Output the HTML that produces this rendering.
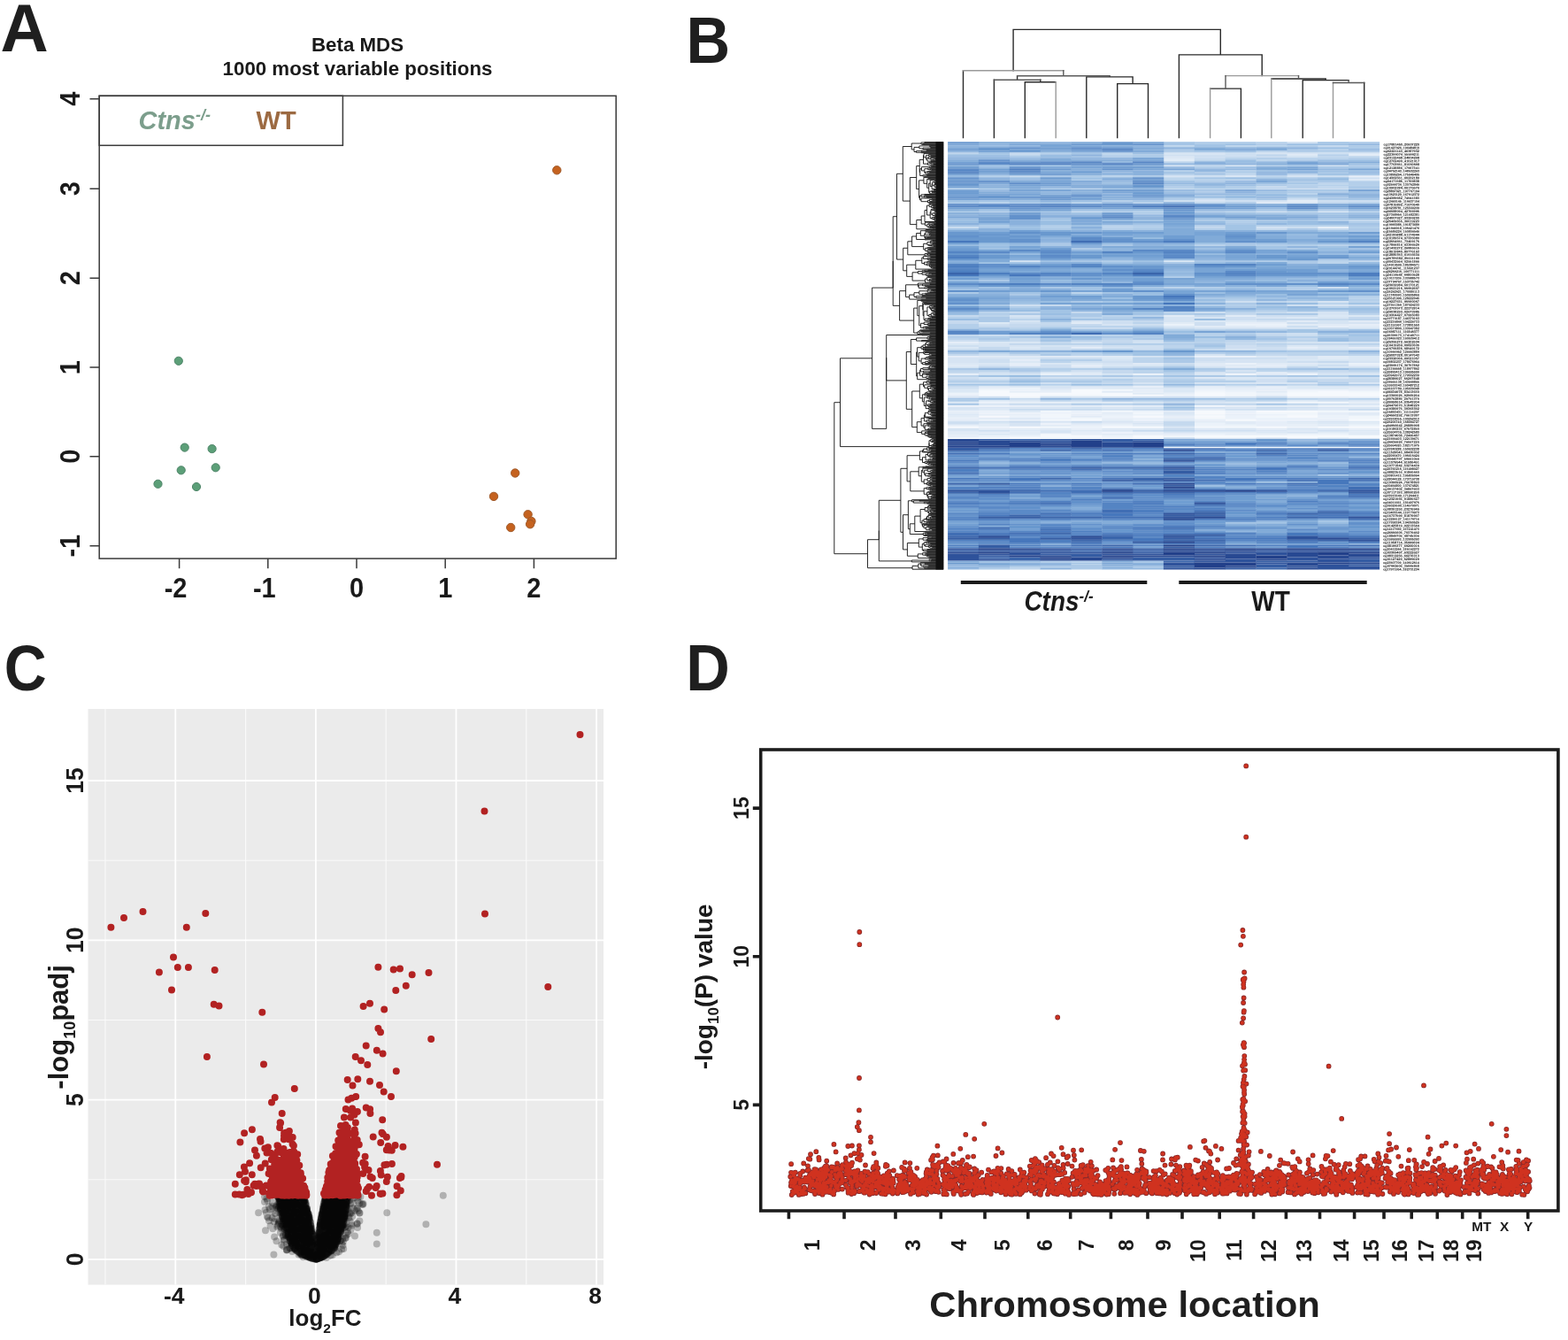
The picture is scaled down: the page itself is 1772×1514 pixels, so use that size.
<!DOCTYPE html>
<html><head><meta charset="utf-8"><style>
html,body{margin:0;padding:0;background:#fff;width:1772px;height:1514px;overflow:hidden}
svg{display:block}
</style></head><body>
<svg width="1772" height="1514" viewBox="0 0 1772 1514" font-family="'Liberation Sans',Arial,Helvetica,sans-serif">
<g id="A">
<text transform="translate(0.5 57.6) scale(1 1.02)" font-size="75" font-weight="bold" fill="#1f1f1f">A</text>
<text x="404" y="57.6" font-size="22.3" font-weight="bold" text-anchor="middle" fill="#1a1a1a">Beta MDS</text>
<text x="404" y="84.6" font-size="22.3" font-weight="bold" text-anchor="middle" fill="#1a1a1a">1000 most variable positions</text>
<rect x="112.2" y="108.3" width="584" height="522.8" fill="none" stroke="#3a3a3a" stroke-width="1.5"/>
<rect x="112.2" y="108.3" width="275.2" height="56" fill="none" stroke="#3a3a3a" stroke-width="1.5"/>
<text x="156.5" y="146.3" font-size="29" font-weight="bold" font-style="italic" fill="#7c9e8c">Ctns<tspan font-size="18" dy="-10.5">-/-</tspan></text>
<text x="289.6" y="146.3" font-size="29" font-weight="bold" fill="#9c6a42">WT</text>
<path d="M101.5 111.8H112.2M101.5 213.2H112.2M101.5 314.2H112.2M101.5 415.1H112.2M101.5 515.7H112.2M101.5 616.7H112.2M202.6 631.1V642.2M302.8 631.1V642.2M403 631.1V642.2M503.2 631.1V642.2M603.4 631.1V642.2" stroke="#3a3a3a" stroke-width="1.5" fill="none"/>
<text transform="translate(90.3 111.8) rotate(-90) scale(1 1.1)" font-size="29" font-weight="bold" text-anchor="middle" fill="#1a1a1a">4</text>
<text transform="translate(90.3 213.2) rotate(-90) scale(1 1.1)" font-size="29" font-weight="bold" text-anchor="middle" fill="#1a1a1a">3</text>
<text transform="translate(90.3 314.2) rotate(-90) scale(1 1.1)" font-size="29" font-weight="bold" text-anchor="middle" fill="#1a1a1a">2</text>
<text transform="translate(90.3 415.1) rotate(-90) scale(1 1.1)" font-size="29" font-weight="bold" text-anchor="middle" fill="#1a1a1a">1</text>
<text transform="translate(90.3 515.7) rotate(-90) scale(1 1.1)" font-size="29" font-weight="bold" text-anchor="middle" fill="#1a1a1a">0</text>
<text transform="translate(90.3 616.7) rotate(-90) scale(1 1.1)" font-size="29" font-weight="bold" text-anchor="middle" fill="#1a1a1a">-1</text>
<text transform="translate(198.6 674.6) scale(1 1.1)" font-size="29" font-weight="bold" text-anchor="middle" fill="#1a1a1a">-2</text>
<text transform="translate(298.8 674.6) scale(1 1.1)" font-size="29" font-weight="bold" text-anchor="middle" fill="#1a1a1a">-1</text>
<text transform="translate(403 674.6) scale(1 1.1)" font-size="29" font-weight="bold" text-anchor="middle" fill="#1a1a1a">0</text>
<text transform="translate(503.2 674.6) scale(1 1.1)" font-size="29" font-weight="bold" text-anchor="middle" fill="#1a1a1a">1</text>
<text transform="translate(603.4 674.6) scale(1 1.1)" font-size="29" font-weight="bold" text-anchor="middle" fill="#1a1a1a">2</text>
<circle cx="201.8" cy="407.8" r="4.6" fill="#5c9f78" stroke="#4f8569" stroke-width="1"/>
<circle cx="208.7" cy="505.6" r="4.6" fill="#5c9f78" stroke="#4f8569" stroke-width="1"/>
<circle cx="239.6" cy="507.1" r="4.6" fill="#5c9f78" stroke="#4f8569" stroke-width="1"/>
<circle cx="204.7" cy="531.3" r="4.6" fill="#5c9f78" stroke="#4f8569" stroke-width="1"/>
<circle cx="243.7" cy="528.3" r="4.6" fill="#5c9f78" stroke="#4f8569" stroke-width="1"/>
<circle cx="178.5" cy="546.8" r="4.6" fill="#5c9f78" stroke="#4f8569" stroke-width="1"/>
<circle cx="222" cy="550" r="4.6" fill="#5c9f78" stroke="#4f8569" stroke-width="1"/>
<circle cx="629.3" cy="192.3" r="4.7" fill="#c5621f" stroke="#a05a2a" stroke-width="1"/>
<circle cx="582.2" cy="534.5" r="4.7" fill="#c5621f" stroke="#a05a2a" stroke-width="1"/>
<circle cx="558" cy="560.9" r="4.7" fill="#c5621f" stroke="#a05a2a" stroke-width="1"/>
<circle cx="596.6" cy="581.3" r="4.7" fill="#c5621f" stroke="#a05a2a" stroke-width="1"/>
<circle cx="600.4" cy="588.9" r="4.7" fill="#c5621f" stroke="#a05a2a" stroke-width="1"/>
<circle cx="599.1" cy="592.2" r="4.7" fill="#c5621f" stroke="#a05a2a" stroke-width="1"/>
<circle cx="577.2" cy="596" r="4.7" fill="#c5621f" stroke="#a05a2a" stroke-width="1"/>
</g>
<g id="B">
<text transform="translate(775.4 70.9) scale(0.968 1.041)" font-size="71" font-weight="bold" fill="#1f1f1f">B</text>
<path d="M1158.3 155.5V92.7M1158.3 92.7H1193.2M1123.4 155.5V90.3M1175.8 90.3V92.7M1262.7 155.5V94.6M1262.7 94.6H1297.5M1297.5 94.6V155.5M1227.8 155.5V86.9M1227.8 86.9H1280.1M1280.1 86.9V94.6M1149.6 90.3V85.8M1253.9 85.8V86.9M1088.5 155.5V79.7M1367.6 100.1H1402.4M1402.4 100.1V155.5M1541.7 93.5V155.5M1472.2 155.5V90.6M1472.2 90.6H1524.1M1436.8 89H1498.2M1498.2 89V90.6M1332.4 155.5V61.9M1332.4 61.9H1426.2M1426.2 61.9V85.6M1145.1 79.7V33.4M1145.1 33.4H1379.3M1379.3 33.4V61.9" stroke="#2a2a2a" stroke-width="1.4" fill="none" stroke-linecap="square"/>
<path d="M1193.2 92.7V155.5M1088.5 79.7H1201.8M1367.6 155.5V100.1M1506.5 155.5V93.5M1436.8 155.5V89M1385 85.6H1467.5" stroke="#9a9a9a" stroke-width="1.4" fill="none" stroke-linecap="square"/>
<path d="M1123.4 90.3H1175.8M1149.6 85.8H1253.9M1201.8 79.7V85.8M1506.5 93.5H1541.7M1524.1 90.6V93.5M1385 100.1V85.6M1467.5 85.6V89" stroke="#5a5a5a" stroke-width="1.4" fill="none" stroke-linecap="square"/>
<g stroke-width="2.1" fill="none">
<path stroke="#f6f9fd" d="M1384.6 422.9h35.1M1454.3 422.9h35.1M1210.4 440.8h35.1M1105.9 442.8h35.1M1210.4 442.8h35.1M1489.1 442.8h35.1M1105.9 444.8h35.1M1140.8 444.8h35.1M1175.6 444.8h35.1M1210.4 444.8h35.1M1245.3 444.8h35.1M1349.8 444.8h35.1M1454.3 444.8h35.1M1489.1 444.8h35.1M1524 444.8h35.1M1105.9 446.8h35.1M1140.8 446.8h35.1M1245.3 446.8h35.1M1280.1 446.8h35.1M1349.8 446.8h35.1M1454.3 446.8h35.1M1489.1 446.8h35.1M1524 446.8h35.1M1349.8 464.8h35.1M1419.5 464.8h35.1M1454.3 464.8h35.1M1349.8 466.8h35.1M1105.9 470.8h35.1M1280.1 470.8h35.1M1349.8 470.8h35.1M1454.3 470.8h35.1M1210.4 474.8h35.1M1384.6 474.8h35.1M1524 474.8h35.1M1071.1 482.8h35.1M1140.8 482.8h35.1M1245.3 482.8h35.1M1280.1 482.8h35.1M1419.5 482.8h35.1M1489.1 482.8h35.1M1524 482.8h35.1M1175.6 492.7h35.1M1210.4 492.7h35.1M1280.1 492.7h35.1M1349.8 492.7h35.1M1384.6 492.7h35.1M1419.5 492.7h35.1M1489.1 492.7h35.1M1524 492.7h35.1M1140.8 494.7h35.1M1454.3 494.7h35.1M1524 494.7h35.1"/>
<path stroke="#f1f6fb" d="M1175.6 422.9h35.1M1280.1 422.9h35.1M1105.9 440.8h35.1M1245.3 440.8h35.1M1349.8 442.8h35.1M1454.3 442.8h35.1M1524 442.8h35.1M1384.6 444.8h35.1M1175.6 446.8h35.1M1210.4 446.8h35.1M1384.6 446.8h35.1M1140.8 448.8h35.1M1454.3 454.8h35.1M1489.1 454.8h35.1M1349.8 458.8h35.1M1175.6 464.8h35.1M1245.3 464.8h35.1M1489.1 464.8h35.1M1524 464.8h35.1M1280.1 466.8h35.1M1419.5 466.8h35.1M1454.3 466.8h35.1M1175.6 468.8h35.1M1349.8 468.8h35.1M1454.3 468.8h35.1M1175.6 470.8h35.1M1419.5 470.8h35.1M1524 470.8h35.1M1210.4 472.8h35.1M1349.8 472.8h35.1M1524 472.8h35.1M1175.6 474.8h35.1M1175.6 482.8h35.1M1349.8 482.8h35.1M1384.6 482.8h35.1M1175.6 490.8h35.1M1454.3 492.7h35.1M1280.1 494.7h35.1M1349.8 494.7h35.1M1384.6 494.7h35.1"/>
<path stroke="#ebf2fa" d="M1489.1 257.1h35.1M1314.9 367h35.1M1384.6 367h35.1M1419.5 367h35.1M1349.8 402.9h35.1M1384.6 402.9h35.1M1384.6 410.9h35.1M1524 410.9h35.1M1071.1 422.9h35.1M1140.8 438.8h35.1M1140.8 440.8h35.1M1349.8 440.8h35.1M1454.3 440.8h35.1M1489.1 440.8h35.1M1384.6 442.8h35.1M1071.1 444.8h35.1M1419.5 444.8h35.1M1314.9 446.8h35.1M1524 448.8h35.1M1105.9 454.8h35.1M1071.1 458.8h35.1M1105.9 458.8h35.1M1489.1 458.8h35.1M1524 458.8h35.1M1105.9 464.8h35.1M1210.4 464.8h35.1M1280.1 464.8h35.1M1384.6 464.8h35.1M1105.9 466.8h35.1M1140.8 466.8h35.1M1175.6 466.8h35.1M1210.4 466.8h35.1M1384.6 466.8h35.1M1280.1 468.8h35.1M1419.5 468.8h35.1M1140.8 470.8h35.1M1245.3 470.8h35.1M1384.6 470.8h35.1M1489.1 470.8h35.1M1175.6 472.8h35.1M1280.1 472.8h35.1M1384.6 472.8h35.1M1419.5 472.8h35.1M1454.3 472.8h35.1M1489.1 472.8h35.1M1105.9 474.8h35.1M1280.1 474.8h35.1M1419.5 474.8h35.1M1454.3 474.8h35.1M1175.6 478.8h35.1M1349.8 478.8h35.1M1245.3 480.8h35.1M1349.8 480.8h35.1M1384.6 480.8h35.1M1524 480.8h35.1M1105.9 482.8h35.1M1210.4 482.8h35.1M1454.3 482.8h35.1M1245.3 488.8h35.1M1349.8 490.8h35.1M1454.3 490.8h35.1M1489.1 490.8h35.1M1105.9 492.7h35.1M1140.8 492.7h35.1M1245.3 492.7h35.1M1105.9 494.7h35.1M1175.6 494.7h35.1M1210.4 494.7h35.1M1489.1 494.7h35.1"/>
<path stroke="#e6eef8" d="M1524 199.2h35.1M1454.3 227.2h35.1M1384.6 365h35.1M1419.5 365h35.1M1524 367h35.1M1419.5 369h35.1M1489.1 369h35.1M1071.1 386.9h35.1M1210.4 392.9h35.1M1454.3 392.9h35.1M1524 392.9h35.1M1071.1 402.9h35.1M1140.8 406.9h35.1M1140.8 410.9h35.1M1140.8 412.9h35.1M1210.4 412.9h35.1M1419.5 412.9h35.1M1524 412.9h35.1M1384.6 414.9h35.1M1210.4 422.9h35.1M1419.5 422.9h35.1M1280.1 436.8h35.1M1105.9 438.8h35.1M1349.8 438.8h35.1M1419.5 438.8h35.1M1280.1 440.8h35.1M1384.6 440.8h35.1M1419.5 440.8h35.1M1524 440.8h35.1M1140.8 442.8h35.1M1175.6 442.8h35.1M1280.1 442.8h35.1M1314.9 444.8h35.1M1071.1 446.8h35.1M1419.5 446.8h35.1M1454.3 448.8h35.1M1489.1 448.8h35.1M1140.8 454.8h35.1M1175.6 454.8h35.1M1419.5 454.8h35.1M1524 454.8h35.1M1140.8 458.8h35.1M1245.3 458.8h35.1M1384.6 458.8h35.1M1071.1 464.8h35.1M1489.1 466.8h35.1M1105.9 468.8h35.1M1140.8 468.8h35.1M1210.4 468.8h35.1M1245.3 468.8h35.1M1384.6 468.8h35.1M1489.1 468.8h35.1M1314.9 470.8h35.1M1071.1 472.8h35.1M1245.3 472.8h35.1M1140.8 474.8h35.1M1349.8 474.8h35.1M1489.1 474.8h35.1M1419.5 476.8h35.1M1419.5 478.8h35.1M1071.1 480.8h35.1M1210.4 480.8h35.1M1419.5 480.8h35.1M1454.3 480.8h35.1M1210.4 484.8h35.1M1524 484.8h35.1M1210.4 488.8h35.1M1280.1 488.8h35.1M1210.4 490.8h35.1M1280.1 490.8h35.1M1314.9 490.8h35.1M1384.6 490.8h35.1M1419.5 490.8h35.1M1071.1 492.7h35.1M1071.1 494.7h35.1M1245.3 494.7h35.1M1419.5 494.7h35.1"/>
<path stroke="#e1ebf6" d="M1524 175.3h35.1M1314.9 181.3h35.1M1314.9 357h35.1M1384.6 357h35.1M1454.3 363h35.1M1524 363h35.1M1210.4 365h35.1M1314.9 365h35.1M1454.3 367h35.1M1489.1 367h35.1M1349.8 369h35.1M1384.6 369h35.1M1524 369h35.1M1105.9 402.9h35.1M1140.8 402.9h35.1M1175.6 402.9h35.1M1210.4 402.9h35.1M1245.3 402.9h35.1M1489.1 402.9h35.1M1489.1 404.9h35.1M1280.1 410.9h35.1M1349.8 410.9h35.1M1419.5 410.9h35.1M1454.3 410.9h35.1M1071.1 412.9h35.1M1349.8 412.9h35.1M1384.6 412.9h35.1M1210.4 414.9h35.1M1419.5 414.9h35.1M1419.5 420.9h35.1M1349.8 422.9h35.1M1524 422.9h35.1M1349.8 426.9h35.1M1349.8 436.8h35.1M1419.5 436.8h35.1M1210.4 438.8h35.1M1384.6 438.8h35.1M1524 438.8h35.1M1175.6 440.8h35.1M1245.3 442.8h35.1M1419.5 442.8h35.1M1280.1 444.8h35.1M1210.4 454.8h35.1M1245.3 454.8h35.1M1175.6 458.8h35.1M1210.4 458.8h35.1M1280.1 458.8h35.1M1419.5 458.8h35.1M1454.3 458.8h35.1M1349.8 462.8h35.1M1314.9 464.8h35.1M1071.1 466.8h35.1M1245.3 466.8h35.1M1524 466.8h35.1M1524 468.8h35.1M1071.1 470.8h35.1M1210.4 470.8h35.1M1105.9 472.8h35.1M1314.9 472.8h35.1M1071.1 474.8h35.1M1245.3 474.8h35.1M1349.8 476.8h35.1M1384.6 476.8h35.1M1245.3 478.8h35.1M1384.6 478.8h35.1M1454.3 478.8h35.1M1524 478.8h35.1M1105.9 480.8h35.1M1175.6 480.8h35.1M1280.1 480.8h35.1M1489.1 480.8h35.1M1105.9 484.8h35.1M1140.8 484.8h35.1M1419.5 484.8h35.1M1071.1 488.8h35.1M1105.9 488.8h35.1M1140.8 488.8h35.1M1349.8 488.8h35.1M1384.6 488.8h35.1M1489.1 488.8h35.1M1524 488.8h35.1M1071.1 490.8h35.1M1140.8 490.8h35.1M1245.3 490.8h35.1M1524 490.8h35.1"/>
<path stroke="#dbe8f5" d="M1524 173.3h35.1M1454.3 175.3h35.1M1314.9 179.3h35.1M1384.6 199.2h35.1M1524 203.2h35.1M1419.5 229.2h35.1M1314.9 295.1h35.1M1489.1 357h35.1M1524 357h35.1M1454.3 359h35.1M1349.8 363h35.1M1384.6 363h35.1M1105.9 365h35.1M1314.9 369h35.1M1454.3 371h35.1M1524 371h35.1M1105.9 386.9h35.1M1140.8 386.9h35.1M1071.1 388.9h35.1M1454.3 390.9h35.1M1071.1 392.9h35.1M1140.8 392.9h35.1M1489.1 392.9h35.1M1384.6 394.9h35.1M1454.3 394.9h35.1M1419.5 402.9h35.1M1524 402.9h35.1M1140.8 404.9h35.1M1245.3 404.9h35.1M1524 404.9h35.1M1454.3 406.9h35.1M1489.1 406.9h35.1M1524 406.9h35.1M1140.8 408.9h35.1M1071.1 410.9h35.1M1105.9 410.9h35.1M1175.6 410.9h35.1M1210.4 410.9h35.1M1489.1 410.9h35.1M1245.3 412.9h35.1M1280.1 412.9h35.1M1454.3 412.9h35.1M1071.1 414.9h35.1M1489.1 414.9h35.1M1175.6 420.9h35.1M1210.4 420.9h35.1M1105.9 422.9h35.1M1140.8 422.9h35.1M1245.3 422.9h35.1M1489.1 422.9h35.1M1105.9 426.9h35.1M1384.6 426.9h35.1M1419.5 426.9h35.1M1489.1 426.9h35.1M1419.5 432.8h35.1M1524 432.8h35.1M1105.9 436.8h35.1M1454.3 436.8h35.1M1245.3 438.8h35.1M1280.1 438.8h35.1M1454.3 438.8h35.1M1489.1 438.8h35.1M1071.1 440.8h35.1M1314.9 440.8h35.1M1071.1 442.8h35.1M1314.9 442.8h35.1M1349.8 448.8h35.1M1105.9 452.8h35.1M1454.3 452.8h35.1M1071.1 454.8h35.1M1384.6 454.8h35.1M1105.9 462.8h35.1M1489.1 462.8h35.1M1140.8 464.8h35.1M1071.1 468.8h35.1M1314.9 468.8h35.1M1140.8 472.8h35.1M1314.9 474.8h35.1M1280.1 476.8h35.1M1454.3 476.8h35.1M1524 476.8h35.1M1105.9 478.8h35.1M1210.4 478.8h35.1M1489.1 478.8h35.1M1175.6 484.8h35.1M1245.3 484.8h35.1M1280.1 484.8h35.1M1349.8 484.8h35.1M1489.1 484.8h35.1M1140.8 486.8h35.1M1210.4 486.8h35.1M1454.3 486.8h35.1M1524 486.8h35.1M1419.5 488.8h35.1M1105.9 490.8h35.1M1314.9 492.7h35.1"/>
<path stroke="#d6e4f3" d="M1314.9 173.3h35.1M1349.8 173.3h35.1M1419.5 173.3h35.1M1454.3 173.3h35.1M1314.9 177.3h35.1M1314.9 199.2h35.1M1454.3 199.2h35.1M1349.8 227.2h35.1M1419.5 227.2h35.1M1454.3 229.2h35.1M1419.5 257.1h35.1M1140.8 295.1h35.1M1489.1 341h35.1M1489.1 345h35.1M1489.1 353h35.1M1489.1 355h35.1M1140.8 357h35.1M1314.9 359h35.1M1349.8 359h35.1M1419.5 359h35.1M1489.1 359h35.1M1314.9 361h35.1M1140.8 363h35.1M1210.4 363h35.1M1314.9 363h35.1M1419.5 363h35.1M1489.1 363h35.1M1489.1 365h35.1M1524 365h35.1M1245.3 367h35.1M1349.8 371h35.1M1384.6 371h35.1M1419.5 371h35.1M1210.4 386.9h35.1M1280.1 386.9h35.1M1454.3 386.9h35.1M1489.1 386.9h35.1M1524 386.9h35.1M1105.9 388.9h35.1M1105.9 390.9h35.1M1140.8 390.9h35.1M1175.6 390.9h35.1M1210.4 390.9h35.1M1489.1 390.9h35.1M1245.3 392.9h35.1M1140.8 394.9h35.1M1489.1 394.9h35.1M1524 394.9h35.1M1349.8 400.9h35.1M1280.1 402.9h35.1M1454.3 402.9h35.1M1071.1 404.9h35.1M1105.9 404.9h35.1M1454.3 404.9h35.1M1071.1 406.9h35.1M1245.3 406.9h35.1M1384.6 406.9h35.1M1419.5 406.9h35.1M1071.1 408.9h35.1M1349.8 408.9h35.1M1384.6 408.9h35.1M1419.5 408.9h35.1M1524 408.9h35.1M1245.3 410.9h35.1M1105.9 412.9h35.1M1349.8 414.9h35.1M1524 414.9h35.1M1384.6 418.9h35.1M1349.8 420.9h35.1M1454.3 420.9h35.1M1175.6 426.9h35.1M1210.4 426.9h35.1M1245.3 426.9h35.1M1280.1 426.9h35.1M1454.3 426.9h35.1M1384.6 428.9h35.1M1280.1 432.8h35.1M1349.8 432.8h35.1M1384.6 432.8h35.1M1454.3 432.8h35.1M1140.8 436.8h35.1M1175.6 436.8h35.1M1210.4 436.8h35.1M1245.3 436.8h35.1M1384.6 436.8h35.1M1489.1 436.8h35.1M1524 436.8h35.1M1175.6 438.8h35.1M1314.9 438.8h35.1M1071.1 448.8h35.1M1210.4 448.8h35.1M1245.3 448.8h35.1M1384.6 448.8h35.1M1140.8 452.8h35.1M1524 452.8h35.1M1280.1 454.8h35.1M1349.8 454.8h35.1M1105.9 456.8h35.1M1524 456.8h35.1M1071.1 460.8h35.1M1105.9 460.8h35.1M1140.8 460.8h35.1M1175.6 460.8h35.1M1245.3 460.8h35.1M1384.6 460.8h35.1M1489.1 460.8h35.1M1524 460.8h35.1M1071.1 462.8h35.1M1454.3 462.8h35.1M1314.9 466.8h35.1M1175.6 476.8h35.1M1245.3 476.8h35.1M1489.1 476.8h35.1M1140.8 478.8h35.1M1280.1 478.8h35.1M1140.8 480.8h35.1M1314.9 482.8h35.1M1071.1 484.8h35.1M1384.6 484.8h35.1M1454.3 484.8h35.1M1071.1 486.8h35.1M1175.6 486.8h35.1M1245.3 486.8h35.1M1419.5 486.8h35.1M1175.6 488.8h35.1M1314.9 488.8h35.1M1454.3 488.8h35.1M1314.9 494.7h35.1"/>
<path stroke="#cedff1" d="M1454.3 161.3h35.1M1384.6 173.3h35.1M1489.1 173.3h35.1M1314.9 175.3h35.1M1349.8 175.3h35.1M1384.6 175.3h35.1M1349.8 177.3h35.1M1454.3 177.3h35.1M1314.9 187.3h35.1M1384.6 187.3h35.1M1349.8 199.2h35.1M1489.1 199.2h35.1M1524 201.2h35.1M1349.8 225.2h35.1M1454.3 225.2h35.1M1314.9 227.2h35.1M1384.6 227.2h35.1M1489.1 227.2h35.1M1524 227.2h35.1M1489.1 239.2h35.1M1071.1 257.1h35.1M1454.3 257.1h35.1M1489.1 325h35.1M1384.6 341h35.1M1140.8 345h35.1M1454.3 345h35.1M1524 345h35.1M1349.8 353h35.1M1454.3 353h35.1M1419.5 357h35.1M1454.3 357h35.1M1140.8 359h35.1M1384.6 359h35.1M1384.6 361h35.1M1245.3 363h35.1M1140.8 365h35.1M1245.3 365h35.1M1349.8 365h35.1M1454.3 365h35.1M1105.9 367h35.1M1280.1 367h35.1M1349.8 367h35.1M1454.3 369h35.1M1210.4 371h35.1M1245.3 371h35.1M1314.9 371h35.1M1489.1 371h35.1M1454.3 376.9h35.1M1105.9 378.9h35.1M1454.3 378.9h35.1M1071.1 384.9h35.1M1280.1 384.9h35.1M1419.5 386.9h35.1M1071.1 390.9h35.1M1245.3 390.9h35.1M1280.1 390.9h35.1M1384.6 390.9h35.1M1524 390.9h35.1M1175.6 392.9h35.1M1280.1 392.9h35.1M1384.6 392.9h35.1M1419.5 392.9h35.1M1071.1 394.9h35.1M1175.6 394.9h35.1M1280.1 394.9h35.1M1349.8 394.9h35.1M1419.5 394.9h35.1M1105.9 400.9h35.1M1175.6 404.9h35.1M1210.4 404.9h35.1M1349.8 404.9h35.1M1384.6 404.9h35.1M1419.5 404.9h35.1M1105.9 406.9h35.1M1349.8 406.9h35.1M1105.9 408.9h35.1M1210.4 408.9h35.1M1245.3 408.9h35.1M1454.3 408.9h35.1M1314.9 410.9h35.1M1175.6 412.9h35.1M1489.1 412.9h35.1M1140.8 414.9h35.1M1175.6 414.9h35.1M1245.3 414.9h35.1M1210.4 418.9h35.1M1105.9 420.9h35.1M1384.6 420.9h35.1M1489.1 420.9h35.1M1524 420.9h35.1M1071.1 426.9h35.1M1524 426.9h35.1M1105.9 428.9h35.1M1419.5 428.9h35.1M1419.5 430.9h35.1M1175.6 432.8h35.1M1071.1 438.8h35.1M1105.9 448.8h35.1M1175.6 448.8h35.1M1280.1 448.8h35.1M1314.9 448.8h35.1M1489.1 452.8h35.1M1489.1 456.8h35.1M1210.4 460.8h35.1M1280.1 460.8h35.1M1349.8 460.8h35.1M1454.3 460.8h35.1M1245.3 462.8h35.1M1384.6 462.8h35.1M1419.5 462.8h35.1M1071.1 476.8h35.1M1105.9 476.8h35.1M1071.1 478.8h35.1M1105.9 486.8h35.1M1349.8 486.8h35.1M1384.6 486.8h35.1M1489.1 486.8h35.1"/>
<path stroke="#c5d9ee" d="M1489.1 165.3h35.1M1140.8 173.3h35.1M1384.6 177.3h35.1M1419.5 177.3h35.1M1349.8 179.3h35.1M1489.1 187.3h35.1M1140.8 199.2h35.1M1419.5 211.2h35.1M1419.5 213.2h35.1M1454.3 213.2h35.1M1489.1 213.2h35.1M1419.5 239.2h35.1M1524 249.2h35.1M1349.8 257.1h35.1M1419.5 259.1h35.1M1489.1 259.1h35.1M1524 295.1h35.1M1454.3 341h35.1M1175.6 345h35.1M1140.8 353h35.1M1210.4 353h35.1M1419.5 353h35.1M1384.6 355h35.1M1071.1 357h35.1M1349.8 357h35.1M1524 359h35.1M1419.5 361h35.1M1454.3 361h35.1M1489.1 361h35.1M1071.1 363h35.1M1280.1 363h35.1M1071.1 365h35.1M1175.6 365h35.1M1140.8 367h35.1M1175.6 367h35.1M1210.4 367h35.1M1105.9 369h35.1M1140.8 369h35.1M1419.5 376.9h35.1M1071.1 378.9h35.1M1140.8 378.9h35.1M1419.5 378.9h35.1M1140.8 382.9h35.1M1454.3 382.9h35.1M1140.8 384.9h35.1M1245.3 384.9h35.1M1175.6 386.9h35.1M1245.3 386.9h35.1M1384.6 386.9h35.1M1140.8 388.9h35.1M1384.6 388.9h35.1M1454.3 388.9h35.1M1489.1 388.9h35.1M1419.5 390.9h35.1M1105.9 392.9h35.1M1105.9 394.9h35.1M1210.4 394.9h35.1M1071.1 400.9h35.1M1140.8 400.9h35.1M1419.5 400.9h35.1M1314.9 402.9h35.1M1489.1 408.9h35.1M1314.9 412.9h35.1M1105.9 414.9h35.1M1280.1 414.9h35.1M1454.3 414.9h35.1M1245.3 418.9h35.1M1489.1 418.9h35.1M1071.1 420.9h35.1M1140.8 420.9h35.1M1245.3 420.9h35.1M1314.9 422.9h35.1M1140.8 426.9h35.1M1314.9 426.9h35.1M1071.1 428.9h35.1M1280.1 428.9h35.1M1349.8 428.9h35.1M1454.3 428.9h35.1M1489.1 428.9h35.1M1524 428.9h35.1M1280.1 430.9h35.1M1489.1 430.9h35.1M1524 430.9h35.1M1071.1 432.8h35.1M1105.9 432.8h35.1M1245.3 432.8h35.1M1071.1 436.8h35.1M1419.5 448.8h35.1M1140.8 450.8h35.1M1210.4 452.8h35.1M1349.8 452.8h35.1M1314.9 454.8h35.1M1140.8 456.8h35.1M1175.6 456.8h35.1M1419.5 460.8h35.1M1140.8 462.8h35.1M1175.6 462.8h35.1M1210.4 462.8h35.1M1280.1 462.8h35.1M1524 462.8h35.1M1140.8 476.8h35.1M1210.4 476.8h35.1M1314.9 476.8h35.1M1314.9 478.8h35.1M1314.9 480.8h35.1M1314.9 484.8h35.1M1280.1 486.8h35.1"/>
<path stroke="#bcd4ec" d="M1314.9 165.3h35.1M1384.6 165.3h35.1M1419.5 171.3h35.1M1071.1 173.3h35.1M1245.3 173.3h35.1M1140.8 175.3h35.1M1419.5 175.3h35.1M1489.1 177.3h35.1M1524 177.3h35.1M1349.8 181.3h35.1M1419.5 181.3h35.1M1314.9 183.3h35.1M1349.8 187.3h35.1M1384.6 197.2h35.1M1454.3 197.2h35.1M1245.3 199.2h35.1M1419.5 199.2h35.1M1314.9 201.2h35.1M1489.1 207.2h35.1M1489.1 211.2h35.1M1314.9 213.2h35.1M1349.8 229.2h35.1M1489.1 229.2h35.1M1210.4 239.2h35.1M1245.3 255.1h35.1M1349.8 255.1h35.1M1419.5 255.1h35.1M1454.3 255.1h35.1M1489.1 255.1h35.1M1245.3 257.1h35.1M1349.8 277.1h35.1M1489.1 277.1h35.1M1489.1 295.1h35.1M1489.1 297.1h35.1M1314.9 325h35.1M1210.4 331h35.1M1524 337h35.1M1419.5 341h35.1M1524 341h35.1M1489.1 343h35.1M1489.1 347h35.1M1105.9 353h35.1M1314.9 353h35.1M1384.6 353h35.1M1524 355h35.1M1105.9 357h35.1M1245.3 357h35.1M1280.1 357h35.1M1210.4 359h35.1M1140.8 361h35.1M1524 361h35.1M1280.1 365h35.1M1175.6 369h35.1M1210.4 369h35.1M1245.3 369h35.1M1280.1 369h35.1M1140.8 371h35.1M1349.8 372.9h35.1M1210.4 378.9h35.1M1245.3 378.9h35.1M1349.8 378.9h35.1M1489.1 378.9h35.1M1071.1 382.9h35.1M1245.3 382.9h35.1M1105.9 384.9h35.1M1210.4 384.9h35.1M1384.6 384.9h35.1M1454.3 384.9h35.1M1314.9 386.9h35.1M1349.8 386.9h35.1M1175.6 388.9h35.1M1210.4 388.9h35.1M1419.5 388.9h35.1M1524 388.9h35.1M1314.9 390.9h35.1M1314.9 392.9h35.1M1245.3 394.9h35.1M1105.9 398.9h35.1M1419.5 398.9h35.1M1454.3 398.9h35.1M1489.1 398.9h35.1M1210.4 400.9h35.1M1384.6 400.9h35.1M1454.3 400.9h35.1M1489.1 400.9h35.1M1524 400.9h35.1M1280.1 404.9h35.1M1280.1 406.9h35.1M1175.6 408.9h35.1M1280.1 408.9h35.1M1384.6 416.9h35.1M1071.1 418.9h35.1M1105.9 418.9h35.1M1175.6 418.9h35.1M1280.1 418.9h35.1M1419.5 418.9h35.1M1454.3 418.9h35.1M1524 418.9h35.1M1280.1 420.9h35.1M1071.1 424.9h35.1M1175.6 424.9h35.1M1210.4 424.9h35.1M1280.1 424.9h35.1M1384.6 424.9h35.1M1175.6 428.9h35.1M1210.4 428.9h35.1M1245.3 430.9h35.1M1210.4 432.8h35.1M1280.1 434.8h35.1M1454.3 434.8h35.1M1314.9 436.8h35.1M1489.1 450.8h35.1M1175.6 452.8h35.1M1384.6 452.8h35.1M1419.5 452.8h35.1M1349.8 456.8h35.1M1384.6 456.8h35.1M1454.3 456.8h35.1M1314.9 486.8h35.1M1140.8 642.5h35.1"/>
<path stroke="#b4cfea" d="M1419.5 161.3h35.1M1419.5 165.3h35.1M1489.1 169.3h35.1M1489.1 171.3h35.1M1175.6 173.3h35.1M1245.3 175.3h35.1M1489.1 175.3h35.1M1384.6 179.3h35.1M1454.3 179.3h35.1M1489.1 179.3h35.1M1314.9 193.2h35.1M1384.6 193.2h35.1M1384.6 195.2h35.1M1314.9 197.2h35.1M1105.9 199.2h35.1M1314.9 203.2h35.1M1349.8 203.2h35.1M1384.6 203.2h35.1M1524 205.2h35.1M1524 207.2h35.1M1454.3 209.2h35.1M1489.1 209.2h35.1M1524 209.2h35.1M1071.1 213.2h35.1M1349.8 213.2h35.1M1384.6 213.2h35.1M1454.3 219.2h35.1M1454.3 223.2h35.1M1384.6 225.2h35.1M1245.3 227.2h35.1M1105.9 229.2h35.1M1210.4 229.2h35.1M1280.1 229.2h35.1M1524 229.2h35.1M1280.1 239.2h35.1M1384.6 239.2h35.1M1454.3 239.2h35.1M1524 239.2h35.1M1280.1 241.2h35.1M1384.6 249.2h35.1M1489.1 249.2h35.1M1384.6 251.1h35.1M1524 251.1h35.1M1105.9 255.1h35.1M1175.6 255.1h35.1M1280.1 255.1h35.1M1175.6 257.1h35.1M1280.1 257.1h35.1M1524 257.1h35.1M1245.3 259.1h35.1M1349.8 259.1h35.1M1419.5 277.1h35.1M1454.3 277.1h35.1M1524 277.1h35.1M1210.4 281.1h35.1M1454.3 281.1h35.1M1245.3 295.1h35.1M1419.5 295.1h35.1M1314.9 313h35.1M1349.8 325h35.1M1454.3 325h35.1M1454.3 327h35.1M1524 335h35.1M1384.6 339h35.1M1524 339h35.1M1349.8 345h35.1M1384.6 345h35.1M1140.8 347h35.1M1419.5 351h35.1M1489.1 351h35.1M1105.9 355h35.1M1314.9 355h35.1M1071.1 359h35.1M1245.3 359h35.1M1071.1 367h35.1M1071.1 369h35.1M1071.1 371h35.1M1314.9 372.9h35.1M1384.6 372.9h35.1M1419.5 372.9h35.1M1489.1 372.9h35.1M1349.8 376.9h35.1M1384.6 376.9h35.1M1071.1 380.9h35.1M1105.9 380.9h35.1M1280.1 380.9h35.1M1454.3 380.9h35.1M1349.8 382.9h35.1M1349.8 384.9h35.1M1419.5 384.9h35.1M1245.3 388.9h35.1M1280.1 388.9h35.1M1314.9 388.9h35.1M1349.8 392.9h35.1M1175.6 398.9h35.1M1210.4 398.9h35.1M1349.8 398.9h35.1M1245.3 400.9h35.1M1175.6 406.9h35.1M1210.4 406.9h35.1M1175.6 416.9h35.1M1210.4 416.9h35.1M1419.5 416.9h35.1M1349.8 418.9h35.1M1314.9 420.9h35.1M1419.5 424.9h35.1M1489.1 424.9h35.1M1245.3 428.9h35.1M1314.9 428.9h35.1M1071.1 430.9h35.1M1105.9 430.9h35.1M1349.8 430.9h35.1M1384.6 430.9h35.1M1454.3 430.9h35.1M1140.8 432.8h35.1M1314.9 432.8h35.1M1489.1 432.8h35.1M1175.6 434.8h35.1M1384.6 434.8h35.1M1454.3 450.8h35.1M1524 450.8h35.1M1280.1 452.8h35.1M1245.3 456.8h35.1M1314.9 458.8h35.1M1210.4 634.5h35.1"/>
<path stroke="#acc9e7" d="M1349.8 161.3h35.1M1384.6 161.3h35.1M1524 161.3h35.1M1419.5 163.3h35.1M1454.3 165.3h35.1M1524 165.3h35.1M1314.9 171.3h35.1M1454.3 171.3h35.1M1524 171.3h35.1M1280.1 175.3h35.1M1245.3 177.3h35.1M1419.5 179.3h35.1M1524 179.3h35.1M1454.3 181.3h35.1M1419.5 187.3h35.1M1524 187.3h35.1M1349.8 189.3h35.1M1349.8 195.2h35.1M1349.8 197.2h35.1M1175.6 199.2h35.1M1210.4 199.2h35.1M1280.1 199.2h35.1M1454.3 201.2h35.1M1349.8 205.2h35.1M1454.3 205.2h35.1M1419.5 209.2h35.1M1314.9 211.2h35.1M1384.6 211.2h35.1M1454.3 211.2h35.1M1210.4 213.2h35.1M1524 213.2h35.1M1349.8 217.2h35.1M1454.3 217.2h35.1M1489.1 217.2h35.1M1489.1 223.2h35.1M1314.9 225.2h35.1M1489.1 225.2h35.1M1384.6 229.2h35.1M1489.1 237.2h35.1M1105.9 239.2h35.1M1245.3 239.2h35.1M1349.8 239.2h35.1M1349.8 249.2h35.1M1419.5 249.2h35.1M1384.6 253.1h35.1M1071.1 255.1h35.1M1524 255.1h35.1M1105.9 257.1h35.1M1175.6 259.1h35.1M1280.1 259.1h35.1M1454.3 259.1h35.1M1524 259.1h35.1M1524 261.1h35.1M1175.6 275.1h35.1M1384.6 275.1h35.1M1175.6 277.1h35.1M1245.3 277.1h35.1M1384.6 277.1h35.1M1524 281.1h35.1M1524 287.1h35.1M1489.1 293.1h35.1M1210.4 295.1h35.1M1349.8 295.1h35.1M1384.6 295.1h35.1M1454.3 295.1h35.1M1314.9 297.1h35.1M1454.3 297.1h35.1M1105.9 317h35.1M1175.6 325h35.1M1280.1 325h35.1M1419.5 325h35.1M1071.1 331h35.1M1140.8 333h35.1M1349.8 337h35.1M1384.6 337h35.1M1210.4 341h35.1M1349.8 341h35.1M1384.6 343h35.1M1105.9 345h35.1M1419.5 345h35.1M1384.6 347h35.1M1524 347h35.1M1524 353h35.1M1140.8 355h35.1M1210.4 355h35.1M1349.8 355h35.1M1419.5 355h35.1M1454.3 355h35.1M1175.6 357h35.1M1210.4 357h35.1M1105.9 359h35.1M1105.9 361h35.1M1245.3 361h35.1M1280.1 361h35.1M1105.9 363h35.1M1105.9 371h35.1M1105.9 372.9h35.1M1140.8 372.9h35.1M1314.9 376.9h35.1M1524 376.9h35.1M1175.6 378.9h35.1M1280.1 378.9h35.1M1384.6 378.9h35.1M1140.8 380.9h35.1M1245.3 380.9h35.1M1419.5 380.9h35.1M1489.1 380.9h35.1M1524 380.9h35.1M1105.9 382.9h35.1M1175.6 382.9h35.1M1280.1 382.9h35.1M1524 382.9h35.1M1524 384.9h35.1M1349.8 388.9h35.1M1454.3 396.9h35.1M1489.1 396.9h35.1M1071.1 398.9h35.1M1140.8 398.9h35.1M1384.6 398.9h35.1M1524 398.9h35.1M1175.6 400.9h35.1M1314.9 406.9h35.1M1314.9 408.9h35.1M1314.9 414.9h35.1M1071.1 416.9h35.1M1140.8 416.9h35.1M1245.3 416.9h35.1M1349.8 416.9h35.1M1524 416.9h35.1M1140.8 418.9h35.1M1245.3 424.9h35.1M1349.8 424.9h35.1M1454.3 424.9h35.1M1140.8 428.9h35.1M1175.6 430.9h35.1M1210.4 430.9h35.1M1314.9 430.9h35.1M1349.8 434.8h35.1M1419.5 434.8h35.1M1524 434.8h35.1M1384.6 450.8h35.1M1071.1 452.8h35.1M1245.3 452.8h35.1M1314.9 452.8h35.1M1210.4 456.8h35.1M1280.1 456.8h35.1M1314.9 462.8h35.1M1175.6 634.5h35.1M1210.4 638.5h35.1M1140.8 640.5h35.1M1175.6 640.5h35.1M1210.4 640.5h35.1M1105.9 642.5h35.1M1210.4 642.5h35.1"/>
<path stroke="#a3c4e5" d="M1314.9 161.3h35.1M1489.1 161.3h35.1M1314.9 163.3h35.1M1349.8 163.3h35.1M1349.8 165.3h35.1M1524 167.3h35.1M1314.9 169.3h35.1M1454.3 169.3h35.1M1349.8 171.3h35.1M1105.9 173.3h35.1M1210.4 173.3h35.1M1140.8 177.3h35.1M1280.1 177.3h35.1M1454.3 187.3h35.1M1489.1 189.3h35.1M1524 189.3h35.1M1489.1 195.2h35.1M1524 197.2h35.1M1349.8 201.2h35.1M1419.5 201.2h35.1M1210.4 203.2h35.1M1489.1 205.2h35.1M1454.3 207.2h35.1M1314.9 209.2h35.1M1524 211.2h35.1M1105.9 213.2h35.1M1175.6 213.2h35.1M1349.8 215.2h35.1M1454.3 215.2h35.1M1489.1 215.2h35.1M1419.5 217.2h35.1M1349.8 221.2h35.1M1349.8 223.2h35.1M1419.5 225.2h35.1M1524 225.2h35.1M1105.9 227.2h35.1M1280.1 227.2h35.1M1071.1 229.2h35.1M1140.8 229.2h35.1M1419.5 237.2h35.1M1071.1 239.2h35.1M1419.5 241.2h35.1M1454.3 241.2h35.1M1489.1 241.2h35.1M1489.1 247.2h35.1M1175.6 249.2h35.1M1280.1 249.2h35.1M1454.3 249.2h35.1M1419.5 251.1h35.1M1280.1 253.1h35.1M1524 253.1h35.1M1210.4 255.1h35.1M1384.6 255.1h35.1M1140.8 257.1h35.1M1384.6 257.1h35.1M1071.1 259.1h35.1M1384.6 259.1h35.1M1489.1 261.1h35.1M1349.8 275.1h35.1M1419.5 275.1h35.1M1105.9 277.1h35.1M1419.5 279.1h35.1M1489.1 279.1h35.1M1105.9 281.1h35.1M1349.8 281.1h35.1M1419.5 281.1h35.1M1175.6 295.1h35.1M1280.1 295.1h35.1M1105.9 297.1h35.1M1140.8 297.1h35.1M1245.3 297.1h35.1M1105.9 325h35.1M1210.4 325h35.1M1384.6 325h35.1M1071.1 327h35.1M1210.4 327h35.1M1349.8 327h35.1M1419.5 327h35.1M1140.8 331h35.1M1245.3 331h35.1M1489.1 335h35.1M1419.5 337h35.1M1454.3 339h35.1M1245.3 341h35.1M1140.8 343h35.1M1524 343h35.1M1245.3 345h35.1M1140.8 349h35.1M1419.5 349h35.1M1175.6 351h35.1M1384.6 351h35.1M1454.3 351h35.1M1524 351h35.1M1175.6 353h35.1M1280.1 353h35.1M1280.1 355h35.1M1175.6 359h35.1M1210.4 361h35.1M1175.6 363h35.1M1175.6 371h35.1M1280.1 371h35.1M1210.4 372.9h35.1M1245.3 372.9h35.1M1454.3 372.9h35.1M1524 372.9h35.1M1454.3 374.9h35.1M1489.1 376.9h35.1M1524 378.9h35.1M1210.4 382.9h35.1M1419.5 382.9h35.1M1175.6 384.9h35.1M1349.8 390.9h35.1M1314.9 394.9h35.1M1419.5 396.9h35.1M1245.3 398.9h35.1M1280.1 398.9h35.1M1280.1 400.9h35.1M1314.9 404.9h35.1M1280.1 416.9h35.1M1454.3 416.9h35.1M1314.9 418.9h35.1M1105.9 424.9h35.1M1314.9 424.9h35.1M1524 424.9h35.1M1071.1 434.8h35.1M1105.9 434.8h35.1M1245.3 434.8h35.1M1489.1 434.8h35.1M1071.1 450.8h35.1M1210.4 450.8h35.1M1071.1 456.8h35.1M1419.5 456.8h35.1M1489.1 536.7h35.1M1489.1 588.6h35.1M1384.6 590.6h35.1M1419.5 590.6h35.1M1280.1 634.5h35.1M1210.4 636.5h35.1M1280.1 640.5h35.1"/>
<path stroke="#9abee2" d="M1384.6 163.3h35.1M1454.3 163.3h35.1M1489.1 163.3h35.1M1489.1 167.3h35.1M1384.6 171.3h35.1M1280.1 173.3h35.1M1071.1 175.3h35.1M1105.9 175.3h35.1M1175.6 175.3h35.1M1175.6 177.3h35.1M1210.4 177.3h35.1M1384.6 181.3h35.1M1489.1 181.3h35.1M1524 181.3h35.1M1384.6 183.3h35.1M1524 185.3h35.1M1105.9 187.3h35.1M1175.6 187.3h35.1M1384.6 189.3h35.1M1419.5 193.2h35.1M1489.1 193.2h35.1M1524 193.2h35.1M1314.9 195.2h35.1M1489.1 197.2h35.1M1140.8 201.2h35.1M1210.4 201.2h35.1M1384.6 201.2h35.1M1489.1 201.2h35.1M1454.3 203.2h35.1M1489.1 203.2h35.1M1314.9 205.2h35.1M1245.3 207.2h35.1M1419.5 207.2h35.1M1384.6 209.2h35.1M1349.8 211.2h35.1M1245.3 213.2h35.1M1314.9 217.2h35.1M1524 217.2h35.1M1419.5 219.2h35.1M1384.6 221.2h35.1M1419.5 221.2h35.1M1454.3 221.2h35.1M1314.9 223.2h35.1M1384.6 223.2h35.1M1071.1 227.2h35.1M1140.8 227.2h35.1M1210.4 227.2h35.1M1175.6 229.2h35.1M1105.9 237.2h35.1M1210.4 237.2h35.1M1245.3 237.2h35.1M1280.1 237.2h35.1M1175.6 239.2h35.1M1210.4 241.2h35.1M1384.6 241.2h35.1M1524 241.2h35.1M1489.1 243.2h35.1M1175.6 247.2h35.1M1349.8 247.2h35.1M1524 247.2h35.1M1071.1 249.2h35.1M1245.3 249.2h35.1M1071.1 251.1h35.1M1175.6 251.1h35.1M1349.8 251.1h35.1M1454.3 251.1h35.1M1105.9 253.1h35.1M1175.6 253.1h35.1M1454.3 253.1h35.1M1489.1 253.1h35.1M1140.8 255.1h35.1M1140.8 259.1h35.1M1210.4 259.1h35.1M1454.3 265.1h35.1M1280.1 269.1h35.1M1105.9 275.1h35.1M1245.3 275.1h35.1M1454.3 275.1h35.1M1489.1 275.1h35.1M1524 275.1h35.1M1071.1 277.1h35.1M1140.8 277.1h35.1M1314.9 277.1h35.1M1105.9 279.1h35.1M1489.1 281.1h35.1M1489.1 283.1h35.1M1140.8 287.1h35.1M1349.8 287.1h35.1M1489.1 287.1h35.1M1314.9 293.1h35.1M1349.8 297.1h35.1M1524 297.1h35.1M1314.9 307.1h35.1M1314.9 311.1h35.1M1454.3 315h35.1M1489.1 315h35.1M1071.1 317h35.1M1175.6 317h35.1M1419.5 317h35.1M1454.3 319h35.1M1454.3 323h35.1M1524 325h35.1M1280.1 327h35.1M1489.1 327h35.1M1280.1 331h35.1M1349.8 331h35.1M1489.1 331h35.1M1524 331h35.1M1210.4 333h35.1M1280.1 333h35.1M1419.5 333h35.1M1384.6 335h35.1M1454.3 335h35.1M1245.3 337h35.1M1349.8 339h35.1M1489.1 339h35.1M1140.8 341h35.1M1175.6 341h35.1M1280.1 341h35.1M1454.3 343h35.1M1071.1 345h35.1M1210.4 345h35.1M1419.5 347h35.1M1454.3 349h35.1M1489.1 349h35.1M1524 349h35.1M1140.8 351h35.1M1071.1 355h35.1M1175.6 355h35.1M1071.1 361h35.1M1349.8 361h35.1M1314.9 374.9h35.1M1210.4 380.9h35.1M1349.8 380.9h35.1M1489.1 382.9h35.1M1314.9 384.9h35.1M1489.1 384.9h35.1M1489.1 416.9h35.1M1140.8 424.9h35.1M1140.8 430.9h35.1M1140.8 434.8h35.1M1210.4 434.8h35.1M1105.9 450.8h35.1M1349.8 450.8h35.1M1419.5 450.8h35.1M1314.9 460.8h35.1M1419.5 544.7h35.1M1349.8 548.7h35.1M1489.1 590.6h35.1M1105.9 634.5h35.1M1140.8 634.5h35.1"/>
<path stroke="#92b7df" d="M1524 163.3h35.1M1105.9 165.3h35.1M1524 169.3h35.1M1071.1 177.3h35.1M1105.9 177.3h35.1M1140.8 179.3h35.1M1419.5 183.3h35.1M1314.9 185.3h35.1M1140.8 187.3h35.1M1105.9 189.3h35.1M1314.9 189.3h35.1M1349.8 191.2h35.1M1384.6 191.2h35.1M1489.1 191.2h35.1M1349.8 193.2h35.1M1454.3 193.2h35.1M1245.3 195.2h35.1M1454.3 195.2h35.1M1524 195.2h35.1M1245.3 197.2h35.1M1419.5 197.2h35.1M1071.1 199.2h35.1M1140.8 203.2h35.1M1245.3 205.2h35.1M1384.6 205.2h35.1M1314.9 207.2h35.1M1349.8 207.2h35.1M1349.8 209.2h35.1M1105.9 215.2h35.1M1314.9 215.2h35.1M1419.5 215.2h35.1M1175.6 217.2h35.1M1175.6 219.2h35.1M1349.8 219.2h35.1M1384.6 219.2h35.1M1489.1 221.2h35.1M1419.5 223.2h35.1M1524 223.2h35.1M1245.3 229.2h35.1M1419.5 235.2h35.1M1349.8 237.2h35.1M1384.6 237.2h35.1M1524 237.2h35.1M1140.8 239.2h35.1M1175.6 241.2h35.1M1349.8 241.2h35.1M1280.1 243.2h35.1M1489.1 245.2h35.1M1071.1 247.2h35.1M1489.1 251.1h35.1M1245.3 253.1h35.1M1349.8 253.1h35.1M1419.5 253.1h35.1M1419.5 261.1h35.1M1454.3 261.1h35.1M1524 265.1h35.1M1454.3 267.1h35.1M1175.6 269.1h35.1M1454.3 269.1h35.1M1489.1 269.1h35.1M1175.6 273.1h35.1M1140.8 275.1h35.1M1280.1 277.1h35.1M1349.8 279.1h35.1M1454.3 279.1h35.1M1245.3 281.1h35.1M1210.4 283.1h35.1M1524 289.1h35.1M1210.4 293.1h35.1M1245.3 293.1h35.1M1349.8 293.1h35.1M1524 293.1h35.1M1280.1 297.1h35.1M1314.9 305.1h35.1M1489.1 305.1h35.1M1314.9 309.1h35.1M1489.1 313h35.1M1105.9 315h35.1M1419.5 315h35.1M1384.6 317h35.1M1489.1 317h35.1M1524 317h35.1M1175.6 319h35.1M1245.3 319h35.1M1349.8 319h35.1M1314.9 323h35.1M1071.1 325h35.1M1245.3 325h35.1M1105.9 327h35.1M1314.9 327h35.1M1384.6 327h35.1M1105.9 331h35.1M1175.6 331h35.1M1140.8 335h35.1M1349.8 335h35.1M1419.5 335h35.1M1454.3 337h35.1M1489.1 337h35.1M1140.8 339h35.1M1419.5 339h35.1M1280.1 345h35.1M1175.6 347h35.1M1349.8 347h35.1M1454.3 347h35.1M1105.9 351h35.1M1210.4 351h35.1M1071.1 353h35.1M1245.3 353h35.1M1280.1 359h35.1M1419.5 374.9h35.1M1384.6 382.9h35.1M1071.1 396.9h35.1M1280.1 396.9h35.1M1349.8 396.9h35.1M1384.6 396.9h35.1M1524 396.9h35.1M1314.9 400.9h35.1M1105.9 416.9h35.1M1314.9 434.8h35.1M1280.1 450.8h35.1M1314.9 450.8h35.1M1454.3 496.7h35.1M1105.9 522.7h35.1M1245.3 522.7h35.1M1280.1 522.7h35.1M1489.1 522.7h35.1M1384.6 524.7h35.1M1384.6 600.6h35.1M1175.6 636.5h35.1M1175.6 638.5h35.1M1071.1 640.5h35.1M1105.9 640.5h35.1M1245.3 640.5h35.1M1071.1 642.5h35.1M1245.3 642.5h35.1M1280.1 642.5h35.1"/>
<path stroke="#8ab1dc" d="M1175.6 161.3h35.1M1105.9 163.3h35.1M1071.1 165.3h35.1M1140.8 165.3h35.1M1280.1 165.3h35.1M1314.9 167.3h35.1M1384.6 167.3h35.1M1454.3 167.3h35.1M1071.1 171.3h35.1M1210.4 175.3h35.1M1071.1 179.3h35.1M1105.9 179.3h35.1M1210.4 179.3h35.1M1245.3 179.3h35.1M1245.3 183.3h35.1M1349.8 183.3h35.1M1489.1 183.3h35.1M1349.8 185.3h35.1M1384.6 185.3h35.1M1245.3 193.2h35.1M1280.1 193.2h35.1M1280.1 195.2h35.1M1419.5 195.2h35.1M1105.9 197.2h35.1M1280.1 197.2h35.1M1105.9 201.2h35.1M1245.3 201.2h35.1M1245.3 203.2h35.1M1210.4 207.2h35.1M1384.6 207.2h35.1M1105.9 209.2h35.1M1175.6 211.2h35.1M1280.1 213.2h35.1M1210.4 217.2h35.1M1384.6 217.2h35.1M1245.3 219.2h35.1M1314.9 219.2h35.1M1524 219.2h35.1M1245.3 221.2h35.1M1245.3 225.2h35.1M1280.1 225.2h35.1M1175.6 227.2h35.1M1314.9 229.2h35.1M1489.1 235.2h35.1M1105.9 241.2h35.1M1071.1 243.2h35.1M1175.6 243.2h35.1M1210.4 243.2h35.1M1454.3 243.2h35.1M1524 243.2h35.1M1175.6 245.2h35.1M1280.1 245.2h35.1M1454.3 247.2h35.1M1140.8 249.2h35.1M1140.8 251.1h35.1M1210.4 251.1h35.1M1280.1 251.1h35.1M1071.1 253.1h35.1M1140.8 253.1h35.1M1210.4 257.1h35.1M1314.9 257.1h35.1M1105.9 259.1h35.1M1105.9 261.1h35.1M1210.4 261.1h35.1M1280.1 261.1h35.1M1384.6 261.1h35.1M1210.4 265.1h35.1M1419.5 265.1h35.1M1489.1 265.1h35.1M1245.3 267.1h35.1M1175.6 271.1h35.1M1454.3 273.1h35.1M1280.1 275.1h35.1M1314.9 275.1h35.1M1210.4 277.1h35.1M1175.6 279.1h35.1M1210.4 279.1h35.1M1280.1 281.1h35.1M1245.3 283.1h35.1M1349.8 283.1h35.1M1524 283.1h35.1M1489.1 285.1h35.1M1419.5 287.1h35.1M1245.3 291.1h35.1M1349.8 291.1h35.1M1140.8 293.1h35.1M1071.1 295.1h35.1M1175.6 297.1h35.1M1210.4 297.1h35.1M1384.6 297.1h35.1M1314.9 299.1h35.1M1454.3 299.1h35.1M1314.9 303.1h35.1M1210.4 305.1h35.1M1489.1 307.1h35.1M1175.6 313h35.1M1419.5 313h35.1M1454.3 313h35.1M1210.4 317h35.1M1349.8 317h35.1M1454.3 317h35.1M1105.9 319h35.1M1384.6 323h35.1M1140.8 325h35.1M1175.6 327h35.1M1524 327h35.1M1071.1 333h35.1M1105.9 333h35.1M1245.3 333h35.1M1384.6 333h35.1M1524 333h35.1M1140.8 337h35.1M1105.9 341h35.1M1349.8 343h35.1M1419.5 343h35.1M1314.9 345h35.1M1105.9 347h35.1M1210.4 347h35.1M1175.6 349h35.1M1384.6 349h35.1M1349.8 351h35.1M1175.6 361h35.1M1071.1 372.9h35.1M1280.1 372.9h35.1M1384.6 374.9h35.1M1489.1 374.9h35.1M1524 374.9h35.1M1384.6 380.9h35.1M1314.9 382.9h35.1M1140.8 396.9h35.1M1175.6 396.9h35.1M1314.9 398.9h35.1M1175.6 450.8h35.1M1245.3 450.8h35.1M1314.9 456.8h35.1M1349.8 496.7h35.1M1384.6 496.7h35.1M1454.3 498.7h35.1M1524 516.7h35.1M1384.6 522.7h35.1M1105.9 536.7h35.1M1524 536.7h35.1M1454.3 560.6h35.1M1419.5 588.6h35.1M1175.6 590.6h35.1M1384.6 592.6h35.1M1524 614.5h35.1M1140.8 636.5h35.1M1280.1 636.5h35.1M1071.1 638.5h35.1M1140.8 638.5h35.1M1280.1 638.5h35.1M1175.6 642.5h35.1"/>
<path stroke="#81abd8" d="M1105.9 161.3h35.1M1140.8 161.3h35.1M1210.4 161.3h35.1M1245.3 165.3h35.1M1349.8 167.3h35.1M1419.5 167.3h35.1M1280.1 169.3h35.1M1349.8 169.3h35.1M1419.5 169.3h35.1M1175.6 171.3h35.1M1175.6 179.3h35.1M1071.1 181.3h35.1M1140.8 181.3h35.1M1175.6 181.3h35.1M1210.4 181.3h35.1M1245.3 181.3h35.1M1524 183.3h35.1M1419.5 185.3h35.1M1071.1 187.3h35.1M1280.1 187.3h35.1M1419.5 189.3h35.1M1210.4 191.2h35.1M1419.5 191.2h35.1M1175.6 193.2h35.1M1210.4 197.2h35.1M1105.9 203.2h35.1M1419.5 203.2h35.1M1210.4 209.2h35.1M1245.3 209.2h35.1M1105.9 211.2h35.1M1140.8 213.2h35.1M1210.4 215.2h35.1M1105.9 217.2h35.1M1140.8 217.2h35.1M1489.1 219.2h35.1M1524 221.2h35.1M1245.3 223.2h35.1M1140.8 225.2h35.1M1419.5 231.2h35.1M1071.1 237.2h35.1M1454.3 237.2h35.1M1071.1 241.2h35.1M1105.9 243.2h35.1M1384.6 243.2h35.1M1419.5 243.2h35.1M1524 245.2h35.1M1280.1 247.2h35.1M1384.6 247.2h35.1M1245.3 251.1h35.1M1314.9 251.1h35.1M1210.4 253.1h35.1M1314.9 255.1h35.1M1314.9 259.1h35.1M1071.1 261.1h35.1M1175.6 261.1h35.1M1245.3 261.1h35.1M1314.9 261.1h35.1M1349.8 261.1h35.1M1314.9 263.1h35.1M1454.3 263.1h35.1M1489.1 263.1h35.1M1280.1 265.1h35.1M1314.9 265.1h35.1M1175.6 267.1h35.1M1280.1 267.1h35.1M1349.8 267.1h35.1M1419.5 267.1h35.1M1349.8 269.1h35.1M1419.5 269.1h35.1M1524 269.1h35.1M1349.8 271.1h35.1M1454.3 271.1h35.1M1349.8 273.1h35.1M1245.3 279.1h35.1M1280.1 279.1h35.1M1314.9 279.1h35.1M1384.6 279.1h35.1M1140.8 281.1h35.1M1314.9 281.1h35.1M1454.3 283.1h35.1M1105.9 287.1h35.1M1210.4 287.1h35.1M1384.6 287.1h35.1M1454.3 287.1h35.1M1349.8 289.1h35.1M1140.8 291.1h35.1M1524 291.1h35.1M1105.9 293.1h35.1M1280.1 293.1h35.1M1384.6 293.1h35.1M1419.5 293.1h35.1M1105.9 295.1h35.1M1071.1 297.1h35.1M1419.5 297.1h35.1M1245.3 299.1h35.1M1280.1 299.1h35.1M1489.1 299.1h35.1M1524 299.1h35.1M1314.9 301.1h35.1M1419.5 301.1h35.1M1454.3 301.1h35.1M1210.4 303.1h35.1M1384.6 303.1h35.1M1454.3 303.1h35.1M1175.6 305.1h35.1M1524 305.1h35.1M1140.8 307.1h35.1M1210.4 307.1h35.1M1071.1 313h35.1M1105.9 313h35.1M1210.4 313h35.1M1245.3 313h35.1M1280.1 313h35.1M1175.6 315h35.1M1349.8 315h35.1M1384.6 315h35.1M1245.3 317h35.1M1314.9 317h35.1M1210.4 319h35.1M1314.9 319h35.1M1419.5 319h35.1M1280.1 323h35.1M1349.8 323h35.1M1524 323h35.1M1140.8 327h35.1M1384.6 331h35.1M1419.5 331h35.1M1454.3 331h35.1M1175.6 333h35.1M1349.8 333h35.1M1489.1 333h35.1M1071.1 335h35.1M1105.9 335h35.1M1245.3 335h35.1M1175.6 337h35.1M1105.9 339h35.1M1175.6 339h35.1M1210.4 339h35.1M1245.3 339h35.1M1314.9 341h35.1M1105.9 343h35.1M1245.3 347h35.1M1280.1 347h35.1M1245.3 351h35.1M1280.1 351h35.1M1245.3 355h35.1M1175.6 372.9h35.1M1245.3 374.9h35.1M1314.9 378.9h35.1M1175.6 380.9h35.1M1314.9 380.9h35.1M1105.9 396.9h35.1M1314.9 416.9h35.1M1489.1 496.7h35.1M1524 496.7h35.1M1175.6 510.7h35.1M1349.8 510.7h35.1M1524 510.7h35.1M1280.1 518.7h35.1M1140.8 522.7h35.1M1349.8 522.7h35.1M1454.3 522.7h35.1M1105.9 524.7h35.1M1280.1 524.7h35.1M1419.5 524.7h35.1M1489.1 524.7h35.1M1454.3 544.7h35.1M1175.6 548.7h35.1M1384.6 550.7h35.1M1454.3 558.6h35.1M1419.5 560.6h35.1M1140.8 562.6h35.1M1419.5 562.6h35.1M1419.5 566.6h35.1M1210.4 574.6h35.1M1210.4 588.6h35.1M1280.1 588.6h35.1M1454.3 588.6h35.1M1245.3 590.6h35.1M1280.1 590.6h35.1M1419.5 592.6h35.1M1489.1 592.6h35.1M1105.9 594.6h35.1M1454.3 596.6h35.1M1349.8 598.6h35.1M1419.5 598.6h35.1M1419.5 600.6h35.1M1175.6 614.5h35.1M1384.6 614.5h35.1M1071.1 634.5h35.1M1245.3 634.5h35.1M1105.9 636.5h35.1M1105.9 638.5h35.1M1245.3 638.5h35.1"/>
<path stroke="#78a4d5" d="M1280.1 161.3h35.1M1071.1 163.3h35.1M1140.8 163.3h35.1M1175.6 163.3h35.1M1175.6 165.3h35.1M1210.4 165.3h35.1M1071.1 167.3h35.1M1280.1 167.3h35.1M1384.6 169.3h35.1M1210.4 171.3h35.1M1280.1 171.3h35.1M1280.1 181.3h35.1M1454.3 183.3h35.1M1454.3 185.3h35.1M1489.1 185.3h35.1M1210.4 187.3h35.1M1245.3 187.3h35.1M1175.6 189.3h35.1M1454.3 189.3h35.1M1280.1 191.2h35.1M1314.9 191.2h35.1M1524 191.2h35.1M1210.4 193.2h35.1M1210.4 195.2h35.1M1175.6 203.2h35.1M1140.8 205.2h35.1M1210.4 205.2h35.1M1105.9 207.2h35.1M1140.8 211.2h35.1M1210.4 211.2h35.1M1384.6 215.2h35.1M1245.3 217.2h35.1M1105.9 219.2h35.1M1210.4 219.2h35.1M1140.8 221.2h35.1M1314.9 221.2h35.1M1210.4 223.2h35.1M1280.1 223.2h35.1M1105.9 225.2h35.1M1210.4 225.2h35.1M1384.6 231.2h35.1M1489.1 231.2h35.1M1210.4 235.2h35.1M1349.8 243.2h35.1M1071.1 245.2h35.1M1105.9 245.2h35.1M1349.8 245.2h35.1M1419.5 245.2h35.1M1454.3 245.2h35.1M1105.9 249.2h35.1M1210.4 249.2h35.1M1314.9 249.2h35.1M1105.9 251.1h35.1M1314.9 253.1h35.1M1349.8 263.1h35.1M1140.8 265.1h35.1M1245.3 265.1h35.1M1349.8 265.1h35.1M1489.1 267.1h35.1M1489.1 271.1h35.1M1071.1 275.1h35.1M1071.1 279.1h35.1M1140.8 279.1h35.1M1524 279.1h35.1M1384.6 281.1h35.1M1105.9 283.1h35.1M1419.5 283.1h35.1M1140.8 285.1h35.1M1349.8 285.1h35.1M1419.5 285.1h35.1M1245.3 287.1h35.1M1280.1 287.1h35.1M1140.8 289.1h35.1M1384.6 289.1h35.1M1454.3 289.1h35.1M1280.1 291.1h35.1M1384.6 291.1h35.1M1175.6 293.1h35.1M1140.8 299.1h35.1M1489.1 301.1h35.1M1175.6 303.1h35.1M1349.8 303.1h35.1M1419.5 303.1h35.1M1489.1 303.1h35.1M1105.9 305.1h35.1M1140.8 305.1h35.1M1349.8 305.1h35.1M1175.6 307.1h35.1M1349.8 307.1h35.1M1524 307.1h35.1M1140.8 313h35.1M1349.8 313h35.1M1384.6 313h35.1M1524 313h35.1M1245.3 315h35.1M1314.9 315h35.1M1140.8 317h35.1M1071.1 319h35.1M1140.8 319h35.1M1384.6 319h35.1M1524 319h35.1M1314.9 321h35.1M1349.8 321h35.1M1071.1 323h35.1M1175.6 323h35.1M1210.4 323h35.1M1419.5 323h35.1M1140.8 329h35.1M1210.4 329h35.1M1314.9 329h35.1M1349.8 329h35.1M1419.5 329h35.1M1454.3 329h35.1M1314.9 331h35.1M1454.3 333h35.1M1105.9 337h35.1M1210.4 337h35.1M1175.6 343h35.1M1210.4 343h35.1M1245.3 343h35.1M1210.4 349h35.1M1349.8 349h35.1M1140.8 374.9h35.1M1210.4 374.9h35.1M1349.8 374.9h35.1M1210.4 396.9h35.1M1314.9 496.7h35.1M1384.6 498.7h35.1M1489.1 498.7h35.1M1140.8 510.7h35.1M1280.1 510.7h35.1M1384.6 510.7h35.1M1280.1 514.7h35.1M1210.4 522.7h35.1M1419.5 522.7h35.1M1454.3 524.7h35.1M1384.6 526.7h35.1M1489.1 526.7h35.1M1105.9 532.7h35.1M1454.3 532.7h35.1M1175.6 536.7h35.1M1210.4 536.7h35.1M1280.1 536.7h35.1M1349.8 536.7h35.1M1419.5 536.7h35.1M1454.3 536.7h35.1M1071.1 538.7h35.1M1210.4 538.7h35.1M1140.8 544.7h35.1M1140.8 558.6h35.1M1419.5 558.6h35.1M1489.1 558.6h35.1M1210.4 560.6h35.1M1524 564.6h35.1M1210.4 572.6h35.1M1175.6 574.6h35.1M1419.5 574.6h35.1M1454.3 576.6h35.1M1489.1 586.6h35.1M1175.6 588.6h35.1M1245.3 588.6h35.1M1524 588.6h35.1M1071.1 590.6h35.1M1140.8 590.6h35.1M1210.4 590.6h35.1M1454.3 590.6h35.1M1419.5 594.6h35.1M1454.3 594.6h35.1M1489.1 594.6h35.1M1384.6 598.6h35.1M1489.1 600.6h35.1M1245.3 636.5h35.1"/>
<path stroke="#709ed2" d="M1140.8 169.3h35.1M1175.6 169.3h35.1M1105.9 171.3h35.1M1140.8 171.3h35.1M1280.1 179.3h35.1M1071.1 183.3h35.1M1210.4 189.3h35.1M1105.9 191.2h35.1M1454.3 191.2h35.1M1105.9 195.2h35.1M1175.6 195.2h35.1M1071.1 197.2h35.1M1140.8 197.2h35.1M1175.6 205.2h35.1M1419.5 205.2h35.1M1140.8 209.2h35.1M1175.6 209.2h35.1M1071.1 211.2h35.1M1245.3 211.2h35.1M1071.1 215.2h35.1M1140.8 215.2h35.1M1175.6 215.2h35.1M1524 215.2h35.1M1071.1 217.2h35.1M1280.1 217.2h35.1M1071.1 219.2h35.1M1140.8 219.2h35.1M1280.1 219.2h35.1M1071.1 225.2h35.1M1524 231.2h35.1M1419.5 233.2h35.1M1489.1 233.2h35.1M1071.1 235.2h35.1M1105.9 235.2h35.1M1245.3 235.2h35.1M1384.6 235.2h35.1M1524 235.2h35.1M1175.6 237.2h35.1M1314.9 239.2h35.1M1314.9 241.2h35.1M1210.4 245.2h35.1M1210.4 247.2h35.1M1419.5 247.2h35.1M1140.8 261.1h35.1M1105.9 263.1h35.1M1245.3 263.1h35.1M1280.1 263.1h35.1M1384.6 263.1h35.1M1524 263.1h35.1M1105.9 267.1h35.1M1210.4 267.1h35.1M1314.9 267.1h35.1M1524 267.1h35.1M1140.8 269.1h35.1M1314.9 269.1h35.1M1280.1 271.1h35.1M1384.6 271.1h35.1M1419.5 271.1h35.1M1210.4 275.1h35.1M1071.1 281.1h35.1M1175.6 281.1h35.1M1210.4 285.1h35.1M1524 285.1h35.1M1245.3 289.1h35.1M1280.1 289.1h35.1M1489.1 289.1h35.1M1454.3 291.1h35.1M1175.6 299.1h35.1M1419.5 299.1h35.1M1105.9 303.1h35.1M1140.8 303.1h35.1M1245.3 303.1h35.1M1524 303.1h35.1M1384.6 305.1h35.1M1419.5 305.1h35.1M1454.3 305.1h35.1M1105.9 307.1h35.1M1245.3 307.1h35.1M1454.3 307.1h35.1M1489.1 311.1h35.1M1071.1 315h35.1M1140.8 315h35.1M1280.1 315h35.1M1524 315h35.1M1280.1 317h35.1M1489.1 319h35.1M1489.1 323h35.1M1245.3 327h35.1M1105.9 329h35.1M1384.6 329h35.1M1175.6 335h35.1M1210.4 335h35.1M1280.1 339h35.1M1071.1 341h35.1M1280.1 343h35.1M1071.1 347h35.1M1105.9 349h35.1M1245.3 349h35.1M1071.1 351h35.1M1105.9 374.9h35.1M1105.9 376.9h35.1M1314.9 498.7h35.1M1349.8 498.7h35.1M1454.3 500.7h35.1M1105.9 514.7h35.1M1384.6 514.7h35.1M1524 514.7h35.1M1140.8 516.7h35.1M1210.4 516.7h35.1M1384.6 516.7h35.1M1105.9 520.7h35.1M1280.1 520.7h35.1M1140.8 524.7h35.1M1175.6 524.7h35.1M1210.4 524.7h35.1M1314.9 524.7h35.1M1349.8 524.7h35.1M1349.8 526.7h35.1M1105.9 530.7h35.1M1489.1 532.7h35.1M1140.8 536.7h35.1M1245.3 536.7h35.1M1384.6 536.7h35.1M1175.6 544.7h35.1M1210.4 544.7h35.1M1384.6 544.7h35.1M1071.1 548.7h35.1M1245.3 548.7h35.1M1280.1 548.7h35.1M1384.6 548.7h35.1M1419.5 548.7h35.1M1280.1 550.7h35.1M1349.8 550.7h35.1M1384.6 560.6h35.1M1384.6 562.6h35.1M1454.3 562.6h35.1M1175.6 564.6h35.1M1245.3 564.6h35.1M1384.6 564.6h35.1M1419.5 564.6h35.1M1489.1 564.6h35.1M1314.9 566.6h35.1M1524 566.6h35.1M1314.9 568.6h35.1M1419.5 568.6h35.1M1524 570.6h35.1M1454.3 572.6h35.1M1071.1 574.6h35.1M1384.6 574.6h35.1M1210.4 576.6h35.1M1419.5 576.6h35.1M1524 576.6h35.1M1071.1 578.6h35.1M1384.6 582.6h35.1M1140.8 588.6h35.1M1349.8 588.6h35.1M1349.8 590.6h35.1M1071.1 592.6h35.1M1245.3 592.6h35.1M1210.4 594.6h35.1M1384.6 594.6h35.1M1140.8 598.6h35.1M1524 598.6h35.1M1349.8 600.6h35.1M1454.3 600.6h35.1M1419.5 602.6h35.1M1419.5 614.5h35.1M1454.3 614.5h35.1M1280.1 618.5h35.1"/>
<path stroke="#6998ce" d="M1071.1 161.3h35.1M1245.3 161.3h35.1M1210.4 163.3h35.1M1245.3 163.3h35.1M1105.9 167.3h35.1M1175.6 167.3h35.1M1071.1 169.3h35.1M1105.9 169.3h35.1M1245.3 171.3h35.1M1071.1 189.3h35.1M1245.3 189.3h35.1M1280.1 189.3h35.1M1175.6 191.2h35.1M1105.9 193.2h35.1M1175.6 197.2h35.1M1175.6 201.2h35.1M1071.1 203.2h35.1M1280.1 203.2h35.1M1071.1 207.2h35.1M1175.6 207.2h35.1M1071.1 209.2h35.1M1280.1 209.2h35.1M1280.1 211.2h35.1M1245.3 215.2h35.1M1280.1 215.2h35.1M1071.1 221.2h35.1M1105.9 221.2h35.1M1175.6 221.2h35.1M1105.9 223.2h35.1M1175.6 225.2h35.1M1384.6 233.2h35.1M1175.6 235.2h35.1M1280.1 235.2h35.1M1349.8 235.2h35.1M1140.8 237.2h35.1M1140.8 241.2h35.1M1245.3 241.2h35.1M1384.6 245.2h35.1M1105.9 247.2h35.1M1245.3 247.2h35.1M1071.1 263.1h35.1M1175.6 263.1h35.1M1210.4 263.1h35.1M1419.5 263.1h35.1M1071.1 265.1h35.1M1105.9 265.1h35.1M1175.6 265.1h35.1M1384.6 265.1h35.1M1140.8 267.1h35.1M1071.1 269.1h35.1M1105.9 269.1h35.1M1245.3 269.1h35.1M1384.6 269.1h35.1M1071.1 271.1h35.1M1105.9 271.1h35.1M1524 271.1h35.1M1105.9 273.1h35.1M1419.5 273.1h35.1M1489.1 273.1h35.1M1071.1 283.1h35.1M1280.1 285.1h35.1M1071.1 287.1h35.1M1175.6 287.1h35.1M1105.9 289.1h35.1M1210.4 289.1h35.1M1419.5 289.1h35.1M1105.9 291.1h35.1M1210.4 291.1h35.1M1419.5 291.1h35.1M1489.1 291.1h35.1M1071.1 293.1h35.1M1454.3 293.1h35.1M1280.1 301.1h35.1M1384.6 301.1h35.1M1524 301.1h35.1M1280.1 303.1h35.1M1419.5 307.1h35.1M1105.9 311.1h35.1M1245.3 311.1h35.1M1349.8 311.1h35.1M1419.5 311.1h35.1M1454.3 311.1h35.1M1210.4 315h35.1M1105.9 323h35.1M1140.8 323h35.1M1175.6 329h35.1M1245.3 329h35.1M1489.1 329h35.1M1280.1 335h35.1M1071.1 337h35.1M1280.1 337h35.1M1280.1 374.9h35.1M1245.3 396.9h35.1M1314.9 396.9h35.1M1419.5 496.7h35.1M1419.5 498.7h35.1M1314.9 504.7h35.1M1384.6 504.7h35.1M1489.1 504.7h35.1M1210.4 510.7h35.1M1245.3 510.7h35.1M1489.1 510.7h35.1M1140.8 512.7h35.1M1140.8 514.7h35.1M1175.6 514.7h35.1M1210.4 514.7h35.1M1489.1 514.7h35.1M1280.1 516.7h35.1M1384.6 520.7h35.1M1419.5 520.7h35.1M1071.1 524.7h35.1M1245.3 524.7h35.1M1524 524.7h35.1M1105.9 526.7h35.1M1419.5 526.7h35.1M1454.3 530.7h35.1M1140.8 532.7h35.1M1384.6 532.7h35.1M1524 532.7h35.1M1105.9 534.7h35.1M1210.4 534.7h35.1M1454.3 534.7h35.1M1524 534.7h35.1M1105.9 538.7h35.1M1454.3 538.7h35.1M1489.1 538.7h35.1M1524 538.7h35.1M1071.1 544.7h35.1M1105.9 544.7h35.1M1524 544.7h35.1M1489.1 556.6h35.1M1140.8 560.6h35.1M1349.8 560.6h35.1M1175.6 562.6h35.1M1071.1 564.6h35.1M1140.8 564.6h35.1M1314.9 564.6h35.1M1105.9 566.6h35.1M1384.6 566.6h35.1M1210.4 570.6h35.1M1175.6 572.6h35.1M1524 572.6h35.1M1489.1 574.6h35.1M1524 574.6h35.1M1071.1 576.6h35.1M1384.6 578.6h35.1M1384.6 580.6h35.1M1071.1 588.6h35.1M1105.9 590.6h35.1M1349.8 592.6h35.1M1140.8 594.6h35.1M1524 594.6h35.1M1140.8 596.6h35.1M1524 596.6h35.1M1245.3 598.6h35.1M1489.1 598.6h35.1M1245.3 600.6h35.1M1384.6 612.6h35.1M1489.1 612.6h35.1M1071.1 614.5h35.1M1245.3 614.5h35.1M1489.1 614.5h35.1M1419.5 618.5h35.1M1071.1 636.5h35.1"/>
<path stroke="#6291cb" d="M1280.1 163.3h35.1M1140.8 167.3h35.1M1245.3 167.3h35.1M1210.4 169.3h35.1M1105.9 181.3h35.1M1140.8 183.3h35.1M1071.1 185.3h35.1M1280.1 185.3h35.1M1140.8 189.3h35.1M1245.3 191.2h35.1M1071.1 201.2h35.1M1280.1 201.2h35.1M1071.1 205.2h35.1M1280.1 221.2h35.1M1071.1 223.2h35.1M1140.8 223.2h35.1M1175.6 223.2h35.1M1210.4 231.2h35.1M1280.1 231.2h35.1M1349.8 231.2h35.1M1454.3 231.2h35.1M1245.3 233.2h35.1M1349.8 233.2h35.1M1140.8 235.2h35.1M1314.9 237.2h35.1M1140.8 243.2h35.1M1245.3 243.2h35.1M1140.8 245.2h35.1M1140.8 247.2h35.1M1314.9 247.2h35.1M1140.8 263.1h35.1M1071.1 267.1h35.1M1384.6 267.1h35.1M1140.8 271.1h35.1M1245.3 271.1h35.1M1314.9 271.1h35.1M1140.8 273.1h35.1M1245.3 273.1h35.1M1280.1 273.1h35.1M1384.6 273.1h35.1M1175.6 283.1h35.1M1384.6 283.1h35.1M1454.3 285.1h35.1M1314.9 287.1h35.1M1175.6 291.1h35.1M1105.9 299.1h35.1M1105.9 301.1h35.1M1175.6 301.1h35.1M1245.3 301.1h35.1M1349.8 301.1h35.1M1245.3 305.1h35.1M1210.4 309.1h35.1M1349.8 309.1h35.1M1419.5 309.1h35.1M1454.3 309.1h35.1M1489.1 309.1h35.1M1210.4 311.1h35.1M1280.1 319h35.1M1384.6 321h35.1M1419.5 321h35.1M1454.3 321h35.1M1245.3 323h35.1M1071.1 329h35.1M1280.1 329h35.1M1524 329h35.1M1314.9 333h35.1M1071.1 339h35.1M1314.9 339h35.1M1071.1 343h35.1M1175.6 374.9h35.1M1245.3 376.9h35.1M1524 498.7h35.1M1349.8 500.7h35.1M1454.3 502.7h35.1M1489.1 502.7h35.1M1419.5 504.7h35.1M1454.3 504.7h35.1M1105.9 510.7h35.1M1454.3 510.7h35.1M1175.6 512.7h35.1M1384.6 512.7h35.1M1071.1 514.7h35.1M1071.1 516.7h35.1M1105.9 516.7h35.1M1419.5 516.7h35.1M1489.1 516.7h35.1M1245.3 520.7h35.1M1454.3 520.7h35.1M1175.6 522.7h35.1M1314.9 522.7h35.1M1489.1 528.7h35.1M1245.3 530.7h35.1M1175.6 532.7h35.1M1210.4 532.7h35.1M1245.3 534.7h35.1M1071.1 536.7h35.1M1384.6 538.7h35.1M1419.5 538.7h35.1M1419.5 542.7h35.1M1245.3 544.7h35.1M1175.6 550.7h35.1M1245.3 550.7h35.1M1419.5 550.7h35.1M1175.6 552.7h35.1M1384.6 552.7h35.1M1071.1 558.6h35.1M1210.4 558.6h35.1M1280.1 558.6h35.1M1384.6 558.6h35.1M1280.1 560.6h35.1M1105.9 562.6h35.1M1210.4 562.6h35.1M1105.9 564.6h35.1M1280.1 564.6h35.1M1349.8 564.6h35.1M1454.3 564.6h35.1M1210.4 566.6h35.1M1489.1 566.6h35.1M1210.4 568.6h35.1M1454.3 568.6h35.1M1105.9 570.6h35.1M1314.9 570.6h35.1M1419.5 570.6h35.1M1454.3 570.6h35.1M1489.1 570.6h35.1M1140.8 572.6h35.1M1419.5 572.6h35.1M1140.8 574.6h35.1M1454.3 574.6h35.1M1105.9 576.6h35.1M1071.1 582.6h35.1M1419.5 582.6h35.1M1454.3 586.6h35.1M1105.9 588.6h35.1M1384.6 588.6h35.1M1314.9 590.6h35.1M1524 590.6h35.1M1140.8 592.6h35.1M1210.4 592.6h35.1M1280.1 592.6h35.1M1314.9 592.6h35.1M1454.3 592.6h35.1M1524 592.6h35.1M1071.1 594.6h35.1M1280.1 594.6h35.1M1210.4 596.6h35.1M1419.5 596.6h35.1M1489.1 596.6h35.1M1210.4 598.6h35.1M1524 602.6h35.1M1419.5 604.6h35.1M1245.3 612.6h35.1M1280.1 614.5h35.1M1384.6 618.5h35.1M1524 618.5h35.1"/>
<path stroke="#5b8ac7" d="M1210.4 167.3h35.1M1105.9 183.3h35.1M1175.6 183.3h35.1M1105.9 185.3h35.1M1210.4 185.3h35.1M1071.1 191.2h35.1M1071.1 193.2h35.1M1140.8 195.2h35.1M1105.9 205.2h35.1M1280.1 205.2h35.1M1140.8 207.2h35.1M1210.4 221.2h35.1M1071.1 231.2h35.1M1105.9 231.2h35.1M1140.8 231.2h35.1M1245.3 231.2h35.1M1314.9 231.2h35.1M1105.9 233.2h35.1M1524 233.2h35.1M1314.9 235.2h35.1M1454.3 235.2h35.1M1314.9 243.2h35.1M1314.9 245.2h35.1M1210.4 269.1h35.1M1210.4 271.1h35.1M1140.8 283.1h35.1M1280.1 283.1h35.1M1314.9 283.1h35.1M1105.9 285.1h35.1M1175.6 285.1h35.1M1384.6 285.1h35.1M1175.6 289.1h35.1M1314.9 289.1h35.1M1314.9 291.1h35.1M1210.4 299.1h35.1M1071.1 303.1h35.1M1280.1 305.1h35.1M1384.6 307.1h35.1M1140.8 309.1h35.1M1175.6 311.1h35.1M1384.6 311.1h35.1M1071.1 321h35.1M1175.6 321h35.1M1280.1 321h35.1M1524 321h35.1M1071.1 349h35.1M1314.9 351h35.1M1071.1 376.9h35.1M1314.9 500.7h35.1M1524 500.7h35.1M1349.8 502.7h35.1M1419.5 502.7h35.1M1384.6 506.7h35.1M1454.3 512.7h35.1M1349.8 514.7h35.1M1175.6 516.7h35.1M1454.3 516.7h35.1M1071.1 518.7h35.1M1210.4 518.7h35.1M1384.6 518.7h35.1M1419.5 518.7h35.1M1454.3 518.7h35.1M1489.1 518.7h35.1M1210.4 520.7h35.1M1071.1 522.7h35.1M1384.6 528.7h35.1M1489.1 530.7h35.1M1524 530.7h35.1M1245.3 532.7h35.1M1280.1 532.7h35.1M1140.8 534.7h35.1M1175.6 534.7h35.1M1384.6 534.7h35.1M1489.1 534.7h35.1M1140.8 538.7h35.1M1175.6 538.7h35.1M1245.3 538.7h35.1M1280.1 538.7h35.1M1105.9 542.7h35.1M1210.4 542.7h35.1M1280.1 544.7h35.1M1349.8 544.7h35.1M1245.3 546.7h35.1M1349.8 546.7h35.1M1105.9 548.7h35.1M1210.4 548.7h35.1M1280.1 552.7h35.1M1454.3 556.6h35.1M1349.8 558.6h35.1M1071.1 560.6h35.1M1280.1 562.6h35.1M1349.8 562.6h35.1M1071.1 566.6h35.1M1245.3 566.6h35.1M1384.6 568.6h35.1M1524 568.6h35.1M1071.1 570.6h35.1M1140.8 570.6h35.1M1105.9 572.6h35.1M1349.8 572.6h35.1M1384.6 572.6h35.1M1489.1 572.6h35.1M1105.9 574.6h35.1M1314.9 574.6h35.1M1140.8 576.6h35.1M1314.9 576.6h35.1M1384.6 576.6h35.1M1489.1 576.6h35.1M1140.8 578.6h35.1M1175.6 578.6h35.1M1210.4 578.6h35.1M1454.3 578.6h35.1M1140.8 580.6h35.1M1280.1 582.6h35.1M1384.6 584.6h35.1M1140.8 586.6h35.1M1210.4 586.6h35.1M1314.9 588.6h35.1M1175.6 592.6h35.1M1175.6 594.6h35.1M1245.3 594.6h35.1M1071.1 596.6h35.1M1349.8 596.6h35.1M1384.6 596.6h35.1M1071.1 598.6h35.1M1454.3 598.6h35.1M1105.9 600.6h35.1M1280.1 600.6h35.1M1524 600.6h35.1M1384.6 604.6h35.1M1140.8 606.6h35.1M1071.1 612.6h35.1M1105.9 614.5h35.1M1140.8 614.5h35.1M1175.6 616.5h35.1"/>
<path stroke="#5484c3" d="M1210.4 183.3h35.1M1280.1 183.3h35.1M1140.8 193.2h35.1M1280.1 207.2h35.1M1175.6 231.2h35.1M1071.1 233.2h35.1M1140.8 233.2h35.1M1210.4 233.2h35.1M1454.3 233.2h35.1M1245.3 245.2h35.1M1524 273.1h35.1M1071.1 285.1h35.1M1245.3 285.1h35.1M1314.9 285.1h35.1M1071.1 289.1h35.1M1071.1 299.1h35.1M1349.8 299.1h35.1M1384.6 299.1h35.1M1140.8 301.1h35.1M1210.4 301.1h35.1M1071.1 305.1h35.1M1280.1 307.1h35.1M1175.6 309.1h35.1M1245.3 309.1h35.1M1384.6 309.1h35.1M1105.9 321h35.1M1210.4 321h35.1M1245.3 321h35.1M1489.1 321h35.1M1314.9 337h35.1M1314.9 347h35.1M1280.1 349h35.1M1314.9 349h35.1M1071.1 374.9h35.1M1140.8 376.9h35.1M1175.6 376.9h35.1M1280.1 376.9h35.1M1524 502.7h35.1M1349.8 504.7h35.1M1140.8 508.7h35.1M1280.1 508.7h35.1M1454.3 508.7h35.1M1524 508.7h35.1M1071.1 510.7h35.1M1314.9 510.7h35.1M1210.4 512.7h35.1M1489.1 512.7h35.1M1524 512.7h35.1M1245.3 514.7h35.1M1454.3 514.7h35.1M1245.3 516.7h35.1M1524 518.7h35.1M1140.8 520.7h35.1M1349.8 520.7h35.1M1489.1 520.7h35.1M1524 522.7h35.1M1071.1 526.7h35.1M1175.6 526.7h35.1M1245.3 526.7h35.1M1280.1 526.7h35.1M1349.8 528.7h35.1M1454.3 528.7h35.1M1140.8 530.7h35.1M1175.6 530.7h35.1M1384.6 530.7h35.1M1349.8 532.7h35.1M1280.1 534.7h35.1M1419.5 534.7h35.1M1314.9 536.7h35.1M1314.9 538.7h35.1M1349.8 538.7h35.1M1105.9 540.7h35.1M1210.4 540.7h35.1M1349.8 540.7h35.1M1489.1 540.7h35.1M1071.1 542.7h35.1M1175.6 542.7h35.1M1314.9 544.7h35.1M1175.6 546.7h35.1M1419.5 546.7h35.1M1524 546.7h35.1M1140.8 548.7h35.1M1489.1 548.7h35.1M1524 548.7h35.1M1071.1 550.7h35.1M1210.4 550.7h35.1M1454.3 550.7h35.1M1489.1 550.7h35.1M1071.1 552.7h35.1M1105.9 552.7h35.1M1210.4 552.7h35.1M1419.5 552.7h35.1M1175.6 556.6h35.1M1175.6 558.6h35.1M1105.9 560.6h35.1M1245.3 560.6h35.1M1314.9 562.6h35.1M1489.1 562.6h35.1M1524 562.6h35.1M1140.8 566.6h35.1M1349.8 566.6h35.1M1245.3 568.6h35.1M1489.1 568.6h35.1M1175.6 570.6h35.1M1245.3 570.6h35.1M1280.1 570.6h35.1M1384.6 570.6h35.1M1071.1 572.6h35.1M1245.3 572.6h35.1M1245.3 574.6h35.1M1280.1 574.6h35.1M1175.6 576.6h35.1M1105.9 578.6h35.1M1314.9 578.6h35.1M1419.5 578.6h35.1M1071.1 580.6h35.1M1280.1 580.6h35.1M1210.4 582.6h35.1M1524 582.6h35.1M1071.1 584.6h35.1M1245.3 586.6h35.1M1280.1 586.6h35.1M1419.5 586.6h35.1M1105.9 592.6h35.1M1349.8 594.6h35.1M1245.3 596.6h35.1M1280.1 598.6h35.1M1071.1 600.6h35.1M1140.8 600.6h35.1M1314.9 600.6h35.1M1210.4 602.6h35.1M1280.1 602.6h35.1M1489.1 602.6h35.1M1524 604.6h35.1M1280.1 606.6h35.1M1384.6 606.6h35.1M1384.6 610.6h35.1M1105.9 612.6h35.1M1419.5 612.6h35.1M1280.1 616.5h35.1M1071.1 618.5h35.1M1140.8 618.5h35.1M1175.6 618.5h35.1M1210.4 618.5h35.1"/>
<path stroke="#4d7ec0" d="M1245.3 169.3h35.1M1140.8 185.3h35.1M1175.6 185.3h35.1M1245.3 185.3h35.1M1140.8 191.2h35.1M1071.1 195.2h35.1M1175.6 233.2h35.1M1314.9 273.1h35.1M1071.1 291.1h35.1M1071.1 301.1h35.1M1071.1 307.1h35.1M1105.9 309.1h35.1M1524 309.1h35.1M1280.1 311.1h35.1M1524 311.1h35.1M1140.8 321h35.1M1384.6 500.7h35.1M1419.5 500.7h35.1M1489.1 500.7h35.1M1384.6 502.7h35.1M1524 504.7h35.1M1140.8 506.7h35.1M1245.3 506.7h35.1M1419.5 506.7h35.1M1349.8 508.7h35.1M1419.5 510.7h35.1M1280.1 512.7h35.1M1349.8 512.7h35.1M1314.9 514.7h35.1M1419.5 514.7h35.1M1105.9 518.7h35.1M1140.8 518.7h35.1M1175.6 518.7h35.1M1245.3 518.7h35.1M1175.6 520.7h35.1M1524 520.7h35.1M1071.1 530.7h35.1M1280.1 530.7h35.1M1349.8 530.7h35.1M1071.1 532.7h35.1M1419.5 532.7h35.1M1454.3 548.7h35.1M1140.8 552.7h35.1M1454.3 552.7h35.1M1489.1 552.7h35.1M1384.6 556.6h35.1M1105.9 558.6h35.1M1245.3 558.6h35.1M1175.6 560.6h35.1M1314.9 560.6h35.1M1489.1 560.6h35.1M1071.1 562.6h35.1M1210.4 564.6h35.1M1175.6 566.6h35.1M1280.1 566.6h35.1M1454.3 566.6h35.1M1105.9 568.6h35.1M1280.1 572.6h35.1M1314.9 572.6h35.1M1349.8 574.6h35.1M1280.1 576.6h35.1M1280.1 578.6h35.1M1524 578.6h35.1M1105.9 580.6h35.1M1175.6 582.6h35.1M1454.3 582.6h35.1M1419.5 584.6h35.1M1071.1 586.6h35.1M1175.6 586.6h35.1M1384.6 586.6h35.1M1105.9 598.6h35.1M1314.9 598.6h35.1M1210.4 600.6h35.1M1245.3 602.6h35.1M1314.9 602.6h35.1M1384.6 602.6h35.1M1175.6 604.6h35.1M1210.4 604.6h35.1M1419.5 606.6h35.1M1071.1 610.6h35.1M1105.9 610.6h35.1M1175.6 610.6h35.1M1245.3 610.6h35.1M1419.5 610.6h35.1M1175.6 612.6h35.1M1210.4 614.5h35.1M1349.8 614.5h35.1M1071.1 616.5h35.1M1140.8 616.5h35.1M1419.5 616.5h35.1M1349.8 618.5h35.1M1489.1 618.5h35.1"/>
<path stroke="#4677bc" d="M1280.1 233.2h35.1M1071.1 273.1h35.1M1071.1 311.1h35.1M1140.8 311.1h35.1M1314.9 335h35.1M1314.9 343h35.1M1314.9 502.7h35.1M1175.6 506.7h35.1M1280.1 506.7h35.1M1454.3 506.7h35.1M1524 506.7h35.1M1105.9 508.7h35.1M1210.4 508.7h35.1M1384.6 508.7h35.1M1105.9 512.7h35.1M1245.3 512.7h35.1M1314.9 516.7h35.1M1071.1 520.7h35.1M1140.8 526.7h35.1M1210.4 526.7h35.1M1454.3 526.7h35.1M1524 526.7h35.1M1419.5 528.7h35.1M1419.5 530.7h35.1M1349.8 534.7h35.1M1071.1 540.7h35.1M1140.8 540.7h35.1M1384.6 540.7h35.1M1419.5 540.7h35.1M1454.3 540.7h35.1M1140.8 542.7h35.1M1384.6 542.7h35.1M1489.1 542.7h35.1M1489.1 544.7h35.1M1140.8 546.7h35.1M1210.4 546.7h35.1M1384.6 546.7h35.1M1489.1 546.7h35.1M1105.9 550.7h35.1M1140.8 550.7h35.1M1349.8 552.7h35.1M1454.3 554.6h35.1M1349.8 556.6h35.1M1419.5 556.6h35.1M1314.9 558.6h35.1M1524 558.6h35.1M1071.1 568.6h35.1M1140.8 568.6h35.1M1280.1 568.6h35.1M1349.8 576.6h35.1M1210.4 580.6h35.1M1245.3 580.6h35.1M1419.5 580.6h35.1M1524 580.6h35.1M1105.9 582.6h35.1M1245.3 582.6h35.1M1489.1 582.6h35.1M1105.9 586.6h35.1M1349.8 586.6h35.1M1314.9 594.6h35.1M1175.6 596.6h35.1M1280.1 596.6h35.1M1175.6 600.6h35.1M1105.9 602.6h35.1M1349.8 602.6h35.1M1454.3 602.6h35.1M1140.8 604.6h35.1M1280.1 604.6h35.1M1454.3 604.6h35.1M1489.1 604.6h35.1M1175.6 606.6h35.1M1349.8 606.6h35.1M1140.8 608.6h35.1M1280.1 608.6h35.1M1384.6 608.6h35.1M1419.5 608.6h35.1M1140.8 610.6h35.1M1280.1 610.6h35.1M1140.8 612.6h35.1M1454.3 612.6h35.1M1524 612.6h35.1M1314.9 614.5h35.1M1454.3 616.5h35.1M1489.1 616.5h35.1M1245.3 618.5h35.1M1454.3 618.5h35.1"/>
<path stroke="#406eb4" d="M1314.9 233.2h35.1M1210.4 273.1h35.1M1210.4 376.9h35.1M1314.9 506.7h35.1M1349.8 506.7h35.1M1489.1 506.7h35.1M1245.3 508.7h35.1M1071.1 512.7h35.1M1349.8 516.7h35.1M1314.9 526.7h35.1M1105.9 528.7h35.1M1140.8 528.7h35.1M1175.6 528.7h35.1M1524 528.7h35.1M1210.4 530.7h35.1M1071.1 534.7h35.1M1245.3 540.7h35.1M1349.8 542.7h35.1M1454.3 542.7h35.1M1524 542.7h35.1M1280.1 546.7h35.1M1454.3 546.7h35.1M1524 550.7h35.1M1524 552.7h35.1M1175.6 554.6h35.1M1210.4 554.6h35.1M1140.8 556.6h35.1M1210.4 556.6h35.1M1280.1 556.6h35.1M1524 560.6h35.1M1245.3 562.6h35.1M1175.6 568.6h35.1M1349.8 570.6h35.1M1245.3 576.6h35.1M1245.3 578.6h35.1M1175.6 580.6h35.1M1489.1 580.6h35.1M1245.3 584.6h35.1M1280.1 584.6h35.1M1489.1 584.6h35.1M1524 586.6h35.1M1105.9 596.6h35.1M1314.9 596.6h35.1M1175.6 598.6h35.1M1071.1 602.6h35.1M1140.8 602.6h35.1M1071.1 604.6h35.1M1105.9 604.6h35.1M1245.3 604.6h35.1M1489.1 606.6h35.1M1524 606.6h35.1M1349.8 608.6h35.1M1454.3 610.6h35.1M1210.4 612.6h35.1M1349.8 612.6h35.1M1210.4 616.5h35.1M1384.6 616.5h35.1M1524 616.5h35.1M1210.4 622.5h35.1"/>
<path stroke="#3a65ab" d="M1071.1 309.1h35.1M1280.1 309.1h35.1M1140.8 496.7h35.1M1280.1 496.7h35.1M1105.9 506.7h35.1M1210.4 506.7h35.1M1175.6 508.7h35.1M1419.5 508.7h35.1M1314.9 512.7h35.1M1419.5 512.7h35.1M1349.8 518.7h35.1M1071.1 528.7h35.1M1245.3 528.7h35.1M1280.1 528.7h35.1M1314.9 530.7h35.1M1175.6 540.7h35.1M1280.1 540.7h35.1M1524 540.7h35.1M1280.1 542.7h35.1M1071.1 546.7h35.1M1245.3 552.7h35.1M1314.9 552.7h35.1M1140.8 554.6h35.1M1489.1 554.6h35.1M1071.1 556.6h35.1M1245.3 556.6h35.1M1314.9 556.6h35.1M1349.8 578.6h35.1M1489.1 578.6h35.1M1454.3 580.6h35.1M1140.8 582.6h35.1M1349.8 582.6h35.1M1175.6 584.6h35.1M1210.4 584.6h35.1M1454.3 584.6h35.1M1175.6 602.6h35.1M1071.1 606.6h35.1M1245.3 606.6h35.1M1245.3 608.6h35.1M1210.4 610.6h35.1M1314.9 610.6h35.1M1349.8 610.6h35.1M1489.1 610.6h35.1M1245.3 616.5h35.1M1349.8 616.5h35.1M1071.1 622.5h35.1M1280.1 622.5h35.1M1105.9 630.5h35.1M1140.8 630.5h35.1M1140.8 632.5h35.1M1314.9 634.5h35.1M1419.5 642.5h35.1"/>
<path stroke="#345ca3" d="M1105.9 496.7h35.1M1175.6 496.7h35.1M1245.3 496.7h35.1M1245.3 498.7h35.1M1071.1 506.7h35.1M1071.1 508.7h35.1M1489.1 508.7h35.1M1314.9 518.7h35.1M1210.4 528.7h35.1M1314.9 532.7h35.1M1314.9 534.7h35.1M1314.9 540.7h35.1M1245.3 542.7h35.1M1105.9 546.7h35.1M1314.9 548.7h35.1M1280.1 554.6h35.1M1524 556.6h35.1M1349.8 580.6h35.1M1314.9 582.6h35.1M1105.9 584.6h35.1M1140.8 584.6h35.1M1314.9 604.6h35.1M1349.8 604.6h35.1M1071.1 608.6h35.1M1105.9 608.6h35.1M1175.6 608.6h35.1M1314.9 608.6h35.1M1524 608.6h35.1M1280.1 612.6h35.1M1105.9 616.5h35.1M1105.9 618.5h35.1M1314.9 618.5h35.1M1210.4 620.5h35.1M1280.1 620.5h35.1M1105.9 622.5h35.1M1140.8 622.5h35.1M1175.6 622.5h35.1M1419.5 622.5h35.1M1524 622.5h35.1M1280.1 624.5h35.1M1175.6 626.5h35.1M1210.4 626.5h35.1M1105.9 628.5h35.1M1210.4 628.5h35.1M1280.1 630.5h35.1M1314.9 630.5h35.1M1245.3 632.5h35.1M1280.1 632.5h35.1M1314.9 632.5h35.1M1524 632.5h35.1M1419.5 634.5h35.1M1454.3 634.5h35.1M1524 634.5h35.1M1419.5 638.5h35.1M1524 638.5h35.1M1314.9 640.5h35.1M1419.5 640.5h35.1M1384.6 642.5h35.1"/>
<path stroke="#2e529b" d="M1210.4 496.7h35.1M1175.6 498.7h35.1M1280.1 498.7h35.1M1314.9 520.7h35.1M1314.9 528.7h35.1M1314.9 542.7h35.1M1071.1 554.6h35.1M1105.9 554.6h35.1M1419.5 554.6h35.1M1524 554.6h35.1M1105.9 556.6h35.1M1349.8 568.6h35.1M1314.9 580.6h35.1M1314.9 584.6h35.1M1524 584.6h35.1M1314.9 606.6h35.1M1454.3 606.6h35.1M1210.4 608.6h35.1M1454.3 608.6h35.1M1524 610.6h35.1M1071.1 620.5h35.1M1175.6 620.5h35.1M1245.3 622.5h35.1M1349.8 622.5h35.1M1454.3 622.5h35.1M1489.1 622.5h35.1M1140.8 624.5h35.1M1175.6 624.5h35.1M1210.4 624.5h35.1M1384.6 624.5h35.1M1419.5 624.5h35.1M1071.1 626.5h35.1M1105.9 626.5h35.1M1140.8 626.5h35.1M1245.3 626.5h35.1M1280.1 626.5h35.1M1349.8 626.5h35.1M1419.5 626.5h35.1M1071.1 628.5h35.1M1071.1 630.5h35.1M1349.8 630.5h35.1M1454.3 630.5h35.1M1524 630.5h35.1M1071.1 632.5h35.1M1105.9 632.5h35.1M1384.6 632.5h35.1M1454.3 632.5h35.1M1489.1 632.5h35.1M1349.8 634.5h35.1M1384.6 634.5h35.1M1489.1 634.5h35.1M1314.9 636.5h35.1M1419.5 636.5h35.1M1314.9 638.5h35.1M1489.1 638.5h35.1M1454.3 640.5h35.1M1489.1 640.5h35.1M1524 640.5h35.1M1314.9 642.5h35.1M1489.1 642.5h35.1M1524 642.5h35.1"/>
<path stroke="#284992" d="M1071.1 496.7h35.1M1071.1 498.7h35.1M1105.9 498.7h35.1M1140.8 498.7h35.1M1105.9 500.7h35.1M1175.6 500.7h35.1M1245.3 500.7h35.1M1071.1 502.7h35.1M1105.9 502.7h35.1M1245.3 502.7h35.1M1175.6 504.7h35.1M1245.3 504.7h35.1M1314.9 508.7h35.1M1314.9 546.7h35.1M1314.9 554.6h35.1M1349.8 554.6h35.1M1349.8 584.6h35.1M1314.9 586.6h35.1M1105.9 606.6h35.1M1210.4 606.6h35.1M1489.1 608.6h35.1M1314.9 612.6h35.1M1140.8 620.5h35.1M1245.3 620.5h35.1M1349.8 620.5h35.1M1419.5 620.5h35.1M1314.9 622.5h35.1M1384.6 622.5h35.1M1071.1 624.5h35.1M1454.3 624.5h35.1M1384.6 626.5h35.1M1454.3 626.5h35.1M1524 626.5h35.1M1175.6 628.5h35.1M1280.1 628.5h35.1M1314.9 628.5h35.1M1384.6 628.5h35.1M1454.3 628.5h35.1M1489.1 628.5h35.1M1524 628.5h35.1M1210.4 630.5h35.1M1245.3 630.5h35.1M1384.6 630.5h35.1M1489.1 630.5h35.1M1175.6 632.5h35.1M1210.4 632.5h35.1M1349.8 632.5h35.1M1419.5 632.5h35.1M1454.3 636.5h35.1M1524 636.5h35.1M1454.3 638.5h35.1M1384.6 640.5h35.1M1349.8 642.5h35.1M1454.3 642.5h35.1"/>
<path stroke="#22408a" d="M1210.4 498.7h35.1M1071.1 500.7h35.1M1140.8 500.7h35.1M1210.4 500.7h35.1M1280.1 500.7h35.1M1140.8 502.7h35.1M1175.6 502.7h35.1M1210.4 502.7h35.1M1280.1 502.7h35.1M1071.1 504.7h35.1M1105.9 504.7h35.1M1140.8 504.7h35.1M1210.4 504.7h35.1M1280.1 504.7h35.1M1314.9 550.7h35.1M1245.3 554.6h35.1M1384.6 554.6h35.1M1314.9 616.5h35.1M1105.9 620.5h35.1M1314.9 620.5h35.1M1384.6 620.5h35.1M1454.3 620.5h35.1M1489.1 620.5h35.1M1524 620.5h35.1M1105.9 624.5h35.1M1245.3 624.5h35.1M1314.9 624.5h35.1M1349.8 624.5h35.1M1489.1 624.5h35.1M1524 624.5h35.1M1314.9 626.5h35.1M1489.1 626.5h35.1M1140.8 628.5h35.1M1245.3 628.5h35.1M1349.8 628.5h35.1M1419.5 628.5h35.1M1175.6 630.5h35.1M1419.5 630.5h35.1M1349.8 636.5h35.1M1384.6 636.5h35.1M1489.1 636.5h35.1M1349.8 638.5h35.1M1384.6 638.5h35.1M1349.8 640.5h35.1"/>
</g>
<path d="M1071.1 495.3H1315.2M1315.2 493H1558.8M1315.2 505.5H1558.8" stroke="#f7fafd" stroke-width="1.6"/>
<path d="M1066.2 160.6H1044.8V161.4H1066.2M1066.2 162.1H1044.1V162.9H1066.2M1044.1 162.5H1042.5V163.6H1066.2M1044.8 161H1041V163.1H1042.5M1066.2 165.1H1051.6V165.9H1066.2M1066.2 164.4H1050.4V165.5H1051.6M1066.2 166.6H1051.6V167.4H1066.2M1066.2 168.2H1047.6V168.9H1066.2M1051.6 167H1043V168.5H1047.6M1050.4 164.9H1038.9V167.8H1043M1066.2 169.7H1046.9V170.4H1066.2M1046.9 170H1041.4V171.2H1066.2M1066.2 171.9H1041V172.7H1066.2M1041.4 170.6H1035.5V172.3H1041M1038.9 166.4H1033V171.5H1035.5M1041 162H1030.2V168.9H1033M1066.2 174.2H1050.8V174.9H1066.2M1066.2 175.7H1052.1V176.5H1066.2M1050.8 174.6H1049.5V176.1H1052.1M1066.2 178H1052.1V178.7H1066.2M1066.2 179.5H1056.7V180.2H1066.2M1056.7 179.9H1054.6V181H1066.2M1052.1 178.3H1051.8V180.4H1054.6M1066.2 177.2H1049.2V179.4H1051.8M1066.2 181.7H1051.8V182.5H1066.2M1049.2 178.3H1047.9V182.1H1051.8M1049.5 175.3H1046.6V180.2H1047.9M1066.2 173.4H1044V177.8H1046.6M1066.2 184.8H1054.8V185.5H1066.2M1066.2 184H1052V185.1H1054.8M1066.2 183.3H1050.4V184.6H1052M1050.4 183.9H1048.4V186.3H1066.2M1044 175.6H1043.5V185.1H1048.4M1066.2 187H1054.9V187.8H1066.2M1054.9 187.4H1052.3V188.5H1066.2M1052.3 188H1050.5V189.3H1066.2M1066.2 191.6H1052.7V192.3H1066.2M1066.2 190.8H1051.5V191.9H1052.7M1066.2 190.1H1048.3V191.4H1051.5M1066.2 193.1H1049.7V193.8H1066.2M1066.2 194.6H1050.3V195.3H1066.2M1049.7 193.5H1048.2V195H1050.3M1048.2 194.2H1045.6V196.1H1066.2M1048.3 190.7H1044.8V195.2H1045.6M1050.5 188.6H1041.5V192.9H1044.8M1066.2 196.9H1048.5V197.6H1066.2M1048.5 197.2H1047.3V198.4H1066.2M1047.3 197.8H1042.8V199.1H1066.2M1041.5 190.8H1039.7V198.5H1042.8M1043.5 180.4H1039.2V194.6H1039.7M1066.2 199.9H1044.7V200.6H1066.2M1066.2 201.4H1049.4V202.1H1066.2M1049.4 201.8H1048.8V202.9H1066.2M1066.2 204.4H1057.7V205.2H1066.2M1066.2 205.9H1056.3V206.7H1066.2M1057.7 204.8H1055.8V206.3H1056.3M1066.2 208.2H1057.2V208.9H1066.2M1066.2 207.4H1056.3V208.6H1057.2M1066.2 209.7H1059.9V210.4H1066.2M1059.9 210.1H1058.4V211.2H1066.2M1066.2 212H1058.5V212.7H1066.2M1058.4 210.6H1058.1V212.3H1058.5M1056.3 208H1056.1V211.5H1058.1M1055.8 205.5H1053.8V209.7H1056.1M1053.8 207.6H1053.1V213.5H1066.2M1066.2 203.6H1051.2V210.6H1053.1M1066.2 214.2H1056V215H1066.2M1056 214.6H1055.5V215.7H1066.2M1066.2 217.2H1055.9V218H1066.2M1066.2 216.5H1053.4V217.6H1055.9M1055.5 215.2H1053.1V217.1H1053.4M1053.1 216.1H1050.7V218.8H1066.2M1051.2 207.1H1049.7V217.4H1050.7M1048.8 202.3H1047.7V212.3H1049.7M1044.7 200.3H1043.9V207.3H1047.7M1066.2 219.5H1044.7V220.3H1066.2M1066.2 221H1046.7V221.8H1066.2M1066.2 222.5H1047.2V223.3H1066.2M1046.7 221.4H1044.5V222.9H1047.2M1044.7 219.9H1041.1V222.2H1044.5M1066.2 225.6H1054.1V226.3H1066.2M1066.2 224.8H1053V225.9H1054.1M1066.2 227.1H1052.4V227.8H1066.2M1053 225.4H1050.5V227.4H1052.4M1066.2 228.6H1049.7V229.3H1066.2M1050.5 226.4H1048.4V228.9H1049.7M1066.2 224H1041V227.7H1048.4M1041.1 221H1039.5V225.9H1041M1043.9 203.8H1038.6V223.4H1039.5M1039.2 187.5H1035.7V213.6H1038.6M1066.2 230.8H1053.6V231.6H1066.2M1066.2 230.1H1051V231.2H1053.6M1066.2 232.3H1055V233.1H1066.2M1066.2 234.6H1054.9V235.4H1066.2M1066.2 233.9H1054.3V235H1054.9M1055 232.7H1052.5V234.4H1054.3M1051 230.6H1050.1V233.6H1052.5M1066.2 237.6H1056.3V238.4H1066.2M1066.2 236.9H1055V238H1056.3M1066.2 236.1H1052.8V237.4H1055M1066.2 239.9H1059.6V240.7H1066.2M1066.2 239.1H1058.1V240.3H1059.6M1066.2 241.4H1058V242.2H1066.2M1058.1 239.7H1056.3V241.8H1058M1066.2 243.7H1057.1V244.4H1066.2M1066.2 242.9H1056.1V244.1H1057.1M1056.3 240.8H1053.9V243.5H1056.1M1052.8 236.8H1052V242.1H1053.9M1066.2 245.2H1054.6V245.9H1066.2M1066.2 247.5H1057.8V248.2H1066.2M1066.2 249H1057.5V249.7H1066.2M1057.8 247.8H1056.1V249.3H1057.5M1066.2 246.7H1055.4V248.6H1056.1M1054.6 245.6H1053.2V247.6H1055.4M1052 239.5H1051.2V246.6H1053.2M1050.1 232.1H1047.5V243H1051.2M1047.5 237.6H1045V250.5H1066.2M1066.2 252.7H1055.2V253.5H1066.2M1055.2 253.1H1053.1V254.3H1066.2M1053.1 253.7H1050.6V255H1066.2M1066.2 252H1049.8V254.3H1050.6M1066.2 257.3H1054V258H1066.2M1066.2 256.5H1050.9V257.6H1054M1066.2 255.8H1049.3V257.1H1050.9M1049.8 253.2H1047.8V256.4H1049.3M1066.2 251.2H1045.4V254.8H1047.8M1045 244H1041.2V253H1045.4M1041.2 248.5H1035.8V258.8H1066.2M1035.7 200.5H1028.4V253.6H1035.8M1030.2 165.5H1020.3V227.1H1028.4M1066.2 259.5H1046.6V260.3H1066.2M1066.2 261H1051.9V261.8H1066.2M1046.6 259.9H1045.8V261.4H1051.9M1066.2 262.6H1049.2V263.3H1066.2M1066.2 264.1H1051.1V264.8H1066.2M1066.2 265.6H1051.7V266.3H1066.2M1051.1 264.4H1050.4V266H1051.7M1049.2 262.9H1045.4V265.2H1050.4M1066.2 267.8H1048V268.6H1066.2M1066.2 267.1H1046V268.2H1048M1046 267.7H1045.4V269.4H1066.2M1045.4 264.1H1044.8V268.5H1045.4M1045.8 260.7H1040.3V266.3H1044.8M1066.2 270.1H1044.9V270.9H1066.2M1040.3 263.5H1035.6V270.5H1044.9M1066.2 271.6H1053.8V272.4H1066.2M1053.8 272H1052V273.1H1066.2M1066.2 273.9H1054.9V274.6H1066.2M1054.9 274.3H1053.9V275.4H1066.2M1052 272.6H1051.6V274.8H1053.9M1066.2 277.7H1055.1V278.4H1066.2M1066.2 276.9H1052.6V278H1055.1M1066.2 276.2H1049.4V277.5H1052.6M1051.6 273.7H1047.9V276.8H1049.4M1066.2 279.2H1050.6V279.9H1066.2M1066.2 280.7H1049.3V281.4H1066.2M1050.6 279.6H1048.2V281.1H1049.3M1066.2 282.2H1050.7V282.9H1066.2M1066.2 283.7H1052.4V284.5H1066.2M1052.4 284.1H1049V285.2H1066.2M1050.7 282.6H1048V284.6H1049M1048.2 280.3H1045.7V283.6H1048M1047.9 275.3H1043.7V282H1045.7M1035.6 267H1030.6V278.6H1043.7M1066.2 287.5H1050.9V288.2H1066.2M1066.2 286.7H1048.5V287.9H1050.9M1066.2 286H1047.2V287.3H1048.5M1047.2 286.6H1045.1V289H1066.2M1030.6 272.8H1025.8V287.8H1045.1M1066.2 290.5H1052.1V291.3H1066.2M1052.1 290.9H1051V292H1066.2M1066.2 293.5H1050.8V294.3H1066.2M1066.2 292.8H1049.1V293.9H1050.8M1051 291.4H1048.1V293.3H1049.1M1066.2 289.7H1043.4V292.4H1048.1M1066.2 295H1052.4V295.8H1066.2M1066.2 296.5H1050.6V297.3H1066.2M1052.4 295.4H1047.9V296.9H1050.6M1066.2 299.6H1051.9V300.3H1066.2M1066.2 302.6H1054.3V303.3H1066.2M1066.2 301.8H1052.8V303H1054.3M1066.2 301.1H1052.3V302.4H1052.8M1051.9 299.9H1050.9V301.7H1052.3M1066.2 298.8H1050.4V300.8H1050.9M1066.2 298.1H1047.2V299.8H1050.4M1047.9 296.2H1044.5V298.9H1047.2M1043.4 291.1H1041.8V297.6H1044.5M1041.8 294.3H1034.8V304.1H1066.2M1066.2 304.9H1048.8V305.6H1066.2M1048.8 305.2H1044.9V306.4H1066.2M1044.9 305.8H1042V307.1H1066.2M1066.2 309.4H1053V310.1H1066.2M1066.2 308.6H1050.1V309.8H1053M1066.2 310.9H1047.6V311.6H1066.2M1050.1 309.2H1046.4V311.3H1047.6M1066.2 307.9H1042.1V310.2H1046.4M1042 306.5H1037.4V309.1H1042.1M1066.2 313.2H1051.9V313.9H1066.2M1066.2 312.4H1048.8V313.5H1051.9M1066.2 314.7H1053.4V315.4H1066.2M1066.2 316.2H1051.1V316.9H1066.2M1053.4 315H1050.7V316.6H1051.1M1066.2 317.7H1052.6V318.4H1066.2M1050.7 315.8H1050.2V318.1H1052.6M1048.8 313H1047.7V316.9H1050.2M1047.7 315H1045.5V319.2H1066.2M1037.4 307.8H1031.1V317.1H1045.5M1034.8 299.2H1024.7V312.4H1031.1M1025.8 280.3H1020.7V305.8H1024.7M1020.3 196.3H1013.5V293.1H1020.7M1066.2 320.7H1051V321.5H1066.2M1066.2 323H1046.6V323.7H1066.2M1066.2 322.2H1045.5V323.4H1046.6M1051 321.1H1042.5V322.8H1045.5M1066.2 324.5H1048.4V325.2H1066.2M1048.4 324.9H1044.6V326H1066.2M1042.5 321.9H1038.2V325.4H1044.6M1066.2 320H1037.4V323.7H1038.2M1066.2 328.3H1055V329H1066.2M1066.2 327.5H1052.4V328.6H1055M1066.2 326.8H1049V328.1H1052.4M1066.2 329.8H1050.7V330.5H1066.2M1049 327.4H1048.2V330.2H1050.7M1066.2 332H1047.1V332.8H1066.2M1066.2 331.3H1045.7V332.4H1047.1M1045.7 331.9H1042.1V333.6H1066.2M1048.2 328.8H1038.8V332.7H1042.1M1066.2 334.3H1042.5V335.1H1066.2M1066.2 336.6H1046.5V337.3H1066.2M1066.2 335.8H1041.6V336.9H1046.5M1042.5 334.7H1035.2V336.4H1041.6M1038.8 330.7H1033V335.5H1035.2M1033 333.1H1027.7V338.1H1066.2M1037.4 321.8H1023.6V335.6H1027.7M1066.2 339.6H1041.4V340.3H1066.2M1066.2 338.8H1040.8V340H1041.4M1066.2 341.1H1046.8V341.9H1066.2M1066.2 343.4H1045.1V344.1H1066.2M1066.2 342.6H1044.2V343.7H1045.1M1066.2 345.6H1055V346.4H1066.2M1066.2 344.9H1052.8V346H1055M1066.2 347.9H1053.1V348.7H1066.2M1066.2 349.4H1056.9V350.2H1066.2M1056.9 349.8H1055.4V350.9H1066.2M1055.4 350.4H1053.1V351.7H1066.2M1053.1 348.3H1052.7V351H1053.1M1066.2 347.1H1051.6V349.6H1052.7M1052.8 345.4H1050.6V348.4H1051.6M1066.2 352.4H1055.7V353.2H1066.2M1066.2 353.9H1057.4V354.7H1066.2M1066.2 355.5H1056.4V356.2H1066.2M1057.4 354.3H1055.6V355.8H1056.4M1055.7 352.8H1054.2V355.1H1055.6M1054.2 353.9H1052.2V357H1066.2M1052.2 355.5H1049.8V357.7H1066.2M1050.6 346.9H1047.9V356.6H1049.8M1066.2 358.5H1053V359.2H1066.2M1053 358.9H1051.2V360H1066.2M1051.2 359.4H1048.9V360.7H1066.2M1066.2 361.5H1050.6V362.2H1066.2M1050.6 361.9H1047.3V363H1066.2M1048.9 360.1H1045.2V362.4H1047.3M1047.9 351.8H1044V361.3H1045.2M1044.2 343.2H1043.2V356.5H1044M1046.8 341.5H1042.8V349.8H1043.2M1066.2 363.8H1050.9V364.5H1066.2M1066.2 365.3H1050.9V366H1066.2M1066.2 367.5H1050.1V368.3H1066.2M1066.2 366.8H1049.1V367.9H1050.1M1050.9 365.6H1048.5V367.3H1049.1M1050.9 364.1H1044.2V366.5H1048.5M1066.2 369H1045.6V369.8H1066.2M1066.2 371.3H1050.2V372.1H1066.2M1066.2 370.6H1046.4V371.7H1050.2M1045.6 369.4H1043.2V371.1H1046.4M1044.2 365.3H1040.6V370.3H1043.2M1042.8 345.7H1038.8V367.8H1040.6M1040.8 339.4H1036.8V356.7H1038.8M1066.2 374.3H1042.7V375.1H1066.2M1066.2 373.6H1041V374.7H1042.7M1066.2 372.8H1039.8V374.1H1041M1066.2 375.8H1051.3V376.6H1066.2M1039.8 373.5H1038.9V376.2H1051.3M1038.9 374.9H1036.8V377.4H1066.2M1036.8 348.1H1032.7V376.1H1036.8M1023.6 328.7H1016.6V362.1H1032.7M1013.5 244.7H1009.2V345.4H1016.6M1009.2 295V325.1M1066.2 378.1H1041.8V378.9H1066.2M1066.2 379.6H1050.9V380.4H1066.2M1066.2 381.1H1051.7V381.9H1066.2M1050.9 380H1050.1V381.5H1051.7M1066.2 382.6H1049.6V383.4H1066.2M1050.1 380.8H1048V383H1049.6M1066.2 384.2H1052.8V384.9H1066.2M1052.8 384.5H1041.5V385.7H1066.2M1048 381.9H1035.6V385.1H1041.5M1066.2 387.2H1053.7V387.9H1066.2M1053.7 387.6H1050.9V388.7H1066.2M1050.9 388.1H1049.8V389.4H1066.2M1066.2 390.2H1051.3V390.9H1066.2M1049.8 388.8H1048.7V390.6H1051.3M1066.2 386.4H1046.9V389.7H1048.7M1046.9 388H1045.6V391.7H1066.2M1045.6 389.9H1043V392.5H1066.2M1066.2 394H1045V394.7H1066.2M1066.2 395.5H1044.8V396.2H1066.2M1045 394.3H1043.5V395.9H1044.8M1066.2 393.2H1043.1V395.1H1043.5M1043 391.2H1041.1V394.2H1043.1M1066.2 397H1046.6V397.7H1066.2M1066.2 399.3H1052.3V400H1066.2M1066.2 400.8H1052.7V401.5H1066.2M1052.3 399.6H1050V401.1H1052.7M1066.2 398.5H1044.8V400.4H1050M1046.6 397.4H1043.6V399.4H1044.8M1066.2 402.3H1050.7V403H1066.2M1050.7 402.7H1049.4V403.8H1066.2M1066.2 404.5H1049.7V405.3H1066.2M1049.4 403.2H1047.4V404.9H1049.7M1047.4 404.1H1045.6V406.1H1066.2M1066.2 406.8H1053.2V407.6H1066.2M1053.2 407.2H1050.4V408.3H1066.2M1066.2 409.1H1050.1V409.8H1066.2M1050.4 407.8H1048.8V409.5H1050.1M1048.8 408.6H1045.7V410.6H1066.2M1066.2 411.3H1045.6V412.1H1066.2M1045.7 409.6H1042.6V411.7H1045.6M1045.6 405.1H1041.1V410.7H1042.6M1043.6 398.4H1038.3V407.9H1041.1M1041.1 392.7H1036.6V403.1H1038.3M1066.2 414.4H1056V415.1H1066.2M1066.2 413.6H1053.5V414.7H1056M1066.2 412.9H1051.7V414.2H1053.5M1051.7 413.5H1050.4V415.9H1066.2M1050.4 414.7H1049.1V416.6H1066.2M1049.1 415.7H1042.8V417.4H1066.2M1066.2 418.1H1052V418.9H1066.2M1052 418.5H1051.4V419.6H1066.2M1066.2 420.4H1049.7V421.2H1066.2M1051.4 419.1H1043.5V420.8H1049.7M1042.8 416.5H1040.4V419.9H1043.5M1066.2 422.7H1046.5V423.4H1066.2M1066.2 421.9H1042.9V423H1046.5M1066.2 424.2H1052.9V424.9H1066.2M1052.9 424.6H1050.1V425.7H1066.2M1066.2 426.4H1050.7V427.2H1066.2M1050.7 426.8H1048.8V428H1066.2M1050.1 425.1H1046.8V427.4H1048.8M1042.9 422.5H1042.4V426.3H1046.8M1040.4 418.2H1039.6V424.4H1042.4M1039.6 421.3H1036.7V428.7H1066.2M1036.6 397.9H1035.7V425H1036.7M1035.6 383.5H1029.4V411.5H1035.7M1066.2 429.5H1051.3V430.2H1066.2M1066.2 431H1051.4V431.7H1066.2M1051.3 429.8H1048.9V431.4H1051.4M1066.2 433.2H1051.9V434H1066.2M1066.2 432.5H1050.7V433.6H1051.9M1048.9 430.6H1047.2V433.1H1050.7M1066.2 435.5H1052.1V436.3H1066.2M1052.1 435.9H1050.9V437H1066.2M1066.2 438.5H1055.3V439.3H1066.2M1066.2 440H1055.2V440.8H1066.2M1055.3 438.9H1053.7V440.4H1055.2M1066.2 437.8H1051.7V439.7H1053.7M1051.7 438.7H1049.5V441.6H1066.2M1050.9 436.5H1048.4V440.1H1049.5M1066.2 434.8H1044.7V438.3H1048.4M1047.2 431.8H1043.5V436.5H1044.7M1066.2 443.1H1053.7V443.8H1066.2M1066.2 442.3H1050.8V443.4H1053.7M1050.8 442.9H1047.3V444.6H1066.2M1047.3 443.7H1045.7V445.3H1066.2M1066.2 446.1H1048.8V446.8H1066.2M1048.8 446.5H1047.5V447.6H1066.2M1045.7 444.5H1045.1V447H1047.5M1066.2 449.9H1053V450.6H1066.2M1053 450.2H1052.5V451.4H1066.2M1066.2 449.1H1050.4V450.8H1052.5M1066.2 448.3H1048V450H1050.4M1066.2 453.6H1055V454.4H1066.2M1055 454H1053.7V455.1H1066.2M1066.2 452.9H1051.4V454.6H1053.7M1066.2 452.1H1049.3V453.7H1051.4M1066.2 455.9H1052.7V456.7H1066.2M1052.7 456.3H1050.8V457.4H1066.2M1066.2 458.2H1052.2V458.9H1066.2M1052.2 458.5H1049.5V459.7H1066.2M1050.8 456.8H1048.6V459.1H1049.5M1049.3 452.9H1046.7V458H1048.6M1066.2 460.4H1050.7V461.2H1066.2M1066.2 461.9H1052.6V462.7H1066.2M1050.7 460.8H1049.5V462.3H1052.6M1046.7 455.5H1046.2V461.6H1049.5M1048 449.1H1044.3V458.5H1046.2M1045.1 445.8H1042.4V453.8H1044.3M1043.5 434.2H1039.3V449.8H1042.4M1066.2 463.5H1050.8V464.2H1066.2M1066.2 465H1051.8V465.7H1066.2M1050.8 463.8H1049.6V465.3H1051.8M1066.2 466.5H1052.7V467.2H1066.2M1066.2 468H1054.9V468.7H1066.2M1066.2 469.5H1053.5V470.2H1066.2M1054.9 468.4H1052.9V469.9H1053.5M1052.7 466.9H1051.8V469.1H1052.9M1049.6 464.6H1049V468H1051.8M1066.2 471.8H1047.9V472.5H1066.2M1066.2 471H1046.2V472.1H1047.9M1049 466.3H1045.4V471.6H1046.2M1066.2 473.3H1052.3V474H1066.2M1066.2 474.8H1054.4V475.5H1066.2M1054.4 475.2H1052.3V476.3H1066.2M1052.3 473.6H1049.7V475.7H1052.3M1049.7 474.7H1047.1V477H1066.2M1045.4 468.9H1044.4V475.9H1047.1M1066.2 477.8H1048.5V478.6H1066.2M1048.5 478.2H1047.4V479.3H1066.2M1066.2 480.8H1052.5V481.6H1066.2M1052.5 481.2H1051.4V482.3H1066.2M1066.2 480.1H1049.1V481.8H1051.4M1066.2 483.1H1054.4V483.8H1066.2M1054.4 483.5H1051.8V484.6H1066.2M1051.8 484H1049.4V485.4H1066.2M1049.4 484.7H1048.6V486.1H1066.2M1049.1 480.9H1045.2V485.4H1048.6M1047.4 478.7H1043.9V483.2H1045.2M1044.4 472.4H1041.1V481H1043.9M1066.2 487.6H1048.2V488.4H1066.2M1066.2 489.1H1049V489.9H1066.2M1048.2 488H1045.8V489.5H1049M1066.2 490.6H1049V491.4H1066.2M1066.2 492.9H1052V493.7H1066.2M1052 493.3H1050.6V494.4H1066.2M1066.2 492.2H1049.3V493.9H1050.6M1049 491H1047.9V493H1049.3M1045.8 488.8H1045.2V492H1047.9M1066.2 486.9H1041.7V490.4H1045.2M1041.1 476.7H1036.3V488.6H1041.7M1039.3 442H1030.7V482.6H1036.3M1029.4 397.5H1024.3V462.3H1030.7M1041.8 378.5H1001.7V429.9H1024.3M1001.7 404.2V484.4M1009.2 325.1H985.6V484.4H1001.7M1066.2 495.2H1054.4V495.9H1066.2M1066.2 496.7H1054.9V497.4H1066.2M1054.4 495.6H1053.1V497.1H1054.9M1066.2 498.2H1053.6V498.9H1066.2M1053.6 498.6H1053.2V499.7H1066.2M1053.1 496.3H1051.8V499.1H1053.2M1066.2 501.2H1057.6V502H1066.2M1066.2 500.5H1055.6V501.6H1057.6M1055.6 501H1055.2V502.7H1066.2M1055.2 501.9H1054.3V503.5H1066.2M1054.3 502.7H1052.8V504.2H1066.2M1051.8 497.7H1050V503.5H1052.8M1050 500.6V504.6M985.6 404.8H949.5V504.6H1050M1066.2 505H1052.1V505.7H1066.2M1052.1 505.4H1049.4V506.5H1066.2M1066.2 507.3H1052.9V508H1066.2M1066.2 508.8H1052V509.5H1066.2M1052.9 507.6H1050.2V509.1H1052M1049.4 505.9H1047.3V508.4H1050.2M1047.3 507.2H1043.7V510.3H1066.2M1043.7 508.7H1042.5V511H1066.2M1066.2 513.3H1054.6V514.1H1066.2M1066.2 512.5H1052.2V513.7H1054.6M1066.2 514.8H1053.5V515.6H1066.2M1052.2 513.1H1051V515.2H1053.5M1051 514.1H1050.1V516.3H1066.2M1066.2 511.8H1048.5V515.2H1050.1M1066.2 517.1H1055.3V517.8H1066.2M1055.3 517.5H1054V518.6H1066.2M1066.2 519.3H1053.5V520.1H1066.2M1054 518H1051V519.7H1053.5M1051 518.9H1049.2V520.9H1066.2M1048.5 513.5H1046.1V519.9H1049.2M1066.2 523.1H1050.2V523.9H1066.2M1066.2 525.4H1054.1V526.1H1066.2M1066.2 524.6H1052.1V525.8H1054.1M1050.2 523.5H1049.5V525.2H1052.1M1066.2 522.4H1047.6V524.3H1049.5M1066.2 521.6H1045.2V523.4H1047.6M1046.1 516.7H1042.5V522.5H1045.2M1042.5 509.9H1039.4V519.6H1042.5M1066.2 526.9H1046.1V527.6H1066.2M1046.1 527.3H1042.8V528.4H1066.2M1066.2 530.7H1054.4V531.4H1066.2M1054.4 531H1053.3V532.2H1066.2M1066.2 532.9H1053.8V533.7H1066.2M1053.3 531.6H1051.7V533.3H1053.8M1066.2 529.9H1048.1V532.5H1051.7M1066.2 535.2H1050.2V536H1066.2M1066.2 534.4H1049.3V535.6H1050.2M1066.2 536.7H1052.5V537.5H1066.2M1052.5 537.1H1048.7V538.2H1066.2M1049.3 535H1045.7V537.7H1048.7M1048.1 531.2H1044.7V536.3H1045.7M1066.2 529.2H1042.8V533.8H1044.7M1066.2 539.7H1053.6V540.5H1066.2M1066.2 539H1051.9V540.1H1053.6M1051.9 539.5H1051V541.2H1066.2M1066.2 542.8H1053.8V543.5H1066.2M1066.2 542H1053.3V543.1H1053.8M1053.3 542.6H1050.7V544.3H1066.2M1051 540.4H1048.1V543.4H1050.7M1066.2 545H1048V545.8H1066.2M1066.2 546.5H1050.4V547.3H1066.2M1066.2 548.8H1054.2V549.5H1066.2M1066.2 548H1051.4V549.2H1054.2M1050.4 546.9H1049.2V548.6H1051.4M1048 545.4H1047.4V547.8H1049.2M1048.1 541.9H1044.2V546.6H1047.4M1042.8 531.5H1041.3V544.2H1044.2M1042.8 527.8H1038.2V537.8H1041.3M1066.2 550.3H1050.4V551.1H1066.2M1066.2 553.3H1053.5V554.1H1066.2M1066.2 552.6H1050.9V553.7H1053.5M1066.2 551.8H1049.4V553.1H1050.9M1050.4 550.7H1046.9V552.5H1049.4M1066.2 554.8H1051V555.6H1066.2M1066.2 557.1H1051V557.9H1066.2M1066.2 556.3H1050.4V557.5H1051M1051 555.2H1049.2V556.9H1050.4M1066.2 559.4H1054.7V560.1H1066.2M1066.2 560.9H1054.2V561.6H1066.2M1054.7 559.7H1053.2V561.3H1054.2M1053.2 560.5H1052.2V562.4H1066.2M1066.2 563.1H1051.9V563.9H1066.2M1052.2 561.4H1049V563.5H1051.9M1066.2 558.6H1048.7V562.5H1049M1049.2 556.1H1047.6V560.5H1048.7M1046.9 551.6H1044.2V558.3H1047.6M1038.2 532.8H1028.8V554.9H1044.2M1039.4 514.7H1025.1V543.9H1028.8M1066.2 565.4H1039V566.2H1066.2M1066.2 566.9H1049.9V567.7H1066.2M1066.2 568.4H1047.8V569.2H1066.2M1049.9 567.3H1044.3V568.8H1047.8M1039 565.8H1032.4V568.1H1044.3M1066.2 564.7H1030.6V566.9H1032.4M1066.2 569.9H1051.3V570.7H1066.2M1066.2 571.5H1051V572.2H1066.2M1051.3 570.3H1050.1V571.8H1051M1066.2 573H1050.9V573.7H1066.2M1050.1 571.1H1049.2V573.3H1050.9M1066.2 574.5H1052.5V575.2H1066.2M1049.2 572.2H1048.3V574.9H1052.5M1066.2 577.5H1054.8V578.2H1066.2M1054.8 577.9H1052.3V579H1066.2M1066.2 576.7H1051.5V578.4H1052.3M1066.2 579.8H1050.6V580.5H1066.2M1051.5 577.6H1049.5V580.1H1050.6M1066.2 576H1048V578.9H1049.5M1048.3 573.5H1045.2V577.4H1048M1066.2 582H1051.9V582.8H1066.2M1066.2 581.3H1049.4V582.4H1051.9M1066.2 584.3H1054V585H1066.2M1066.2 583.5H1052.9V584.7H1054M1052.9 584.1H1051.5V585.8H1066.2M1049.4 581.8H1049.1V585H1051.5M1049.1 583.4H1047.5V586.6H1066.2M1066.2 588.1H1051.7V588.8H1066.2M1066.2 587.3H1048.4V588.4H1051.7M1047.5 585H1046.6V587.9H1048.4M1046.6 586.4H1044.1V589.6H1066.2M1066.2 590.3H1050V591.1H1066.2M1050 590.7H1047V591.8H1066.2M1047 591.3H1043.6V592.6H1066.2M1066.2 594.1H1048.8V594.9H1066.2M1066.2 595.6H1050.3V596.4H1066.2M1048.8 594.5H1048.3V596H1050.3M1066.2 597.1H1053.2V597.9H1066.2M1066.2 598.6H1053.3V599.4H1066.2M1053.2 597.5H1050.2V599H1053.3M1048.3 595.2H1046.4V598.3H1050.2M1066.2 593.4H1044.1V596.8H1046.4M1043.6 591.9H1042.6V595.1H1044.1M1044.1 588H1042V593.5H1042.6M1045.2 575.5H1040.1V590.7H1042M1066.2 600.2H1046.3V600.9H1066.2M1040.1 583.1H1033.8V600.5H1046.3M1066.2 602.4H1048.1V603.2H1066.2M1066.2 601.7H1045.4V602.8H1048.1M1066.2 603.9H1045.3V604.7H1066.2M1045.3 604.3H1044.6V605.4H1066.2M1045.4 602.2H1043.3V604.9H1044.6M1033.8 591.8H1028.3V603.5H1043.3M1030.6 565.8H1026.4V597.7H1028.3M1066.2 606.9H1052.9V607.7H1066.2M1066.2 606.2H1048.8V607.3H1052.9M1048.8 606.8H1048.2V608.5H1066.2M1066.2 609.2H1048.1V610H1066.2M1048.1 609.6H1047.1V610.7H1066.2M1048.2 607.6H1043.1V610.2H1047.1M1066.2 611.5H1048V612.2H1066.2M1066.2 613.7H1051.3V614.5H1066.2M1066.2 613H1049.3V614.1H1051.3M1048 611.9H1046.4V613.6H1049.3M1066.2 616H1052.5V616.8H1066.2M1066.2 618.3H1054.5V619H1066.2M1054.5 618.7H1053.2V619.8H1066.2M1066.2 617.5H1050.8V619.2H1053.2M1052.5 616.4H1049.4V618.4H1050.8M1066.2 615.3H1045.6V617.4H1049.4M1046.4 612.7H1044.2V616.3H1045.6M1066.2 620.5H1047.9V621.3H1066.2M1066.2 622.8H1048.2V623.6H1066.2M1066.2 622.1H1047.5V623.2H1048.2M1047.9 620.9H1043.5V622.6H1047.5M1044.2 614.5H1042.3V621.8H1043.5M1043.1 608.9H1038.3V618.1H1042.3M1066.2 624.3H1045.3V625.1H1066.2M1066.2 625.8H1047.2V626.6H1066.2M1066.2 628.1H1048.1V628.9H1066.2M1066.2 627.3H1047.5V628.5H1048.1M1047.2 626.2H1045.8V627.9H1047.5M1045.3 624.7H1042.7V627.1H1045.8M1066.2 629.6H1050.5V630.4H1066.2M1050.5 630H1049.7V631.1H1066.2M1042.7 625.9H1037.3V630.5H1049.7M1038.3 613.5H1025.4V628.2H1037.3M1026.4 581.7H1020.5V620.9H1025.4M1025.1 529.3H1017.9V601.3H1020.5M1066.2 631.9H1052.8V632.6H1066.2M1066.2 633.4H1052.1V634.1H1066.2M1052.8 632.2H1050.2V633.8H1052.1M1050.2 633H1030.3V634.9H1066.2M1017.9 565.3H993.3V633.9H1030.3M993.3 599.6V609.7M1066.2 637.2H1048.5V637.9H1066.2M1066.2 636.4H1045.1V637.5H1048.5M1066.2 638.7H1049.3V639.4H1066.2M1049.3 639H1043.2V640.2H1066.2M1045.1 637H1040.9V639.6H1043.2M1066.2 635.6H1040.3V638.3H1040.9M1066.2 640.9H1048.7V641.7H1066.2M1048.7 641.3H1044.6V642.4H1066.2M1040.3 637H1037.8V641.9H1044.6M1037.8 639.4H1031V643.2H1066.2M1031 641.3V641.7M993.3 609.7H980.5V641.7H1031M949.5 454.7H942.8V625.7H980.5" stroke="#111" stroke-width="0.9" fill="none"/>
<rect x="1057.5" y="160.3" width="8.8" height="483.2" fill="#111"/>
<text transform="rotate(0.03 1583 400) scale(0.1)" font-size="37" font-weight="bold" fill="#111"><tspan x="15633" y="1644" textLength="406" lengthAdjust="spacingAndGlyphs">cg17881450_20607220</tspan><tspan x="15633" y="1682" textLength="406" lengthAdjust="spacingAndGlyphs">cg01427926_196484810</tspan><tspan x="15633" y="1720" textLength="406" lengthAdjust="spacingAndGlyphs">cg02221143_46387932</tspan><tspan x="15633" y="1757" textLength="406" lengthAdjust="spacingAndGlyphs">cg22399074_55599211</tspan><tspan x="15633" y="1795" textLength="406" lengthAdjust="spacingAndGlyphs">cg23122468_24804298</tspan><tspan x="15633" y="1833" textLength="406" lengthAdjust="spacingAndGlyphs">cg12762490_41021017</tspan><tspan x="15633" y="1871" textLength="406" lengthAdjust="spacingAndGlyphs">cg17703551_81050598</tspan><tspan x="15633" y="1909" textLength="406" lengthAdjust="spacingAndGlyphs">cg12128886_17967341</tspan><tspan x="15633" y="1946" textLength="406" lengthAdjust="spacingAndGlyphs">cg04752143_148532263</tspan><tspan x="15633" y="1984" textLength="406" lengthAdjust="spacingAndGlyphs">cg10895264_175646495</tspan><tspan x="15633" y="2022" textLength="406" lengthAdjust="spacingAndGlyphs">cg14362561_60232189</tspan><tspan x="15633" y="2060" textLength="406" lengthAdjust="spacingAndGlyphs">cg04171585_11769838</tspan><tspan x="15633" y="2098" textLength="406" lengthAdjust="spacingAndGlyphs">cg02644734_130752846</tspan><tspan x="15633" y="2135" textLength="406" lengthAdjust="spacingAndGlyphs">cg10902384_09175679</tspan><tspan x="15633" y="2173" textLength="406" lengthAdjust="spacingAndGlyphs">cg28897921_197767194</tspan><tspan x="15633" y="2211" textLength="406" lengthAdjust="spacingAndGlyphs">cg13523120_167912372</tspan><tspan x="15633" y="2249" textLength="406" lengthAdjust="spacingAndGlyphs">cg24389682_74941383</tspan><tspan x="15633" y="2287" textLength="406" lengthAdjust="spacingAndGlyphs">cg12460145_119637104</tspan><tspan x="15633" y="2324" textLength="406" lengthAdjust="spacingAndGlyphs">cg07815892_71670640</tspan><tspan x="15633" y="2362" textLength="406" lengthAdjust="spacingAndGlyphs">cg06238781_125556239</tspan><tspan x="15633" y="2400" textLength="406" lengthAdjust="spacingAndGlyphs">cg06088094_42766995</tspan><tspan x="15633" y="2438" textLength="406" lengthAdjust="spacingAndGlyphs">cg27368954_121682381</tspan><tspan x="15633" y="2476" textLength="406" lengthAdjust="spacingAndGlyphs">cg24007927_93299200</tspan><tspan x="15633" y="2513" textLength="406" lengthAdjust="spacingAndGlyphs">cg25469655_36019223</tspan><tspan x="15633" y="2551" textLength="406" lengthAdjust="spacingAndGlyphs">cg19993085_191873689</tspan><tspan x="15633" y="2589" textLength="406" lengthAdjust="spacingAndGlyphs">cg21946018_105421476</tspan><tspan x="15633" y="2627" textLength="406" lengthAdjust="spacingAndGlyphs">cg25586224_150806546</tspan><tspan x="15633" y="2665" textLength="406" lengthAdjust="spacingAndGlyphs">cg02185888_51174944</tspan><tspan x="15633" y="2702" textLength="406" lengthAdjust="spacingAndGlyphs">cg10189574_97335080</tspan><tspan x="15633" y="2740" textLength="406" lengthAdjust="spacingAndGlyphs">cg22554551_73409175</tspan><tspan x="15633" y="2778" textLength="406" lengthAdjust="spacingAndGlyphs">cg17866816_63396529</tspan><tspan x="15633" y="2816" textLength="406" lengthAdjust="spacingAndGlyphs">cg21432272_26886615</tspan><tspan x="15633" y="2854" textLength="406" lengthAdjust="spacingAndGlyphs">cg18619840_89776163</tspan><tspan x="15633" y="2891" textLength="406" lengthAdjust="spacingAndGlyphs">cg12880353_61916634</tspan><tspan x="15633" y="2929" textLength="406" lengthAdjust="spacingAndGlyphs">cg20785382_85611190</tspan><tspan x="15633" y="2967" textLength="406" lengthAdjust="spacingAndGlyphs">cg00432564_02551866</tspan><tspan x="15633" y="3005" textLength="406" lengthAdjust="spacingAndGlyphs">cg14919599_185384571</tspan><tspan x="15633" y="3043" textLength="406" lengthAdjust="spacingAndGlyphs">cg29144741_115691237</tspan><tspan x="15633" y="3080" textLength="406" lengthAdjust="spacingAndGlyphs">cg26259215_169771111</tspan><tspan x="15633" y="3118" textLength="406" lengthAdjust="spacingAndGlyphs">cg24119548_99800528</tspan><tspan x="15633" y="3156" textLength="406" lengthAdjust="spacingAndGlyphs">cg10117209_133988573</tspan><tspan x="15633" y="3194" textLength="406" lengthAdjust="spacingAndGlyphs">cg07794767_153735742</tspan><tspan x="15633" y="3232" textLength="406" lengthAdjust="spacingAndGlyphs">cg23632984_59170121</tspan><tspan x="15633" y="3269" textLength="406" lengthAdjust="spacingAndGlyphs">cg10021215_55952607</tspan><tspan x="15633" y="3307" textLength="406" lengthAdjust="spacingAndGlyphs">cg24262921_170080113</tspan><tspan x="15633" y="3345" textLength="406" lengthAdjust="spacingAndGlyphs">cg11743690_150605866</tspan><tspan x="15633" y="3383" textLength="406" lengthAdjust="spacingAndGlyphs">cg25521996_128222045</tspan><tspan x="15633" y="3421" textLength="406" lengthAdjust="spacingAndGlyphs">cg19227631_95590057</tspan><tspan x="15633" y="3458" textLength="406" lengthAdjust="spacingAndGlyphs">cg27361359_187024233</tspan><tspan x="15633" y="3496" textLength="406" lengthAdjust="spacingAndGlyphs">cg12703573_22272814</tspan><tspan x="15633" y="3534" textLength="406" lengthAdjust="spacingAndGlyphs">cg29038293_02673985</tspan><tspan x="15633" y="3572" textLength="406" lengthAdjust="spacingAndGlyphs">cg19304427_07995083</tspan><tspan x="15633" y="3610" textLength="406" lengthAdjust="spacingAndGlyphs">cg19770187_146370153</tspan><tspan x="15633" y="3647" textLength="406" lengthAdjust="spacingAndGlyphs">cg23236849_104226733</tspan><tspan x="15633" y="3685" textLength="406" lengthAdjust="spacingAndGlyphs">cg21151967_173801550</tspan><tspan x="15633" y="3723" textLength="406" lengthAdjust="spacingAndGlyphs">cg10570800_133647382</tspan><tspan x="15633" y="3761" textLength="406" lengthAdjust="spacingAndGlyphs">cg06987111_116845377</tspan><tspan x="15633" y="3799" textLength="406" lengthAdjust="spacingAndGlyphs">cg26309173_174140711</tspan><tspan x="15633" y="3836" textLength="406" lengthAdjust="spacingAndGlyphs">cg18466023_160539412</tspan><tspan x="15633" y="3874" textLength="406" lengthAdjust="spacingAndGlyphs">cg25355272_56202634</tspan><tspan x="15633" y="3912" textLength="406" lengthAdjust="spacingAndGlyphs">cg16419269_09823636</tspan><tspan x="15633" y="3950" textLength="406" lengthAdjust="spacingAndGlyphs">cg15755835_58549172</tspan><tspan x="15633" y="3988" textLength="406" lengthAdjust="spacingAndGlyphs">cg10944952_126653889</tspan><tspan x="15633" y="4025" textLength="406" lengthAdjust="spacingAndGlyphs">cg26087328_00147543</tspan><tspan x="15633" y="4063" textLength="406" lengthAdjust="spacingAndGlyphs">cg23326066_69521057</tspan><tspan x="15633" y="4101" textLength="406" lengthAdjust="spacingAndGlyphs">cg09802237_178676964</tspan><tspan x="15633" y="4139" textLength="406" lengthAdjust="spacingAndGlyphs">cg23095176_36757852</tspan><tspan x="15633" y="4177" textLength="406" lengthAdjust="spacingAndGlyphs">cg21355558_118977862</tspan><tspan x="15633" y="4214" textLength="406" lengthAdjust="spacingAndGlyphs">cg26899413_196695699</tspan><tspan x="15633" y="4252" textLength="406" lengthAdjust="spacingAndGlyphs">cg20942972_179552239</tspan><tspan x="15633" y="4290" textLength="406" lengthAdjust="spacingAndGlyphs">cg28389027_55297848</tspan><tspan x="15633" y="4328" textLength="406" lengthAdjust="spacingAndGlyphs">cg09565138_143649865</tspan><tspan x="15633" y="4366" textLength="406" lengthAdjust="spacingAndGlyphs">cg16500043_160487212</tspan><tspan x="15633" y="4403" textLength="406" lengthAdjust="spacingAndGlyphs">cg06167789_195630348</tspan><tspan x="15633" y="4441" textLength="406" lengthAdjust="spacingAndGlyphs">cg06634978_83413630</tspan><tspan x="15633" y="4479" textLength="406" lengthAdjust="spacingAndGlyphs">cg13360025_92065264</tspan><tspan x="15633" y="4517" textLength="406" lengthAdjust="spacingAndGlyphs">cg00752886_25751375</tspan><tspan x="15633" y="4555" textLength="406" lengthAdjust="spacingAndGlyphs">cg09958614_93543904</tspan><tspan x="15633" y="4592" textLength="406" lengthAdjust="spacingAndGlyphs">cg24479670_51848220</tspan><tspan x="15633" y="4630" textLength="406" lengthAdjust="spacingAndGlyphs">cg19380975_39393392</tspan><tspan x="15633" y="4668" textLength="406" lengthAdjust="spacingAndGlyphs">cg05803431_111114207</tspan><tspan x="15633" y="4706" textLength="406" lengthAdjust="spacingAndGlyphs">cg24550292_76613387</tspan><tspan x="15633" y="4744" textLength="406" lengthAdjust="spacingAndGlyphs">cg03918055_100252013</tspan><tspan x="15633" y="4781" textLength="406" lengthAdjust="spacingAndGlyphs">cg25206740_158094727</tspan><tspan x="15633" y="4819" textLength="406" lengthAdjust="spacingAndGlyphs">cg04956642_25885998</tspan><tspan x="15633" y="4857" textLength="406" lengthAdjust="spacingAndGlyphs">cg10180233_67572850</tspan><tspan x="15633" y="4895" textLength="406" lengthAdjust="spacingAndGlyphs">cg25504706_138242580</tspan><tspan x="15633" y="4933" textLength="406" lengthAdjust="spacingAndGlyphs">cg13874058_72490487</tspan><tspan x="15633" y="4970" textLength="406" lengthAdjust="spacingAndGlyphs">cg21555403_122139671</tspan><tspan x="15633" y="5008" textLength="406" lengthAdjust="spacingAndGlyphs">cg29936929_76067220</tspan><tspan x="15633" y="5046" textLength="406" lengthAdjust="spacingAndGlyphs">cg25664920_182171975</tspan><tspan x="15633" y="5084" textLength="406" lengthAdjust="spacingAndGlyphs">cg23340288_150632238</tspan><tspan x="15633" y="5122" textLength="406" lengthAdjust="spacingAndGlyphs">cg11529543_68430302</tspan><tspan x="15633" y="5159" textLength="406" lengthAdjust="spacingAndGlyphs">cg22090470_195615424</tspan><tspan x="15633" y="5197" textLength="406" lengthAdjust="spacingAndGlyphs">cg00440797_59661056</tspan><tspan x="15633" y="5235" textLength="406" lengthAdjust="spacingAndGlyphs">cg11076544_61586461</tspan><tspan x="15633" y="5273" textLength="406" lengthAdjust="spacingAndGlyphs">cg10771842_53274439</tspan><tspan x="15633" y="5311" textLength="406" lengthAdjust="spacingAndGlyphs">cg26760215_115498027</tspan><tspan x="15633" y="5348" textLength="406" lengthAdjust="spacingAndGlyphs">cg08823516_91860440</tspan><tspan x="15633" y="5386" textLength="406" lengthAdjust="spacingAndGlyphs">cg00801413_195836064</tspan><tspan x="15633" y="5424" textLength="406" lengthAdjust="spacingAndGlyphs">cg28044128_173716738</tspan><tspan x="15633" y="5462" textLength="406" lengthAdjust="spacingAndGlyphs">cg10366924_75678893</tspan><tspan x="15633" y="5500" textLength="406" lengthAdjust="spacingAndGlyphs">cg00454800_137674821</tspan><tspan x="15633" y="5537" textLength="406" lengthAdjust="spacingAndGlyphs">cg09137402_36867603</tspan><tspan x="15633" y="5575" textLength="406" lengthAdjust="spacingAndGlyphs">cg07117193_98060260</tspan><tspan x="15633" y="5613" textLength="406" lengthAdjust="spacingAndGlyphs">cg03915649_171244411</tspan><tspan x="15633" y="5651" textLength="406" lengthAdjust="spacingAndGlyphs">cg12321936_91880327</tspan><tspan x="15633" y="5689" textLength="406" lengthAdjust="spacingAndGlyphs">cg04011661_136407975</tspan><tspan x="15633" y="5726" textLength="406" lengthAdjust="spacingAndGlyphs">cg06029590_114679071</tspan><tspan x="15633" y="5764" textLength="406" lengthAdjust="spacingAndGlyphs">cg08391253_23276946</tspan><tspan x="15633" y="5802" textLength="406" lengthAdjust="spacingAndGlyphs">cg19405544_119770973</tspan><tspan x="15633" y="5840" textLength="406" lengthAdjust="spacingAndGlyphs">cg16737599_81879997</tspan><tspan x="15633" y="5878" textLength="406" lengthAdjust="spacingAndGlyphs">cg12284127_141179716</tspan><tspan x="15633" y="5915" textLength="406" lengthAdjust="spacingAndGlyphs">cg17358184_194360526</tspan><tspan x="15633" y="5953" textLength="406" lengthAdjust="spacingAndGlyphs">cg01425819_92213544</tspan><tspan x="15633" y="5991" textLength="406" lengthAdjust="spacingAndGlyphs">cg14117559_167241473</tspan><tspan x="15633" y="6029" textLength="406" lengthAdjust="spacingAndGlyphs">cg26550605_70379492</tspan><tspan x="15633" y="6067" textLength="406" lengthAdjust="spacingAndGlyphs">cg18849705_48745306</tspan><tspan x="15633" y="6104" textLength="406" lengthAdjust="spacingAndGlyphs">cg15956993_133905393</tspan><tspan x="15633" y="6142" textLength="406" lengthAdjust="spacingAndGlyphs">cg11058714_35999694</tspan><tspan x="15633" y="6180" textLength="406" lengthAdjust="spacingAndGlyphs">cg08195377_69260015</tspan><tspan x="15633" y="6218" textLength="406" lengthAdjust="spacingAndGlyphs">cg20412244_185152272</tspan><tspan x="15633" y="6256" textLength="406" lengthAdjust="spacingAndGlyphs">cg03309467_63222627</tspan><tspan x="15633" y="6293" textLength="406" lengthAdjust="spacingAndGlyphs">cg08312256_66276313</tspan><tspan x="15633" y="6331" textLength="406" lengthAdjust="spacingAndGlyphs">cg01127429_52895029</tspan><tspan x="15633" y="6369" textLength="406" lengthAdjust="spacingAndGlyphs">cg23507709_140512514</tspan><tspan x="15633" y="6407" textLength="406" lengthAdjust="spacingAndGlyphs">cg07992606_35095868</tspan><tspan x="15633" y="6445" textLength="406" lengthAdjust="spacingAndGlyphs">cg17971954_182731234</tspan></text>
<path d="M1085.8 657.9H1296.3M1332.3 657.9H1544.7" stroke="#1a1a1a" stroke-width="4"/>
<text transform="translate(1196.5 689.8) scale(1 1.1)" font-size="28" font-weight="bold" font-style="italic" text-anchor="middle" fill="#1a1a1a">Ctns<tspan font-size="17" dy="-8.5">-/-</tspan></text>
<text transform="translate(1436 689.8) scale(1 1.1)" font-size="28" font-weight="bold" text-anchor="middle" fill="#1a1a1a">WT</text>
</g>
<g id="C">
<text transform="translate(4.77 780) scale(0.934 1.02)" font-size="71" font-weight="bold" fill="#1f1f1f">C</text>
<rect x="99.5" y="801" width="582.5" height="650.6" fill="#ebebeb"/>
<path d="M119 801V1451.6M277.6 801V1451.6M436.2 801V1451.6M594.8 801V1451.6M99.5 1332.8H682M99.5 1152.5H682M99.5 972.2H682" stroke="#fafafa" stroke-width="1.1"/>
<path d="M198.3 801V1451.6M356.9 801V1451.6M515.5 801V1451.6M674.1 801V1451.6M99.5 1422.9H682M99.5 1242.6H682M99.5 1062.3H682M99.5 882H682" stroke="#fff" stroke-width="1.8"/>
<g stroke="#000" stroke-opacity="0.25" stroke-width="8" stroke-linecap="round" fill="none">
<path d="M350 1403h0M365.7 1413.2h0M386.2 1355.3h0M388 1366h0M338.5 1353.4h0M367.7 1361.7h0M362.6 1395.7h0M344.1 1381.3h0M360.8 1418.9h0M384.9 1386.5h0M350.6 1397.3h0M352.2 1392.8h0M320.6 1372.3h0M376.5 1355h0M371 1389h0M338.6 1351.4h0M376.2 1409.5h0M360.7 1412.4h0M329.4 1351.5h0M340.8 1413.4h0M381.4 1352.4h0M317.3 1354h0M369.1 1394.7h0M378.9 1354.5h0M335.7 1396.3h0M370.9 1392.3h0M330.7 1373.1h0M378.1 1410.8h0M344.9 1411.8h0M376.4 1381.5h0M330.1 1401.5h0M327 1371.4h0M343.3 1371.9h0M321.9 1369.6h0M345.9 1386.2h0M335.6 1382.7h0M389.3 1372.7h0M337.6 1358.1h0M366.2 1393.4h0M338.1 1354.2h0M362.5 1407.2h0M343.1 1360.2h0M322.7 1367.2h0M351.4 1388.2h0M317.1 1364.7h0M384.6 1351.7h0M388.8 1371.7h0M329.6 1398.9h0M366.8 1355.9h0M334.2 1363.5h0M361.7 1397.4h0M372.7 1376.2h0M319.9 1352.5h0M383.4 1376.9h0M338.5 1372.7h0M379.1 1369.3h0M367.4 1382.3h0M367.1 1389.2h0M315 1351h0M317.6 1365.2h0M375.3 1353.8h0M366.4 1383.4h0M359.4 1399.8h0M381.2 1396.1h0M376.6 1372.6h0M383.8 1358.7h0M372 1355.4h0M343.7 1403.1h0M343.1 1373.4h0M349.5 1415h0M329.6 1385.1h0M332.9 1389.3h0M348.4 1372.1h0M345.2 1418.4h0M373.7 1394.5h0M343.6 1393.7h0M381.8 1384.8h0M320 1370.7h0M344.1 1383h0M337.8 1390.8h0M361.3 1418.8h0M390.6 1361.4h0M368.3 1417.4h0M389.3 1363h0M361 1389.4h0M340.7 1367.7h0M366.5 1387.7h0M382.1 1393.2h0M334.3 1362.3h0M329.8 1399.9h0M388.8 1375h0M334.2 1406.6h0M358.2 1422.2h0M382.5 1370.5h0M382.6 1373.9h0M325.8 1352.2h0M358.9 1412.3h0M324 1405.5h0M352.5 1395.7h0M336.7 1408.9h0M349.3 1394.8h0M328.6 1375.1h0M332.7 1353h0M325.1 1381.9h0M385.3 1355.1h0M326.9 1365.9h0M378.4 1400.7h0M348.4 1413.7h0M327.5 1373.6h0M351.3 1400.7h0M334.6 1404h0M350.2 1421.1h0M349.6 1419.4h0M351 1384.7h0M365.1 1417.3h0M362.2 1420.8h0M322.1 1369.4h0M362.2 1406h0M325.5 1397.1h0M382 1392.4h0M332.1 1358.4h0M321.9 1388.2h0M387.3 1384.6h0M314.9 1351.1h0M383.6 1352.7h0M330 1377.4h0M382.3 1377.7h0M326.7 1350.9h0M405 1352.7h0M368.9 1375.2h0M370.2 1379.4h0M340.4 1412.9h0M333.6 1351.8h0M317.5 1358.9h0M387.7 1371.8h0M360.3 1400.5h0M378.1 1397h0M299 1352h0M366.3 1402.5h0M318.2 1369h0M387 1369.5h0M362.4 1408.6h0M380.5 1354.7h0M368.8 1361.5h0M381.9 1399.7h0M367.5 1387.3h0M374.4 1353.9h0M344.5 1387.6h0M326.5 1396.1h0M384.4 1389.4h0M327.4 1402.6h0M340.5 1379.5h0M361.3 1385.7h0M325.8 1395.6h0M320 1355.7h0M361.2 1408.6h0M395.5 1356.1h0M359.1 1405.8h0M375.1 1389.3h0M324.8 1354.4h0M367.6 1382.4h0M316.5 1365h0M327.6 1360.7h0M383.6 1366.4h0M379.1 1390.9h0M338.8 1384.1h0M334.2 1367h0M387.9 1402.8h0M376.7 1365.4h0M330 1377h0M370.2 1391.7h0M365.3 1368.5h0M370.5 1371.7h0M346.6 1369.6h0M384.7 1367h0M337.8 1391.3h0M328.1 1381.6h0M377.5 1386.6h0M351.2 1419.7h0M388.9 1356.7h0M321.2 1355.3h0M374.6 1401.7h0M368.4 1378.6h0M368.4 1400.3h0M346.5 1416.6h0M387.5 1357.9h0M346.6 1403.8h0M371.3 1365.4h0M362.5 1417.3h0M348.4 1395.8h0M362.4 1390.9h0M375 1402.7h0M324.1 1354.5h0M343.1 1385.5h0M330.6 1373.8h0M385.8 1359.1h0M369.4 1414.5h0M337.6 1375.5h0M385.5 1366.9h0M348.4 1380.7h0M375.2 1411.1h0M387.2 1364.7h0M368.7 1399.2h0M362.2 1387.6h0M330.4 1399.1h0M331.4 1360.5h0M375.1 1361.2h0M349.8 1415.4h0M370.5 1379.5h0M384.9 1384h0M312 1363.7h0M329.8 1357.6h0M329.7 1362.4h0M359.3 1409.9h0M358.9 1409.9h0M348.7 1374.9h0M383.1 1380h0M325.7 1356h0M365.6 1392.3h0M379.1 1381.6h0M341.1 1417.5h0M333 1392.3h0M371.5 1378.3h0M371.7 1359h0M382.6 1379.6h0M351.6 1398.6h0M385.3 1376.7h0M360.9 1417.1h0M378.7 1387.2h0M374.6 1366.9h0M360.8 1420.8h0M360.9 1418.6h0M332.4 1353h0M336.5 1385.9h0M364.9 1386.6h0M326.5 1355.8h0M370.7 1354h0M348.9 1416.3h0M340.2 1396.4h0M384.4 1388.3h0M342.5 1358.8h0M368.7 1393.9h0M336.1 1413.5h0M373.1 1365.4h0M378.6 1373.7h0M322.3 1385.6h0M344.5 1415.2h0M366.5 1403.7h0M320.3 1359.4h0M370.8 1381.6h0M343.8 1416.7h0M343.5 1373.4h0M366.4 1371.4h0M390.2 1356h0M374.6 1384h0M361.7 1384.2h0M359 1402.9h0M374.1 1364.1h0M367.1 1362.3h0M338.4 1387.9h0M321.1 1354.7h0M369.1 1355.5h0M346.4 1393.6h0M351.3 1418.9h0M375.4 1395.8h0M344.2 1399.3h0M379 1363h0M322 1367.5h0M387.8 1359.5h0M347 1365.1h0M327 1370.3h0M339.4 1414.8h0M321.7 1383.3h0M333.6 1364.1h0M338.1 1412.1h0M367.6 1374.9h0M338.5 1353.6h0M383.8 1352h0M347.9 1385.5h0M364.9 1398.4h0M336.1 1376.5h0M381.3 1367.4h0M358.5 1421.9h0M367.6 1387.4h0M378.9 1354.6h0M400.6 1353.3h0M379.3 1389.9h0M365.8 1365.6h0M339.6 1354.1h0M371.1 1359.9h0M381.9 1399.1h0M329.9 1395.5h0M384.9 1369.9h0M378.2 1357.7h0M365.9 1409.1h0M368.6 1371.6h0M371.8 1398.1h0M340.2 1383.7h0M359.5 1415.1h0M343.6 1377.7h0M348.2 1376.1h0M318.3 1361h0M325.5 1394.2h0M346.2 1362h0M349.1 1373.5h0M373.9 1391h0M371.6 1392.7h0M382.5 1359.8h0M329.8 1395.5h0M387.1 1378h0M335.8 1353.4h0M370.1 1378.2h0M330.6 1395.4h0M382.1 1371.5h0M375 1412.2h0M369.9 1354.8h0M347 1406.3h0M377.4 1354h0M320.3 1377.4h0M374.4 1404.8h0M352.5 1400.2h0M328.7 1400.4h0M363 1375.5h0M336.1 1355.1h0M376.5 1354.6h0M340.5 1365.8h0M347.5 1383.4h0M383.4 1369.6h0M317.9 1353.7h0M379.3 1355.3h0M390.4 1357.2h0M382.3 1383.6h0M378.8 1375h0M360.7 1421.6h0M320.3 1362.6h0M377.4 1370.1h0M321.4 1362.9h0M366 1413.8h0M378.5 1389.3h0M385.1 1374.9h0M384.6 1363.2h0M346 1402.8h0M361.8 1396.1h0M345.8 1362.3h0M341 1377h0M378.8 1382.9h0M366.3 1364h0M366.3 1379.1h0M376.9 1362.6h0M319.8 1355.3h0M348.8 1377h0M341.7 1369.7h0M379.8 1392.7h0M379.9 1382.6h0M335.4 1362.3h0M385.9 1380.7h0M372.5 1409.8h0M381 1394.5h0M327.4 1389.9h0M380 1400.7h0M315.3 1379h0M321.4 1364.9h0M361.5 1393.5h0M343.4 1362.4h0M386.5 1379.7h0M368.3 1379.9h0M351.2 1416.4h0M371 1372.1h0M368.8 1380.5h0M336.5 1378.5h0M328.9 1375.3h0M353 1420.3h0M368.6 1368.4h0M343.2 1363.1h0M369.2 1394.3h0M339.5 1352.5h0M385.9 1379.3h0M377.5 1374h0M341.6 1399.2h0M385.3 1369.4h0M334.3 1391.7h0M316.2 1356.1h0M324 1377.3h0M377.7 1366.7h0M388.2 1376.8h0M326.9 1365.2h0M381.6 1371.9h0M326.7 1365.3h0M333.7 1393h0M379.6 1375.2h0M343.9 1416.5h0M360.8 1402.2h0M349.9 1394.8h0M365.8 1382.5h0M371.8 1393.6h0M339.8 1415.1h0M333.3 1375.6h0M361.7 1389.5h0M380.3 1395.4h0M321.6 1377.5h0M341.7 1409.9h0M341 1366.9h0M373.4 1410.2h0M374.5 1413.1h0M370.3 1373h0M383 1360h0M332.8 1399.3h0M327.9 1397.2h0M390.2 1351.7h0M365.1 1416.6h0M323.4 1378.8h0M352.3 1397.5h0M342.9 1373.3h0M335.9 1393.2h0M332.6 1392.4h0M367.7 1376.4h0M341.6 1361.6h0M351.5 1403.4h0M375.8 1398.3h0M369.5 1371.6h0M387 1379.3h0M329.5 1396.2h0M368.8 1355.4h0M344.8 1377.4h0M328.4 1374.9h0M375.1 1382.9h0M340.1 1379.1h0M389.5 1357.5h0M378.3 1405.1h0M353.3 1414.6h0M385 1365.4h0M370.5 1409.1h0M364.8 1414.1h0M339.9 1369.9h0"/>
<path d="M368.3 1399h0M353.9 1421.7h0M334.6 1394.5h0M370.1 1392.1h0M322.6 1376.7h0M369.7 1361.1h0M335.2 1391.5h0M332.4 1359.3h0M369.5 1389.7h0M377.2 1374.7h0M368.4 1399h0M339.8 1378.7h0M377.1 1351.8h0M370.6 1414.8h0M359.7 1395.1h0M333.7 1353.5h0M388.1 1365.3h0M389.1 1368h0M345.5 1391.5h0M386.5 1361.5h0M381.9 1352.3h0M378.8 1365.5h0M386.1 1355.8h0M353 1419.9h0M340.5 1397.7h0M387.1 1367.5h0M334.8 1358h0M387.5 1374.6h0M332.3 1377.4h0M330.2 1404.2h0M388.2 1365.8h0M365.1 1403.2h0M380 1355h0M338.8 1397.2h0M319 1362.4h0M378.1 1372.3h0M347.9 1371h0M339 1382.1h0M342.4 1371.7h0M365.5 1377h0M367.2 1365h0M365.8 1378.5h0M381.5 1389.3h0M320.9 1400.6h0M353.5 1396.8h0M385.4 1381.2h0M361.3 1420h0M381.3 1391.6h0M378.4 1352.4h0M382.1 1355.1h0M324.1 1354.3h0M381.7 1388.9h0M372.5 1385.5h0M363.9 1415.8h0M370.5 1410.4h0M368.4 1400.4h0M339.9 1371.4h0M338.7 1387.9h0M380.1 1371.1h0M318.1 1387h0M376.8 1368.8h0M385.4 1353.6h0M371 1366.1h0M364.5 1401.6h0M372.9 1373.1h0M338.3 1384.9h0M347.3 1405.3h0M368.3 1374.1h0M348.5 1406.8h0M332.2 1354.7h0M368.7 1378.8h0M392.4 1352.7h0M349.7 1389.3h0M353.7 1406.4h0M311.1 1370.9h0M369.4 1404.3h0M379.6 1389.2h0M349.2 1385.5h0M322.1 1378.4h0M364 1410.7h0M326.5 1361.1h0M351.4 1398.6h0M331.3 1374.8h0M341.9 1403.3h0M382.8 1389.7h0M343.5 1390.2h0M368.9 1421h0M382.4 1366h0M365.9 1390.2h0M338.7 1398.1h0M404.1 1387.1h0M344.4 1388.5h0M338.7 1392.6h0M347.1 1414.7h0M381.6 1366.7h0M374.1 1404.1h0M362.7 1376.8h0M334.2 1399.9h0M331.5 1354h0M330.8 1408.2h0M377.9 1365.6h0M381.7 1357.9h0M370.2 1385.8h0M345.8 1393.1h0M340.3 1364.2h0M343.3 1381.5h0M331.2 1399.8h0M341.8 1351.5h0M334.6 1406.9h0M350 1419.7h0M322.9 1357.4h0M343.1 1361.9h0M370.7 1362.2h0M386.3 1380.1h0M385.1 1367.6h0M395.5 1379.5h0M358.1 1422.3h0M337.9 1363.8h0M339.1 1410h0M378.2 1396.5h0M370 1360.2h0M372 1405.5h0M379.9 1405h0M352.8 1406h0M374.3 1351.3h0M346.7 1419.9h0M369.8 1399.3h0M342 1358h0M363.2 1388.9h0M371.9 1409h0M363.6 1376.5h0M375.9 1352.3h0M392.1 1356.8h0M336.8 1364.2h0M379.4 1354h0M325 1361.8h0M364.4 1391.5h0M319.6 1379.1h0M366.4 1409h0M317.7 1359.2h0M383.5 1388.3h0M359.7 1417.3h0M370.3 1414h0M332.9 1383.9h0M377.7 1375.1h0M376.9 1404h0M367.5 1411.9h0M372.4 1355.1h0M326.5 1354.3h0M329.7 1383.4h0M368.1 1360.4h0M345.4 1380.7h0M361.6 1390.3h0M383.7 1366.2h0M336.9 1398.9h0M373.6 1390.4h0M366.1 1395.9h0M322.3 1354.1h0M372.8 1402.8h0M327.3 1357.1h0M378.9 1389.1h0M355.2 1422.3h0M360 1409.9h0M336.1 1404.4h0M367.5 1417.9h0M352.4 1418.3h0M334.1 1359.4h0M381.3 1371.2h0M331.5 1387.9h0M340.9 1371.7h0M339.6 1366.7h0M337.9 1364.1h0M374.7 1352.5h0M350 1399.7h0M385.9 1388.1h0M329.3 1355.2h0M377.8 1397.1h0M377.9 1364h0M335.2 1359.1h0M383.2 1361.3h0M325.2 1394.5h0M321.1 1367h0M387.9 1352.1h0M380.1 1363.7h0M318.2 1356.8h0M369.4 1376.9h0M328 1410.4h0M373.2 1410.8h0M362.6 1417.3h0M347.6 1379.2h0M390.6 1355.9h0M332.8 1399.8h0M343.2 1412.2h0M354.9 1419.4h0M366 1366.5h0M325.4 1378.5h0M325.5 1356.8h0M368.6 1390.1h0M345.2 1408.6h0M328.7 1353.8h0M332.4 1358.3h0M333.6 1404.7h0M338.1 1362.3h0M335 1357.4h0M384.9 1356.5h0M326.4 1379.3h0M330.8 1376.2h0M322.3 1351.2h0M326.6 1364.5h0M364.6 1407.9h0M346.3 1419.2h0M381.8 1386.8h0M350.6 1409.1h0M338.2 1370.8h0M339.6 1353.1h0M334.1 1407.5h0M371.3 1374.1h0M382.9 1393.8h0M348.4 1400.4h0M379.9 1391.6h0M375.9 1386.5h0M379.5 1403.8h0M345 1372.3h0M337.6 1396.8h0M361.8 1406.4h0M328.6 1356.9h0M341.9 1401.3h0M324.3 1364.1h0M372.8 1412.9h0M346.6 1407.3h0M336.8 1352.8h0M325.9 1379.4h0M314 1384.8h0M317.2 1360.5h0M303.8 1363.6h0M345.7 1418.4h0M389 1373.9h0M327.9 1383.2h0M375.6 1399.5h0M397 1382.5h0M373.2 1367.7h0M334.8 1374.3h0M373.9 1410.1h0M341.6 1389.8h0M332.9 1355.3h0M375.8 1417.9h0M328 1377h0M387.8 1375.3h0M376 1373.1h0M345.1 1407h0M332.1 1387.2h0M390.4 1370.8h0M325.9 1356.7h0M362.1 1382.3h0M325 1362h0M367.8 1417.4h0M381.6 1371.9h0M370.9 1412.5h0M386.2 1358h0M342.1 1391.8h0M341.5 1361.3h0M323.3 1357.2h0M390.6 1386.5h0M366.1 1417.3h0M382.3 1381.7h0M375.3 1412.2h0M378.3 1359.2h0M340.8 1357.5h0M328.6 1362.3h0M375.9 1380.9h0M369.5 1367.8h0M319.5 1361.6h0M326.1 1392.4h0M377.5 1398.8h0M359.3 1413.3h0M374.8 1362.3h0M375.8 1380.9h0M353.1 1401.3h0M364 1410.8h0M341.4 1393.5h0M372.9 1359h0M370.2 1412h0M326 1352.7h0M330.2 1407h0M370 1387.4h0M345.7 1401.5h0M370.2 1376.7h0M337 1358.6h0M365.5 1419.4h0M389.2 1360.4h0M375.8 1353.4h0M365.2 1369.3h0M348.6 1374.9h0M365.3 1372h0M373.2 1381.7h0M366.8 1395.3h0M327 1370h0M364.2 1392h0M389.1 1371.8h0M368.8 1414.5h0M315.4 1358.2h0M331.5 1388.6h0M387.8 1351.2h0M351 1397.3h0M381 1360.3h0M344.3 1402.2h0M372.9 1370.2h0M372.9 1411.8h0M340.3 1408.8h0M378.1 1367.7h0M351 1411.1h0M387.8 1375.5h0M349.5 1387.4h0M375.4 1370.5h0M329.2 1364.5h0M374.3 1370.7h0M328.2 1351.5h0M332.5 1366.5h0M345.5 1403.3h0M387.8 1352.6h0M361.7 1419.4h0M368.9 1382.6h0M325.9 1366.5h0M342.3 1356.8h0M377.3 1380.2h0M331.6 1370.3h0M383.8 1379.9h0M334.4 1386h0M366.3 1412.9h0M380.9 1372h0M340.3 1389.9h0M362 1402.1h0M375 1387.5h0M373.3 1357.8h0M386.5 1355.9h0M372.7 1386.5h0M356.9 1422.6h0M341.7 1388.8h0M319.5 1369.9h0M324.6 1352h0M329 1374.5h0M326.7 1370.9h0M361.3 1388.4h0M348.3 1386.1h0M386.1 1368.2h0M335.6 1385.4h0M338.5 1403h0M327.6 1394.3h0M381.9 1359.7h0M320.9 1362.7h0M368.1 1367.2h0M383 1358.2h0M325.6 1362.9h0M378.7 1398.9h0M322.2 1375.8h0M373.5 1372.6h0M331.8 1388.8h0M381.5 1385h0M344 1395.9h0M385.7 1379h0M372.7 1407.4h0M327.1 1366.2h0M365.2 1415.2h0M372 1368.2h0M338.7 1371.1h0M366.4 1375.8h0M369.4 1370.1h0M390.5 1354.9h0M379 1406.3h0M380.9 1353.5h0M341.4 1403.5h0M323.9 1385.5h0M343.3 1364.1h0M336.9 1354.8h0M339.6 1411h0M340.7 1398.4h0M388.4 1363.3h0M380.5 1371.9h0M348.4 1396h0M368.8 1381.1h0M339.9 1385.9h0M319.8 1359.1h0M376.9 1407.2h0M343.2 1369.9h0M359.2 1419.9h0M345 1378.4h0M370.7 1376h0M346.8 1377.2h0M352.3 1421.8h0M320.3 1380h0M348 1416.6h0M328.8 1372.5h0M343.3 1406.5h0M344 1356.9h0M371.5 1403.2h0M331.1 1351.7h0M330.7 1376h0M389.4 1372.9h0M380.1 1381h0M324.7 1381.2h0M342.5 1353h0M335.8 1376.6h0M346.9 1368.4h0M377 1351.6h0M330.6 1367.1h0M321.6 1362.7h0M342.5 1408.4h0M382.1 1394.9h0M342.9 1370.2h0M375.5 1362h0M323.4 1375.8h0M359.2 1414.1h0M321.6 1360.2h0M380.6 1353.9h0M340.9 1384.1h0M368.4 1359.9h0M348.8 1398.9h0M336.4 1400.8h0M364.5 1414.4h0M372.1 1419.1h0M347.7 1382.6h0M334.6 1365.3h0M348.9 1407.1h0M345.4 1407h0M326.4 1373.8h0M331 1378.1h0M386.1 1381.8h0M320.7 1377.2h0M338.8 1405.8h0M339.1 1416.8h0M374.9 1408.4h0M333.1 1388.3h0M332.8 1373.1h0M380.8 1361.7h0"/>
<path d="M380.2 1354.4h0M345 1363.3h0M323.5 1358.1h0M357 1422.5h0M379.9 1354.4h0M367.9 1372h0M329.2 1393.4h0M373.4 1408.4h0M316.7 1379h0M331.7 1396.4h0M381.6 1401.6h0M326.8 1393.5h0M376.7 1355.5h0M377.9 1384.8h0M370.4 1368.5h0M366.7 1412.8h0M379.8 1403.9h0M358.5 1422.1h0M342.3 1399.2h0M352.3 1416.7h0M386.1 1365.6h0M363.6 1420.5h0M361.9 1413h0M372.7 1405.3h0M364.6 1418.1h0M367.2 1414.6h0M326.8 1375.6h0M320.8 1378.8h0M359.4 1418h0M342.4 1404.2h0M352.3 1420.1h0M361.6 1420.5h0M326.9 1381.4h0M344.3 1370.6h0M350.1 1408.3h0M373.5 1394.3h0M329.2 1361.4h0M349.4 1409.1h0M322.7 1376.4h0M326.2 1395.5h0M383.5 1363.3h0M365.9 1369.1h0M341.1 1403h0M377.9 1408.3h0M385.7 1364.5h0M385.3 1358.9h0M337.2 1413.4h0M371.5 1373h0M372.3 1355.6h0M370 1366.2h0M334.8 1353.2h0M367.8 1415h0M367.4 1387.5h0M385 1377h0M371.5 1396.8h0M360.1 1405.6h0M337.8 1386.3h0M354.8 1418.8h0M379.8 1379h0M367.7 1389.6h0M334.1 1356.6h0M334.3 1398.1h0M318 1360.4h0M382 1353.7h0M380.4 1398.7h0M343 1381.7h0M326.6 1352.6h0M329 1359.3h0M369.7 1377.5h0M343.1 1408.9h0M372.5 1404.7h0M362.1 1396.7h0M367.2 1418.5h0M388.5 1353.9h0M326.2 1373.7h0M375.2 1373.6h0M363.9 1398.2h0M342.8 1400.7h0M380.4 1396.1h0M343.3 1380.5h0M341.3 1383.4h0M365.1 1367.4h0M339.5 1413.7h0M329.1 1354.5h0M324.9 1351.2h0M343.5 1372.5h0M372.2 1366.3h0M388.8 1383.2h0M326.2 1393.5h0M369.8 1406.6h0M345.6 1408.3h0M373.5 1382.4h0M374 1401.2h0M389.3 1368.2h0M386.8 1380.5h0M319.8 1370.4h0M344.1 1410.5h0M343.2 1414.9h0M375.9 1399.3h0M376.7 1380.1h0M385.6 1381.9h0M369.7 1369.4h0M320.9 1362.6h0M371.2 1372.8h0M380.7 1388.3h0M340.7 1367.7h0M340.7 1399.9h0M371.5 1414.3h0M388.6 1375.5h0M342.2 1353.9h0M372.9 1372.4h0M349.6 1399.4h0M375.6 1353.8h0M389.8 1354.6h0M337.6 1356.7h0M341.7 1390.2h0M361 1398.4h0M336.2 1374.3h0M365.8 1385.1h0M363.4 1396.1h0M323.6 1353.3h0M371.3 1405.9h0M376.4 1401.9h0M344.1 1390.6h0M343 1389.5h0M367 1386.4h0M343.6 1365.2h0M358.1 1422.2h0M346.3 1379.5h0M389.7 1374h0M345.5 1410.8h0M371.5 1414.4h0M367 1364.1h0M358.9 1408.6h0M361 1417h0M365 1376.3h0M341.7 1357.9h0M379.6 1374h0M398.2 1374.3h0M362.4 1419.7h0M376.7 1389.6h0M348.2 1395.7h0M368.8 1381.9h0M377.9 1390.2h0M341.9 1405.5h0M382.1 1369h0M326.1 1386.8h0M338.2 1415.2h0M337.8 1405.1h0M351.2 1409.8h0M363.4 1417.1h0M334.3 1407.6h0M389.4 1363.7h0M331 1365.2h0M359.6 1421.6h0M382.4 1360h0M362.6 1386.4h0M366.3 1416.2h0M362.3 1419.2h0M362.3 1412.4h0M319.6 1361.5h0M349.5 1393.2h0M374.2 1354h0M332.5 1386.3h0M379.1 1361.6h0M339.8 1359.3h0M365.3 1384.3h0M342.9 1388.5h0M337.1 1385h0M372.5 1400.6h0M340.6 1383.1h0M337.9 1394.9h0M365.1 1419.1h0M378.2 1371.9h0M351.9 1412.8h0M345.8 1369.4h0M345.1 1388h0M334.3 1410.8h0M375.3 1354h0M406.1 1370.5h0M344.5 1370.3h0M352.4 1402h0M384.6 1370.1h0M310.7 1376.9h0M369 1362.9h0M343.3 1410.1h0M368.8 1361.7h0M350.2 1390.1h0M340.8 1390.1h0M365.2 1415.4h0M379.4 1371.1h0M335.1 1403.8h0M384.7 1392.9h0M359.6 1421.6h0M322.2 1383.6h0M326.3 1389.3h0M362.8 1379.1h0M343.7 1359.5h0M363.1 1417.7h0M367.6 1375.4h0M328 1364.2h0M367.6 1355.6h0M366.1 1401.7h0M343.7 1376.2h0M373.3 1406.3h0M336.5 1389.2h0M367.2 1370.4h0M345.8 1402.3h0M348.1 1400.1h0M380 1363h0M376.8 1407.9h0M372.9 1383.9h0M314.2 1362.9h0M341.7 1362.5h0M366 1406.7h0M378.5 1364.3h0M368 1372.1h0M332.9 1358.1h0M359.1 1415.9h0M336.3 1356.6h0M346.7 1368.5h0M328.5 1357.7h0M373.8 1355.5h0M366.9 1368.2h0M350.1 1379.8h0M362.3 1382.8h0M332.4 1368h0M368.9 1395h0M331.9 1396.6h0M363.7 1415.4h0M341.3 1405.6h0M339 1354.2h0M351.5 1402.4h0M384 1373.4h0M341.6 1393.1h0M380.3 1380h0M345 1390.6h0M382 1394.7h0M350.5 1417.6h0M324.2 1384.2h0M343.8 1369.1h0M326.9 1386.2h0M367.6 1392.9h0M341.9 1389.2h0M348.4 1373.5h0M382.2 1395h0M316.7 1360.2h0M374.3 1371.2h0M381.2 1391.6h0M347 1372.5h0M343 1391.1h0M391.6 1380.1h0M364.2 1380.2h0M349.1 1396.2h0M364.2 1401.6h0M342.9 1360.4h0M348.5 1404.6h0M352 1391.3h0M332.3 1408.3h0M333 1379.6h0M334.8 1395.6h0M324.3 1387.6h0M373.5 1388.9h0M307.4 1365.1h0M377.9 1351.1h0M377.8 1409.7h0M375.6 1406.9h0M366 1400.2h0M376.7 1388.7h0M336.6 1404.1h0M403.7 1382.2h0M360.1 1395h0M357.1 1422.5h0M334.5 1369h0M340.3 1402.7h0M376.4 1393.8h0M384.6 1380.9h0M347.7 1381.2h0M308.3 1388.3h0M316.6 1362h0M377.2 1370.3h0M323.8 1366.7h0M317.6 1351.2h0M365.3 1412.7h0M366.4 1412.8h0M328.3 1392.1h0M370.7 1398.6h0M375.9 1387.4h0M384.4 1361.1h0M320.8 1357h0M360.8 1388.4h0M380.1 1351h0M334.1 1380.3h0M370.8 1364.6h0M384.9 1381h0M374.3 1410.3h0M352.3 1417h0M339.5 1380.3h0M368 1390.2h0M331.6 1363.5h0M342.5 1354.3h0M329.9 1400.3h0M369.4 1412.9h0M350.1 1419.3h0M343.1 1388.3h0M386 1377.3h0M333.4 1372.9h0M376.8 1358.7h0M353.1 1403.3h0M332.6 1407.9h0M319.2 1355.8h0M377.2 1400.5h0M351.5 1406.8h0M347.6 1392.6h0M322.7 1361.1h0M360.6 1389.8h0M365.4 1362.6h0M360.2 1420.5h0M324.6 1360.7h0M328.7 1376.1h0M321.4 1358h0M377 1363.5h0M326.8 1388.5h0M338.3 1384.2h0M380.8 1394.5h0M337.2 1364.2h0M386.5 1354.1h0M343.3 1360.6h0M384.1 1382h0M321.6 1352.2h0M337.6 1366h0M342.2 1412h0M344.3 1400.8h0M384.1 1362.2h0M353.5 1420.1h0M343.7 1362h0M391.7 1354h0M388.9 1359.8h0M387.5 1407h0M390 1362h0M348 1403.2h0M384 1385.8h0M317.6 1355.6h0M388.7 1352.7h0M347.4 1377.8h0M389.9 1368.8h0M379.2 1380.5h0M387 1378.5h0M375.3 1378.5h0M380.2 1373.3h0M376.5 1407.6h0M363.7 1374.1h0M359.7 1404.9h0M383.8 1381.5h0M352.4 1418.7h0M404 1365.1h0M381.9 1352.3h0M318.3 1383.6h0M351.2 1405.1h0M383.5 1385.6h0M341.2 1353.3h0M348.6 1418h0M374.2 1365.7h0M346.5 1379.4h0M373.7 1398.9h0M391.2 1363.2h0M335.7 1367.8h0M378 1370.7h0M362.7 1407.7h0M375.6 1357.7h0M329.7 1391.1h0M327 1394.3h0M348.3 1415.9h0M377.7 1371.8h0M360.6 1393.2h0M372.3 1367.4h0M369.5 1376.9h0M387.8 1380.1h0M350.3 1408.3h0M305.6 1385h0M378.1 1376.8h0M337 1414h0M370.6 1372.9h0M344.5 1418.2h0M319.8 1370.5h0M369.6 1417.3h0M325.5 1373.2h0M380 1380.3h0M346.6 1388.6h0M365.7 1373.8h0M334.2 1412.4h0M347.6 1406.6h0M368.1 1412h0M380.2 1394.6h0M345.8 1367.7h0M324.6 1379h0M329.5 1406.7h0M358.9 1417.9h0M317.4 1353.4h0M344 1382.1h0M383.8 1378.9h0M322.5 1353.3h0M319.5 1369.8h0M343.4 1380.4h0M338 1389.7h0M331.4 1408.4h0M380.5 1386h0M380.4 1400.2h0M385.2 1358.8h0M316.9 1351.1h0M366.4 1418.9h0M348.5 1385.5h0M360.1 1418.9h0M343.4 1395.5h0M354.1 1404h0M369.7 1416.5h0M330.5 1352.2h0M366.2 1374.3h0M381.2 1359.9h0M364.6 1411.8h0M320.2 1359.2h0M385.3 1353.6h0M385.2 1352.6h0M383.6 1389h0M350.6 1387.8h0M377.9 1359.3h0M396.7 1375.6h0M325.9 1358.1h0M368.7 1395.4h0M369.2 1416.5h0M383.2 1352.5h0M368.5 1352.9h0M368.1 1404.9h0M304.7 1366.2h0"/>
<path d="M379.5 1401.7h0M329.5 1388h0M370.5 1370.3h0M375.4 1405.6h0M365.9 1383.1h0M383.4 1374h0M377.7 1374.3h0M374.7 1398.6h0M325.9 1373.7h0M374 1384.6h0M336.7 1385h0M387.8 1359.5h0M339.2 1409.3h0M341.2 1367.6h0M364.7 1367.9h0M374.1 1385.7h0M324.4 1392.1h0M345.1 1397.6h0M370.2 1362.1h0M333.8 1355.2h0M333.9 1408.4h0M361.6 1397.4h0M368.6 1402.3h0M384.3 1356.2h0M375.2 1401.7h0M386.7 1364.9h0M338.7 1403.2h0M369.6 1399.1h0M333.8 1394.8h0M378.7 1354.9h0M318.8 1374.6h0M363.4 1418.9h0M318.6 1356.3h0M374.1 1365.1h0M324.9 1385.8h0M374.7 1401.6h0M370.9 1392.1h0M368.5 1380.8h0M325.6 1393.9h0M363.8 1405.3h0M322.3 1379.9h0M377 1379.4h0M320.9 1367.6h0M368.9 1387.2h0M342.8 1385.4h0M329.5 1395.5h0M347.5 1419.7h0M373.7 1363.5h0M380.3 1376.8h0M368.2 1380.1h0M391 1355.1h0M363.7 1416.8h0M381.2 1401.5h0M351.6 1399.5h0M344 1374.5h0M339.2 1366.5h0M343.3 1386.6h0M318.9 1363.1h0M314.4 1382.7h0M326.7 1382.5h0M330.2 1414h0M342.6 1385.2h0M375.2 1384.2h0M371.8 1395.5h0M380.7 1395.5h0M336.5 1382.1h0M337.5 1405.4h0M386.1 1354.1h0M373 1384.8h0M365.8 1392.7h0M385.5 1385.3h0M365 1413.4h0M395.9 1371.5h0M372.9 1353.2h0M365.2 1394.5h0M370.8 1362.3h0M325.8 1359.9h0M342.6 1396.2h0M368.3 1394.4h0M370.9 1372h0M382.8 1397.8h0M379.3 1381.8h0M358.7 1422.1h0M351.3 1416.8h0M368.9 1357.2h0M344.3 1376h0M349.8 1419.3h0M378.4 1396.2h0M364.7 1413.3h0M375.1 1393.1h0M344.8 1418.6h0M326.3 1361.2h0M344.8 1364.1h0M349.9 1414.6h0M348.5 1396.5h0M363.9 1400.8h0M381.8 1364.1h0M371.1 1372h0M341.9 1384.1h0M340.9 1352.9h0M327.6 1392.5h0M326.7 1385.9h0M370.4 1365.5h0M322.5 1363.9h0M346.8 1382.4h0M372.7 1394.2h0M366.7 1380.9h0M346.2 1378.4h0M336 1355.4h0M335.5 1352h0M364.8 1379.9h0M302.9 1375.7h0M336.1 1399.4h0M379.8 1351.7h0M382.5 1376.9h0M375.3 1378.3h0M364 1420.4h0M391 1358.4h0M384.5 1353.3h0M360.9 1404.9h0M337.9 1355.4h0M372.1 1360.7h0M377.1 1377.4h0M391.1 1353.9h0M328.9 1383.3h0M333.7 1350.8h0M376.1 1382.9h0M341.3 1355.9h0M391.3 1365.8h0M367.3 1374.6h0M372.2 1409.5h0M369.7 1374h0M339.1 1375.3h0M367.9 1388.7h0M386.3 1370.1h0M362.6 1413.3h0M335.3 1367.3h0M342 1414.4h0M338.4 1403.6h0M339.4 1363.1h0M348.7 1398.2h0M379.8 1394.7h0M370.1 1382.9h0M340.9 1393.3h0M368.6 1365.8h0M387.9 1360.6h0M409 1360.2h0M346.2 1374h0M369.6 1411.9h0M334.2 1391.2h0M379.5 1357.9h0M367 1405.7h0M367.5 1356.6h0M333.5 1393.7h0M340.6 1368.3h0M362.7 1381.2h0M359.6 1398.5h0M329.8 1377.7h0M342.5 1415.3h0M361.3 1392.9h0M342.6 1402.2h0M319.6 1366.2h0M370 1368.7h0M369.3 1381.5h0M376.1 1384.5h0M326.2 1389.6h0M331.1 1394.5h0M323.5 1379.9h0M330.1 1378.8h0M378.1 1403.2h0M374.9 1394.5h0M367.6 1379.7h0M381.8 1390.8h0M340.7 1388.1h0M391.8 1362.8h0M379 1356h0M327.1 1380.3h0M348.5 1401.6h0M353.5 1405.8h0M367.7 1410.1h0M333.5 1365.1h0M371.9 1354.3h0M321.5 1368.7h0M370.1 1373.3h0M358 1422.4h0M365.3 1381.1h0M347.5 1374.6h0M335.5 1412.2h0M365.2 1408.2h0M322.8 1352.6h0M338.8 1410.9h0M379.7 1391.5h0M324.5 1390.5h0M327.2 1398.6h0M331.9 1403.7h0M379.6 1381.9h0M326 1370.2h0M387.2 1370.9h0M377.3 1406.2h0M385.5 1380.2h0M369.9 1362.6h0M375.7 1390.3h0M390.6 1354.8h0M389.2 1353.3h0M381.1 1362h0M330 1385.9h0M370 1355.1h0M388.5 1364.9h0M381.2 1370.7h0M379.8 1381.8h0M353 1420.7h0M382.8 1360.9h0M345.7 1374.1h0M380.4 1355.1h0M377.1 1379.5h0M324.8 1356.8h0M389.3 1352.9h0M321.8 1372.8h0M368.2 1417.5h0M383.8 1351.4h0M367.5 1406.5h0M369.4 1375h0M347.1 1409.7h0M351 1388.9h0M380.4 1390.8h0M333.4 1387h0M328 1355.2h0M370.2 1415.7h0M360.6 1392.2h0M337.3 1357.2h0M341.1 1416.7h0M388.9 1366.2h0M376.4 1377.9h0M374.9 1353.9h0M368.4 1365.2h0M342.6 1420.2h0M373.3 1358.4h0M407.4 1352.2h0M346.4 1401h0M335.1 1399h0M372.3 1400.8h0M383 1354.7h0M409.1 1360.8h0M343.9 1412.7h0M337.4 1414.3h0M324.2 1365.4h0M367.1 1413.7h0M374.5 1408.9h0M335.6 1358.7h0M359.9 1414.1h0M336.6 1361.4h0M340.3 1363.8h0M358.9 1419.4h0M345.6 1417.6h0M347.5 1398h0M333.2 1374.7h0M343.9 1405.8h0M370.3 1367.1h0M373.7 1375.6h0M366.1 1359.3h0M339.5 1386.7h0M325.2 1363.4h0M328.5 1378.2h0M352.3 1400.1h0M332.9 1374.1h0M376.6 1378.4h0M342.9 1417h0M348.4 1383.7h0M366.5 1384.9h0M376.7 1394.4h0M366.7 1399.4h0M336 1359.3h0M342.7 1401.9h0M373.5 1397.6h0M374.5 1357.9h0M347.6 1378.9h0M383.3 1381.7h0M321 1369.7h0M350.9 1407.6h0M378.8 1374.3h0M383.2 1390.3h0M316.2 1355.7h0M403 1365.9h0M328.9 1366.1h0M337 1361.5h0M362 1413.8h0M375 1370.6h0M319.7 1396.7h0M382.6 1365.9h0M319 1353.8h0M364.3 1407.2h0M387.7 1371.7h0M344.4 1379.2h0M382.4 1353.7h0M347.5 1372.8h0M373.3 1371.1h0M374.1 1385.5h0M380.9 1403h0M383.6 1352.4h0M362.7 1393.9h0M377 1354.4h0M363.5 1417.7h0M343.3 1357.9h0M340.3 1364.6h0M371.7 1363.7h0M343.2 1353.5h0M378.7 1352.2h0M336.1 1398.7h0M370.5 1400.8h0M348.1 1375.7h0M369.9 1359.4h0M346.6 1395.9h0M376.6 1405.7h0M331.1 1376.7h0M325.6 1353.4h0M380.3 1400.2h0M333 1360.6h0M392.4 1351.7h0M379.9 1392.4h0M373.7 1393.1h0M317.7 1354.9h0M325 1357.1h0M323.5 1384.8h0M371.3 1414.2h0M345.5 1382.2h0M346.9 1370.3h0M333.6 1409.7h0M331.8 1368.5h0M330.7 1369.1h0M324.5 1379h0M348.7 1412h0M350.1 1392.8h0M385 1401.7h0M343.2 1416.9h0M336.2 1386.3h0M378.5 1354.4h0M368.9 1355.9h0M369.3 1371.4h0M375.1 1406h0M366.6 1387.8h0M389.6 1360.2h0M364.3 1383h0M365 1395.5h0M331 1354.6h0M344.1 1372.8h0M362.4 1383.3h0M321.4 1368h0M329 1390.5h0M354.4 1421h0M347.6 1391.9h0M323.1 1358.8h0M372.4 1375.7h0M342 1368.8h0M330.9 1358.5h0M348.4 1405.4h0M390.2 1359h0M388.5 1378.7h0M336.9 1353.5h0M354.5 1416.1h0M328.6 1394.3h0M353.4 1413.2h0M327.7 1392.3h0M385.8 1356.2h0M364.9 1400.9h0M390.8 1359.7h0M317.6 1361.4h0M322.9 1377.2h0M373.6 1390.4h0M340.1 1353.8h0M359.9 1402.9h0M391.2 1395.8h0M342.3 1404.8h0M372.9 1386.8h0M349.4 1404.2h0M370 1403.9h0M337.2 1408.5h0M370.9 1402.7h0M374 1351.4h0M317.4 1366.3h0M368 1371.1h0M366.4 1363.7h0M328.2 1355.8h0M339.6 1351h0M338.1 1392.4h0M366.5 1390.8h0M377.8 1399.5h0M380 1391.3h0M332.6 1398.9h0M366.8 1399.7h0M359.6 1419.6h0M335.6 1378.1h0M324.9 1369.5h0M340.9 1412.3h0M373.9 1385.8h0M371.4 1413.9h0M380 1370.6h0M375.8 1374.6h0M383 1376.1h0M334.5 1397.3h0M379.7 1394.6h0M366.1 1403.3h0M330.9 1377.1h0M331 1352h0M340.2 1377.8h0M317.8 1357.4h0M373.1 1383.5h0M340.7 1414.6h0M371.2 1379h0M378.9 1403.6h0M361.6 1412.2h0M360.1 1418h0M350.8 1416.5h0M344.5 1402.2h0M328.3 1368.4h0M376 1393.9h0M366.9 1407.3h0M382.7 1392.7h0M378.3 1401.1h0M361.2 1404.1h0M332.5 1374.2h0M348.4 1416h0M380.4 1358.6h0M385.3 1389.1h0M367.1 1415.4h0M376.7 1404.2h0M373.8 1354.6h0M386.6 1384h0M383.5 1389.3h0M388.7 1356h0M344.3 1390h0M372.9 1391.1h0M346.1 1385.1h0M314.9 1353h0M338.2 1352.4h0"/>
<path d="M343.7 1369.8h0M370.4 1355.3h0M365.8 1413.3h0M324.7 1365.7h0M351.3 1384.2h0M349.5 1416h0M336.7 1358.8h0M380.8 1358.3h0M344.9 1410.2h0M350 1419.8h0M346.7 1407.2h0M390.2 1367.5h0M364 1387.7h0M330.6 1351.6h0M343.2 1398.7h0M379.2 1351.2h0M361.2 1417.5h0M377.4 1355.3h0M369.3 1394.2h0M360.8 1394.8h0M330.2 1400.2h0M367.4 1376.7h0M320.1 1357.2h0M375.3 1376.7h0M337.3 1381.5h0M326 1393.4h0M366.2 1358.5h0M339.1 1388.1h0M342.4 1361.1h0M327.9 1359.1h0M374.4 1378.4h0M365.4 1388.6h0M382.1 1382.2h0M345 1413.7h0M371.4 1379h0M379 1398.2h0M353.4 1422.1h0M392 1353.3h0M345.2 1409.3h0M369.7 1383.7h0M342.7 1354.1h0M328.5 1383h0M338.6 1351.8h0M319 1362.9h0M345.7 1365.4h0M376.5 1394.4h0M389.9 1359.1h0M382.6 1385.1h0M390.6 1358.5h0M361.8 1419.9h0M365.8 1407.4h0M360.6 1394.4h0M367.9 1362.8h0M340.2 1398.8h0M378.6 1369.6h0M375.2 1351h0M369.2 1403.6h0M387.7 1377.4h0M344.1 1405.4h0M368.1 1352.6h0M377.8 1355.3h0M382.6 1376.8h0M354.5 1406.7h0M381.1 1388.1h0M330.2 1353.1h0M383.2 1371.4h0M382.8 1385.5h0M339.4 1387.5h0M383.4 1369.2h0M370.3 1380h0M379.5 1405.5h0M321.8 1354.3h0M388.1 1362.3h0M387.7 1351.6h0M313.2 1386.2h0M319.3 1388.9h0M348.3 1371.3h0M346.7 1409.9h0M335.3 1397.6h0M380.7 1403.5h0M386.5 1386h0M367.2 1400.5h0M373 1373h0M366.6 1415.7h0M360 1421.4h0M331.2 1405.3h0M320.5 1370.7h0M375.8 1354.5h0M341.4 1390.2h0M381.7 1391.8h0M374.7 1370.1h0M371.7 1373.2h0M370.6 1365h0M366.9 1415h0M337.2 1402.1h0M332.1 1361.4h0M321.8 1386.1h0M388.3 1353.1h0M359.7 1420.4h0M387.6 1373.7h0M331.7 1385h0M320.1 1377.5h0M392.8 1352.4h0M363.9 1377h0M349.8 1388.8h0M374.3 1365h0M381.9 1374.8h0M376.5 1392.7h0M350.4 1420h0M360.7 1421.5h0M365.4 1369h0M353.9 1415.5h0M348 1402.5h0M351.3 1394.8h0M336.9 1405.9h0M337.4 1360.6h0M325.3 1363.8h0M377.7 1381.9h0M375.9 1385.7h0M341.8 1370.6h0M361.7 1382.9h0M343.8 1411.1h0M343.4 1408.7h0M344.8 1405.5h0M345.9 1397.8h0M342.8 1395.6h0M347.1 1379.2h0M345.4 1418.8h0M383.2 1363.1h0M331.3 1405.7h0M373.4 1391.1h0M325.7 1354.6h0M352.7 1393.8h0M328.5 1377.5h0M362.3 1393.1h0M348.2 1396h0M387.7 1365.5h0M335.6 1402.7h0M338.5 1377.5h0M336.5 1392.4h0M390.8 1353.6h0M320.3 1408h0M328.2 1361.3h0M387.8 1364.3h0M371.8 1351h0M337.7 1376.1h0M323.1 1378.3h0M356.9 1422.8h0M343.2 1367.4h0M387.8 1375.4h0M364.8 1378.9h0M354.2 1412.1h0M324.8 1390.2h0M391.5 1361.2h0M385.2 1363.6h0M371.7 1397.5h0M334.1 1397.2h0M331.9 1369.2h0M344.8 1414h0M329.7 1386.7h0M360.1 1420.8h0M328.8 1360.1h0M374.7 1399.6h0M333.9 1355.7h0M375.9 1407.8h0M379.9 1356.2h0M384.4 1366.8h0M392.7 1354.1h0M366.5 1362.5h0M299 1358h0M330.2 1395.7h0M372.4 1387.2h0M375.8 1396.9h0M338.1 1351h0M389.3 1355.2h0M372.5 1392.2h0M318.6 1351.1h0M348.9 1399.2h0M347.2 1400.8h0M312.1 1362.7h0M339.4 1370.7h0M384.9 1385.3h0M365.9 1375h0M351.7 1418.2h0M387.5 1360.1h0M377.3 1369.4h0M325.6 1374.1h0M331 1381.5h0M366.3 1378.8h0M381.3 1375h0M383.2 1385.3h0M343.2 1393.5h0M377.3 1358.7h0M334 1379.5h0M339 1357.1h0M367.5 1399.6h0M331.8 1370.4h0M354.2 1413.8h0M352.1 1394h0M375.2 1392.1h0M323.9 1356.9h0M387.3 1356h0M368.2 1358.7h0M327.2 1387.3h0M380.5 1402.9h0M378.7 1378.2h0M385.8 1360h0M337.9 1376.2h0M374.2 1362h0M390.9 1354.9h0M381.6 1387.3h0M386.2 1351.2h0M382.4 1359.3h0M352.4 1396.7h0M373.4 1370.5h0M361.5 1420.2h0M370.2 1383.2h0M377.4 1408h0M361.7 1397h0M334.7 1359.8h0M366.4 1403.3h0M375.9 1378.7h0M373.4 1361.5h0M343.8 1388.6h0M315.1 1370.5h0M367 1374.7h0M388.7 1367.4h0M333.2 1408.9h0M325.8 1397.9h0M348.5 1387.1h0M383 1356.6h0M382.7 1363.4h0M343.5 1398.7h0M377.7 1381.9h0M322.6 1354.3h0M339.3 1386.9h0M339.5 1407.5h0M348.5 1394.9h0M332.8 1391.9h0M378.3 1358.3h0M379.1 1406.3h0M379.1 1393.1h0M374.1 1369h0M332.3 1352.6h0M367 1395.7h0M337.9 1394.8h0M320.7 1357.1h0M372.5 1379.6h0M370.7 1381.1h0M385.1 1359.5h0M376.5 1369h0M375.2 1385h0M351.1 1384.4h0M382.2 1365.8h0M332.9 1369.5h0M340.9 1398.9h0M376.3 1356.9h0M364.7 1385.4h0M323.9 1368.2h0M380.5 1384.3h0M322.4 1375.3h0M382.4 1358.8h0M350 1407.1h0M345.7 1388.4h0M359.4 1409h0M339.7 1372h0M354 1417.8h0M382.9 1377.6h0M320.9 1373.9h0M343.2 1392.9h0M374 1408.6h0M387.6 1371.2h0M349.8 1377.6h0M365.1 1406.2h0M316.9 1392.7h0M340.4 1354.4h0M332.4 1404.9h0M329.7 1358.8h0M381.6 1394.2h0M406.6 1370.6h0M378.9 1351.1h0M363 1420h0M324.7 1388.5h0M377.3 1387.8h0M349.6 1379.5h0M335.2 1352.5h0M362.7 1388.4h0M321.3 1365.7h0M368.2 1387.2h0M382.6 1358.2h0M328.8 1404.2h0M365.4 1398.5h0M379.3 1377.8h0M367 1360.9h0M381 1379.1h0M342.2 1379h0M393.1 1373h0M333 1410.5h0M332.1 1394.4h0M337.3 1355.1h0M332.3 1406.1h0M364.2 1387.2h0M362 1394.8h0M317.1 1356.2h0M377.8 1354.9h0M365.9 1412.3h0M382.7 1371.6h0M328.3 1388.1h0M368.9 1388.9h0M343.7 1411.4h0M362.8 1377.5h0M320.7 1401.7h0M350.5 1405.2h0M344.3 1364.5h0M359.9 1416.2h0M393.2 1367.8h0M344.1 1404.3h0M326.3 1396.3h0M355.3 1422.4h0M333.5 1381.3h0M317.5 1389.2h0M378.6 1384.7h0M361.5 1417.7h0M321.7 1352.8h0M344.2 1365.4h0M360.3 1404.6h0M361.5 1409.2h0M365.7 1389.3h0M370.8 1376h0M330.5 1382h0M335.9 1404.1h0M360.3 1400.5h0M312.2 1351.3h0M394.8 1355.4h0M324.9 1385.1h0M344.8 1385.4h0M349.8 1402.2h0M349.2 1377.9h0M314.6 1382.8h0M324.8 1352h0M387.9 1363h0M371.7 1405.1h0M343.5 1415h0M346.2 1379.5h0M372.7 1374.7h0M375.5 1387.3h0M344.4 1355.8h0M373.8 1393.3h0M385.7 1385.8h0M326.8 1391.9h0M370.1 1357.3h0M394.3 1375.8h0M340.6 1361.3h0M381.3 1399.6h0M326.9 1372.1h0M344.2 1409.9h0M352.7 1397.5h0M341.1 1362.9h0M385 1365.7h0M337.7 1405.4h0M366.9 1359.3h0M335.7 1382.4h0M384.2 1355.1h0M370.2 1395.3h0M317.7 1357.3h0M368.3 1378.4h0M379.1 1381.2h0M370.3 1376.6h0M384.2 1363h0M325.4 1396.3h0M333.4 1370.2h0M369.3 1416.1h0M393 1358.1h0M384.1 1363.9h0M330.1 1394h0M352.1 1416.3h0M379.4 1364.9h0M323.8 1368.9h0M335.1 1408.5h0M317.5 1355.3h0M377.9 1386.5h0M387.9 1361.2h0M391.8 1356.2h0M380.6 1395.9h0M382.5 1378h0M392.6 1355.6h0M337.9 1403h0M382.9 1365.8h0M366.9 1364.8h0M375.7 1377h0M364.9 1406.4h0M344 1363.5h0M361 1415h0M366.2 1395.8h0M337.2 1390.3h0M330.4 1359.3h0M341.2 1384.6h0M330.3 1390.3h0M319.8 1369.4h0M359.4 1419.4h0M364 1373.6h0M387.4 1372.8h0M367.6 1377.6h0M372.9 1403.4h0M348.4 1385.5h0M323.4 1352.1h0M339.6 1356h0M361.7 1418.8h0M332.1 1398.6h0M322 1360.1h0M366.8 1398.1h0M324.2 1356.3h0M341 1404.9h0M350.9 1400h0M372.8 1406.4h0M316 1352.7h0M369 1377.2h0M325.6 1391.8h0M384.7 1381.2h0M335.8 1370h0M323.7 1373h0M379.4 1363.4h0M330.2 1351.1h0M376.5 1402.5h0M376.2 1390.6h0M382.6 1360.8h0M348.6 1382.8h0M319 1375.4h0M333 1351.7h0M362 1403.8h0M340.2 1358.1h0M317.5 1358.2h0M376.3 1360.7h0"/>
<path d="M383.6 1392.6h0M381.1 1365.8h0M323.3 1381.3h0M380 1373.7h0M331.8 1392.8h0M352 1404.6h0M372.8 1356.5h0M375.3 1369.5h0M371 1390.4h0M378.3 1403.6h0M379.2 1374.1h0M387.2 1366.9h0M377.8 1408.8h0M381.5 1355.6h0M364.6 1390h0M326.6 1397.1h0M350.8 1380.4h0M327.2 1394.7h0M388.3 1352h0M341.3 1380.5h0M398.7 1365h0M349.8 1419.2h0M317.8 1360.9h0M328.2 1388h0M393.6 1350.8h0M342.2 1413.5h0M347.6 1398.8h0M371 1398.3h0M328.3 1357.2h0M339.4 1355.6h0M323.7 1362.3h0M335.1 1387.4h0M363.1 1411.8h0M324.2 1382.8h0M377.6 1407.2h0M322.6 1362.3h0M370.1 1404.7h0M372.5 1353.7h0M354 1396.3h0M349.4 1388.1h0M361 1418.7h0M321.2 1361.3h0M321.9 1385.8h0M327.7 1368.9h0M384.9 1367.7h0M331 1364h0M380.3 1362.4h0M330.6 1405.3h0M372.3 1355.5h0M385.2 1390.6h0M322.6 1361.2h0M387.5 1361h0M345.6 1391.9h0M332.8 1370.5h0M363.8 1407.2h0M337.5 1375.2h0M361.4 1392.1h0M369.8 1357.1h0M317.2 1353.5h0M343.5 1367.1h0M329.1 1350.9h0M383.5 1350.9h0M328 1355.8h0M375.9 1373.8h0M343.5 1418.3h0M330.1 1353.4h0M329.1 1397.4h0M326.2 1389.7h0M339.9 1353.3h0M383.8 1378.3h0M331.2 1397.3h0M369.4 1365.5h0M372.7 1396.1h0M364.9 1416.8h0M370.3 1368h0M357.6 1422.4h0M346.3 1391.1h0M360.3 1410.3h0M331.5 1383.3h0M383.2 1370.9h0M360 1397.3h0M362.1 1420.5h0M345.2 1374.6h0M334 1367.6h0M337.6 1386.2h0M380.3 1356h0M370.1 1364.1h0M328.6 1364.8h0M378.7 1355h0M342.7 1393h0M322.6 1393.8h0M366.4 1401.3h0M328.5 1369.4h0M340.3 1398.7h0M389.2 1364.3h0M344.3 1380.2h0M352.9 1404.2h0M374.1 1374.3h0M331 1368.4h0M371.5 1374.7h0M347.4 1393.3h0M380.1 1356.8h0M384 1387.8h0M384.4 1402.1h0M392.8 1391.9h0M363 1377.1h0M334.2 1390.9h0M343.1 1374.6h0M382 1400.3h0M392.2 1355.2h0M365.1 1402.3h0M341.9 1386.9h0M368 1408.7h0M339.2 1376.2h0M341.3 1408.6h0M384.6 1391.7h0M376.1 1383.3h0M350.1 1400.5h0M340.5 1416.7h0M386.8 1379.7h0M376.3 1360.8h0M381 1389.2h0M353.1 1417.9h0M374.7 1393.9h0M343.1 1375.8h0M392.8 1351.5h0M385.5 1385.7h0M327 1373.1h0M364.4 1373.1h0M336.6 1412.4h0M339.1 1389.3h0M361.6 1416.3h0M323.9 1367h0M384.9 1383h0M360.9 1420.9h0M328.9 1397.1h0M332.8 1395.4h0M366.2 1386h0M372.1 1407.4h0M385.6 1352.1h0M318.4 1366.2h0M330.4 1398.2h0M371 1357.8h0M338.5 1402.2h0M369 1389.4h0M360.8 1418h0M316.3 1356h0M352.5 1404.8h0M338.2 1366.6h0M349.8 1417.2h0M388.3 1380.3h0M360.7 1394.8h0M376 1352.3h0M365.5 1367.5h0M328.6 1380.9h0M374.1 1370.7h0M338.9 1361.8h0M328.7 1369.2h0M320.6 1377.9h0M373.3 1384.1h0M334.6 1362.4h0M322.4 1372.9h0M385.7 1361.2h0M337.5 1379.8h0M376 1389.1h0M332.5 1374.6h0M339.9 1370.2h0M345.3 1378.7h0M363.5 1406.5h0M381 1392h0M351.7 1398.7h0M345.9 1369.7h0M371.6 1369.6h0M364.5 1397.6h0M380.6 1380h0M368.1 1395h0M334.7 1355.9h0M378.3 1351.3h0M400.8 1367.4h0M388.6 1370.8h0M322.4 1368.7h0M327.6 1379.1h0M330.2 1400.2h0M370.2 1391.3h0M374.6 1404.4h0M375.5 1372h0M327.6 1378.8h0M384.3 1385.7h0M371.1 1365.3h0M387.4 1382.4h0M368.1 1375.9h0M337.7 1352.2h0M351.4 1406.3h0M319.8 1371.7h0M377 1385.7h0M360.5 1412.4h0M320.9 1361.5h0M323.3 1382.5h0M386 1376.5h0M329.8 1391.9h0M364.8 1408.7h0M364.9 1380.8h0M326.7 1393h0M367.1 1363.3h0M336.5 1391.5h0M393 1353h0M372.3 1351.5h0M367.7 1398.2h0M364.4 1410.7h0M353 1394.2h0M380.8 1370.7h0M370.8 1409.7h0M377 1375.8h0M353 1413.2h0M363.5 1410.6h0M373.6 1379.9h0M329 1395.3h0M359.7 1405h0M335 1352.5h0M330 1403.6h0M363.5 1409.3h0M338 1382.9h0M382.5 1367.9h0M341.8 1393.7h0M392.1 1357.9h0M341.5 1352.8h0M369.1 1408h0M325.3 1372.2h0M359.8 1421.6h0M391.3 1356.5h0M352.9 1420.8h0M324.8 1391.7h0M376 1395h0M370.1 1396.6h0M341.5 1384.4h0M384.8 1376.9h0M371.6 1373h0M372.3 1373.2h0M376.6 1387.8h0M330.4 1359.8h0M342.8 1367.1h0M340.1 1352.8h0M384.3 1378.9h0M375.9 1360.1h0M328.6 1376.6h0M349.1 1388.2h0M340.1 1366.3h0M340.9 1366h0M374.7 1402.1h0M328.7 1384.5h0M341.8 1362.6h0M393.4 1353.9h0M373.7 1418.2h0M376.5 1365.7h0M353.8 1412h0M328.3 1390.8h0M389.5 1374.2h0M340 1403.1h0M334.9 1387.3h0M348.2 1382.7h0M344 1374.7h0M340.4 1407.9h0M362.1 1419.6h0M378.5 1391.6h0M344.6 1404.6h0M361.6 1420.9h0M364.7 1409.5h0M383.2 1360h0M385.3 1386.3h0M333.4 1373.6h0M379.6 1353.7h0M343 1354.8h0M335.9 1359.5h0M314.3 1350.9h0M366 1365.8h0M373.1 1401.5h0M370.5 1416.3h0M382.1 1359.6h0M380.1 1354.4h0M377.2 1358.8h0M363.8 1411.7h0M371 1354.8h0M380 1385.3h0M318.7 1372.4h0M343.1 1396.3h0M375.2 1377.9h0M377.1 1368.3h0M319.1 1369.1h0M324 1371.2h0M365.8 1370.4h0M339.7 1385.6h0M335 1406.1h0M364.6 1396.7h0M346.4 1376.8h0M406.4 1359.5h0M339.6 1385h0M363.2 1417.9h0M328.4 1390.2h0M350.4 1392.3h0M346.3 1368.4h0M351.5 1399.8h0M361.7 1416h0M366.7 1418.9h0M320.7 1356.9h0M364 1404.2h0M368 1383.1h0M338.2 1376.5h0M340.7 1352h0M366.2 1416.6h0M331.9 1362.6h0M337.4 1364.3h0M370.1 1391.1h0M333.7 1357.9h0M334.1 1371.7h0M367.9 1389.5h0M362.4 1420.8h0M391 1368.3h0M334 1401.4h0M335.5 1409h0M365.1 1405.5h0M341.2 1353.8h0M325.6 1375h0M346.5 1397.8h0M380.1 1403.1h0M379.6 1369.6h0M343.9 1415.3h0M372.7 1388.7h0M331.6 1369.4h0M346.1 1375.3h0M376.7 1385.9h0M316.5 1353.9h0M361.3 1401.1h0M341.3 1393.8h0M318.6 1369.1h0M380.7 1375.6h0M387.8 1360h0M383.1 1358.4h0M359.7 1412.9h0M344.4 1412.8h0M383 1414.3h0M369.1 1383.4h0M344.5 1383.7h0M344.2 1371.4h0M376.7 1407.8h0M341.5 1397.8h0M346.9 1384.4h0M319.7 1374.7h0M330.9 1353.7h0M360.9 1395.2h0M388.9 1372.9h0M368.7 1387h0M365.3 1388h0M347.1 1374.2h0M335.9 1363.4h0M378.8 1375.3h0M375.3 1404.1h0M336.3 1365.4h0M374.6 1399.1h0M370 1353.9h0M340.9 1356.7h0M371.5 1404.8h0M385.5 1357.8h0M363.9 1370.4h0M345.9 1367.6h0M328.5 1385.5h0M334.1 1365.6h0M382.2 1359.4h0M390.7 1361h0M372 1412.7h0M365.3 1371.6h0M342.7 1356.3h0M375.7 1356.6h0M403.6 1383h0M388.3 1369.9h0M336.4 1362.8h0M332.2 1385.6h0M333.1 1411.1h0M374.4 1405.4h0M328.4 1390.7h0M327.8 1392.8h0M390.7 1367.2h0M332.1 1362.6h0M331.5 1365.2h0M342.4 1362.2h0M316.6 1365.3h0M348 1376.5h0M370.7 1356.5h0M370.7 1396.7h0M370.1 1354.9h0M364.4 1393.3h0M331.9 1366.6h0M380.5 1394.8h0M375.2 1385.3h0M335.3 1374.9h0M347.7 1413.1h0M323.8 1354.6h0M387.5 1368h0M380.2 1372.4h0M388.2 1380.4h0M318.3 1406.6h0M329 1379h0M346.3 1365.8h0M379.2 1360.4h0M367.5 1385.9h0M330.4 1368.9h0M368 1417.3h0M375.2 1399.6h0M351 1409.2h0M380.9 1378.7h0M371.5 1375.7h0M363.4 1418.1h0M368.7 1413.5h0M364.2 1408.4h0M321.7 1382.9h0M378.3 1370.8h0M343.3 1386.4h0M314.3 1352.1h0M379.7 1387.3h0M384.1 1372.7h0M333.1 1351h0M368.2 1417.7h0M385.7 1364.7h0M331.4 1396h0M337 1361.6h0M366.3 1384.5h0M354.6 1406.9h0M364.7 1417.3h0M383.7 1385.6h0M385.2 1368.1h0M384.8 1376.4h0M353.2 1417.3h0M387.9 1384.8h0M362.7 1384.6h0"/>
<path d="M371.9 1383.5h0M350.6 1407.6h0M386.8 1379.3h0M359.4 1403h0M378.9 1372.8h0M364.8 1366.8h0M373.6 1402h0M332.8 1399.1h0M373.7 1356.4h0M364.1 1419.8h0M380.5 1363.7h0M339 1374.6h0M381.8 1353.9h0M384.4 1364.4h0M330.1 1397h0M328.8 1377h0M335.5 1360.8h0M327.3 1382.7h0M342.4 1380.8h0M374.8 1410.5h0M382.4 1357.9h0M378.2 1385.9h0M348.2 1395.9h0M344.3 1394.3h0M381.4 1388.8h0M374.8 1374h0M353.7 1408.9h0M381.3 1380.2h0M323.8 1377.9h0M370.1 1409.9h0M376.5 1359.6h0M342.5 1360.3h0M364.6 1419.5h0M320 1362h0M338.3 1359h0M366.2 1407.3h0M337.1 1395.4h0M381.6 1353.8h0M353.2 1394.3h0M375.3 1406.2h0M377.9 1360.9h0M369.9 1389.8h0M383.8 1367h0M348.8 1395.5h0M388.3 1369.4h0M386.8 1367h0M391 1362.7h0M348.6 1375.7h0M340.6 1363.9h0M342.6 1376h0M380.5 1363.2h0M333 1358.9h0M370.6 1367.1h0M346.8 1365.6h0M334.9 1387.1h0M337.9 1352.2h0M384.9 1390.5h0M327.1 1362.9h0M373.5 1366.4h0M381.7 1393h0M348.9 1381.2h0M341.1 1413.2h0M342.6 1401.2h0M364.6 1386.2h0M322.2 1374.7h0M326.8 1354.1h0M325.5 1375.7h0M384.1 1361.7h0M371.4 1381.7h0M373.5 1396.2h0M338.2 1397.5h0M323.4 1374.5h0M342.7 1397.4h0M343.1 1398.7h0M378.3 1367.8h0M375.3 1354.9h0M368.3 1410.8h0M377.5 1405.8h0M389.3 1384.3h0M387.2 1377.4h0M329.8 1387.1h0M344.7 1386.4h0M379.1 1386.4h0M381.3 1383.8h0M383.3 1380.5h0M319.7 1365.2h0M380.2 1389h0M383.9 1382.5h0M336.2 1382.3h0M380.9 1369.2h0M372.5 1384.4h0M360.7 1408.7h0M373.1 1384.5h0M375.9 1360.3h0M388.1 1352.8h0M380.2 1375.4h0M347.8 1394h0M364.9 1385.9h0M335.5 1393.8h0M354.4 1399.9h0M381.9 1388.6h0M314.1 1352.8h0M339.6 1374.9h0M321.8 1377.4h0M376.9 1379.5h0M340.5 1351.4h0M370.2 1399.6h0M344.2 1380.7h0M369 1357.8h0M368.9 1404.7h0M346.2 1366.6h0M350.6 1393h0M379.1 1355.4h0M367.1 1371.3h0M386 1358.4h0M379.2 1385.6h0M364.2 1397.7h0M387.5 1359.1h0M366.7 1370h0M379.7 1399h0M382.4 1387.5h0M374.1 1405.3h0M377.6 1389.6h0M330.2 1407.4h0M372.3 1353.5h0M334.4 1351.3h0M392.4 1353.3h0M346.9 1418.5h0M382.1 1352.3h0M380.7 1366.2h0M316.7 1371.1h0M329.1 1362.2h0M345.5 1374.5h0M328 1363.7h0M339.4 1403.6h0M343.4 1415.9h0M341.3 1360.9h0M383.5 1353.8h0M336.2 1366.8h0M335 1387h0M385.2 1355.5h0M380.7 1367h0M338.2 1403.1h0M331.2 1364.4h0M346.3 1394.9h0M343.6 1413.5h0M335.1 1359.3h0M389.1 1357.3h0M325.3 1352.1h0M379.3 1370.3h0M354.1 1418.7h0M401 1396.4h0M341.2 1358.4h0M334.6 1401.3h0M353.7 1397.3h0M347.4 1392.3h0M369.5 1359.5h0M381.5 1380.9h0M374.8 1380.4h0M383.3 1382.8h0M362 1384.6h0M348.3 1404.1h0M322.6 1373.5h0M384.9 1356h0M370.2 1353.7h0M378.4 1363.7h0M342.7 1407.3h0M338 1354h0M363.9 1403.3h0M376.7 1368.7h0M331.6 1373.5h0M366.7 1360.8h0M363.9 1403.4h0M370.7 1391.2h0M385.4 1355.3h0M342.8 1407.7h0M336.8 1410h0M319.3 1351.8h0M382.2 1370h0M334 1370.7h0M380.9 1354.5h0M359.1 1419.7h0M375.8 1376h0M377.7 1362.2h0M352 1404.3h0M363.6 1408.4h0M367.7 1399.2h0M380.4 1355.5h0M388.3 1360.5h0M370.9 1369.4h0M386.3 1351.2h0M331.5 1379.3h0M328 1355.3h0M347.8 1392.3h0M376.9 1350.8h0M375.6 1362.2h0M346.8 1387.3h0M325.5 1396.6h0M342 1387h0M388.8 1360h0M361.7 1412.3h0M380.4 1377.8h0M358.5 1422.2h0M324.5 1359h0M360.5 1421.3h0M387.8 1375.1h0M315.7 1353.3h0M371 1405.2h0M378.8 1357.4h0M369.3 1353.8h0M377.6 1384.6h0M338.1 1396.4h0M363.8 1389.4h0M332.5 1369h0M387.5 1379h0M344.9 1412.3h0M328.1 1359.9h0M332.2 1367.2h0M366 1387.3h0M384.6 1386.3h0M348.1 1376.1h0M375.7 1382.1h0M346.2 1400.8h0M375.8 1365.6h0M348.1 1419.3h0M378.6 1363.7h0M320.9 1381.1h0M364 1414.8h0M325 1375.8h0M357.5 1422.4h0M333.1 1406.7h0M328.8 1399.5h0M346.5 1410.6h0M370.8 1372.1h0M381.3 1380.9h0M374.2 1396.8h0M345.3 1398.7h0M331.7 1402h0M319.4 1367.1h0M375.6 1392.8h0M320.3 1378.9h0M328.4 1357.1h0M341.6 1396.1h0M382.5 1391.9h0M377.7 1354.2h0M334.4 1406.1h0M380.1 1367h0M370.9 1352.8h0M346.5 1367.7h0M360.6 1419.5h0M383.5 1354.2h0M381.5 1373.5h0M319.8 1369h0M384 1357.3h0M393.5 1386.9h0M390.1 1398.9h0M383 1391.2h0M344.1 1366.4h0M371.8 1369.9h0M353.9 1405.8h0M330 1360.5h0M342 1351.6h0M374.6 1387.2h0M391.4 1360.1h0M333.6 1410.4h0M362.5 1405.7h0M376 1401.3h0M364.8 1407.4h0M320.5 1357.9h0M385.5 1369.2h0M334 1363.1h0M391.1 1357.8h0M370.8 1372.1h0M325.6 1394h0M341.9 1389.9h0M376.1 1384.4h0M351.2 1386.9h0M341.7 1356.6h0M352.4 1388.6h0M390 1353.7h0M323.3 1383.6h0M390.3 1363h0M384.3 1359h0M369.3 1387.2h0M374.5 1413.1h0M375.3 1403.5h0M389 1368.3h0M320.1 1370.4h0M373.4 1388.5h0M344.8 1404.3h0M342 1362.5h0M372.7 1351.8h0M340 1391.2h0M378.8 1356.8h0M373.1 1381.2h0M332.3 1369.4h0M372.9 1400.7h0M368.6 1406.6h0M381.2 1377.2h0M367.4 1373.7h0M343.9 1405.6h0M338 1399.3h0M343.8 1366.2h0M375.8 1365.1h0M374.8 1351.9h0M375.5 1410.7h0M370.5 1403.1h0M354.4 1417.7h0M372.8 1372.6h0M348 1400.9h0M373.8 1388.4h0M374 1382.9h0M386.1 1375h0M364.8 1399.7h0M384.8 1385h0M370.2 1396.1h0M340.3 1407.2h0M368.8 1395.6h0M382 1398.6h0M366.8 1401.7h0M369.9 1385.8h0M360.3 1404.1h0M376.7 1395.3h0M341 1355.3h0M335.7 1396.3h0M339.5 1396.3h0M386.1 1411.4h0M378.4 1387.6h0M366.8 1376.6h0M329.9 1388.8h0M346.3 1399.9h0M320.4 1354.5h0M360.2 1398.6h0M329.4 1371.7h0M343.7 1356.8h0M374.1 1384.5h0M304 1379.2h0M382.4 1398.5h0M388.9 1365.9h0M378.4 1385.4h0M373 1362.3h0M320.8 1379.2h0M364.4 1416.4h0M325.9 1375.7h0M323.5 1396.5h0M385.1 1355.7h0M372.9 1379.5h0M324.5 1393.3h0M332.8 1376.1h0M386.9 1351.4h0M371.3 1351.4h0M367.5 1375.2h0M386.7 1367.1h0M328.2 1363.3h0M325.6 1355.8h0M333.3 1376.9h0M364.7 1371.7h0M365.3 1390.5h0M371.9 1362.9h0M385.3 1366.6h0M362.9 1401.8h0M380.3 1399.4h0M327.5 1376.1h0M336.8 1410h0M382.4 1378.6h0M342.1 1405.6h0M369.8 1401.6h0M381.7 1391.7h0M380.3 1398.1h0M349.6 1388.6h0M324.2 1351.1h0M366 1394.1h0M366.4 1410.4h0M353.9 1409.5h0M343.2 1396.7h0M323 1378.1h0M384.7 1359.5h0M327.2 1363.7h0M348.2 1420h0M352 1394.7h0M316.1 1353.9h0M363.5 1379.4h0M345.9 1400.1h0M381.3 1401.8h0M375.4 1380.1h0M364.4 1377.6h0M383.5 1371.3h0M367.2 1356.3h0M390.9 1362.9h0M351.4 1397.1h0M335.4 1386.1h0M343.5 1375.3h0M339.1 1408.8h0M337.9 1358.9h0M373.2 1393.2h0M331.3 1402.2h0M383.8 1358.6h0M342.7 1368.7h0M302.1 1356.6h0M347.6 1412h0M377.2 1363.5h0M368.7 1360h0M361.8 1415.7h0M359.9 1417.1h0M321.4 1374.4h0M337.7 1370.9h0M388.2 1351.9h0M348.2 1419h0M386.1 1361.2h0M368.1 1358.2h0M377.5 1410.2h0M346.4 1375.1h0M332.2 1367.5h0M315.6 1363.3h0M367.7 1358h0M378.3 1392.9h0M386.7 1354.3h0M378 1351.8h0M347.9 1373.9h0M374.7 1368.1h0M326.5 1370.4h0M343.2 1365.9h0M351.7 1416.2h0M377.3 1398.1h0M319.3 1354.2h0M379.6 1372.5h0M388.7 1375.4h0M332.1 1387.6h0M387.3 1355.1h0M314.4 1365.3h0M364.2 1378.8h0M330.9 1370.8h0M380.1 1383.3h0"/>
<path d="M328.1 1402.7h0M339.6 1402.4h0M377.6 1387.6h0M320.3 1376.2h0M348.4 1375.7h0M372.9 1411.7h0M390.5 1385.9h0M345.7 1363h0M365.3 1397.4h0M368.2 1351.2h0M387.8 1388.3h0M321.3 1379.2h0M335.8 1387.5h0M351.9 1418.2h0M371 1404.8h0M346.4 1385.2h0M351.3 1420.1h0M343.1 1389h0M367 1385.1h0M349.1 1418.1h0M343.3 1380.9h0M333.9 1376h0M386.7 1375.8h0M337.5 1383.3h0M361.7 1408.2h0M379.1 1356.4h0M381.1 1392.5h0M375 1390.1h0M367.5 1392.1h0M354.8 1414.6h0M348.6 1393.5h0M368.3 1400h0M331.6 1399.4h0M371.4 1371.1h0M351.3 1391.6h0M359.4 1412.1h0M336.8 1401.3h0M376.1 1369.3h0M326.1 1390.4h0M331.5 1369.4h0M386.7 1385.1h0M383.6 1396.3h0M366.5 1362.3h0M374.7 1351.6h0M345.7 1382.4h0M331.9 1388.2h0M373.7 1394h0M327.7 1394h0M334.6 1412.2h0M380.6 1369.2h0M367.6 1396h0M390.5 1356.4h0M350.2 1418.5h0M351.5 1403.1h0M342.7 1415.1h0M334.5 1378.4h0M300.8 1369.9h0M374.5 1352.4h0M325.1 1361.9h0M367 1374.2h0M385.3 1355.2h0M337.1 1383.8h0M331.6 1407.2h0M327.5 1366.3h0M329 1403h0M353.8 1421.7h0M330.1 1405.6h0M328.6 1360.6h0M366.1 1379.8h0M328.7 1379.6h0M378.1 1395.1h0M379.4 1368.5h0M347.1 1403.1h0M361.2 1401h0M383.3 1392.6h0M372.1 1394.8h0M317.6 1356.2h0M369.9 1354h0M371.3 1365.2h0M385.8 1364.2h0M333.1 1395.2h0M336.7 1361.7h0M373.5 1370.8h0M339.9 1372.2h0M346.8 1365.8h0M323.1 1379.9h0M372.6 1377h0M378.5 1397.7h0M343.7 1353.4h0M380.1 1388.4h0M327.3 1391.9h0M329.1 1355.9h0M329.3 1361.1h0M334.1 1366.8h0M381.4 1393.5h0M389.5 1374.6h0M315.8 1357.4h0M382.8 1356.2h0M335.7 1406.1h0M333.1 1396.1h0M378.2 1376.5h0M345.8 1395.6h0M316.4 1352.1h0M333.4 1357.9h0M385.4 1386h0M343.4 1380.2h0M346.7 1365h0M382.3 1356.6h0M383.8 1375.8h0M365.5 1394.3h0M330.5 1395.3h0M363.3 1393.5h0M329.7 1368.3h0M378.8 1393h0M330.3 1399.8h0M340.3 1354.7h0M315.7 1359h0M373.4 1384.9h0M373.4 1390.1h0M371.8 1361.1h0M321.8 1356.7h0M337.2 1352h0M341.9 1389.7h0M349.7 1375.2h0M336.8 1411.6h0M379.7 1369.8h0M377.6 1356.3h0M339.2 1359.6h0M359.2 1416.2h0M344.8 1407h0M365 1381.9h0M362 1404.9h0M343 1393.2h0M371.4 1367.2h0M363.6 1378.6h0M359.3 1421.5h0M345.6 1376.3h0M377.1 1351.3h0M318.6 1356.2h0M317.1 1361.6h0M333.9 1401.3h0M350.5 1417.6h0M327.8 1385.1h0M329.5 1353.7h0M374.5 1354.8h0M352.6 1418.3h0M385.4 1364.2h0M366.6 1414.1h0M330.1 1364.2h0M366.1 1387.1h0M369.8 1382.5h0M334.4 1370.7h0M374.8 1396.8h0M390.8 1358.2h0M378.5 1393h0M350.7 1417.7h0M340.2 1366.2h0M328.4 1376.9h0M309.6 1380.3h0M351.8 1386h0M377.9 1397.2h0M368.3 1416.8h0M368.7 1367.9h0M383.1 1397.8h0M317.9 1354.8h0M385.7 1369.5h0M341.5 1357.2h0M348.8 1382h0M322.1 1351.2h0M363.9 1413.6h0M377 1375.5h0M385 1380.9h0M388.4 1371.4h0M337.1 1366.3h0M362.4 1384.6h0M330.3 1394.5h0M351.1 1381.4h0M345.3 1358.8h0M375.1 1389.6h0M330.1 1384.2h0M366.8 1379.6h0M371.8 1359h0M381.2 1375.1h0M331.4 1406h0M353.7 1418.9h0M369 1355.3h0M327.2 1393.9h0M364.2 1377.1h0M359.7 1421.6h0M360 1419h0M376.6 1353.7h0M383.9 1355.8h0M343.9 1411.7h0M338.5 1360.9h0M353.3 1400.1h0M377.4 1404.6h0M359.1 1413.1h0M360.1 1392.9h0M319.3 1383.5h0M326.8 1368.3h0M362.8 1411.9h0M316.4 1361.1h0M323.7 1382.2h0M335.2 1359.8h0M378.9 1376.3h0M341 1360.5h0M310.1 1397.5h0M329.6 1388.1h0M320.8 1367.1h0M377.8 1357.8h0M384.3 1361.2h0M329.8 1381.3h0M383.5 1368h0M340.3 1367.4h0M333.8 1387.2h0M378.7 1359.6h0M321.2 1366h0M372.4 1405.9h0M324.4 1411.9h0M351.9 1392.6h0M382.2 1396.6h0M363.1 1414.6h0M380.1 1390.8h0M365 1365h0M337.1 1361h0M340.4 1350.8h0M375.9 1381.6h0M324.6 1379.7h0M337.9 1353.3h0M344 1388h0M352.6 1406.6h0M327 1382.7h0M338.2 1398.3h0M330.2 1365h0M342 1372.3h0M347.3 1419.6h0M391.1 1356.7h0M336.9 1372.3h0M383.5 1375.1h0M364.1 1380h0M367.4 1399.6h0M340.1 1361h0M348.8 1420h0M325.8 1384h0M380.8 1368.2h0M336.2 1379h0M339.6 1359.5h0M337.8 1409.4h0M344.1 1410.2h0M384.7 1373.1h0M339.7 1362.2h0M369 1399.9h0M381.2 1390h0M364.8 1419.9h0M329.5 1374h0M368.9 1392.2h0M332.6 1360.7h0M374.4 1374.5h0M377.2 1354.8h0M364.7 1406.1h0M376 1359.3h0M371.2 1411.2h0M327.3 1395.9h0M359.1 1404h0M384.2 1386.1h0M345.5 1376.1h0M362.2 1387.6h0M362.8 1384.9h0M371.9 1384.9h0M323 1378.4h0M344.8 1368.1h0M374.5 1356.7h0M376.1 1377.3h0M350.4 1420.6h0M340.8 1398.6h0M340.9 1363.6h0M370.8 1367.3h0M341.3 1358.1h0M341.5 1368.8h0M374.7 1385.8h0M345.6 1416.2h0M330.3 1356h0M368.9 1366.4h0M374.3 1365.2h0M376.9 1383.9h0M375.2 1412.7h0M334.1 1359.7h0M335.4 1411h0M371.8 1378.5h0M368.9 1404.1h0M368.1 1356.3h0M333.5 1410.8h0M365.5 1402.7h0M352 1421.6h0M368.3 1395.8h0M339.1 1374.4h0M362.1 1379.9h0M372.5 1351.6h0M389.8 1360.3h0M338.7 1384h0M329.7 1360.7h0M351.7 1416.4h0M327.9 1387.9h0M383.7 1389.5h0M332.7 1397.5h0M307.6 1369.4h0M368 1383.7h0M360 1400.9h0M336.4 1408.9h0M320.3 1356.9h0M380.7 1351.4h0M340.8 1402.7h0M335.5 1403.7h0M376.8 1378.5h0M332.5 1388.6h0M329.8 1394.5h0M344.4 1414.3h0M339.9 1362.9h0M331.1 1394.7h0M379 1367.4h0M335.1 1362.7h0M387.5 1356.3h0M351.2 1400.8h0M389.4 1352.1h0M333.5 1398.1h0M350.9 1415.2h0M347.1 1372.9h0M376.4 1406.4h0M318.8 1355.7h0M384.8 1380.2h0M373.1 1405.7h0M384.2 1366.2h0M354.1 1422h0M379.7 1354.1h0M335.5 1392.8h0M382.2 1383.4h0M375.3 1373.4h0M380.5 1402.3h0M335.5 1395.9h0M372 1400h0M343 1414.9h0M338.9 1366.1h0M364 1371.4h0M318.7 1367.2h0M329.6 1383.6h0M347.9 1413.4h0M379.6 1376.3h0M350.8 1382.4h0M352 1394.9h0M386.3 1387.6h0M375 1366.4h0M341.6 1365.6h0M354.4 1410.8h0M317.2 1359.6h0M347.9 1391.4h0M382.8 1391.1h0M349.7 1395.2h0M346.7 1370.8h0M366.6 1384.8h0M388.9 1361.7h0M360.3 1409.2h0M340.8 1396.5h0M321.1 1370.1h0M383.6 1392.6h0M335.8 1365.7h0M339.9 1382.6h0M359.8 1401.4h0M341.9 1358.7h0M385.5 1359.4h0M323.6 1376.6h0M338 1357.1h0M329.5 1355.4h0M342.7 1413.5h0M301.9 1374.5h0M359.6 1412.2h0M372.7 1362.6h0M365.1 1403.7h0M339.5 1394.8h0M372.9 1366.1h0M335.8 1365h0M318.1 1355.6h0M328.8 1401.5h0M366.7 1410.9h0M369 1405.2h0M366.2 1413h0M406.4 1379.4h0M367.6 1380.9h0M338.9 1399.9h0M333.5 1382.3h0M368.3 1366.9h0M373.6 1351.5h0M336.1 1405.6h0M346.7 1366.7h0M385.8 1379.9h0M354 1420h0M336.8 1373h0M381.6 1363.3h0M356.9 1422.7h0M361.6 1386.5h0M368.6 1393.4h0M331.8 1409.9h0M333.2 1359.7h0M372.8 1373.6h0M366.4 1416.4h0M375 1358h0M333.6 1391.7h0M333.7 1354.7h0M345.3 1390.4h0M351.7 1408.4h0M380.1 1361.3h0M346 1408.6h0M378.4 1354.8h0M325 1385h0M371.7 1357.3h0M339.6 1416.3h0M331.4 1373.9h0M331.8 1393.1h0M340.9 1418.6h0M354.2 1420.7h0M363.3 1412.5h0M375.3 1401.3h0M347.7 1381.9h0M330 1358.5h0M349.5 1417.5h0M315.9 1362.1h0M359.6 1421.9h0M390.5 1366.9h0M375.6 1400.8h0M326.6 1384.1h0M330.7 1377.7h0M317.4 1363.2h0M326.7 1383.4h0M337.3 1401.7h0"/>
<path d="M326.6 1356.6h0M369.1 1359.8h0M329.8 1370h0M321.1 1377.7h0M333.7 1400.6h0M319.9 1363h0M365.4 1404.6h0M353.5 1403.8h0M350.6 1393.5h0M379.8 1396.3h0M351 1413h0M365.9 1405.2h0M327.7 1389.4h0M323.7 1365h0M332.5 1388.3h0M333.2 1375.2h0M390.8 1361.2h0M329.1 1360.3h0M387.8 1367.8h0M362.8 1402.9h0M336.1 1363.7h0M343.3 1413h0M380.5 1384.9h0M324.1 1363.4h0M334.7 1362.1h0M323.3 1352.8h0M372.9 1353.5h0M340.6 1370.9h0M361.6 1419h0M380.4 1375.2h0M366.6 1363.7h0M377.9 1356.2h0M348.4 1383.8h0M369 1402h0M375.1 1350.8h0M359.5 1419.1h0M380.7 1400.3h0M348.8 1385.2h0M344.8 1404.4h0M360.9 1417.9h0M326.5 1385.2h0M347.4 1370.7h0M353 1398.9h0M378.3 1372.7h0M346.3 1388.9h0M321 1358h0M373 1393.3h0M375.2 1397.3h0M374.7 1373.1h0M352.2 1406.5h0M361.4 1409.3h0M370.8 1390.5h0M344.1 1401h0M365.4 1372.4h0M378.6 1352.5h0M381.1 1398.9h0M344.9 1369.5h0M376.6 1404.7h0M342.2 1383.8h0M322 1362.9h0M337.9 1395.8h0M383.4 1359.7h0M362.4 1413h0M339.9 1396.4h0M362.1 1419.7h0M338.9 1402.7h0M344.3 1397.7h0M347.3 1412.5h0M334 1403.8h0M358 1422.4h0M371.8 1410.3h0M388.5 1379.5h0M373.2 1351.6h0M343.6 1385.6h0M317.1 1386h0M326.2 1373.5h0M334.8 1385.2h0M374.8 1403.8h0M373.3 1396.2h0M349.8 1420.3h0M368.2 1404h0M339.9 1364h0M338.8 1407.1h0M343.3 1411h0M336.7 1398.1h0M374.5 1371.2h0M328.1 1410.1h0M384.8 1355.1h0M370.9 1376.4h0M387.3 1399.4h0M371.9 1391.1h0M340.5 1411.8h0M371 1370.8h0M384.7 1383.1h0M324.5 1384.4h0M339.1 1385.5h0M371.3 1382.9h0M372.4 1385.6h0M365.8 1384.6h0M388.3 1375.6h0M375.7 1352.6h0M388.8 1369.5h0M365.6 1372h0M365.1 1377.7h0M381.7 1391.8h0M384.9 1386.9h0M347 1418.9h0M333.1 1376.9h0M369.3 1410.9h0M368.1 1365.6h0M341.8 1404.8h0M371.9 1390.2h0M366.4 1415.2h0M368.8 1405.9h0M332.7 1371.1h0M373.7 1397.1h0M331.7 1372.8h0M315.9 1357.3h0M380.5 1415.2h0M350.7 1413h0M325.5 1371h0M328.3 1402.4h0M351.2 1418.7h0M340.6 1396.9h0M373.3 1370.1h0M320 1361.1h0M350.5 1412.3h0M320.7 1372.9h0M336.1 1384.6h0M380.3 1369.6h0M351 1387.3h0M389.6 1375.1h0M377.1 1368.1h0M375.7 1373.8h0M338.6 1366.7h0M369.9 1354.4h0M385.9 1352.4h0M367.8 1400.6h0M334.8 1377h0M379.4 1383.3h0M367.5 1396.5h0M337.8 1391.9h0M371.6 1409.4h0M344.1 1374.9h0M347.7 1378.7h0M365.6 1385.5h0M343.1 1396h0M344.2 1388.4h0M351.5 1418.6h0M340.8 1411.5h0M373.4 1376.6h0M334.4 1393.9h0M375.9 1381.9h0M371.8 1411.3h0M373.7 1410.5h0M333.7 1395.6h0M379.9 1380.2h0M345.2 1377.2h0M377.8 1397.5h0M377.2 1392.2h0M369.7 1412h0M368.4 1351h0M325.2 1376.8h0M364.4 1414.2h0M334.3 1350.8h0M373.2 1406h0M334.3 1374.9h0M339.6 1378.5h0M366.3 1411h0M366.6 1405.8h0M360.9 1409.8h0M335.1 1392.4h0M365.2 1403h0M381.9 1356.7h0M350.2 1407.8h0M364.7 1402h0M341.8 1365.3h0M324.4 1376.8h0M334.9 1379.2h0M368.4 1357.3h0M337.4 1402.4h0M368.5 1369.8h0M349.7 1416.5h0M387.3 1373.5h0M334.1 1411h0M324.9 1386.3h0M368.5 1360.8h0M366.3 1396.2h0M361.1 1408h0M327.5 1354.1h0M366.5 1375.9h0M336.4 1361.8h0M333.1 1368.6h0M334.5 1397.1h0M331.6 1366.9h0M377.4 1381.4h0M348.9 1371.9h0M349.2 1390.5h0M391.6 1351.5h0M331.9 1351.2h0M338.8 1400.1h0M373.4 1366.7h0M370.3 1368.7h0M346.5 1366.4h0M337.6 1351.6h0M333.1 1362.7h0M347.7 1409.4h0M370.6 1362.4h0M368.5 1402.3h0M360.2 1408.4h0M349.5 1420.8h0M325.5 1397.1h0M340.4 1391h0M346 1418.2h0M379.2 1379.8h0M377.5 1396.5h0M351 1392.5h0M330.1 1375.5h0M329.9 1383.1h0M337.2 1352.6h0M334.5 1394.3h0M376.1 1376.9h0M375.4 1354.2h0M366.8 1377.9h0M376.3 1396.2h0M374.3 1375h0M341.6 1398.1h0M390.2 1351.3h0M343.8 1356.9h0M384 1378.6h0M375.7 1372.6h0M374.5 1379.4h0M380.1 1396.7h0M368 1378.1h0M328.6 1360.8h0M335.5 1400.3h0M368.2 1360.3h0M375.6 1403.2h0M314.7 1354.1h0M380.6 1392.2h0M359.8 1405.7h0M366.1 1397.3h0M373.4 1405.5h0M387.3 1375.1h0M322.5 1359.3h0M330.2 1357.9h0M332.4 1373.5h0M376.7 1374h0M323.8 1412.3h0M376.9 1402h0M380.5 1355.9h0M374.4 1375.6h0M382 1363.8h0M372.8 1412.1h0M369.3 1409.2h0M351.9 1390.5h0M370.7 1402.1h0M373.4 1370.3h0M362.9 1416.9h0M323.7 1372.1h0M375.6 1372.5h0M387.1 1372.1h0M379.3 1360.7h0M338.9 1410.5h0M378.6 1357.2h0M346.8 1390.6h0M368.8 1397.3h0M366.5 1375.5h0M389.9 1362.7h0M331.4 1389h0M334.3 1408.3h0M346.1 1383.5h0M369.6 1387.7h0M322.3 1357.8h0M370.6 1353.2h0M320.1 1366.1h0M333.2 1363.2h0M377.5 1404h0M352.7 1402h0M334.1 1358.8h0M326.7 1358.1h0M349.2 1411.3h0M349.3 1407.1h0M354.9 1422.1h0M349 1376.2h0M363.5 1372.5h0M366.5 1411.3h0M345.9 1397.7h0M367.2 1357h0M362.1 1421.1h0M369.2 1406.6h0M385.8 1375.7h0M375.3 1372.2h0M332 1383.7h0M359.1 1418.2h0M326 1353.1h0M374.3 1382.3h0M389.5 1373.6h0M359.7 1419.5h0M382 1366.8h0M367 1407h0M379.9 1353.6h0M371.8 1405.8h0M321.7 1367.8h0M324.7 1376.1h0M335.2 1390.2h0M388.4 1371.6h0M391.7 1362.7h0M323.2 1383.5h0M347.5 1392.2h0M320 1362.7h0M368 1353.8h0M380.7 1370.4h0M339.5 1365.7h0M353.4 1418.2h0M391 1367.8h0M381.8 1377.9h0M370.2 1365h0M336.9 1404.2h0M365.3 1372.2h0M344.9 1391.2h0M380.1 1368h0M320.1 1352.7h0M329.7 1370.3h0M377.4 1398.5h0M369 1367.8h0M386 1376.1h0M397 1370.5h0M375.1 1376.8h0M343.8 1396.2h0M343.1 1378.7h0M341.4 1416.9h0M318.6 1356.1h0M369.1 1407.8h0M323.1 1366.3h0M359.4 1422h0M323.5 1383.3h0M350.3 1392h0M325.2 1360.4h0M370.1 1414.2h0M373.7 1396.4h0M365.7 1412.9h0M336.9 1400.4h0M342.7 1414h0M390.9 1366.3h0M341.4 1408.5h0M327.3 1365.8h0M382.3 1376.1h0M370.1 1405.4h0M336.8 1385.7h0M333.3 1398.4h0M336.6 1387.3h0M385.2 1351.7h0M382.9 1372.5h0M366 1406.6h0M369.6 1416.4h0M365.5 1398h0M366.5 1397.9h0M389 1370.6h0M349.8 1411.5h0M342.1 1377.5h0M347.6 1398.4h0M335.5 1398.9h0M385.6 1386.1h0M344.8 1387.5h0M369.9 1398.2h0M371.5 1393.3h0M323.1 1387.4h0M307.8 1358.4h0M354.2 1404.6h0M344.2 1355.9h0M362.2 1401.5h0M359.3 1415.7h0M349.5 1416.2h0M386.2 1358.4h0M339.6 1382.5h0M387.5 1372.2h0M369.6 1395.5h0M318.8 1361.3h0M386 1379.8h0M380 1381.6h0M359.8 1396.9h0M365.3 1419h0M333.9 1370.7h0M361.3 1400.7h0M386.2 1351.1h0M373.7 1400.8h0M366.8 1382.8h0M352.6 1400h0M316.9 1366.6h0M338.9 1408.5h0M383.8 1356.5h0M322.2 1354.7h0M314.2 1351.1h0M372.3 1393.6h0M379.1 1406.7h0M366 1383h0M343.4 1400.2h0M335.1 1363.8h0M325.5 1383.6h0M328.6 1356.9h0M341.3 1372h0M376 1370.4h0M380.2 1361.2h0M375.9 1359.9h0M341.9 1352.9h0M360.2 1417.7h0M350.3 1387.8h0M323.8 1373.9h0M374.9 1367.1h0M377.4 1392.9h0M340.7 1408.3h0M342.8 1395.1h0M367 1399.9h0M376.7 1402.4h0M381.5 1357.5h0M327.2 1365h0M363.6 1410.3h0M330.1 1388.3h0M310.3 1360.8h0M384.7 1358h0M389.7 1373.1h0M371 1380.3h0M336.5 1385.7h0M346.7 1366.1h0M385.7 1358.1h0M335.6 1352.4h0M324.2 1369.2h0M373.2 1408.7h0M378.9 1354.2h0M331.9 1361.4h0M339.3 1364.4h0M339.3 1394.2h0"/>
<path d="M329.6 1401.7h0M349.5 1414.1h0M370.9 1385.5h0M316.8 1365.2h0M335.3 1369h0M388.8 1358.1h0M307.6 1376.3h0M336.8 1355.3h0M369.5 1399.6h0M386.6 1350.9h0M362.5 1395.5h0M372.4 1367h0M374.1 1400.8h0M324.2 1357.1h0M361.7 1402h0M386.9 1382.5h0M374.4 1355.8h0M345.6 1360h0M371.3 1402.6h0M319 1356h0M376.9 1392.2h0M350.3 1392.1h0M343.8 1398.9h0M316.7 1361.1h0M367.7 1411.8h0M378 1357.6h0M358 1422.2h0M347.9 1395h0M344.3 1390.8h0M364.3 1385.5h0M365.4 1378h0M376.9 1394.8h0M385.1 1385.5h0M382.1 1376.6h0M333.3 1385h0M336.9 1411.1h0M331.8 1403.4h0M378.1 1353.9h0M329.5 1354.6h0M341.1 1410h0M342 1382.3h0M343.2 1414.1h0M330.4 1351.5h0M336.2 1351.3h0M349.1 1408.9h0M359.3 1414.9h0M364.2 1384.3h0M332.6 1399.2h0M373 1375.1h0M348.2 1388.8h0M370.8 1381h0M370.1 1410.4h0M318.8 1361.6h0M338 1360.5h0M362.1 1402.9h0M338.9 1363.5h0M332.6 1370h0M362 1420.5h0M383 1390.2h0M369.6 1409h0M338.3 1388.1h0M380.3 1370.5h0M346.3 1407.9h0M374 1382.6h0M366.4 1416.5h0M367.9 1380.8h0M389.4 1371.5h0M332.7 1352.9h0M345.9 1404.2h0M326.7 1384.1h0M328.1 1376h0M328.6 1396.2h0M328 1378.7h0M323.3 1385.2h0M362.1 1418h0M343.3 1399h0M348.1 1392.3h0M326.4 1384.2h0M368.3 1402.5h0M380.9 1392.1h0M339.8 1369.6h0M383.3 1363.2h0M337.2 1397.9h0M396.1 1359.8h0M381.4 1383.8h0M379.3 1369.4h0M373.6 1370h0M380 1407.9h0M346 1372.1h0M386.8 1377h0M312.4 1402.3h0M337.1 1396.9h0M322.6 1354.1h0M337.2 1353.5h0M376.2 1410.4h0M318.3 1359.6h0M315.3 1352.8h0M362.4 1395.1h0M375 1366.7h0M332.1 1363.6h0M375.4 1386.7h0M337.3 1413.5h0M336 1383.9h0M344.7 1377.4h0M386.4 1361.5h0M388.6 1353.3h0M333.1 1403.7h0M373.2 1414.5h0M377.5 1387.3h0M379.3 1369.9h0M344.5 1383.7h0M364.3 1400.2h0M343.6 1363.8h0M359.9 1415.6h0M346.6 1409.6h0M324.5 1373h0M343.7 1371.6h0M337.8 1382.2h0M385 1359.9h0M340.6 1370.7h0M370.3 1363.4h0M335.5 1383.1h0M348.6 1407h0M347.9 1392.9h0M372.7 1357.3h0M353.4 1410h0M391.3 1356.5h0M331.4 1378h0M378 1404.1h0M373 1367h0M336.5 1406.4h0M333.6 1382.5h0M318.1 1353.7h0M347.2 1370.2h0M364.9 1408.3h0M361.6 1396.5h0M390.4 1361.3h0M388.2 1411.1h0M378.8 1406.2h0M379.4 1374.3h0M333 1361.3h0M360.1 1420.6h0M324 1382.9h0M369.9 1355.6h0M330.2 1372.1h0M324.7 1375.9h0M360.9 1417h0M367.9 1396h0M379 1391.7h0M369.3 1414.8h0M360.7 1417.2h0M336.9 1405.4h0M368.4 1381.8h0M336 1385.2h0M319.4 1368.9h0M317.8 1388.2h0M365 1417.1h0M348.7 1386.1h0M336.8 1396.5h0M331.4 1381.8h0M340.6 1365.8h0M370.4 1380.1h0M339.6 1371h0M363.1 1417.1h0M335.9 1401.1h0M346.7 1376.8h0M351.1 1409.1h0M367.1 1366.9h0M361.9 1419h0M341.5 1398.9h0M386.5 1387.2h0M400.6 1353.6h0M361.8 1388.3h0M353.5 1419h0M344.5 1394.1h0M340.5 1367.2h0M343.2 1397.4h0M361 1412.6h0M329.4 1395.2h0M339.8 1355.5h0M381.1 1366.8h0M382.6 1377.8h0M384.5 1374.5h0M324.7 1388h0M384.9 1390h0M343 1397.5h0M369.5 1352.2h0M374.1 1405.2h0M334.7 1359.2h0M343.5 1368h0M375.9 1386.5h0M385.3 1391.4h0M328 1388.7h0M378.5 1398.8h0M332.7 1368.4h0M344.1 1372.9h0M346.2 1373.1h0M331.9 1401h0M387 1369.6h0M345.8 1404.2h0M384.4 1357.8h0M322.4 1379.2h0M332.9 1408.2h0M316.1 1353.4h0M331.7 1370.2h0M344.4 1356.8h0M339.4 1409.8h0M381.1 1382.5h0M368.3 1407.4h0M372.1 1369.3h0M324.7 1386.2h0M328.7 1371.8h0M318.5 1361.4h0M322.6 1356.8h0M371.3 1414.7h0M354.8 1420.7h0M327.6 1398.8h0M373.8 1375.5h0M339.2 1401.8h0M361 1408.3h0M342.3 1353.6h0M365.9 1373.8h0M346.5 1401.8h0M323 1361.4h0M331.9 1395.1h0M366.7 1405.4h0M382.8 1365.5h0M338.3 1387.6h0M368.8 1352.7h0M350.3 1418.2h0M371.6 1385.2h0M380.7 1362.2h0M335 1352.4h0M373.9 1351.8h0M339.6 1351.5h0M376.4 1397.6h0M361.9 1380.5h0M328.3 1378.9h0M351.1 1384.9h0M393 1355.6h0M389 1353.1h0M380.4 1372.1h0M377.1 1384.8h0M364.9 1372.4h0M348.7 1419.2h0M345.7 1400.3h0M299.5 1367h0M338.7 1369.5h0M334.7 1362.7h0M338 1372h0M340 1385.7h0M361.5 1412.7h0M368.4 1382.7h0M344.1 1387.3h0M329 1367.1h0M339.7 1412.2h0M373.1 1365.9h0M385.9 1351.1h0M371 1406.1h0M344.7 1367.2h0M367.9 1383.1h0M350.3 1384.2h0M333.6 1386.4h0M347.2 1376.5h0M372.4 1409.3h0M379.4 1363h0M366 1396.4h0M338.5 1353.5h0M323 1358.7h0M349.2 1398.9h0M372.4 1371.2h0M332 1391.1h0M340.8 1378.3h0M382.3 1352.1h0M387.6 1361.1h0M365.4 1375.6h0M381.9 1399.6h0M372 1406.5h0M328 1358.3h0M379.4 1374.1h0M317.4 1358.1h0M381.3 1385.2h0M347.7 1410.4h0M344.3 1382.1h0M379 1358.9h0M316.1 1353h0M347.4 1410.3h0M374.5 1376.8h0M336.3 1367.6h0M380.1 1387.4h0M370.7 1377.7h0M364.6 1396.2h0M390.5 1352.7h0M382 1391.8h0M366.6 1376.7h0M374.4 1366.3h0M346.2 1406.4h0M367.7 1408.8h0M337.9 1414.8h0M345.4 1413.3h0M368.7 1366.3h0M336.9 1367h0M348 1376.6h0M322.2 1357.9h0M381.2 1373.7h0M331.2 1391.9h0M354.5 1421.6h0M336.5 1360.3h0M375.7 1394.7h0M329.2 1365.1h0M363.2 1386.6h0M345.6 1399.5h0M375.8 1396.3h0M351.6 1418.8h0M368 1365.2h0M349.9 1390.5h0M320.7 1361.6h0M386.1 1355.6h0M361.7 1417.2h0M354.3 1421h0M361.8 1383.4h0M329.6 1383.8h0M349.3 1378.3h0M373.7 1396.7h0M373.9 1394.7h0M381.1 1363.6h0M384.5 1369.7h0M367.6 1380.3h0M363.5 1396.4h0M337.1 1356.6h0M372.5 1413.7h0M374.2 1412.6h0M349.4 1380.2h0M382.9 1364.6h0M331.1 1369.1h0M375.4 1395.6h0M316.3 1353h0M338.2 1379.8h0M373.6 1369.7h0M386.4 1405.5h0M345.5 1413h0M343 1413.3h0M301.3 1354.3h0M379.8 1363.2h0M337.6 1367.8h0M384 1371.2h0M388.1 1380h0M367.9 1358.5h0M383.6 1382.4h0M369.6 1407.8h0M380.6 1363.1h0M369.5 1385h0M348.2 1407.1h0M386.4 1365.4h0M321.1 1361.2h0M372.9 1403.8h0M381.5 1397.9h0M335.3 1406.6h0M347.5 1408.6h0M342.3 1353.9h0M319.2 1351.9h0M350.3 1413.5h0M359.6 1398.8h0M369.7 1369.8h0M375.4 1360.8h0M372.8 1361.8h0M344.9 1392.5h0M321.4 1354.7h0M392.4 1354.3h0M382.9 1363.8h0M327.3 1352h0M380.8 1353.5h0M377.9 1360.6h0M349.3 1385.9h0M330 1354.3h0M322.3 1376.5h0M391.4 1351.9h0M367.2 1416.8h0M382.1 1379.8h0M333.9 1403.6h0M344.6 1368.6h0M350.7 1386.5h0M319 1357.5h0M380.8 1394.2h0M354.7 1404.2h0M340.9 1373h0M374.8 1378.6h0M370 1362.5h0M323.4 1370.9h0M345.7 1408.5h0M390.5 1351.8h0M346.6 1370.6h0M361.5 1421.2h0M368 1354.4h0M323.6 1355.1h0M410.2 1361.1h0M374.6 1408.3h0M344.4 1370.2h0M379.3 1373h0M362.6 1411.4h0M323.3 1389.8h0M382.4 1368.9h0M335.6 1413.3h0M354.1 1416.8h0M372.6 1391.9h0M366.9 1411.2h0M385.2 1377.9h0M384.1 1358.5h0M374.8 1371.1h0M361.4 1399.5h0M348.1 1402.5h0M372.1 1361.5h0M375.2 1367.3h0M339.3 1386.8h0M334.1 1371.8h0M359 1420.3h0M329.6 1393h0M375.6 1382.3h0M377 1400.5h0M353.3 1411h0M332 1394.6h0M365.6 1362.7h0M317.6 1350.9h0M326.2 1367.2h0M333.7 1396.8h0M372.3 1397.4h0M378.1 1352.8h0M329.9 1406.3h0M371.7 1386.4h0M342.3 1409.5h0M341.4 1388.4h0M318.7 1370.8h0M370.9 1380.6h0"/>
<path d="M389.1 1375.3h0M343.8 1401.7h0M327.2 1370.7h0M343 1405.2h0M347.8 1405.3h0M352.4 1394.4h0M393.2 1354.4h0M344.2 1367.1h0M345 1366h0M375.1 1365.5h0M370.7 1405.2h0M350.6 1403.1h0M316.6 1363.8h0M329.8 1361.2h0M379.3 1364.2h0M343.4 1409.6h0M337 1404.1h0M333.3 1397.7h0M335.2 1351.4h0M322.6 1360.6h0M340.7 1401.3h0M361.9 1409.7h0M344.4 1380.5h0M375.2 1356.2h0M363.5 1416.1h0M375.9 1375.7h0M337 1390.3h0M340.3 1416.3h0M371.9 1373.4h0M395.3 1370.5h0M349.5 1375.2h0M361.9 1418h0M339.4 1390.2h0M364.5 1420.2h0M323.6 1378.7h0M367 1401.4h0M372.3 1392.9h0M375.9 1385.7h0M382.1 1398.1h0M374.8 1395.2h0M337.1 1398.7h0M334.7 1365.4h0M377.4 1377.1h0M378.2 1385.5h0M379.5 1351.1h0M342.9 1356.5h0M364.4 1417h0M333.9 1365h0M320.3 1361.9h0M345.4 1374h0M331.5 1375h0M369.1 1384.8h0M372 1382.3h0M377.6 1376.3h0M363.9 1398.2h0M343.1 1377.2h0M316 1356.6h0M324.4 1363.1h0M382.7 1377h0M363.1 1420.7h0M381.3 1367.8h0M325.7 1372.9h0M370.6 1383.7h0M368.3 1410.6h0M340.4 1392.6h0M360.8 1400.8h0M337.3 1408.9h0M377.4 1408h0M322.5 1395.2h0M354.1 1421.2h0M404.8 1368.2h0M348.4 1397.6h0M339.1 1396.7h0M381 1402.6h0M374.3 1396.8h0M377.1 1374h0M381.9 1394.6h0M383.9 1388.4h0M371.6 1372.4h0M362.9 1395h0M346 1368.4h0M338.1 1362.3h0M371.7 1383.1h0M350.5 1397h0M387.2 1357.7h0M380.1 1403h0M383.1 1356.8h0M319.5 1362.2h0M367.6 1400.8h0M367.1 1397.3h0M380 1396.2h0M378.7 1391h0M328.2 1400.7h0M362.9 1402.1h0M361.9 1416.4h0M382.4 1386.8h0M383.5 1377.6h0M339.1 1352h0M378 1400.5h0M333.3 1382h0M391.8 1352.9h0M402.3 1367.9h0M325.3 1359.9h0M312.7 1361.7h0M368.6 1385.9h0M344.7 1360.6h0M328.7 1378h0M323.5 1370.1h0M363.9 1380.4h0M348.2 1384.7h0M363.4 1387.4h0M380 1388.7h0M364.3 1416.3h0M332.1 1353.8h0M365.9 1393.9h0M375.4 1355h0M375.7 1362.2h0M376.6 1358.1h0M370.6 1376.7h0M327.3 1383.3h0M370.7 1352.7h0M377.3 1384.5h0M377.8 1357.1h0M387.6 1354.1h0M360.8 1407.3h0M360.9 1405.7h0M372.7 1397.5h0M316.5 1356.5h0M339 1357.1h0M321.9 1352.7h0M375.7 1401.7h0M385.6 1351.7h0M373.7 1387.1h0M363.2 1375.5h0M332.7 1380.3h0M351.8 1396.2h0M320.8 1368.5h0M334.1 1369.5h0M379.4 1361.7h0M336.6 1352.7h0M397.4 1384.4h0M368.8 1376.7h0M331.3 1360.3h0M372.3 1413.9h0M346.7 1411.5h0M362.1 1388.9h0M389.6 1354h0M332.1 1385.8h0M368.8 1370.6h0M341.6 1359.1h0M339.8 1407.4h0M338.4 1406h0M389.2 1363.7h0M351 1394.3h0M367.9 1396.4h0M318.6 1362.4h0M360.1 1395.2h0M322.7 1379.7h0M381.3 1393.3h0M367.5 1353.8h0M344.9 1415.3h0M385.4 1379.7h0M360.3 1393.6h0M348 1373.6h0M325.8 1374.3h0M331.6 1373.2h0M371.6 1401.1h0M334.1 1359.5h0M365.7 1416.5h0M322 1377.1h0M359.8 1418.1h0M369.2 1387.2h0M348.4 1394.7h0M388.8 1359.9h0M349.7 1376.5h0M393.5 1394.3h0M343.6 1398.7h0M348.3 1370.4h0M321.1 1376.8h0M334.5 1397.7h0M334.9 1383h0M374.6 1376.2h0M374.6 1406.8h0M350.2 1387.5h0M381.7 1362.5h0M333.9 1392h0M373.1 1398h0M350.6 1405.4h0M331 1351.7h0M379.4 1373.1h0M338.2 1380.6h0M343 1368h0M369.8 1396.4h0M364.1 1410.2h0M334.6 1354.1h0M340.3 1410.6h0M349.9 1392h0M320.9 1388.9h0M375.7 1374.9h0M366.6 1399.8h0M375.9 1356.9h0M389.2 1386.8h0M384.7 1353.7h0M321.8 1365.1h0M320.7 1365.4h0M340.3 1373.2h0M374.8 1352.6h0M361.5 1383.9h0M354.3 1415.1h0M361.8 1406.5h0M382.8 1364.8h0M375.2 1355.9h0M388.4 1356.3h0M332 1396.1h0M372 1360.4h0M343.6 1408.9h0M328.4 1372.9h0M344.8 1374.6h0M344.3 1382.9h0M341.7 1367.6h0M371.3 1384.2h0M370.3 1373.2h0M373.6 1360.5h0M325.2 1378.9h0M343.5 1388.8h0M344.7 1409h0M350.4 1419.5h0M385.6 1352.1h0M327.2 1405.3h0M325.5 1386.3h0M343 1384.1h0M338 1390.4h0M386.2 1358.3h0M337.4 1394h0M354.3 1403.2h0M331 1404.2h0M353.9 1421.4h0M352 1409.6h0M372.1 1395.4h0M321.8 1370.5h0M339.5 1391.9h0M369.7 1375.7h0M386.3 1380.2h0M324.1 1376.1h0M374.6 1405.5h0M370.3 1396.6h0M391.4 1358.5h0M377.1 1368.7h0M338.2 1351.5h0M326.2 1382.5h0M366.2 1419.1h0M329.4 1367.2h0M381.2 1397.7h0M327.5 1392.6h0M366.3 1397.4h0M381 1385.8h0M324.5 1353.9h0M378.5 1353.4h0M339.8 1380.2h0M336.1 1395.4h0M340.9 1370.9h0M385.8 1377.2h0M372.4 1374.6h0M318.6 1364.5h0M343.1 1384.1h0M366.1 1406.5h0M363 1420h0M334.5 1391.8h0M348 1381.8h0M388.3 1362.9h0M320.3 1356.4h0M317.1 1355.8h0M335.2 1361.4h0M329.8 1401.7h0M338.8 1385.3h0M388.3 1372.7h0M361.6 1385.9h0M319.8 1351.6h0M374.1 1360.6h0M387.3 1368.6h0M328 1370.7h0M332.3 1375.2h0M373.6 1388h0M342.6 1416.1h0M341.6 1391.8h0M379.3 1360.2h0M336 1365.9h0M345 1388.3h0M342.3 1409.9h0M369.3 1410.1h0M365.1 1371.6h0M366.8 1391.7h0M359 1412.8h0M337.6 1380.2h0M348.1 1391.4h0M362.4 1385.1h0M377.5 1371.2h0M374.2 1382.9h0M327.5 1374.5h0M370.9 1380.9h0M368 1359.9h0M346.3 1416.1h0M333.1 1363.6h0M351.6 1421.2h0M321.6 1380h0M362 1402.4h0M379 1407h0M351.1 1408.2h0M362.7 1394.9h0M350.8 1412.9h0M381.6 1361.1h0M388.8 1351h0M369 1372h0M373.6 1412.1h0M374.4 1370.5h0M374.7 1407.4h0M350.9 1390.7h0M331.7 1397.3h0M346 1391h0M328.4 1356.7h0M377.8 1380.7h0M315.1 1380.7h0M348.1 1416.2h0M375.1 1383.7h0M376.5 1375h0M324.7 1386.5h0M321.2 1378.3h0M339.3 1407.8h0M374.9 1393.7h0M385.1 1383h0M339.4 1391.4h0M330.6 1381.9h0M348.3 1397.9h0M362.6 1393.4h0M392.2 1356h0M373.3 1399.6h0M337.5 1405.7h0M339.6 1383.7h0M367.8 1399.6h0M321.7 1354h0M375.5 1381.8h0M360.3 1397.5h0M327.9 1359.8h0M365.2 1365h0M353.5 1410.3h0M335.4 1371.9h0M341 1362.9h0M375.6 1384.2h0M365.4 1408.1h0M378.1 1385h0M369.2 1387.1h0M351.9 1408.7h0M344.4 1404.1h0M374.7 1360.6h0M381.1 1369.1h0M370.7 1403.1h0M378.7 1386h0M388.5 1369.4h0M318.9 1353.1h0M331.5 1351.5h0M364.5 1419.9h0M388.7 1366.6h0M369.4 1413.7h0M375.7 1397.8h0M372.3 1401.5h0M326.9 1353.7h0M322.1 1358.5h0M332 1395.2h0M318.4 1364.8h0M363.4 1389.9h0M359.2 1416h0M367.5 1370.3h0M338.3 1401.2h0M346.5 1392.9h0M334 1400.8h0M385.5 1353.1h0M326.9 1396.5h0M339.1 1378.3h0M323 1364.2h0M370.3 1406.1h0M379.3 1402.5h0M382.6 1376.3h0M323.6 1385.9h0M307.4 1362.7h0M366.3 1373.7h0M331.1 1393h0M327.4 1367.6h0M351.3 1411h0M332 1378.7h0M359.4 1417.2h0M387.6 1376.9h0M375 1359.2h0M339 1358.8h0M374.3 1386.8h0M404.3 1357h0M383.9 1377.2h0M367.8 1377.6h0M395.5 1366h0M379.3 1372.1h0M385.1 1365.8h0M325 1358h0M375.8 1386.9h0M383.3 1368.1h0M346.9 1418.4h0M363.7 1389.5h0M338.6 1407h0M371.9 1406.2h0M345.2 1375.5h0M386.7 1384.6h0M352.7 1416.2h0M379.2 1379h0M369.4 1372.9h0M324.9 1369.2h0M333.4 1396.1h0M344.4 1365.3h0M370.5 1361.9h0M327.7 1382.6h0M367.9 1408.2h0M344.8 1367.8h0M337.1 1397.7h0M370.1 1357.5h0M323.9 1392.3h0M319.6 1373.2h0M322.6 1375.3h0M383.8 1389h0M365.4 1366.1h0M341.4 1394.9h0M365.2 1403h0M346.3 1367h0M327.2 1410.3h0M334.7 1361.4h0M342.8 1362.2h0M337.8 1372h0"/>
<path d="M359.1 1417.7h0M341.2 1387.3h0M343.4 1370.9h0M326.1 1385.1h0M371.3 1403.1h0M331 1406.4h0M363.3 1392.4h0M346.2 1395h0M377.9 1396.7h0M343.1 1379.7h0M354.3 1410.4h0M326.6 1388.9h0M364.1 1414.3h0M343 1370.1h0M351 1414.9h0M361.3 1394.3h0M317.6 1372.1h0M390.4 1376.3h0M354.6 1412.7h0M376.8 1385.5h0M367.4 1368.8h0M325.7 1377.4h0M383.9 1385.4h0M323.3 1359.4h0M350.4 1420.9h0M369.3 1378.7h0M337.5 1360.1h0M326.3 1384.9h0M365.6 1412.7h0M361 1416.5h0M332 1396.4h0M368.1 1402.5h0M331.7 1393.7h0M329.1 1395.2h0M363.1 1416.4h0M365.1 1395.7h0M380.2 1378.4h0M341.9 1377.2h0M383.9 1379.4h0M383.9 1393.3h0M371.1 1415.2h0M331.5 1388.4h0M348.5 1414.8h0M328.8 1365.8h0M338.9 1415.6h0M324.8 1354.1h0M361.7 1388.1h0M336.1 1381.1h0M331 1367.3h0M366.9 1372.7h0M332.5 1379.8h0M351.5 1416.5h0M314.3 1366h0M352.2 1393.7h0M368 1359.6h0M318.3 1359.5h0M366.1 1374.3h0M348.6 1380.2h0M321.7 1382.8h0M347.2 1368.1h0M336.7 1390.1h0M376.9 1357.9h0M320.5 1368.6h0M344.3 1381.2h0M342 1357.1h0M375.4 1391.3h0M329 1391.6h0M380.9 1400.9h0M367.7 1386.7h0M361.2 1410.2h0M344.1 1378h0M319.6 1356.8h0M391.7 1356.3h0M386.9 1353.9h0M359.2 1411.5h0M372.6 1375h0M366.1 1383.5h0M364.5 1411.4h0M363.8 1384.1h0M334.7 1355.1h0M373.6 1389.9h0M345.7 1405.8h0M367.7 1417.9h0M327 1373.1h0M346.9 1412.5h0M324.1 1360h0M379.8 1362.9h0M370.2 1361h0M346.4 1399.3h0M344.4 1408.6h0M335.4 1360.5h0M378.8 1395.6h0M374.1 1372.4h0M377.6 1400.4h0M358 1422.3h0M377.6 1388.9h0M379.5 1379.8h0M376 1359.5h0M369.1 1358.3h0M348.6 1380.1h0M343.9 1355.9h0M371.6 1395.6h0M334 1404.7h0M339.1 1405.5h0M329 1397.4h0M349.9 1393.3h0M390.1 1365.3h0M351.2 1407.6h0M340.3 1395.3h0M378.1 1399.5h0M348.5 1401.8h0M341 1411.9h0M338.9 1395.7h0M372.4 1407.5h0M325.7 1354.8h0M370.9 1390.3h0M380 1399.2h0M328.7 1379.1h0M337.8 1394.2h0M377.6 1367.5h0M318.5 1352.1h0M324.6 1365.9h0M372 1354.5h0M375.6 1380.8h0M375.5 1366.4h0M365.8 1374.8h0M386.9 1372h0M373.4 1356.8h0M361.2 1421.2h0M344.1 1397.3h0M373.7 1357.1h0M380.2 1390.5h0M378.2 1408.8h0M328.5 1357.3h0M387.7 1358.5h0M345.4 1407.1h0M335.6 1402.1h0M383 1378.3h0M386.9 1380.7h0M362.5 1418.9h0M363.7 1408.1h0M347 1379.7h0M334.5 1364.2h0M375 1380.1h0M363.4 1418.9h0M371 1359.2h0M378.6 1367.3h0M354.6 1417.2h0M328.8 1362.1h0M369.9 1369.3h0M345.1 1363.4h0M383.3 1364.5h0M380.8 1392.5h0M339 1356.5h0M330.3 1397.5h0M368.2 1366.6h0M353.2 1404.9h0M383.5 1359.4h0M379.8 1396.2h0M386.7 1379.4h0M369.3 1384.9h0M371.9 1353.3h0M371.4 1377.1h0M374.5 1377.2h0M376.1 1371h0M348.6 1374.3h0M325.7 1375.9h0M376 1391h0M319.6 1385.3h0M319.9 1369.6h0M319.3 1364.5h0M369.2 1376.8h0M339.4 1366h0M369.9 1401.5h0M362.7 1398.8h0M369.4 1409.4h0M375 1361.1h0M385 1367.3h0M328.7 1354.3h0M385 1359.8h0M347 1415.9h0M321.7 1376.8h0M339.2 1355h0M389.3 1351.6h0M396.3 1389.8h0M388.7 1353.9h0M364.4 1418.7h0M339.8 1360h0M324.9 1381.3h0M387.8 1377.9h0M378.4 1384.6h0M315.9 1356.9h0M350.1 1400.7h0M367.7 1412.2h0M336.4 1410h0M379.4 1365.7h0M350.9 1398.6h0M386.9 1377.5h0M388 1361.7h0M338.1 1360.7h0M354.9 1422.3h0M389.6 1358.9h0M329.5 1375.9h0M365.2 1391.8h0M330.5 1356.1h0M382.9 1382.8h0M360.8 1405.8h0M330.9 1363.7h0M362.4 1414.3h0M370.2 1373.6h0M371.3 1356.3h0M361.1 1408.3h0M328.4 1386.9h0M340.6 1377.4h0M388 1358.6h0M365.6 1391.6h0M335.2 1406.2h0M389.4 1358.4h0M350.7 1399.6h0M366 1386.8h0M329.6 1379.9h0M328.8 1368h0M370.9 1408.6h0M341 1397.6h0M374.7 1375h0M338.8 1362.8h0M362.5 1385.4h0M392.4 1353.4h0M385.4 1391h0M377.2 1359.5h0M376.4 1358.5h0M343 1357.8h0M372 1359.6h0M333.7 1409.3h0M316.9 1351.4h0M344.6 1407h0M332.3 1358h0M344.7 1407.7h0M383.5 1364.6h0M349.7 1419.3h0M315 1355.8h0M329.8 1400.4h0M339.2 1366.9h0M392.1 1359.8h0M331.5 1408.4h0M369.9 1370.1h0M319.3 1376.5h0M320 1395.6h0M340.3 1405.4h0M346.7 1400.7h0M371.2 1360.5h0M366.5 1360.1h0M365.8 1401.9h0M323.8 1355h0M379.2 1383.1h0M344.6 1391.4h0M316.7 1360.3h0M362.8 1403.7h0M353.7 1410.5h0M335.2 1401.5h0M340.7 1415.5h0M350 1392.2h0M320.4 1375.3h0M338.1 1373.4h0M366.5 1414h0M345.4 1396.3h0M383.9 1357.4h0M333.5 1353.5h0M387.2 1384.1h0M375.3 1380.4h0M382.2 1378.3h0M374.4 1379.8h0M387.1 1378.2h0M366.9 1396.8h0M374.3 1357.9h0M380.9 1363.4h0M336.6 1402h0M386.6 1383.5h0M363.3 1385.5h0M359.2 1418.6h0M349.4 1389.7h0M352.3 1421.4h0M362.8 1384.8h0M391.5 1361.1h0M329.7 1392.6h0M347.6 1387.2h0M337.5 1417.6h0M375.6 1395h0M373.2 1361.1h0M383.8 1355.3h0M366.8 1368.7h0M369.4 1397.1h0M360.8 1410.2h0M339.7 1369.8h0M325.8 1367.6h0M390 1363.2h0M351.7 1393.7h0M334.2 1364.5h0M387.6 1364.9h0M341.7 1368.7h0M327.2 1367.5h0M372.8 1366h0M349.7 1388h0M369.5 1396.5h0M334.1 1403.8h0M340.8 1352.5h0M383.1 1376.3h0M340.6 1401.4h0M360.1 1413.4h0M345.2 1358.5h0M326.1 1353.4h0M329.5 1352.5h0M339 1402.5h0M332.4 1382h0M410.5 1359.9h0M363.3 1396.3h0M363 1407.6h0M353.2 1397.9h0M364.9 1406.5h0M340.6 1415.1h0M366 1404.2h0M354.5 1417h0M376.1 1407h0M372.9 1387h0M374.7 1412.1h0M335.8 1370.4h0M369.6 1395.8h0M359.2 1417.9h0M319.9 1374.1h0M384.8 1388.1h0M389.2 1355.1h0M375.6 1364h0M334.9 1351.8h0M369.2 1355.8h0M360.7 1403.1h0M371.2 1413.7h0M383.5 1354.1h0M375.5 1398.2h0M345.5 1413.6h0M396.8 1388.2h0M379.8 1364.4h0M329.9 1401.2h0M327.7 1402h0M325.7 1376.3h0M338 1402.6h0M391.4 1352.5h0M361.5 1396.9h0M363.5 1371.7h0M327.8 1353.8h0M382.4 1376h0M370.6 1375.6h0M351.9 1419.3h0M365.3 1401.2h0M375.4 1362.3h0M333.1 1369.7h0M399.3 1359.8h0M374.2 1361.9h0M319.7 1365h0M348.2 1379h0M387.9 1366.8h0M340.6 1360.7h0M384.1 1367.1h0M354.9 1421.3h0M390.8 1359.1h0M371.8 1360.6h0M317.2 1354h0M358.9 1420.4h0M389.8 1365.7h0M371.4 1365h0M328.5 1355.8h0M370.6 1409.5h0M353.1 1391.6h0M365.5 1386.2h0M382.6 1369.4h0M345.2 1378.3h0M334.6 1352.4h0M331.9 1375.3h0M337.5 1372.9h0M351.1 1394.9h0M343.5 1418.2h0M333.3 1411.7h0M334.2 1373.6h0M375.2 1380.8h0M340.5 1379.3h0M338.2 1390.8h0M346.8 1402.7h0M352.2 1400.4h0M367.1 1388.9h0M323.7 1387.5h0M379.9 1387.9h0M322.3 1361.1h0M378.5 1353.6h0M372.2 1358.8h0M374.2 1363.7h0M334.6 1408.3h0M331.9 1388.1h0M319.8 1366.1h0M371.2 1370.5h0M344 1400.3h0M371.7 1395.3h0M346.6 1393.2h0M332.7 1390.7h0M373.7 1397.5h0M361.5 1401.1h0M342.5 1411.1h0M370.6 1391.3h0M366.1 1379.2h0M339.4 1403.7h0M385.6 1352.9h0M384.2 1387.9h0M342.1 1401.4h0M377.8 1382h0M335.3 1397.8h0M370.4 1385.8h0M381.7 1394.4h0M369.8 1404.3h0M348.2 1400.3h0M331.2 1393.7h0M317.5 1366.5h0M386.2 1351.2h0M371.7 1412.5h0M365 1387.6h0M331.5 1365.9h0M375.5 1382.4h0M328.7 1395.9h0M390.6 1367.6h0M324.1 1412.6h0M329.5 1368.9h0M391 1398.5h0M348.3 1406.5h0M378.9 1369.1h0M372.1 1363.5h0M390.8 1364.7h0"/>
<path d="M500.8 1350.8h0M481.4 1383.3h0M437.3 1370.2h0M425.8 1392.8h0M425.8 1405.4h0M309.4 1417.4h0M292.1 1370.2h0M300 1390.2h0"/>
</g>
<path d="M339.9 1328.2h0M429.9 1323h0M289.8 1340.1h0M379.9 1341.9h0M291.3 1337.7h0M323 1342.4h0M375.6 1325.5h0M396.9 1332.7h0M311.6 1315.1h0M395.6 1317.9h0M385 1272h0M275.9 1318.6h0M403 1320.9h0M335 1323.1h0M341.5 1343.5h0M329.1 1332.7h0M337 1350.8h0M431.5 1279.7h0M311.7 1348.4h0M402.7 1328h0M405 1342.6h0M314.1 1294.7h0M386.9 1336.3h0M401.2 1348.4h0M335.5 1348.7h0M341.3 1348.2h0M386.3 1335.2h0M388.2 1315.7h0M371.8 1349.6h0M436.9 1284.7h0M332.2 1331.2h0M339.5 1333.9h0M374 1348.2h0M379.1 1332.7h0M370.3 1330.6h0M377.8 1344.5h0M383.2 1347.7h0M324.9 1350.6h0M385.1 1334h0M402.7 1347.5h0M386 1328.2h0M368.8 1340.9h0M398.8 1331.2h0M294.5 1289.7h0M402.2 1342.6h0M418.5 1329.4h0M413.7 1345.9h0M397.1 1346.5h0M333.9 1330.2h0M318 1335.5h0M307.8 1322.7h0M326.7 1326.1h0M313.6 1349.8h0M336.3 1345.8h0M336.3 1325.6h0M282.1 1314.2h0M382.9 1343.7h0M335.5 1343.9h0M392.6 1309.9h0M336.2 1304.2h0M401.6 1348.2h0M398 1344.8h0M327.2 1347.5h0M339.9 1326.7h0M398.4 1320.3h0M378.5 1346h0M399.8 1340h0M387.2 1343.8h0M288 1337.7h0M331 1325.8h0M420 1350.8h0M323.8 1321.5h0M400 1348.1h0M383.9 1295h0M388.3 1281.3h0M310.2 1344.7h0M392.6 1346.4h0M311.8 1347.9h0M313.5 1330.7h0M277.9 1333.3h0M307 1245.5h0M328.2 1324.2h0M382.8 1290.2h0M332.1 1333.5h0M325.5 1320.1h0M391.7 1346.9h0M380.8 1345.9h0M383.3 1302.1h0M397.6 1317.4h0M334.3 1337.7h0M323.9 1279.4h0M337.8 1346.4h0M326.7 1338.1h0M318 1343.9h0M381.6 1328.7h0M326.4 1350.7h0M318.3 1347.6h0M313.4 1327.9h0M385 1336.7h0M388.1 1309.5h0M332.8 1230.1h0M398 1305.7h0M298 1202.5h0M339.1 1342.7h0M390.1 1331.5h0M316.6 1268.3h0M395.7 1316.7h0M394.9 1299.1h0M394 1330.1h0M338.6 1331.6h0M395.3 1320.3h0M395.5 1318.6h0M324.6 1312.7h0M322.3 1348.7h0M319 1338.1h0M403.6 1347.1h0M391 1345.9h0M394.1 1349.3h0M344.4 1350.4h0M307.5 1350h0M391.9 1299.3h0M385.7 1331.7h0M400.9 1344.1h0M385 1338.5h0M379.1 1345.1h0M388.8 1295.8h0M270.8 1327.3h0M384.4 1349.7h0M375.2 1338.7h0M383.7 1327.3h0M386.4 1350.6h0M387.4 1311.1h0M393.5 1323.5h0M397.3 1348.5h0M379.4 1305.9h0M324.6 1329.7h0M389.9 1324.6h0M384.2 1344.6h0M325 1336h0M393.9 1329h0M323.9 1343.2h0M455.4 1295.7h0M319.6 1319.5h0M393.3 1346.9h0M311.4 1327.7h0M381.4 1316.7h0M381.8 1347h0M387.6 1339.6h0M327.6 1287h0M397.8 1297.2h0M370.2 1339.2h0M391.9 1335.3h0M327.5 1344.6h0M390.6 1271.1h0M369 1340.3h0M396.6 1329h0M290.7 1339.2h0M395.5 1332.5h0M332.6 1336.8h0M324.2 1347.9h0M265.8 1349.6h0M377.3 1307.4h0M388.9 1319.5h0M375.8 1346.9h0M390.9 1304.5h0M391.7 1343.1h0M415 1343.5h0M340.1 1342.5h0M373.8 1336.5h0M325.1 1341.4h0M314.2 1337.3h0M328 1350.1h0M378.9 1325.3h0M312.1 1320.6h0M391.9 1316h0M312.1 1322.8h0M311.5 1349.1h0M386.7 1318.4h0M343.2 1348.5h0M390 1339.5h0M379.7 1341.4h0M400.6 1339.5h0M316.9 1336.6h0M307.9 1334.2h0M393.9 1348.3h0M434.4 1316.3h0M308.5 1328.7h0M331.4 1341h0M307.3 1335.7h0M369 1343.8h0M372.7 1322.8h0M335.1 1304.4h0M398.4 1348.7h0M315.5 1336.1h0M342.5 1341.1h0M331.6 1341.6h0M452.8 1345.2h0M327.8 1332.1h0M383.9 1328.8h0M378.3 1322.8h0M320.5 1298.1h0M338.7 1346.4h0M385.3 1349.8h0M373.3 1327.5h0M383.6 1297.1h0M337.7 1346.6h0M307.7 1329.9h0M321 1316h0M399 1343.1h0M371 1333.9h0M392.9 1274.1h0M346.4 1350.1h0M384.8 1318.8h0M374.1 1319.6h0M344.6 1348.4h0M393.6 1313.5h0M382.3 1307h0M374.5 1345.4h0M314.4 1328.3h0M376.6 1347.2h0M329.5 1349.3h0M387.8 1309.9h0M370.2 1335.1h0M413.7 1251.4h0M397.3 1350.1h0M311 1347h0M312.3 1314.2h0M383.9 1328.4h0M391.3 1344.9h0M283 1347.5h0M371.7 1334h0M397.4 1336.7h0M306.2 1335h0M402.2 1333.4h0M307.5 1337.8h0M337.6 1345h0M378.8 1339.3h0M389.1 1312.3h0M390.1 1347h0M274.8 1349.8h0M392.7 1337.9h0M297.4 1346.6h0M393.9 1304.1h0M313.3 1301.5h0M391.8 1341.6h0M308.5 1337.6h0M368.6 1347.3h0M338.3 1316.7h0M310.7 1343.9h0M386.7 1344.6h0M326.4 1287.2h0M396 1318h0M308.8 1330.6h0M293.1 1337.6h0M376.4 1322.6h0M375.2 1342.3h0M329.2 1321.2h0M386.1 1340.9h0M383.3 1306h0M314 1341.1h0M380.4 1345.3h0M396.1 1345.6h0M402.9 1304.1h0M403.5 1324.8h0M402.2 1238.9h0M326.6 1308.2h0M394.4 1335.5h0M379.5 1328.4h0M320.5 1309.1h0M330.1 1348.8h0M316.3 1337.9h0M394.5 1290.1h0M276.1 1334.1h0M320.7 1336.2h0M384.6 1342.2h0M382.2 1288.4h0M442.9 1314.9h0M400.6 1333.2h0M326.2 1349.8h0M391.1 1348.2h0M375.9 1306.1h0M345.7 1346.8h0M378.9 1336.1h0M439.8 1299.6h0M368.7 1346.7h0M401 1316.1h0M371.5 1341.9h0M307.3 1350.5h0M317.7 1302.2h0M400.3 1331.6h0M326.1 1340.7h0M384.3 1346.6h0M375.9 1350.3h0M402.2 1331.6h0M387.4 1284.6h0M339.8 1345.7h0M375.6 1348.3h0M394.5 1304.5h0M389.7 1348.2h0M304.6 1350.7h0M315.6 1321.5h0M389 1290.5h0M402.4 1331.5h0M284 1347.3h0M424.6 1341.9h0M320.8 1287.2h0M401.2 1314.6h0M399 1337.7h0M382.2 1348.1h0M425.7 1339.9h0M397.9 1311h0M448.4 1350.3h0M397.6 1331.6h0M319.6 1333.8h0M385.3 1330.3h0M386 1338.9h0M322 1347.4h0M330 1347.2h0M307.7 1335.7h0M324.7 1280.5h0M432.7 1281.2h0M403.2 1334h0M374.2 1326.7h0M401.7 1326.8h0M317.1 1268.7h0M343.3 1348.5h0M328.3 1340.8h0M393.3 1342.6h0M315.8 1330.1h0M377 1333h0M270.4 1349.6h0M395.6 1347.4h0M307.4 1349.9h0M398.7 1349.3h0M400.9 1320.9h0M397.7 1346.3h0M329.5 1320.3h0M326.5 1348.2h0M312.4 1334h0M396.3 1289.8h0M376.5 1313.9h0M339.2 1325.1h0M311.3 1335.8h0M395.4 1280.2h0M377.2 1323.9h0M393.3 1318.5h0M335.1 1347.2h0M386.9 1283.2h0M436.8 1299.2h0M389.8 1322.7h0M313.1 1330.7h0M324.5 1304.1h0M403.7 1344.9h0M330.7 1284.9h0M383.5 1279.8h0M367 1350.6h0M377.9 1320.9h0M376.9 1312.7h0M309.2 1336h0M399.2 1348.5h0M343.2 1349.1h0M387.8 1341.8h0M324 1347.1h0M392.2 1344.9h0M295 1340.6h0M332.7 1322.9h0M300.8 1339.6h0M374.5 1338.8h0M392.8 1346.9h0M346.2 1350.7h0M385.2 1314.4h0M372.8 1338.1h0M331.9 1294.4h0M374.7 1342.7h0M386.8 1350.6h0M385.1 1332.9h0M383.4 1290.8h0M385.2 1284.8h0M393.6 1311h0M306.9 1347.9h0M381.5 1338.9h0M400.9 1344.3h0M305.7 1343.3h0M381.2 1313.8h0M332.8 1333.7h0M376.9 1335h0M397.3 1240.8h0M317.9 1346.1h0M314.1 1329.1h0M321.7 1333.9h0M321.4 1344.8h0M389.5 1293.8h0M346 1347.8h0M345.1 1346.3h0M404 1340.1h0M333.9 1349.7h0M309.3 1348.6h0M306.8 1346.8h0M370.2 1346h0M290.7 1338.6h0M395.7 1343.9h0M334.6 1330.5h0M339.6 1346.9h0M289.9 1305.8h0M399.5 1322.3h0M392.8 1340.1h0M370.7 1348.8h0M326.4 1337.3h0M396.6 1335.4h0M388.3 1342.6h0M325.6 1335.3h0M403.4 1340.8h0M334.3 1336.7h0M395.6 1339.4h0M389.4 1308.4h0M308.1 1348.3h0M384.3 1330.5h0M335.7 1350.1h0M389.4 1313h0M389 1272h0M306.8 1310.3h0M335.8 1325.2h0M384.2 1328.5h0M397.2 1339h0M326.7 1315.8h0M320.3 1342.8h0M384.6 1293.7h0M397.5 1280.8h0M383.4 1319.4h0M379.8 1333h0M328.4 1321.5h0M403.9 1255.9h0M377.4 1331.5h0M294 1287.1h0M265.8 1337.8h0M453.5 1328.9h0M314.2 1347.2h0M316.8 1328.8h0M320.5 1308.4h0M318 1340h0M331.4 1349.9h0M331.1 1330h0M388.3 1302.7h0M313.6 1327.8h0M371.1 1333.8h0M343.2 1339.7h0M394.2 1329.4h0M396.8 1344.7h0M327.5 1302.1h0M331.6 1347.4h0M394.4 1296.3h0M398.1 1252.4h0M376.5 1327.2h0M325 1323.1h0M324.6 1346.2h0M343.8 1350.4h0M389.3 1327.7h0M390.3 1289.5h0M377.7 1332.9h0M395.9 1294.5h0M328 1346.8h0M370.8 1349.6h0M402.2 1325.8h0M337.9 1326.9h0M372.7 1328.7h0M320.5 1335.4h0M377.3 1342.6h0M392.7 1348h0M416.5 1321.9h0M390.4 1309.6h0M375.1 1314.4h0M392.9 1324.5h0M370.1 1348.4h0M322.2 1342.6h0M369.9 1343.8h0M375.2 1345h0M401.6 1336h0M369.8 1342h0M332.3 1305.1h0M325.9 1327.1h0M325.9 1330.1h0M387.9 1350.4h0M401.1 1346.8h0M400.4 1324h0M384.1 1343.5h0M392.4 1343.4h0M310.2 1315.7h0M432.2 1265.2h0M339.3 1337.6h0M403.9 1350.5h0M322.5 1348.6h0M323 1349.5h0M394.6 1337.3h0M396.4 1348.4h0M284.8 1327.2h0M379.3 1336.9h0M310 1336.9h0M331.5 1311h0M335.7 1350.4h0M417.1 1341.1h0M314.8 1345.5h0M378.4 1343.5h0M372.8 1344.7h0M337.5 1339.4h0M294.7 1319.2h0M400.5 1259.6h0M369.6 1347.1h0M326 1315.2h0M317.8 1326.6h0M377.6 1341.2h0M400.4 1343.7h0M401.1 1346.4h0M372.9 1344.3h0M342.1 1331.6h0M310.2 1337.8h0M375.9 1326.8h0M335.3 1331.7h0M312.1 1313h0M388.4 1344.7h0M384.4 1350.8h0M379.4 1344.8h0M394.7 1320.4h0M451.9 1330.9h0M387.8 1334.8h0M379.5 1295.2h0M328.5 1341.1h0M402.4 1334.4h0M312.7 1315.8h0M333.8 1344.1h0M318.5 1314.7h0M396.8 1315.7h0M332.7 1349.2h0M379.1 1349.8h0M384.4 1349.9h0M393.8 1329.5h0M276.1 1280.3h0M377.2 1345.8h0M397.9 1320.6h0M385.6 1350.7h0M321.1 1329.9h0M324.4 1335.6h0M311.8 1343.1h0M400.7 1307.4h0M376.2 1341.2h0M384.6 1349.4h0M389.2 1346.6h0M403 1346.4h0M385.3 1295.6h0M286.6 1339.6h0M385.5 1313.2h0M336.4 1333.3h0M396.1 1255h0M340.8 1350.2h0M341.9 1344.4h0M404.5 1350.6h0M401.6 1280.6h0M315.7 1341.7h0M323.4 1339.9h0M418.4 1258h0M313.4 1327.5h0M319.3 1348.4h0M326.6 1334.1h0M380.5 1336.5h0M326 1346.3h0M399.7 1348.6h0M387.4 1287.8h0M377.4 1335.9h0M385.6 1290.4h0M390.5 1332.2h0M315.6 1319.1h0M339.8 1325.2h0M366 1348.4h0M388.8 1338.6h0M390.2 1346.9h0M396.2 1325.8h0M369.6 1340.5h0M343.4 1347.6h0M312.7 1331.7h0M388.6 1321.9h0M392.6 1341.4h0M412.7 1315h0M306.1 1335.6h0M389.9 1291.5h0M386.9 1312.1h0M309.2 1347.9h0M321.5 1350.8h0M380.5 1325.5h0M392 1340h0M396.4 1341.1h0M384.4 1333h0M336.4 1338.8h0M381.2 1307.1h0M341.5 1344.5h0M335 1334.9h0M400.6 1297.4h0M387.8 1278.2h0M308.4 1330.7h0M325.7 1327.2h0M369.2 1344.7h0M392.4 1329.9h0M327 1339.6h0M394.9 1350.4h0M303.6 1326.1h0M305.8 1302.7h0M384.9 1328.6h0M337.9 1326.3h0M329.5 1319.6h0M327.3 1305.4h0M370 1349.2h0M418.1 1253.2h0M392.2 1320.6h0M329.9 1350.3h0M329.4 1326.5h0M394.3 1311.3h0M398.8 1340h0M379.6 1321.3h0M328.1 1343.6h0M385.6 1340.1h0M326 1348.2h0M312 1345.4h0M410.1 1313.8h0M397.7 1338.2h0M384.1 1305.1h0M432.4 1348.5h0M376.1 1324.7h0M327.3 1345.1h0M333 1340h0M371.1 1340.4h0M324.9 1346h0M341.4 1340.2h0M328.6 1309.7h0M301.5 1302.4h0M374.1 1344.4h0M385 1342h0M305.6 1342.1h0M381.5 1312.6h0M374.8 1325h0M381.6 1342.2h0M430.2 1291h0M377.5 1336.8h0M403.7 1329.9h0M328.5 1330.1h0M394.9 1344.1h0M296.8 1345.8h0M322.2 1343.4h0M391.3 1313.7h0M304.1 1348.2h0M381.8 1339.6h0M412.6 1306.8h0M387.8 1333.3h0M391.3 1331.9h0M341.6 1331.2h0M400.6 1324.5h0M310.9 1304.4h0M436.8 1334.9h0M341.2 1342.7h0M313.8 1323.9h0M379.4 1310h0M346.1 1347.2h0M389.9 1307.4h0M370.7 1338.6h0M374.6 1326.5h0M398.4 1321.5h0M388.3 1337.9h0M369.4 1341.4h0M384.9 1341.4h0M325.8 1345h0M395.8 1306h0M382.2 1346.5h0M378.7 1330.5h0M367.6 1344.2h0M304.9 1320.5h0M390.8 1253h0M318.1 1347.6h0M374.5 1346.1h0M321.8 1336.2h0M314.9 1327.9h0M309.8 1320.6h0M393.5 1242.5h0M373.5 1333h0M384.4 1343.6h0M379.5 1336.7h0M338.2 1347.3h0M381.9 1328.4h0M405.8 1293.2h0M342.4 1347.3h0M393.8 1326.5h0M277.8 1335.2h0M379 1336.7h0M446.6 1293.9h0M329.9 1342.7h0M382.1 1343.2h0M398.9 1294h0M389.5 1327.4h0M319.8 1332.8h0M374.7 1348.4h0M328.2 1313.9h0M404.1 1348.5h0M436.9 1315.7h0M307.9 1347h0M401.8 1346h0M371.4 1324.8h0M391.9 1345.5h0M373.7 1315.3h0M324.3 1330.1h0M429.7 1348.7h0M317.2 1350.1h0M336.2 1350.2h0M399.4 1302h0M402.9 1334.1h0M398.6 1346.9h0M327.3 1333.1h0M385.4 1340.7h0M378.8 1336.9h0M400.6 1285.1h0M369.9 1345.6h0M400.8 1276.5h0M397.3 1348.3h0M377.8 1329.7h0M342.9 1340.3h0M316.1 1345.3h0M310.8 1349.8h0M337.3 1331.2h0M317 1342.1h0M315.2 1343.2h0M392.4 1301.1h0M438.6 1295h0M379.6 1323.5h0M308.8 1348.5h0M327.4 1345.9h0M374.7 1346.4h0M374.1 1334.3h0M336.4 1336.1h0M371.9 1335.6h0M309.2 1344.9h0M330.6 1292.8h0M279.4 1344.1h0M316.3 1344.6h0M332.8 1313.7h0M306.5 1338.6h0M314.8 1332.1h0M385.5 1316.1h0M340.6 1338.4h0M369.8 1343.2h0M403.8 1342.6h0M375.5 1341.8h0M378 1307.7h0M395.5 1325.7h0M311.2 1313.1h0M314 1339h0M374.3 1340.7h0M391.1 1343.5h0M368 1343.8h0M385.7 1335.7h0M390.8 1330.4h0M388 1337.3h0M299.3 1297.6h0M398 1347.7h0M390.8 1316.7h0M309.8 1343.5h0M392.9 1302.6h0M373.3 1331.1h0M442.8 1299.8h0M330.8 1350.5h0M389.9 1326.8h0M403.2 1343.1h0M378.7 1322.7h0M310.6 1337.7h0M412.1 1318.8h0M318 1350.5h0M399.7 1347h0M395.4 1316.7h0M385 1297.1h0M399.4 1314.3h0M330.9 1347.6h0M309.6 1331.8h0M377.2 1321h0M315.3 1323.3h0M321 1349.7h0M319.2 1342.4h0M389.9 1350.6h0M391.1 1299.4h0M330.1 1332.5h0M384.1 1295.9h0M392.7 1219.9h0M384.1 1325h0M277 1323.8h0M379.3 1319.8h0M312.2 1347.7h0M345 1345.2h0M389.9 1347.4h0M344.5 1350.2h0M397.5 1296.1h0M379.7 1339.8h0M317.8 1342.4h0M388.9 1262.6h0M313.3 1331.7h0M338.9 1333.5h0M316.8 1298.2h0M378.5 1341.1h0M394.9 1330.6h0M395.6 1317.2h0M371.7 1344.4h0M379 1303.5h0M376.1 1334.7h0M383.6 1296.3h0M373.7 1329.3h0M325.5 1343.3h0M323.3 1332.2h0M327 1334.4h0M337.1 1342.4h0M397.3 1349.1h0M338.3 1346.3h0M383.7 1336.9h0M388.1 1322.2h0M398.6 1313.2h0M380.4 1334.6h0M313.3 1342.9h0M340.8 1350.6h0M397.1 1347.1h0M370.5 1331h0M373.5 1346.9h0M316.2 1337h0M400 1337.5h0M374.8 1349.1h0M336.7 1318.2h0M392.2 1338.7h0M321.7 1345.5h0M394.4 1348.8h0M331.4 1327.9h0M273.6 1350.3h0M305.1 1350.7h0M400.5 1300.5h0M299.7 1314.4h0M335.4 1311h0M342.2 1341.4h0M335 1329.8h0M330.9 1301.3h0M326.3 1350.4h0M318.7 1258h0M400.7 1336.3h0M333.5 1313.9h0M335.7 1333.9h0M316.7 1330.4h0M379.5 1349.1h0M372.1 1322.3h0M335 1349.3h0M394.2 1344.2h0M327.6 1304.7h0M374.1 1320.3h0M313.4 1294.2h0M271.4 1290.4h0M398.3 1346h0M331.2 1347.4h0M384.5 1303.1h0M320.4 1330.7h0M386.7 1298.9h0M386.8 1314.9h0M382.1 1334.8h0M393.5 1317.8h0M339.7 1347.6h0M377.5 1344.9h0M336.5 1350.5h0M335.4 1318.6h0M384.6 1346.7h0M392.7 1347.4h0M381.2 1322.1h0M305.5 1338.2h0M336.9 1349.3h0M333.6 1349h0M313.1 1323.2h0M332.3 1301.4h0M387.2 1344h0M337 1338.7h0M388.8 1315.3h0M399.6 1342.8h0M448.6 1340.3h0M374.3 1328.7h0M323.3 1346.6h0M326.9 1277.9h0M421.7 1284.4h0M311.5 1344.1h0M392.6 1287.2h0M379.9 1302.8h0M333.8 1337.4h0M430.2 1349.1h0M386.3 1341.5h0M392.4 1342.3h0M374.6 1345.3h0M399.7 1320.6h0M321.6 1325.7h0M404.4 1350.6h0M313.6 1329.9h0M383.2 1335.6h0M392.8 1348h0M370.6 1349h0M329.6 1335.8h0M377.7 1338.1h0M331.5 1346.2h0M386.5 1312.2h0M374.4 1344.8h0M374.3 1341.5h0M308.5 1343.1h0M340.5 1346.4h0M397.5 1333.8h0M326.8 1334.7h0M382 1347.4h0M312 1314.3h0M410.3 1326h0M314.7 1343.7h0M385.7 1330.1h0M390.1 1337.6h0M384.4 1301h0M401 1289.7h0M371.7 1324.3h0M381.8 1328.5h0M334.1 1339.4h0M400.7 1343.1h0M336 1338.5h0M392.1 1309.4h0M306.9 1340.8h0M309 1333.3h0M369.6 1347h0M420.8 1331.1h0M344.4 1341.9h0M310.7 1240.1h0M306.1 1341.4h0M326.1 1349.7h0M321.1 1280.2h0M376.1 1349h0M380.4 1337.7h0M385.3 1334.1h0M390 1350.4h0M325.3 1336.3h0M388.7 1328.4h0M320.6 1324.4h0M318.1 1314.7h0M453.3 1330.3h0M371.8 1325.1h0M316.7 1348.2h0M280.7 1348.9h0M329.1 1309.3h0M288 1299.5h0M284.9 1276.2h0M330.4 1341.9h0M316.1 1273.9h0M390.3 1346h0M378.7 1337.2h0M400.4 1335.6h0M371.3 1350.6h0M321 1334.3h0M392.4 1345.1h0M341.2 1344.3h0M392.8 1337.2h0M374.5 1317.1h0M389.3 1280.5h0M396.3 1331.7h0M398.4 1330.8h0M339.6 1347.8h0M391.7 1328.1h0M396.2 1262.5h0M401.1 1322.5h0M370.5 1345.1h0M373.1 1348.2h0M437.9 1329.7h0M383.6 1342.7h0M340 1338.6h0M378.5 1342.8h0M326.7 1347.9h0M315.4 1329.6h0M382.5 1345.4h0M311.4 1328.7h0M321 1283.3h0M400.8 1315.1h0M387.9 1302.1h0M327.2 1341.9h0M399.2 1350.4h0M322 1342h0M377.9 1320.9h0M314 1310.5h0M400 1330.1h0M430.7 1327.6h0M403.7 1288h0M302.9 1296.3h0M399.4 1348.4h0M401.9 1268.5h0M374.5 1348.1h0M315.9 1341.7h0M311.4 1335.5h0M321.6 1329.7h0M396.1 1337.8h0M380.8 1341.6h0M314.2 1342.8h0M125.4 1047.8h0M140 1036.9h0M161.5 1030.1h0M232.3 1032h0M210.8 1047.8h0M196 1081.6h0M179.9 1098.6h0M200.8 1093h0M212.9 1093h0M194 1118.5h0M242.7 1096h0M241.7 1134.8h0M247.5 1136.4h0M233.9 1194h0M296.3 1143.7h0M655.5 830.1h0M547.5 916.6h0M548 1032.5h0M619.3 1114.9h0M484.5 1099.1h0M487.2 1174.1h0M494 1315.7h0M465.7 1101.2h0M458.8 1113.8h0M447.3 1119h0M452 1094.4h0M444.7 1095.5h0M427.4 1092.8h0M434.2 1140.6h0M418 1133.7h0M410.6 1136.9h0M427.4 1162h0M430 1166.3h0M425.8 1186.7h0M432.6 1190.4h0M413.7 1181.5h0M401.7 1194h0M408 1198.2h0M415.3 1203h0M447.8 1210.3h0M404.3 1219.2h0M398.5 1226.6h0M418 1221.8h0M429 1226h0M442 1239.1h0M433.7 1233.4h0" stroke="#b22222" stroke-width="8" stroke-linecap="round" fill="none"/>
<text transform="translate(93.8 1422.9) rotate(-90) scale(1 1.07)" font-size="26.5" font-weight="bold" text-anchor="middle" fill="#1a1a1a">0</text>
<text transform="translate(93.8 1242.6) rotate(-90) scale(1 1.07)" font-size="26.5" font-weight="bold" text-anchor="middle" fill="#1a1a1a">5</text>
<text transform="translate(93.8 1062.3) rotate(-90) scale(1 1.07)" font-size="26.5" font-weight="bold" text-anchor="middle" fill="#1a1a1a">10</text>
<text transform="translate(93.8 882) rotate(-90) scale(1 1.07)" font-size="26.5" font-weight="bold" text-anchor="middle" fill="#1a1a1a">15</text>
<text x="196.7" y="1472.8" font-size="26.5" font-weight="bold" text-anchor="middle" fill="#1a1a1a">-4</text>
<text x="355.3" y="1472.8" font-size="26.5" font-weight="bold" text-anchor="middle" fill="#1a1a1a">0</text>
<text x="513.9" y="1472.8" font-size="26.5" font-weight="bold" text-anchor="middle" fill="#1a1a1a">4</text>
<text x="672.5" y="1472.8" font-size="26.5" font-weight="bold" text-anchor="middle" fill="#1a1a1a">8</text>
<text x="367.5" y="1497.5" font-size="26" font-weight="bold" text-anchor="middle" fill="#1a1a1a">log<tspan font-size="15.5" dy="8">2</tspan><tspan dy="-8">FC</tspan></text>
<text transform="translate(76.8 1160.4) rotate(-90)" font-size="31" font-weight="bold" text-anchor="middle" fill="#1a1a1a">-log<tspan font-size="18" dy="8">10</tspan><tspan dy="-8">padj</tspan></text>
</g>
<g id="D">
<text transform="translate(775.3 779.5) scale(0.966 1.041)" font-size="71" font-weight="bold" fill="#1f1f1f">D</text>
<defs><path id="dpts" d="M963 1325.1h0M1035.3 1332.7h0M1666.6 1292.6h0M1703.5 1336.7h0M1405.4 1241.3h0M1404 1310.3h0M1248.5 1347.3h0M1405.6 1202.8h0M1405.1 1150.4h0M938.5 1327.9h0M1170.4 1343.2h0M1702.9 1347h0M1397.9 1336.4h0M1565.8 1311.7h0M974 1345h0M1446.7 1325h0M932.6 1337h0M1355.3 1345.8h0M934.4 1319.1h0M1497.9 1309.3h0M1480.3 1320.5h0M1640.2 1328.8h0M1404.6 1247.6h0M1018.1 1334.1h0M985.5 1348.1h0M1587.9 1330.6h0M1694 1331.9h0M1723.8 1343.7h0M1281.8 1331.4h0M1118.1 1337.4h0M1388.9 1343.3h0M1221.7 1333.2h0M1250.2 1335.5h0M1332.4 1343.3h0M1323.2 1335.3h0M1247.6 1339.9h0M1306.8 1332.1h0M1409.7 1279.5h0M1066.4 1344.1h0M1380.4 1297.9h0M1174.2 1313.1h0M1635.4 1350h0M1496.2 1347.2h0M1375.7 1342.2h0M1174.2 1327.7h0M1285.1 1348h0M1663.6 1344.3h0M1519.5 1339.2h0M1718.8 1325h0M1087.5 1330.1h0M1251.2 1342.8h0M1282.4 1337h0M1511.4 1322.1h0M1547.9 1340.3h0M990.8 1341h0M1244.7 1349.7h0M951.1 1319.9h0M1047.7 1338.9h0M1381.1 1348.1h0M993.6 1336.3h0M1190.6 1306.1h0M970.9 1277.2h0M1230.8 1344.3h0M908.1 1333.9h0M1405.4 1331.2h0M1541.5 1339.1h0M1333.4 1331.4h0M1402.8 1314.1h0M1450 1333.7h0M1107.8 1346.2h0M1515.7 1345.3h0M1071.9 1321.9h0M1225.9 1324.3h0M1154.1 1340.4h0M1665.9 1316.3h0M1642.8 1338.1h0M1159.4 1340.8h0M1404.9 1057.8h0M1321.1 1331.6h0M1333.1 1343.3h0M1014.3 1348.4h0M1650.4 1338.5h0M1343.7 1338.9h0M1185.4 1325.6h0M1683.9 1340.1h0M1149.4 1336.9h0M931.1 1342.1h0M1542.5 1306.4h0M1316.5 1316.6h0M901.6 1332h0M1285.8 1340h0M1402.1 1285.7h0M1422.6 1346.8h0M1363.2 1337.8h0M1074.2 1319.9h0M1585.3 1332h0M1105.3 1335.8h0M1021.7 1340.5h0M1557.3 1348.1h0M1173.4 1318.8h0M1622.1 1341.6h0M1259.8 1342.9h0M1438.1 1347.8h0M932.3 1324.4h0M1322.7 1341.5h0M1572.8 1335.2h0M960.7 1323.6h0M1203.2 1324.9h0M1648.7 1342.1h0M1106.2 1335.2h0M1127.7 1330.1h0M1307 1346.7h0M1109.4 1337.1h0M990.6 1335.9h0M925.9 1338.9h0M1022.4 1344.9h0M1040.1 1336.4h0M1405.6 1209.1h0M1619.1 1328.1h0M1371.5 1335h0M1430.3 1324.9h0M1032.2 1327.8h0M1482.5 1345.4h0M1719.4 1322.1h0M1314 1310.4h0M1381.7 1337.4h0M1405.3 1264.9h0M1270.3 1333h0M1578.9 1338.3h0M963.2 1336.2h0M1083.7 1313.9h0M1587.3 1349.6h0M1027.3 1330.1h0M1719 1334.2h0M1147.4 1332.2h0M1372.1 1344.9h0M1235.5 1333.8h0M1482.4 1337.6h0M1432.7 1327.2h0M1287.8 1337.1h0M1275.3 1333.8h0M1045.9 1339.6h0M1126.9 1326.4h0M1445.2 1339.8h0M1702 1345.9h0M1513 1325.9h0M1055.7 1329.4h0M962.6 1324.6h0M1404.2 1329.1h0M1660.4 1336h0M1455.5 1347h0M1056.1 1332.2h0M1406.6 1282.3h0M960.9 1332h0M1553.7 1330.7h0M968.8 1309.3h0M1312.9 1323.7h0M1607.1 1318.1h0M1343.7 1334.4h0M1552.7 1344.8h0M1384.6 1339.2h0M1285 1344.3h0M1591.2 1343.3h0M1127 1333.5h0M1068.1 1320.7h0M1549.2 1323.6h0M1054.7 1337.6h0M1396.4 1316.6h0M1330.9 1321.4h0M1643.9 1346.8h0M1668.1 1340.4h0M1714.4 1347.2h0M1047.1 1349.6h0M1246.8 1346.1h0M1404.8 1307.2h0M1687.6 1330.6h0M1340.5 1316.7h0M904 1341.7h0M1314.1 1303.5h0M1274.8 1340.9h0M1441 1349.3h0M1005.3 1328.2h0M1546.8 1336.9h0M1375.6 1347.7h0M950.6 1327.6h0M1149 1336.8h0M1459.4 1343.2h0M1342.7 1347.1h0M1227.3 1328.2h0M1366.5 1332.6h0M1251.6 1336h0M1375.9 1331.6h0M1504.1 1341.7h0M1091.9 1323h0M929 1346.1h0M1655.5 1346.1h0M1499.4 1331.6h0M1644.9 1347.6h0M1605.9 1338.9h0M1574.9 1333.2h0M1235.4 1346.1h0M1551.8 1331.3h0M1610.4 1325.4h0M1099.6 1349.2h0M1627.2 1318.2h0M1323.3 1333.4h0M1192.1 1341.7h0M1472.2 1335.8h0M1266.9 1327.2h0M1306.7 1342.9h0M1580.6 1340.1h0M1628.5 1323.8h0M1136.8 1339.9h0M1705.4 1330.1h0M957.1 1341.5h0M1468.7 1312.4h0M1477.9 1338.5h0M1267.1 1321.3h0M1135.8 1339.1h0M1199.6 1339.8h0M1434.7 1344h0M1038.1 1341.6h0M1621.4 1346.1h0M969.4 1322.3h0M1560 1337.5h0M1406.1 1258h0M920.3 1327.2h0M1590.6 1324.5h0M949.5 1337.1h0M1212.6 1325.4h0M980.2 1339.8h0M1309.4 1343h0M998.8 1328.3h0M1405.7 1219.6h0M1114.7 1345.5h0M982.1 1326.5h0M1074.8 1320.3h0M1248 1340.5h0M1487.8 1333.6h0M1580.2 1327.5h0M1541.1 1341.9h0M1410.1 1345.8h0M1318.6 1349.5h0M1602.9 1338h0M1404 1316h0M1188 1303.5h0M1707.9 1321h0M1619.2 1321.2h0M1004.3 1345.4h0M1042.9 1333.2h0M1703.2 1349.3h0M1403.3 1284.2h0M1156.9 1340.1h0M1067.6 1337.2h0M1003.8 1343.8h0M1573.7 1337h0M1123.2 1323.3h0M1371.2 1346.1h0M1052.1 1310.7h0M1470.1 1329.9h0M1033.5 1340h0M1304.5 1339.7h0M1118.3 1343.5h0M1696.2 1299.1h0M1583.4 1331.7h0M1702.8 1338.7h0M1515.7 1342.8h0M1585.6 1330.5h0M1640.8 1343.9h0M1052.1 1344.6h0M1404.6 1336.6h0M1670 1329.9h0M1175.6 1319.8h0M1697.9 1346.8h0M1015.2 1342.6h0M1557.7 1331.2h0M941.8 1336.4h0M1036.8 1333.2h0M1329 1316.6h0M1107.3 1347h0M1506.8 1332.7h0M1648.6 1344.8h0M1571.9 1331.3h0M1157.3 1324.7h0M1403.3 1323.8h0M1142.6 1336.8h0M1599 1342h0M962.9 1339.3h0M1431 1328.3h0M1260.1 1298.8h0M1095 1333.5h0M1580.1 1347.1h0M1409.8 1321h0M1197.2 1321.7h0M1266.7 1341.6h0M1068.9 1331.9h0M1609.6 1334h0M971.1 1338.6h0M1562 1319.7h0M1244.4 1349.9h0M1406.1 1289.5h0M994.2 1333.7h0M1526 1346.1h0M1478 1346h0M1073.1 1343.2h0M1290.4 1344.3h0M1142.9 1340.5h0M1604.5 1330.9h0M1026.8 1325.4h0M1006.3 1336.4h0M1118.8 1341.8h0M1676.5 1326.5h0M1447.2 1310.7h0M1661 1319.2h0M1087.8 1311h0M1422.1 1332.3h0M1220.3 1330.4h0M1233.1 1333.7h0M1074.6 1320.1h0M1021.4 1337h0M915.5 1340.9h0M1001.9 1339.2h0M1044.1 1348.3h0M1616.5 1334.4h0M1425.3 1343.7h0M1401.5 1332h0M1701.4 1340.7h0M1218.1 1324.7h0M1301.2 1344h0M1719.4 1323.8h0M1684.3 1342.6h0M1232.3 1338.9h0M1239.1 1331.3h0M1514.9 1330.6h0M951.7 1332.7h0M1266.5 1337.5h0M1002.9 1334.3h0M1206.2 1339.7h0M1253.9 1343.7h0M1572.3 1343.9h0M946.5 1328.9h0M1597.6 1348.1h0M1069.3 1317.8h0M1407.7 1311.8h0M1397 1341.6h0M1611 1329h0M1201.6 1344.7h0M926.4 1325.6h0M1406.1 1098.5h0M1716.7 1328.1h0M1375.2 1346.8h0M1436.5 1346.5h0M1047.9 1325.2h0M1698.3 1317h0M1077.3 1335.7h0M898.7 1336.2h0M1505.7 1333.7h0M1723.6 1324.6h0M1036.3 1319.8h0M1566.5 1329.1h0M1609.4 1340.5h0M1156.6 1339.7h0M1676.6 1338.2h0M1648.3 1344.6h0M1406.3 1293.7h0M1505.4 1342h0M1698.3 1339.3h0M1425.4 1344.3h0M1351 1336.8h0M1487.4 1333.5h0M1265.3 1320.1h0M1143.4 1323.1h0M1246.6 1343.2h0M1451 1339.3h0M1484.6 1347.7h0M1384.5 1348.3h0M1225.5 1347.6h0M1399.8 1334.6h0M1047.6 1336.5h0M922.2 1321.3h0M926.8 1341.9h0M1302 1348.4h0M1391.5 1333.1h0M1459.3 1338.7h0M1310.6 1321.8h0M1710.4 1340.7h0M1268.8 1334.4h0M1333.6 1335.3h0M1357 1342.5h0M1705.3 1345.7h0M1175.5 1318.8h0M1613.6 1284.7h0M1072.3 1319h0M958.8 1327.4h0M1333.9 1336h0M1485.6 1341.8h0M1609.5 1343.3h0M1259.3 1348.8h0M1654.9 1347.3h0M1345.9 1344.9h0M1461.1 1301.5h0M1103.5 1322.2h0M1333.6 1345.5h0M1557.6 1328h0M1365.2 1340.6h0M1344.4 1325.9h0M1281.8 1334.8h0M1201.7 1319.8h0M1253.3 1346.9h0M927.2 1334h0M1520.4 1328.7h0M1484 1338.1h0M918.2 1345.5h0M1717.9 1341.7h0M1175 1347.3h0M1280.9 1332h0M1386.6 1348.4h0M1691.4 1338.7h0M1282.8 1348.4h0M1436 1331.8h0M1626.9 1335.5h0M986.7 1335.1h0M1207.7 1347.4h0M896.1 1325.4h0M1472.6 1333.3h0M1124.4 1339.9h0M956 1313.1h0M1510.2 1343.2h0M1183.9 1315.9h0M1174.8 1349.4h0M1093.1 1338.8h0M1403.8 1286.6h0M1284.2 1331.8h0M1242.2 1340.5h0M1212.6 1337.1h0M1646 1342.7h0M1522 1334.4h0M1470.6 1344.1h0M1724.7 1345.4h0M1068.7 1340.8h0M909.7 1334.6h0M1038.8 1341.5h0M1402.2 1067.6h0M1091.7 1330.8h0M1295.3 1323.5h0M1245.1 1339.8h0M922.3 1301.2h0M932.1 1328.1h0M1440 1336.6h0M1604.4 1342.5h0M1067.6 1329.6h0M1258.1 1319.5h0M1699.7 1333h0M1518.2 1342.2h0M1477.9 1336.9h0M1393.7 1339.6h0M1504.4 1325.4h0M1169 1325.1h0M1282 1338.5h0M1303.6 1335.9h0M1622.3 1338.6h0M1000.6 1349.3h0M1591.1 1324.1h0M1116.7 1333h0M920.7 1338.2h0M1028.9 1343h0M1479.7 1343h0M1395.9 1344.6h0M1036.5 1336.1h0M1286.4 1327.4h0M1348.2 1345h0M1439.5 1334.5h0M1002.6 1339h0M1198 1340.9h0M1067.3 1338.8h0M1059.3 1333.7h0M998.2 1344.7h0M933.9 1325.2h0M1421.3 1346.6h0M1123.6 1340.2h0M992 1330.3h0M928.8 1325.3h0M1258 1324.6h0M1444.3 1327.3h0M1689.9 1324.8h0M1386.5 1335.4h0M1587.9 1333.2h0M1271.8 1327.4h0M1705.1 1339.7h0M1358.6 1318.8h0M901.9 1343.3h0M1461.1 1333.6h0M1164.6 1322.5h0M1122.4 1333.8h0M985.3 1342.4h0M1598.3 1310.8h0M938.1 1328.9h0M1614.7 1325.1h0M1298.9 1341h0M1471.5 1341.8h0M1240.1 1341.4h0M945.6 1342.3h0M1185.9 1346.4h0M1032.1 1335.2h0M1442.4 1322.5h0M1273.9 1347.6h0M1688.2 1345.9h0M1694.3 1338.2h0M1566.5 1305.9h0M1122.8 1334h0M1101.2 1286.8h0M1573.6 1342h0M936.5 1335h0M1375.5 1343.3h0M1367.7 1322.5h0M1055.5 1338.9h0M944.4 1340.9h0M1087.3 1332.3h0M1700.7 1347.7h0M1279.1 1343.9h0M1021.5 1320.5h0M983.1 1340.9h0M1353.3 1329.4h0M1536.3 1340.4h0M1293.1 1329.5h0M1196.2 1342.3h0M1448.9 1330.6h0M1288 1347.8h0M1536.8 1316.3h0M1360.8 1314.5h0M939.7 1346.8h0M1237.9 1338h0M1049 1343h0M1278.6 1339.9h0M1305.9 1328.1h0M1498.2 1335h0M1044.7 1342.2h0M1537.5 1323.3h0M1206.1 1334.7h0M1448.5 1327.1h0M1231.9 1327.7h0M1226.4 1320.8h0M1711.8 1342.9h0M933.3 1341h0M1404.3 1242.2h0M985.2 1339.2h0M1681 1344.5h0M959.2 1330.7h0M1473.1 1335.3h0M1216.8 1346.9h0M1569.3 1323.4h0M947.2 1343.9h0M1406.6 1105.4h0M1008.8 1348h0M967.6 1324.3h0M1405.2 1335.7h0M1314.7 1339.8h0M1204.1 1331.6h0M1273.1 1325.7h0M1513.4 1324.5h0M1522.8 1336.3h0M1646.1 1344.2h0M1681.1 1317.6h0M1412 1336.1h0M1308.8 1336.5h0M1606.9 1343.5h0M1206.7 1345.2h0M1002.8 1339.2h0M1634.9 1326.9h0M1047.1 1333.6h0M1464.4 1339.8h0M950 1325.1h0M1252.8 1336.4h0M1661.7 1300.8h0M998.4 1333.2h0M1122.6 1336.8h0M1394 1314h0M1392.1 1341.9h0M1141.3 1348.1h0M1262.2 1333.3h0M1226.9 1341.8h0M1522.7 1333.9h0M1395.3 1331.8h0M1548.7 1320.8h0M1405.3 1282.1h0M1141.8 1349.2h0M1647.2 1339.7h0M1408.8 1326.4h0M1585.6 1342.7h0M1704 1341.3h0M1179.4 1329.5h0M1413.5 1331.4h0M1265.6 1341.7h0M904.2 1328.5h0M912.9 1330.6h0M1725.3 1326h0M1260.4 1343.6h0M1668.9 1327.9h0M1525.9 1331.7h0M989.4 1338.5h0M1707.5 1335.4h0M1188.9 1321h0M1338.1 1322.5h0M1406 1337.1h0M1115.7 1327.8h0M1305.8 1337.4h0M1614 1344.4h0M1385.6 1337.8h0M1068.4 1348.1h0M1105.1 1338.7h0M1455.6 1314.8h0M967.4 1325.9h0M1528.4 1347.9h0M1009.4 1332.8h0M1216.5 1336.8h0M1451 1336.3h0M1482.9 1323.6h0M907.8 1348.9h0M1151.3 1344.6h0M1056.5 1318.6h0M1435 1344.8h0M1349.4 1333.5h0M1375.7 1339.9h0M1249.5 1342.2h0M1265.8 1340.6h0M1362.5 1296.8h0M1257 1338h0M1239.2 1321.5h0M1367.4 1346.9h0M1651 1333.3h0M1644.7 1328.6h0M928.8 1321.2h0M966 1345.3h0M1581.1 1337.3h0M1404.4 1051h0M1698.1 1343.3h0M1184.6 1337.4h0M1171 1310.8h0M1661.7 1341.7h0M1635.6 1327.1h0M1229.5 1317.1h0M1116.4 1343.9h0M1295.4 1325.1h0M1280.7 1333.6h0M1684.4 1335.6h0M1577.5 1337.7h0M1070.1 1331h0M1243.3 1345.1h0M1122.4 1338.7h0M1425.3 1347.9h0M1405.5 1293.2h0M1391.4 1334.3h0M1502.7 1320.5h0M1716.6 1331.3h0M1236.4 1330.5h0M1333.3 1325.8h0M1680.1 1343.6h0M1407.6 1333.4h0M1094.7 1335.1h0M1567.5 1341.4h0M1398.6 1338.5h0M1468.5 1346.9h0M1234.1 1335.7h0M958.2 1322.1h0M1429.8 1333.4h0M1390.9 1340.7h0M1008.9 1331.6h0M1403.9 1316.4h0M1116.2 1334.4h0M937 1347h0M1528 1332.3h0M1546.6 1345.1h0M1602.1 1334.9h0M895.6 1334.8h0M903.8 1343.8h0M959.5 1320.8h0M1604.4 1330.9h0M1039.7 1345.6h0M1558.4 1346.4h0M1643.1 1338.6h0M927.6 1331.6h0M968.4 1323.5h0M1555.8 1335.1h0M1727.6 1339.7h0M1225 1328.2h0M1428.2 1323.8h0M1252.8 1325.5h0M1501.8 1328.8h0M949.3 1336.5h0M1712.4 1332.1h0M1405.6 1127.5h0M1181.2 1329.2h0M1202.2 1343.5h0M1557.3 1303.4h0M1314.6 1336.5h0M1399.6 1299.6h0M1148.7 1333.5h0M919.7 1329.9h0M1052.9 1326.6h0M1596.8 1339.7h0M1309.3 1341.1h0M1367 1342.8h0M1327.9 1310.4h0M1084.9 1330.5h0M1360.2 1289.4h0M1115.2 1336.8h0M1702.9 1346.3h0M1507.5 1341.3h0M1486.6 1339.2h0M1573.8 1336.8h0M1028.4 1314.1h0M988.7 1341h0M1195.5 1319.3h0M1463 1335.4h0M1055.1 1331.5h0M1085.3 1297.8h0M1474.2 1335h0M1588.8 1347.1h0M1565.5 1331.3h0M1169.5 1325.7h0M1330.8 1320.1h0M1400.1 1348.8h0M1341.8 1341.5h0M1042.7 1340.1h0M1510.2 1318.9h0M1154.2 1344.7h0M1565.9 1341.3h0M1538.2 1306.5h0M1707.2 1326.7h0M1487.4 1342.6h0M1610.7 1331.3h0M985.4 1340.5h0M1081.6 1342.2h0M1528.8 1330.4h0M958.1 1341.8h0M1055.1 1343.9h0M1483.2 1347.5h0M1484.6 1338h0M1505.9 1333.4h0M1164 1334.7h0M1710.6 1329.6h0M1250.6 1338.5h0M1267.1 1344.2h0M1385.2 1340.1h0M1718.6 1335.5h0M1469 1346.9h0M1408.9 1349.6h0M1693.8 1341.2h0M1603 1335.2h0M1002.1 1331.6h0M1657.5 1322.7h0M1578 1296.5h0M1704.2 1346.1h0M1591.4 1342.9h0M986.2 1348.2h0M1000.3 1328.3h0M1150.7 1343.7h0M1104.7 1334.9h0M1151.5 1342.7h0M1449.6 1336.5h0M1365 1342.3h0M1493 1341.7h0M1710.5 1338.5h0M1410.9 1315.5h0M1558.6 1327.3h0M1493.1 1324.3h0M1403 1281.1h0M1123.5 1344.1h0M1685.1 1345.9h0M1258.9 1343.5h0M1100.1 1306.6h0M1443.4 1332.1h0M932.5 1326.1h0M1055.9 1334.6h0M1077.4 1322.7h0M1507.5 1344.1h0M913.5 1331.3h0M1000.6 1332.1h0M945.4 1333.9h0M1547.8 1324.7h0M1257.3 1310.4h0M1321 1330.6h0M1508.4 1329.6h0M1397 1339.6h0M1182.1 1308.2h0M1403.8 1281.7h0M1711 1335.3h0M916.4 1334.2h0M983.4 1333.3h0M1089.1 1325.3h0M1271.6 1335.1h0M1518.5 1330.2h0M1286.4 1334.9h0M1257.7 1327.4h0M1376.3 1338.3h0M1615.4 1342.9h0M1539.6 1321.3h0M941.6 1318.7h0M952.1 1316.2h0M1125.8 1345.6h0M1270 1336.3h0M1218.8 1344.5h0M1334.1 1330.1h0M1405.1 1209.6h0M1449.1 1338.9h0M1229.1 1335.7h0M988.3 1328.9h0M1656.7 1322.4h0M1670.5 1343.2h0M906 1333.6h0M1029.7 1325.6h0M1363.3 1339.1h0M1323.4 1315.5h0M1008.7 1343.6h0M1661.9 1321.6h0M1326.6 1339.1h0M1073 1335.6h0M1286.7 1331.4h0M1511.1 1339.2h0M1138.2 1342.3h0M1480.3 1330.8h0M1420.2 1345.2h0M1271 1347.8h0M1349.3 1348.4h0M1101.9 1324.8h0M1238.2 1341.5h0M1552.2 1338.2h0M934.5 1341.1h0M1126.1 1332.7h0M1054.6 1336.9h0M1276.5 1330.9h0M1422.3 1333.6h0M1646.4 1335.7h0M1523.3 1329h0M1022.6 1339.7h0M1366.1 1329.9h0M928.3 1328.3h0M1688.2 1338.7h0M1406.3 1313.3h0M962.3 1349h0M1114.8 1347.6h0M1525.5 1328.3h0M1470.8 1346.5h0M1322 1330.9h0M1169.6 1314.4h0M1440.6 1335.4h0M927.6 1340.5h0M1568.2 1311.8h0M929.6 1343.7h0M940.8 1335.2h0M1369 1342h0M1383 1344.7h0M925 1324.3h0M1283.8 1335.8h0M1213.6 1348h0M1174.8 1339.9h0M1480.8 1341.2h0M1412.6 1326.6h0M1575.4 1340h0M1429.2 1327.4h0M918.3 1324.3h0M1424.9 1300.9h0M1727.5 1343.6h0M1166.8 1344.4h0M1276.4 1336h0M1412 1337.4h0M1507.5 1340.6h0M1512.8 1345.5h0M1333.2 1340.2h0M1095.6 1330.2h0M1106.2 1338.6h0M1165.4 1332.9h0M1638.4 1329h0M1567.4 1328.4h0M1301 1337.5h0M1373 1349.2h0M1439.4 1347.2h0M1389 1320h0M1139.5 1326.9h0M1720.9 1322.8h0M1292.8 1300.8h0M1225.6 1336.7h0M1525.6 1338.4h0M1196.1 1340.6h0M990.8 1327.9h0M940 1336h0M1413.2 1341.6h0M1188.3 1327.7h0M1389.6 1335.9h0M903.3 1349h0M1050.2 1325.5h0M1339.4 1323.7h0M1286.4 1337.2h0M1620.6 1334.7h0M1407.7 1318.2h0M1356.8 1326.8h0M1656.8 1340.8h0M1633.7 1321.8h0M1351.8 1339.5h0M1001.7 1346.5h0M1543.7 1320.6h0M1381.5 1339.1h0M1413.5 1326.1h0M1582.4 1336.7h0M1125.7 1331.6h0M1609.1 1312.9h0M1303.7 1333.2h0M1682.4 1336.1h0M1152.5 1340.8h0M1405.4 1202.5h0M1068.6 1319h0M1662.6 1318.3h0M1069.9 1349.4h0M1252.8 1349.2h0M1352.2 1336.4h0M1724.4 1325.5h0M1458.5 1347.4h0M1276.2 1338.1h0M1152.8 1345.6h0M1197.6 1347h0M1405.9 1142.1h0M1329 1343.9h0M1725.5 1323.5h0M1600 1328.5h0M1006.5 1336.2h0M1451.9 1314.4h0M1659.6 1324.5h0M1409.6 1318.2h0M1649.8 1324.1h0M1710.2 1346.6h0M1539.9 1319h0M1714 1320.6h0M1006.8 1332.9h0M1657.5 1302.3h0M1211.5 1329.8h0M1561.9 1325.6h0M1136.6 1338.2h0M1650.5 1349.4h0M1724.1 1321.9h0M1552.7 1309.9h0M905.7 1349.2h0M916.2 1345h0M1464.6 1334.7h0M963.5 1334.7h0M1688.6 1332.7h0M1039.1 1342h0M951.7 1330.1h0M1253.1 1331.7h0M1640.4 1332.4h0M1357.3 1337.9h0M1043.4 1338.1h0M1360.9 1338.3h0M917.3 1336.7h0M1053.5 1326.3h0M1558.9 1347.7h0M939 1328.6h0M1340.4 1344.6h0M1569.7 1330.5h0M1367.2 1312.9h0M1146.5 1344.2h0M1405 1261h0M1635.2 1330.7h0M968.8 1273.2h0M1681.7 1342.9h0M1171.1 1323.3h0M1480.7 1337.3h0M1580.6 1344.8h0M1636.7 1344.6h0M1138.5 1342h0M925.8 1339.8h0M1727 1341.4h0M1676.5 1320.6h0M1075 1334.3h0M1300.5 1339.7h0M1405 1106.4h0M1261 1341.6h0M1081 1341.7h0M1316.8 1347.8h0M970.9 1254.4h0M1648.2 1347.5h0M1647.4 1330.9h0M920.2 1338.2h0M1142.2 1338h0M1570.1 1281.1h0M1544.2 1328.8h0M1000 1342.8h0M1351.2 1341.2h0M1390.6 1344.7h0M1044.1 1337.1h0M1267.9 1344.4h0M1384.9 1337.2h0M1016.6 1345h0M939.3 1339.8h0M1139.4 1344.2h0M1190.2 1339.9h0M977.1 1338.4h0M975.3 1330.7h0M957.4 1341.6h0M1705.6 1326.3h0M1465.4 1329.3h0M1697.6 1335.1h0M1677.2 1319.2h0M1385.9 1329.8h0M910.4 1348.2h0M1457.2 1334.7h0M1641.6 1341.1h0M1575 1348.9h0M1019.1 1318.9h0M1360.6 1326.6h0M925.6 1344.7h0M984 1290.3h0M1448.6 1337.2h0M1463.5 1338.9h0M1289.9 1324.8h0M1544.5 1329.1h0M1559.4 1335.8h0M1002.2 1341.1h0M927.2 1339.6h0M1173.6 1319.6h0M1182.3 1332.6h0M968.6 1323.1h0M1406 1201.2h0M1510.9 1338.5h0M1367.1 1318.5h0M1470 1329.3h0M1660.5 1348.4h0M1127.5 1319.9h0M1102.8 1336.3h0M907.2 1323.5h0M1490 1336.2h0M1695.6 1333.3h0M994.4 1335.2h0M1539.6 1334.7h0M1117 1345.8h0M1570.1 1292.2h0M1590.3 1343.8h0M1031.7 1338.5h0M1551.7 1346.2h0M1571.3 1337.9h0M1039.5 1347.7h0M1423.6 1340.7h0M1176.2 1345.7h0M1357.1 1334.1h0M1547.9 1342.7h0M1214.1 1347.8h0M1241.6 1339.1h0M1302.6 1338.6h0M1100.1 1347.3h0M1414.8 1343.6h0M1016.3 1340.4h0M1443.9 1325.3h0M1318.3 1346.9h0M1399.6 1288.9h0M1691.6 1344.3h0M985.8 1344.7h0M1216 1328.1h0M1002.6 1317h0M1570.2 1335h0M1486 1341.6h0M1015 1346.9h0M1607.1 1341.7h0M1586.2 1348.2h0M894 1324.8h0M1232.7 1312.8h0M1681.1 1318.1h0M951.6 1336.4h0M1436.2 1338.9h0M1123.6 1335h0M1462.3 1343.8h0M923 1345.5h0M1339.7 1338.4h0M1442 1329.9h0M1347.8 1333.2h0M1441.9 1322.6h0M1585.5 1335.4h0M1167.6 1342h0M1460.3 1318.6h0M1646.1 1344.4h0M1089.2 1322.6h0M1678.7 1346h0M1579.2 1341.4h0M1553.6 1312.2h0M1579.4 1345.9h0M1100.2 1349.9h0M1481.1 1342.9h0M1154.8 1345.5h0M1404.9 1223.3h0M1245.2 1340.2h0M982.6 1331h0M1585.1 1331.2h0M1688.3 1333.3h0M965.4 1303.2h0M1140.6 1332h0M974.2 1335h0M1349.4 1334h0M1580.7 1338.7h0M1440.3 1326.9h0M1349.2 1349.3h0M1135.5 1335.1h0M1045.9 1333.2h0M1308.1 1336.9h0M998.8 1343.7h0M1131.4 1320.1h0M1131.6 1344.5h0M1135.4 1346.6h0M1506.4 1343.9h0M1067.6 1333.9h0M1704.1 1301.7h0M1312.7 1342.4h0M1555.4 1320h0M1317.5 1346.9h0M1096.7 1342.6h0M1633.4 1331.3h0M1381 1330.3h0M1639.3 1347h0M1399.2 1335.4h0M1667.5 1323.8h0M1020.7 1343.7h0M1709.5 1340.7h0M1714.7 1343.4h0M951.8 1320.7h0M1219.7 1322.5h0M1523.9 1332.2h0M1273.3 1345.4h0M1585.9 1326.1h0M1119.7 1347h0M1126.9 1344.7h0M997.6 1345.3h0M1071.3 1317.2h0M1707.2 1332.1h0M1402.6 1334h0M1674.1 1323.9h0M1352.1 1344.5h0M1686.7 1337.4h0M1676.6 1343.9h0M1723.5 1327.9h0M1405.9 1276h0M1631.7 1330.2h0M1005.8 1337.7h0M1201.5 1316h0M1468.6 1343.5h0M916.4 1326.2h0M1571.7 1342.6h0M1154.6 1325.2h0M1435.2 1325.9h0M1669.8 1325.1h0M984 1284.8h0M1394.2 1342.4h0M1552.1 1345.4h0M1659.1 1340.9h0M1227.1 1333.5h0M1639 1335.6h0M1600.3 1321.5h0M1171.3 1312.7h0M1442.5 1328h0M1007.5 1335.9h0M1421.3 1335.9h0M1589 1343.4h0M1520.9 1314.8h0M1206.7 1345.9h0M1726.1 1324.2h0M1493.5 1317.9h0M1221.6 1317h0M1200.3 1326.7h0M1246.2 1340.8h0M975.4 1342.2h0M1557.2 1349.7h0M1368.6 1343.3h0M1305.5 1341h0M1370.8 1340.4h0M929.5 1349.7h0M1284.1 1328.2h0M1363.4 1327.5h0M1451.8 1331.1h0M1145.7 1335.8h0M1657.9 1336.7h0M1708.3 1348.7h0M1304.1 1345.6h0M1554.7 1324.1h0M1301.8 1341.1h0M1293.9 1332.1h0M1356.8 1328.5h0M1433.7 1343.5h0M1430.3 1343.8h0M1512.7 1316.2h0M1575.9 1344.7h0M902.8 1349.9h0M1499 1345.1h0M1200.8 1343.9h0M1219.8 1336.6h0M1585.5 1343.2h0M1016.6 1328.7h0M1366.9 1326.2h0M1309.7 1344.4h0M1144.5 1334.4h0M1541.8 1325.1h0M1169.6 1311h0M923.7 1341.7h0M1507.4 1335.7h0M1619.2 1319.1h0M942.8 1345.7h0M930.5 1337h0M1522.4 1341h0M1248.1 1346.8h0M1019 1330.9h0M961.5 1326.3h0M1005.5 1336.4h0M896.9 1347.8h0M1077.3 1303.9h0M1408.2 865.4h0M994.3 1336.7h0M1585.2 1337.3h0M1524.8 1330.4h0M1191 1335.5h0M1227.6 1344.1h0M1520.4 1328.6h0M1422.5 1338.8h0M1359.3 1346.9h0M1251.1 1337.2h0M992.1 1325.8h0M965.7 1323.4h0M1521 1343.1h0M1055.1 1330.3h0M1723.7 1334.6h0M920.1 1345.9h0M893.2 1329.5h0M1642.6 1344.6h0M1205.9 1333.6h0M1467.4 1333.3h0M1037.3 1336.2h0M1474.7 1339.2h0M1311 1332.6h0M1190.5 1340.8h0M1649.1 1335.9h0M1418.2 1348.5h0M1345.9 1323.1h0M1054.9 1305.7h0M1342.8 1322.8h0M1422.8 1345.2h0M1383.2 1331.9h0M1460.3 1334h0M1198.9 1341.6h0M1402.2 1315.4h0M1389.8 1336.6h0M1139.3 1336h0M1668.1 1329.1h0M1293 1326.7h0M919.6 1338.9h0M1376.3 1332.8h0M1077.2 1338.3h0M1495.7 1348.9h0M1067.2 1312.8h0M1616.5 1298.5h0M1245.5 1341.9h0M1281.5 1337.1h0M1091.6 1342.2h0M923.7 1332.8h0M1708.2 1343.1h0M1319.9 1347.1h0M1093.1 1326h0M925.6 1330.5h0M1262.8 1321.7h0M1072.7 1334h0M1243.2 1341.2h0M1450.5 1328.6h0M1310.3 1348.4h0M1040.2 1341.8h0M1727.2 1334.2h0M1573.9 1337.5h0M1067 1329.2h0M1437.8 1344.1h0M1004.8 1323.3h0M980.6 1332.2h0M1518.7 1324.5h0M1084.1 1330.2h0M1375 1324.3h0M1154.6 1347.1h0M1449.2 1346.5h0M1225.8 1333.8h0M1458.8 1341.4h0M1450.8 1329.6h0M1711.5 1338.1h0M1250.2 1335.6h0M1429 1345.9h0M1120.3 1331.3h0M1121.3 1342.8h0M1184.9 1334.2h0M948.1 1325.7h0M1059.8 1305.4h0M1046.9 1329.6h0M1205.7 1341.6h0M1086.5 1344.3h0M1549.7 1327.1h0M908.2 1314.4h0M1019.9 1347.2h0M1132.5 1337.1h0M1343.2 1330.4h0M1266.5 1332.8h0M1233.7 1317.6h0M933.2 1329.8h0M1304.1 1342.5h0M1465 1322.9h0M1560.3 1314.1h0M1240.9 1349.5h0M1094.4 1346.3h0M1406.1 1178.6h0M1136.9 1340.6h0M1660 1327.7h0M1411.8 1343.9h0M1295 1330h0M1588 1345.6h0M1253.2 1340.4h0M965.4 1334.8h0M1617.5 1340.6h0M1185.2 1345.8h0M1127.3 1344.9h0M1525 1340.7h0M983 1345.2h0M1059.5 1331.8h0M1381.1 1342.8h0M1519.3 1341.9h0M1033.2 1334h0M1108.8 1336.1h0M1206.6 1333.3h0M1621.8 1327.6h0M1009.9 1322.5h0M1633.1 1323h0M1126.6 1341.7h0M1545.1 1336.1h0M1440.4 1330h0M1555.4 1344.3h0M1080.2 1338.9h0M1349.1 1329.2h0M1153.8 1329h0M934.5 1335.6h0M1677.2 1321.8h0M1357.5 1340.9h0M1174.7 1340.7h0M1312.3 1336.8h0M1523.2 1344.6h0M1593.5 1325.5h0M1213.2 1339.1h0M908.4 1333.8h0M1348 1343.1h0M1351.2 1310.6h0M1341.8 1334.9h0M1626.3 1345.6h0M1304 1337.6h0M922.4 1337.4h0M1055.4 1328.3h0M1215 1322.8h0M1229.7 1321.2h0M1468.3 1338.2h0M1338 1323.1h0M1348.9 1344.4h0M1339 1339h0M1606.4 1331.5h0M1326.1 1336.6h0M1493.9 1329.1h0M986.4 1331.6h0M939.6 1347h0M1645.6 1336h0M1157.2 1338.1h0M1397.8 1337.8h0M1337.9 1326.8h0M1522.7 1334.5h0M1320.8 1334.2h0M1405.7 1178.2h0M1406.1 1345.6h0M1179.5 1326.7h0M1184 1349.2h0M1457.9 1336.9h0M1016.9 1337.2h0M914.5 1329h0M1086.5 1340.2h0M1645.8 1339.5h0M1464 1329.5h0M1087.6 1335.1h0M1001.9 1329.8h0M1068.7 1319.2h0M1500.2 1330.3h0M1555.8 1339.6h0M1681.8 1347.3h0M1002.2 1341h0M1592 1334.6h0M1406.2 1236.3h0M1412.9 1342.5h0M1561.6 1322.5h0M1402.5 1288.8h0M921.6 1323.3h0M1303.4 1331.6h0M1476 1335.2h0M994.6 1340.5h0M1279.5 1332.9h0M1408.6 1335.3h0M1648.8 1335.9h0M1041.3 1341.3h0M1123 1332.3h0M975.5 1343.6h0M1355.7 1333.9h0M1407.2 1244.3h0M1051.3 1337.8h0M1028.3 1328.6h0M1635.7 1328.9h0M1404.9 1319.9h0M1503.3 1323.4h0M1052 1343.9h0M1042.3 1340h0M1635.6 1328.2h0M1528.2 1344.7h0M1037.7 1347.3h0M1404 1204.3h0M1603.9 1330.6h0M1629.4 1294.6h0M1391.6 1336.1h0M1447.8 1341.5h0M1373.3 1347.6h0M931.9 1319h0M1538.5 1317.3h0M918.4 1334.3h0M1533.8 1331.2h0M1060.4 1335.9h0M1020.2 1339.6h0M1727.9 1339.4h0M1462.5 1319.8h0M1432.6 1321h0M1058 1316.3h0M1293.7 1340.5h0M1607.3 1338.7h0M1666.8 1340.1h0M1642.9 1341.7h0M1640.9 1323.5h0M1017.9 1336.3h0M958.2 1315.8h0M1081.3 1342.6h0M1438.8 1340.4h0M1668.3 1339.1h0M1132.8 1345.8h0M1644.7 1343.9h0M1532.1 1327.9h0M1427.2 1343h0M1406.6 1261.4h0M947.6 1326.5h0M998.8 1332.8h0M1466.7 1333.7h0M946.1 1314.4h0M1470.1 1342.5h0M1270 1342.9h0M1691.6 1330.4h0M1559.1 1345.7h0M1680.9 1339.4h0M1500.7 1333.5h0M1674.1 1321.8h0M1045.8 1339.8h0M1338.1 1342.3h0M1106.8 1341.9h0M1269 1325.3h0M1408.2 1284.4h0M1518.9 1327.1h0M1036.8 1332.8h0M931.1 1336.3h0M1583 1337.2h0M1631.3 1326.7h0M1647.4 1345.1h0M1398.2 1337h0M1464.4 1329.8h0M1708 1338.8h0M931.6 1327.9h0M1472 1334.6h0M1188.5 1340.3h0M1159.9 1334.1h0M1373.2 1338.6h0M1252.3 1319.8h0M1402.5 1343.4h0M1552.4 1338.6h0M1102.6 1336.9h0M1405.5 1281.2h0M1616.4 1334h0M1309 1335.8h0M1344.7 1330.1h0M1085.3 1334.8h0M1485.6 1348.2h0M1332.3 1348h0M1125.5 1306h0M1235.6 1322.7h0M1654.2 1341.1h0M962.5 1326.1h0M1292.9 1344.7h0M1484.2 1343.6h0M1041.9 1334.2h0M1440.7 1331.2h0M1370.5 1341h0M1032 1347.4h0M915.1 1327.4h0M1222.7 1317.5h0M926.2 1337.2h0M1598.6 1346.1h0M1351 1341.3h0M1018.5 1335.5h0M1568.1 1336.1h0M1725.3 1345.4h0M1249.2 1339.2h0M1348.5 1346.3h0M1345.3 1340.1h0M1482.3 1339.4h0M1582.1 1326.5h0M1406 1200.3h0M1680 1341.1h0M1483.6 1305.4h0M1312.3 1345.3h0M1405 1255.6h0M1131.2 1347.3h0M1404.9 1319h0M1404.7 1107h0M1658.8 1345.6h0M1287.3 1339.7h0M1108.6 1335.5h0M1226.1 1338h0M1111 1346h0M991.1 1326.2h0M1164.9 1337.2h0M1153.9 1337.6h0M1018.4 1335.1h0M1204.9 1346.4h0M1537.2 1309.3h0M1180.7 1320.4h0M1114.7 1339.2h0M1638.7 1332.6h0M1303.6 1323.1h0M936.6 1336.1h0M1660.9 1333.8h0M968.5 1324.3h0M1508 1345h0M1678 1342.8h0M1464.2 1333.6h0M915.3 1335.4h0M1250.7 1349.6h0M1356.7 1341.6h0M1158.1 1339.2h0M1670.3 1334.5h0M1169.3 1321h0M1105.3 1339h0M1642.2 1343.2h0M1437.6 1344h0M1278 1337.4h0M1482.4 1343.9h0M1559.6 1338.2h0M1497.7 1336.4h0M1527.9 1346.5h0M1534.9 1327.3h0M1546 1344.4h0M1722.9 1332.7h0M1508.4 1341h0M1687.5 1324.1h0M1051 1344.7h0M1500.5 1306.1h0M1676.7 1343.6h0M1585.8 1325.2h0M1137 1347h0M1368.9 1336.3h0M1359.2 1338.1h0M1223.6 1334.6h0M1024.9 1339.2h0M1025.7 1342.2h0M1437.3 1349.6h0M1721.9 1340.6h0M1341.6 1319.1h0M1031.4 1329.2h0M1602.3 1349.5h0M960.3 1315.4h0M1278.3 1329.1h0M1285.1 1321.8h0M1588.6 1329.9h0M1438.4 1338.5h0M1588.1 1332.9h0M972.9 1328.6h0M1073.3 1338.7h0M1165.6 1328.3h0M1661.1 1325.3h0M1104.1 1348.1h0M1019.6 1327.9h0M1154.6 1347.5h0M1393.1 1329.5h0M1587.1 1341.1h0M1702.3 1334.2h0M1314.6 1346.7h0M1207.1 1340.4h0M1330.8 1307.7h0M1620 1332.2h0M1396.5 1333.4h0M1106.3 1339.3h0M1408.9 1333.5h0M1667.6 1328.7h0M1685.6 1328.2h0M1326.1 1339.8h0M958.3 1324.5h0M989.3 1318.4h0M1344.3 1316.7h0M1671 1297.9h0M1278.4 1332.6h0M970.9 1294.3h0M1405.4 1181.8h0M1206.7 1331.8h0M1291.7 1321.3h0M915.1 1331.5h0M1434.3 1331.5h0M1479.8 1341.8h0M1728.5 1342.1h0M1274.1 1330.1h0M1609.5 1343.6h0M1578.6 1343.2h0M1020.9 1345.4h0M912.5 1330.7h0M1123.9 1339.6h0M1601 1333.6h0M1537.5 1333.4h0M1683.5 1345.4h0M1614.6 1325.9h0M1658.3 1325.5h0M973.1 1333.8h0M1415.1 1330.1h0M1115.9 1328.4h0M1496.4 1336.6h0M1698.7 1338.7h0M1302.5 1344h0M1513.3 1343.6h0M1024.5 1341h0M1489.7 1347.3h0M1257.4 1326.9h0M1489.1 1336.8h0M1098.8 1331h0M934.2 1317.3h0M1605.4 1346.4h0M1018.7 1332.1h0M1317.8 1337.5h0M1580.7 1336.2h0M909.8 1343h0M1067.9 1345.5h0M1590.1 1337.8h0M1613.4 1327.1h0M1109.9 1347.4h0M1350.9 1339.1h0M1498.2 1326h0M1384.5 1330h0M1553.3 1323.2h0M1626 1308.9h0M952.2 1334.7h0M1704.9 1321.4h0M1636.8 1343.1h0M1191.9 1323.7h0M1677.6 1339h0M1176.8 1341.3h0M1406 1183.2h0M1380.5 1333.3h0M1473.6 1337h0M1094.3 1333.9h0M1237.6 1345.8h0M1405.3 1301.2h0M1505.4 1341.3h0M1650.2 1336.3h0M978.4 1336.4h0M1700.4 1337.7h0M1333.6 1324.8h0M1232.7 1341.9h0M1119.8 1348.9h0M932.1 1324.9h0M1175.1 1336.9h0M1095.1 1319.2h0M1261.3 1340.2h0M1514.4 1327.6h0M1430 1338.5h0M1524.5 1330.6h0M1122.9 1341.5h0M1696.2 1335.4h0M1627.3 1344.7h0M1609.8 1335h0M1240.6 1340.5h0M1264.5 1342h0M1156.8 1334.4h0M1204.3 1333.3h0M937.1 1333.4h0M913 1332.3h0M1022.9 1329.8h0M1147.2 1338.5h0M1498.7 1337.5h0M1628.1 1318.2h0M1068.9 1316.5h0M1091.2 1334.7h0M1022.8 1346.3h0M996.3 1330.6h0M1410.5 1321.4h0M1642.3 1332.3h0M1213 1299.7h0M944.5 1322.1h0M1433.3 1330.9h0M1711.6 1339.4h0M1642.2 1343.3h0M919.8 1325.7h0M1016.2 1344.3h0M1554.7 1327h0M1008.3 1336h0M1643.3 1338.6h0M1557.9 1312.3h0M1195.2 1149.5h0M1039.6 1343.1h0M1229.8 1324h0M1646.8 1348.6h0M1274.5 1346.2h0M1421.8 1338.2h0M1128.2 1323.1h0M1152.8 1349.4h0M1403.6 1323.4h0M944.5 1339.7h0M1156.4 1337.3h0M1388.8 1341.4h0M1232.8 1322.2h0M1213.6 1343.4h0M997.2 1343.2h0M1083.4 1345h0M1613.6 1340.8h0M1169.9 1309.1h0M1405.2 1112.3h0M1489.6 1344.7h0M1338.1 1332.7h0M1576.3 1341h0M1367.8 1331.7h0M1500.4 1321.1h0M1668 1336.5h0M937.5 1345.4h0M1060.6 1336.1h0M1281.9 1329.1h0M1307.8 1346.2h0M1411.1 1343.1h0M971.5 1345.7h0M1110.4 1333h0M1117.6 1331.5h0M1171.4 1331.7h0M1327.8 1322.9h0M1359.7 1323.9h0M1575.1 1345.5h0M1176.1 1320.2h0M1703.9 1334h0M1483.8 1327.5h0M1428.2 1341.4h0M1189.5 1335.6h0M1614.6 1303.8h0M1593.3 1330.7h0M1613.6 1327.9h0M1118.7 1336.6h0M1611.8 1338.6h0M1616.2 1348.3h0M1620.6 1345.9h0M1319.1 1335.1h0M1641 1345.9h0M986.5 1320.1h0M1216.9 1330.5h0M1197.5 1345.3h0M1386.8 1347.2h0M1437.2 1331.3h0M1621.2 1321h0M1077.3 1347.3h0M1406.7 1324.5h0M961.7 1323.8h0M951.8 1343.6h0M1668.7 1329.3h0M1248.4 1338.1h0M1175.9 1334h0M903.2 1349.6h0M1551.6 1342.2h0M1216.7 1334.9h0M1138.3 1344h0M971 1218h0M1404.5 1335.6h0M990.4 1315.8h0M1407 1337.8h0M990.6 1339.3h0M1636.7 1333.6h0M1165.7 1310.9h0M1346.4 1336.5h0M1184.5 1340.4h0M1077.5 1346.5h0M1155.6 1345h0M1311.7 1330.6h0M994.2 1329.4h0M1683.1 1327h0M1345.2 1332.6h0M1041.2 1340.3h0M912 1333.3h0M1578.4 1336.7h0M1470.3 1333.7h0M899.1 1334.3h0M1450.3 1334h0M903 1344h0M959.3 1318h0M1276.3 1343.6h0M1683.9 1340.1h0M1706.4 1340h0M1117 1321.6h0M940 1324.2h0M1401.7 1305.1h0M1504.6 1333.4h0M1388.8 1330.5h0M923.3 1339.2h0M1106.7 1335h0M1065.5 1338.1h0M1711 1342.9h0M1485.7 1335.9h0M1499.8 1343.9h0M1229.6 1339.8h0M1024.9 1339.9h0M931.9 1346.9h0M1014.6 1344.9h0M1065.7 1312.5h0M1306.5 1339.1h0M1703 1344.1h0M1008 1339.8h0M1287.4 1327.5h0M1463 1349.4h0M1200.7 1343.7h0M1261.7 1329.8h0M1661.4 1342.5h0M910.4 1333.9h0M1130.7 1341.4h0M1350.2 1339.7h0M1667.1 1345.1h0M1428 1336.9h0M1718.6 1320.6h0M1523.1 1337.7h0M952.3 1316.6h0M1720.2 1349.7h0M1707.4 1321h0M968.4 1340.5h0M1538.4 1343.1h0M1078.6 1333.9h0M1082.8 1344.3h0M1656.9 1313.9h0M1364.4 1336.5h0M1403.8 1155.6h0M1702.6 1339.5h0M1505.2 1332.1h0M1173.9 1341.5h0M1057.1 1330h0M1345.9 1325.1h0M1638.4 1331.2h0M1406.7 1269h0M1304.3 1329.7h0M1270.7 1340.5h0M1567.8 1341.7h0M1294.8 1334.1h0M1559.5 1326.4h0M1266.5 1326h0M1525.9 1323h0M1728.8 1334.2h0M907.9 1344.5h0M1702.7 1336.9h0M1293.5 1331.6h0M1637.4 1334.7h0M1369.4 1336.9h0M1044.9 1345.5h0M1534.3 1338.6h0M1289.7 1325.6h0M1002.8 1327.7h0M1649.9 1334.8h0M1517.6 1336.9h0M955.9 1333.8h0M1100.7 1341.2h0M1468.6 1331.7h0M1389.2 1336.9h0M1385.8 1340.8h0M1404.5 1227.5h0M1634.9 1346.6h0M1692.2 1330.3h0M1446 1324h0M1436.9 1337.4h0M1664.7 1338.5h0M933.7 1336.7h0M912.4 1322.5h0M1290.3 1315h0M1489.2 1340.7h0M1115.1 1332.9h0M1309.5 1346h0M1449.2 1333h0M1178.8 1336.5h0M1052.3 1343.4h0M983.2 1345.3h0M1299.9 1336.6h0M983.1 1349.1h0M990.2 1324.8h0M1489.2 1340h0M1612.9 1339.3h0M1584.3 1336.8h0M927 1341.3h0M1357.5 1331.2h0M1371.8 1324.8h0M1260 1333.7h0M1235.1 1348.5h0M1555.8 1347.3h0M1280.1 1334.4h0M1411.3 1334.5h0M955.7 1322.8h0M1268.3 1327.5h0M1076.5 1322.4h0M1405.8 1228.2h0M1534.5 1317.1h0M1517.7 1347.3h0M1315.1 1345h0M981.7 1335.4h0M1322.7 1331.5h0M918.5 1339.2h0M1395.5 1340.6h0M1405.5 1108.9h0M1035.5 1335.1h0M1436.9 1324.5h0M1132.4 1302.5h0M1329.6 1330.2h0M971.3 1067.2h0M1648.3 1341.4h0M1207.1 1334.8h0M916 1304.2h0M1138 1344.8h0M1222.8 1342.4h0M1498.4 1321.5h0M1709.9 1331.4h0M1402 1349.1h0M1692.9 1337.7h0M1146.7 1326.8h0M1532.9 1341.2h0M1077.8 1348.9h0M968.8 1328.3h0M1067.1 1346h0M1550.4 1340.3h0M1149.5 1337.4h0M1645.2 1319.1h0M976.1 1328.9h0M1158 1340.1h0M1632.6 1345.6h0M1252.3 1344.3h0M1386.1 1320.4h0M926.9 1343.4h0M1572.1 1298.5h0M920.5 1326.2h0M1347.8 1342.1h0M1545.7 1349.7h0M1128.4 1330.6h0M1424.9 1343.2h0M1059.4 1343.6h0M1460.9 1327h0M927.8 1321.4h0M1495.1 1329.5h0M1115.4 1339.6h0M1177.9 1343.8h0M1146.6 1333.4h0M1716.7 1314.9h0M1290 1344h0M910 1334.4h0M1308.8 1333.1h0M1366 1347.5h0M1242.3 1340.6h0M986.6 1325.6h0M1171.8 1328.9h0M1443.5 1327.9h0M1698.2 1334.2h0M942.1 1349.4h0M1266 1291.1h0M1404 1330.7h0M1590.6 1320h0M1180.6 1336.2h0M899 1344.7h0M1275.6 1335.2h0M1630.3 1328h0M901.5 1332.2h0M1369.2 1322.6h0M1441.1 1341h0M1168 1312.4h0M1267.7 1336.1h0M1434.8 1306h0M1415.1 1324.6h0M1649.1 1327.6h0M1295.3 1348.2h0M1587.5 1330.8h0M1480.6 1335.6h0M1199.1 1326h0M1037.1 1347.2h0M1289.9 1310h0M1204.3 1347.9h0M1438.3 1330.5h0M1409 1317.1h0M1177.2 1323.7h0M1023.4 1322.2h0M1138.5 1343.6h0M978.4 1338.5h0M1412 1330.7h0M1314.8 1348.6h0M1364.6 1317.4h0M1634.4 1338.9h0M1475 1342.1h0M1405.2 1243.9h0M1446.7 1330.8h0M1605.1 1345.6h0M1509.5 1321.4h0M955.9 1338.8h0M1614.8 1329.1h0M1433.9 1344.7h0M990.6 1325.2h0M1175.9 1349.8h0M1425.3 1345.5h0M1298.9 1337.2h0M1481.7 1343.6h0M1462.5 1329.7h0M1440.6 1325h0M1615.3 1334.4h0M1037.9 1345.9h0M1699.4 1337.5h0M1527 1338.7h0M897.3 1337.6h0M1528.6 1327.2h0M1343.6 1327.8h0M1287.1 1336.1h0M1588.5 1331h0M1602 1349.9h0M913 1317.3h0M1609 1226.4h0M1598.2 1338.8h0M1288.9 1300h0M946.1 1332.9h0M1659.5 1331.6h0M1109.7 1347h0M1556.8 1340h0M990.9 1338h0M1421.8 1339h0M1520.4 1335.5h0M999.5 1343.8h0M1451.9 1338.6h0M932.4 1322.2h0M1478.9 1324.1h0M1152.4 1331.9h0M1431.4 1325.5h0M1374.6 1326.9h0M981.6 1335.2h0M1512.5 1345.6h0M1022.9 1344.4h0M1077.6 1337.6h0M1216.3 1348.9h0M1404 1302.3h0M1314.7 1340.3h0M1047.8 1321.5h0M1141.5 1334.5h0M1303.6 1334.2h0M1398.2 1343.1h0M1005.4 1346.5h0M943.5 1327h0M1233.9 1323.7h0M1104.4 1328.7h0M1406.6 1258.3h0M1661 1324.1h0M1325.8 1327.7h0M1691.7 1326.9h0M1375.3 1329.1h0M897.4 1336.5h0M1325.8 1343.2h0M1640.6 1340h0M1450.6 1334.6h0M1069.6 1338.7h0M1253.6 1328.5h0M1397.5 1325.8h0M1331.8 1344h0M1632.4 1340.4h0M1345 1330.4h0M1700.5 1334.4h0M1083.6 1345.1h0M1546.8 1325.6h0M1102.3 1341.5h0M1392.8 1330.1h0M1694 1335.1h0M990.9 1339.8h0M1549.6 1346.1h0M979.3 1336.1h0M978.3 1332.5h0M1195.9 1327.1h0M1363.6 1323.8h0M1405.2 1228.3h0M1243 1335.4h0M1164.8 1327.8h0M1084.9 1323.5h0M1668.3 1341.3h0M1727.8 1333.8h0M1040.1 1338.8h0M1670.3 1348.5h0M915.3 1309.7h0M1376.5 1341h0M1716 1333.9h0M1361.4 1288.8h0M913.8 1309.1h0M1697.2 1313.1h0M1628.1 1321h0M1053.9 1310.2h0M1138 1345.5h0M1585 1327.2h0M1156.8 1337.1h0M1070 1338h0M1406.9 1341.7h0M1534.1 1347.5h0M925.6 1310.4h0M1634.6 1335.3h0M1599.9 1333.1h0M1009.8 1347.4h0M1229.1 1342.3h0M1279.9 1347.2h0M914.5 1344.2h0M1101 1331.8h0M1676.2 1330.3h0M971.9 1310.6h0M1559.2 1348.2h0M1404.1 1256h0M1033.9 1329.1h0M1282.3 1334.6h0M1002.7 1325.7h0M1569.8 1312.4h0M1405.6 1143.7h0M1608.3 1334.7h0M1157.2 1341.7h0M901.4 1347.5h0M1353.9 1311.6h0M1135.6 1342.2h0M1613.5 1329.2h0M1619.5 1343.7h0M958.3 1295h0M929.7 1325h0M1111.1 1343.5h0M1072 1328.6h0M1581.1 1328.8h0M1078.5 1325.1h0M1239.3 1341.4h0M1185.4 1326.6h0M1504.7 1325.8h0M1139 1343.9h0M1191.9 1327.4h0M1120.5 1324.3h0M1133.8 1328.9h0M1622.7 1332.4h0M943.8 1335.7h0M1347 1343.7h0M1260.4 1322.8h0M1555.6 1332.9h0M1328.6 1308.2h0M1101.7 1343.4h0M1081.9 1326.1h0M1173.7 1327.4h0M1636.5 1344.9h0M1287 1330h0M916.3 1338.2h0M1404.6 1261.6h0M1333.3 1318.2h0M899.7 1332.1h0M1141.4 1348.8h0M1249.3 1322.1h0M1033.1 1331.4h0M1043.6 1347.9h0M1668.1 1326.2h0M1441.6 1338.4h0M1720.3 1325.1h0M968.5 1334.4h0M1637.6 1346.7h0M928.1 1328.4h0M1402.2 1311.6h0M1701.2 1334.1h0M1399.5 1315.9h0M1715.2 1333.9h0M1468.3 1334.1h0M1353.1 1341.8h0M1552 1327h0M1184.1 1329.8h0M1253.3 1334.4h0M1073.4 1342.3h0M1438.7 1332.2h0M1676.2 1314h0M1570.9 1346.6h0M1702.4 1283.1h0M1586.9 1335.1h0M1139.7 1321h0M1501.5 1339.5h0M1366 1300.5h0M1716.8 1344.9h0M1409.8 1321h0M1458.5 1337.1h0M1089.3 1342.4h0M998 1336.7h0M1505.5 1338.5h0M1333.8 1325.2h0M1460.4 1334.3h0M1382.3 1347.4h0M1413.7 1337.1h0M1721.3 1317.9h0M917.8 1324.6h0M1021.2 1339.3h0M1017.1 1337.5h0M1329.8 1339h0M1165 1339.4h0M1132.6 1336.3h0M1091.3 1281.9h0M1430.6 1340.7h0M1290.5 1320.5h0M1215 1349.1h0M1577.3 1343.3h0M1148.6 1341.9h0M1612.8 1328.4h0M1438.6 1343.7h0M1224.7 1338.4h0M1717.8 1341.5h0M1681.5 1339.8h0M1407.2 1209.2h0M1333.2 1346.9h0M1053.1 1342h0M929.8 1340.6h0M1692.1 1335.1h0M1502.7 1326.6h0M1092.4 1315.8h0M1104.8 1344.6h0M1079.9 1333.4h0M1613 1346.9h0M1472.5 1330.4h0M1037.6 1349.5h0M1207.5 1340.5h0M1070.6 1342.1h0M1034.3 1330h0M944.6 1329.9h0M1382.1 1348.7h0M1045.9 1344h0M1238.4 1343.3h0M1178.5 1322.1h0M1095.5 1328.1h0M1459.6 1331.1h0M1077.5 1314h0M1482.5 1344.1h0M1046.6 1326h0M1081.5 1321.9h0M1252.4 1343.9h0M1597.6 1347.5h0M1169.4 1348.5h0M978.3 1324.6h0M1205 1339.3h0M1621.6 1312h0M1398.2 1334.6h0M1008.8 1348.5h0M1420 1342.2h0M1468.4 1336.5h0M1033.9 1335.8h0M1014.1 1345.9h0M1075 1333.9h0M1627.1 1338.1h0M1601.1 1341.8h0M1234.2 1337.2h0M938.2 1335.5h0M1680.1 1330h0M1157.7 1338.3h0M1307.7 1345.8h0M1446.7 1338.5h0M1152.8 1321.5h0M1489.2 1343.9h0M1327 1345.5h0M1423.5 1345.9h0M1468.1 1329.7h0M1137 1340.7h0M1647.9 1340.6h0M1666.5 1329h0M974.2 1330.2h0M1310.7 1344.7h0M950.9 1320.8h0M1429.7 1326h0M1422.6 1335.3h0M1106.5 1344h0M1242.3 1339.2h0M1579 1337.6h0M1015.5 1338.8h0M894.1 1315.2h0M1515 1330.2h0M1658.3 1340.5h0M1100.9 1346.3h0M1332.6 1328.5h0M1687.9 1306.8h0M1234 1329h0M1604.7 1345.8h0M1203.9 1348.7h0M1235.8 1342.1h0M1132.1 1340.7h0M901.5 1344.7h0M1558.3 1347.2h0M1438.7 1347.2h0M1166 1345.4h0M1137.8 1346.5h0M1332.1 1330.2h0M987.2 1318.2h0M1476.9 1325.7h0M1713.3 1317.9h0M1606.1 1330.3h0M1310.4 1342.3h0M1185.7 1345.8h0M1274.4 1325.5h0M1171.2 1322.5h0M915.4 1332.1h0M1497.7 1322.9h0M1571.6 1325.7h0M1584.5 1336.1h0M1643.7 1321.3h0M1163.8 1317.6h0M1044.1 1341.5h0M1318.7 1344.4h0M938.9 1331.6h0M1405.1 1297.6h0M1130.3 1344.1h0M1424.7 1333h0M1706.2 1342.3h0M1151.5 1330.4h0M977.3 1323.7h0M905.7 1345.6h0M956.8 1322.4h0M1535.7 1326.1h0M1593.3 1336.6h0M1469.3 1330.9h0M955.7 1308.5h0M967.7 1328.1h0M1125.4 1331.4h0M1260 1329.5h0M1708.4 1349.3h0M999.5 1335.1h0M1117.8 1333.3h0M1003.2 1336.3h0M1167.3 1322.9h0M1725 1326.6h0M1466.1 1332h0M1413.3 1328.2h0M947.4 1339h0M1497 1346.7h0M1601 1319.7h0M1037.4 1336.4h0M1007.1 1337.8h0M1503.9 1312.7h0M1087.2 1320.3h0M1497.5 1337h0M1650.1 1333.5h0M1685.7 1269.9h0M1080.8 1341.7h0M1422.9 1336.2h0M976.4 1332.2h0M1332 1331.3h0M1536.6 1331.5h0M1241.4 1340.1h0M1522.1 1344.9h0M1001.1 1316h0M990 1336.9h0M1369.8 1335.2h0M1257.6 1327.7h0M1258.3 1342.7h0M1344.3 1340.2h0M1725.9 1344.9h0M1716.5 1300.7h0M949.5 1325.7h0M924.7 1328.8h0M1309.6 1337h0M1686.5 1320h0M1222.3 1322.9h0M1494.2 1346.1h0M975.9 1347.1h0M1726 1333.3h0M1079.4 1323.1h0M1421.3 1336.3h0M1201.5 1304.2h0M1604.2 1337.5h0M961.4 1305.3h0M1275.6 1339.6h0M1361.4 1327.1h0M1309.2 1344h0M1046.2 1343.1h0M1235.8 1348.5h0M1538 1320.8h0M1403.3 1334.9h0M1252.6 1342.4h0M1387 1337.7h0M1374.1 1346.4h0M1552.4 1346.5h0M1119.3 1331.6h0M981.4 1333.5h0M1588.2 1332.4h0M1009.3 1333.9h0M1163.8 1327.4h0M1615 1328.9h0M1082.3 1345.4h0M1013.8 1328.2h0M1540.5 1337.6h0M1032.6 1336.3h0M1576.5 1333.4h0M1093.8 1341.7h0M1692.5 1345.7h0M990.8 1340h0M980.8 1324.2h0M1148.1 1348.9h0M1715.6 1311h0M1663 1340.7h0M1061.3 1340.9h0M1607 1337.3h0M1489.9 1335.2h0M1131.1 1337.5h0M1233.4 1325.3h0M1114.7 1331.9h0M1326.7 1328h0M1340.9 1327h0M1401.2 1343.6h0M1482.4 1334.9h0M976.3 1342.6h0M1412 1337.5h0M1488.5 1326.6h0M1591.6 1349.4h0M1177.6 1328.6h0M1450 1334h0M1022 1323h0M1404 1251.5h0M899.2 1331.2h0M1464.8 1348h0M1111 1340.6h0M1554.5 1345.4h0M982.5 1334.1h0M1216.8 1323.2h0M1538.1 1339.2h0M1535.4 1343.5h0M1569.8 1332.5h0M1404.3 1268.7h0M1476.2 1339.6h0M1394 1327.7h0M1340.7 1325.2h0M1340.5 1328.6h0M1494.4 1329.3h0M896.8 1340.7h0M1051.3 1335.3h0M1618.9 1327.1h0M1461 1319.9h0M1697.4 1348.9h0M1276.5 1332.6h0M1700.4 1344.9h0M1443 1342.4h0M1584.9 1344.6h0M1066.3 1349.2h0M1103.3 1332h0M1050.5 1326.5h0M1473.2 1344h0M1159.6 1344.7h0M1266.1 1348.2h0M1278.7 1328.5h0M1033 1330.1h0M1484.3 1322.1h0M1117.8 1347.2h0M1122.4 1331.3h0M1506.9 1343.7h0M1388.6 1329.5h0M1284.1 1326.6h0M1239 1349.3h0M1079.8 1319.9h0M1641.4 1334.6h0M1656.5 1330.6h0M1462.9 1334.7h0M1449.6 1338.5h0M1212.9 1349.1h0M1200.4 1333.6h0M1523.4 1344h0M1571.1 1340.9h0M940 1347.1h0M894.9 1333.5h0M1331.2 1344.2h0M1271.6 1328.4h0M1639.6 1332.6h0M1245.2 1349.6h0M1092.3 1340.1h0M1217.7 1338.6h0M1436.6 1332.7h0M1149.1 1334.8h0M1710.5 1334.4h0M1282.3 1335.3h0M1716.9 1345.7h0M1519.2 1337.3h0M1024.2 1337.8h0M1343.6 1339.9h0M1535.1 1322.7h0M1140.9 1348.2h0M1180.3 1337.6h0M1029.1 1329.7h0M1697 1332.4h0M1189.1 1336.9h0M1374.4 1339.8h0M1599.9 1318.4h0M1556.9 1340.4h0M1658 1309.7h0M908.8 1348.5h0M1716.5 1333.9h0M1339.1 1331h0M1448.4 1336.2h0M1131.4 1325.7h0M1379.8 1342.2h0M1000.8 1317.8h0M1471.1 1342h0M1360.6 1347.5h0M1628.7 1340h0M999.2 1336.4h0M1125.3 1338.9h0M1346.3 1345.4h0M974 1328.6h0M1180.5 1321.1h0M1642.2 1336.7h0M1009.7 1336.5h0M919.7 1323.9h0M1631.6 1335.8h0M914.6 1335h0M962.9 1294.5h0M1268 1338.2h0M1186.2 1331.3h0M1510.3 1349.7h0M899.8 1341.9h0M1583.8 1338.9h0M1602 1334.7h0M897 1328.2h0M1347.6 1335.4h0M1637.8 1331.2h0M1008.3 1341.5h0M1267.5 1311.1h0M1153 1342h0M1711.8 1334.8h0M1221.5 1349.3h0M961.3 1335.5h0M1058.4 1322.8h0M1704.9 1345.4h0M1126.9 1339.2h0M1638.8 1327.8h0M1281.8 1347.5h0M1383 1332.8h0M1050.3 1341.7h0M1363.5 1316h0M1189.8 1329.8h0M1494.2 1346.4h0M1019.7 1343.3h0M1585.5 1333.7h0M1135.1 1346.7h0M1285.2 1335.5h0M928.5 1331.8h0M1170.2 1333.9h0M1724.7 1316.9h0M1404.8 1249.1h0M1091.7 1338.4h0M1674.6 1337.5h0M1497.1 1348.7h0M1127.6 1297.4h0M1573.7 1336.8h0M1278 1346.7h0M1590.8 1341.7h0M1270.2 1330.7h0M1577.2 1345.7h0M1185.8 1342.2h0M1428.9 1341h0M1421.1 1332.8h0M1408.8 1345.4h0M1160.2 1330.5h0M1557.7 1324.2h0M1058.3 1340.6h0M1324 1309.5h0M1153.3 1348h0M1222.2 1299.3h0M1021.7 1328.6h0M1544.8 1320.8h0M1316.7 1326.3h0M1343.8 1318.5h0M1458 1342.1h0M1510.5 1344.3h0M1314.8 1327.6h0M1474.2 1336h0M959.8 1345.6h0M1360.6 1334.5h0M1167.5 1317.1h0M1070.4 1332.2h0M1401.7 1332h0M972.9 1339.3h0M1605.5 1339.6h0M1307.9 1348h0M956.7 1319.4h0M1507.6 1315.6h0M1300.7 1347.5h0M1234.9 1334.2h0M992.3 1319.7h0M1700.8 1329.6h0M1639.5 1321.9h0M1040.6 1335.5h0M1190.2 1327.8h0M905.7 1347.4h0M1609.6 1334.3h0M1591.3 1321.1h0M1249.1 1343.3h0M1194.9 1349.2h0M1616.9 1329.3h0M1706.4 1325.3h0M1060.6 1318.6h0M1397.5 1335.1h0M1527.8 1341.5h0M1427.5 1336.9h0M1545.6 1317.5h0M1713.3 1321.8h0M904.3 1325.8h0M1501.6 1204.7h0M1231.9 1335.5h0M1713.7 1310.6h0M1001.8 1337h0M895.7 1346.1h0M1380 1344.6h0M982.2 1335.9h0M1187.6 1324.5h0M1620.1 1335h0M1640.1 1341.3h0M1428 1336.8h0M1188.9 1325h0M1533.6 1324.9h0M1250.6 1322.7h0M1134.9 1333.6h0M1052.9 1346.5h0M1076.3 1329.1h0M1429.2 1340.8h0M990.3 1324.1h0M1000.3 1337.6h0M918.8 1329h0M1234.7 1342h0M973 1330.2h0M1237.8 1340.9h0M1395.5 1338.1h0M1325.5 1334.9h0M916.5 1326.6h0M1405.4 1276.7h0M923.6 1327.6h0M948 1321.4h0M1080.1 1324.4h0M1037.8 1341.6h0M1109.2 1324.7h0M934.8 1344.9h0M1568.5 1332.7h0M1414.4 1325.7h0M1494.6 1320.3h0M1357.9 1326.2h0M980.7 1332h0M1551.5 1336.5h0M1211.5 1317.6h0M1698.7 1346h0M1689.9 1328.7h0M1360.8 1347h0M1420 1329.3h0M1722.3 1349.9h0M1578.4 1342.4h0M1171.5 1312.7h0M1093.8 1307.2h0M1432.5 1324.6h0M912.3 1335.5h0M976.6 1340.6h0M1688.9 1346.2h0M1280.9 1331.5h0M1697.9 1327h0M1516.3 1337.4h0M1626.1 1322.1h0M1344.9 1295.9h0M1412.9 1339.8h0M1591.8 1311.2h0M985 1328.1h0M1290.7 1324.8h0M1026.1 1345.4h0M1407.2 1317.7h0M1438.4 1335.5h0M1726.1 1346.3h0M1720.8 1332.1h0M1248.3 1344.4h0M1141.3 1345.2h0M928.6 1326.9h0M1248.5 1344.4h0M1116.1 1340.8h0M1403.9 1317.4h0M1313.6 1341.9h0M1060.7 1340.5h0M1036.6 1342h0M967.5 1327.3h0M1583.6 1331.3h0M1383.2 1339.9h0M1354 1327.3h0M1100.9 1325.7h0M1694.5 1318.3h0M920.6 1329.9h0M1498.8 1342.9h0M1135 1336.8h0M942 1319.3h0M1536.7 1315.4h0M935.9 1345.2h0M1613.9 1349h0M1519.6 1318.4h0M1196.2 1342.7h0M1404.4 1326.1h0M1494.9 1339.1h0M970 1332h0M1164.4 1335.9h0M1714.2 1323.2h0M1101.5 1329.8h0M1099.8 1331.7h0M1465.6 1330h0M1172 1339.1h0M1682.2 1347.9h0M1660 1322.9h0M1027.5 1333.4h0M1277.9 1341h0M1626.4 1335.3h0M1669.9 1330.2h0M985.5 1340.4h0M1138.8 1338.4h0M1022.7 1335.3h0M1193.4 1326.8h0M1509.4 1347.3h0M965.3 1327.7h0M991.3 1324.6h0M1331.4 1343.1h0M1190.6 1348.3h0M1559.7 1321.7h0M1715.1 1336.4h0M1505.9 1340.9h0M1243.6 1343h0M1158.4 1335.6h0M1196.9 1344.7h0M1238.7 1331.4h0M1135.9 1346h0M1233.9 1342.5h0M1085.6 1347.7h0M1441.9 1344.8h0M1207.8 1334h0M1213.8 1305.2h0M1714.9 1339.4h0M958.4 1345h0M1080.6 1328h0M1143.3 1337.8h0M1522.2 1339.3h0M1727.1 1311.5h0M1461 1342.3h0M1406.1 1283.6h0M1246.8 1339.5h0M995.9 1348.6h0M1219.7 1326.8h0M1143.8 1336.4h0M1267.2 1339.6h0M1394.8 1344.4h0M1156.8 1329.3h0M1505.3 1342.3h0M1547.6 1334.5h0M1710.2 1337.6h0M1450.5 1314.1h0M1381.5 1334.4h0M910.2 1348.1h0M1688.2 1326.3h0M938.3 1343.5h0M1397.9 1335.9h0M1294.9 1324.1h0M1350.4 1345.8h0M896.5 1340h0M1029.1 1348.9h0M1406.1 1197.1h0M1150.3 1343.2h0M1324.9 1344.7h0M1591.6 1330.5h0M982.6 1349.5h0M1140.2 1329.4h0M1537.6 1347.5h0M1404 1288.8h0M1207.1 1306.5h0M976.9 1347.7h0M1017.9 1331.4h0M1072.9 1329.1h0M1323.2 1332.7h0M898.1 1341.9h0M1403.9 1250.3h0M1445.9 1316.8h0M1092 1316.2h0M1542.1 1341.4h0M1684.5 1340.3h0M1619.5 1333.7h0M1266.1 1325.2h0M1082.7 1326.7h0M1405 1261.7h0M980.5 1346.9h0M1430.6 1332.6h0M1287.9 1347.2h0M1674.8 1326.9h0M1612.8 1333.2h0M1497.4 1336.2h0M1405.4 1309.3h0M1373.9 1294.9h0M1657.1 1322.9h0M1706.6 1337.5h0M1083 1314.2h0M1468.3 1326.3h0M1052.5 1346.8h0M1240.9 1345.6h0M1456.8 1337.6h0M1446.7 1335.9h0M1682.9 1330.1h0M1277.2 1349.3h0M1685.1 1318.5h0M1075.4 1337.8h0M1382.2 1341.3h0M1603.8 1325.6h0M1018.2 1333h0M1572.8 1336.7h0M1110.8 1341.1h0M1675.3 1326h0M1601.4 1344h0M1320.8 1334.1h0M1680.7 1331.6h0M894 1336.2h0M1305.3 1345.6h0M1382 1336.6h0M1029.2 1330.9h0M1176.1 1347.6h0M1015.2 1340.5h0M1201 1339.2h0M1407.2 1333.9h0M1466.8 1309.3h0M1276.1 1344.4h0M1354.5 1347.1h0M946.1 1321.2h0M1664.5 1329h0M1262 1328.9h0M990.2 1348h0M1408.2 945.7h0M1236.9 1343.6h0M1090.5 1340.3h0M1566.2 1330.2h0M1318.7 1340.1h0M1565.6 1341.3h0M1179.9 1335.6h0M1072.5 1327.4h0M1411.6 1301.3h0M1057.4 1346.2h0M1290.4 1324.8h0M993.1 1343.4h0M1225.5 1341.3h0M1080.7 1345.4h0M955.7 1327h0M1363.1 1348.9h0M1158.3 1338h0M1225.9 1334.7h0M900.6 1340.3h0M980 1333.7h0M1219.8 1324.7h0M1069.6 1309.5h0M1033.3 1339.5h0M1042.1 1335.5h0M1402.7 1316.2h0M1140.6 1331.7h0M1203.7 1336h0M1177.6 1316.4h0M963 1313.7h0M1138 1346.2h0M1660.8 1343.8h0M1171.4 1339.7h0M1133.6 1341.7h0M1445.5 1339.9h0M1038 1341.2h0M951.2 1335.3h0M907.9 1347.9h0M1544.8 1330.6h0M1700.7 1336.7h0M1566.4 1329h0M947.5 1329.7h0M1446.7 1344.5h0M1208.2 1348.1h0M1095.2 1325.4h0M1050.8 1334.9h0M1520.6 1326.6h0M1451.8 1334h0M1143.5 1349.7h0M1171.2 1318.8h0M1462.8 1325.3h0M1098.3 1338.9h0M1154.7 1338.5h0M1315.7 1347.6h0M1054.4 1317.6h0M1223.5 1328.4h0M1046.5 1332.5h0M1446.1 1348.4h0M932 1339.9h0M1674.6 1312.2h0M1319.6 1339.7h0M1507.9 1336.7h0M1004.4 1331.8h0M976.7 1328.6h0M939.7 1319.2h0M1218.5 1337.5h0M1690.6 1324.3h0M1232.4 1345.2h0M1332.7 1322.5h0M1059.9 1319.2h0M1097.2 1338h0M1581.6 1332.3h0M1098.4 1331.4h0M1127 1341.2h0M1106.8 1336.9h0M1668.6 1334.7h0M904 1337.5h0M1313 1333.7h0M1512.1 1341.1h0M1231.7 1344.1h0M1367.1 1336.2h0M1206 1332.2h0M1383 1330.7h0M1231.9 1345.5h0M1198.4 1341.2h0M934.1 1326.6h0M1249.5 1334.1h0M1527.6 1326.1h0M1611.2 1333.1h0M1685.7 1333.1h0M1697.3 1332.8h0M1243.4 1338.7h0M928.5 1332.6h0M1299.7 1344.7h0M1538 1318.3h0M1617.1 1328.7h0M1561.8 1336.5h0M1328.6 1322.9h0M1527.8 1344.5h0M1282.9 1334.9h0M1271.2 1326.9h0M1586.8 1347.6h0M1341.3 1328.1h0M979.4 1346.8h0M1176.9 1333.8h0M1134.4 1340.5h0M1573.1 1332.8h0M1244.6 1337.4h0M1349.5 1345.2h0M1306.8 1323.2h0M1175.1 1347.1h0M1478.7 1315.1h0M1424.5 1339.2h0M1626.5 1330.5h0M1158.1 1333.6h0M1283.5 1344.1h0M1001.5 1336.8h0M1186.9 1333.9h0M1136.1 1333.1h0M1449.6 1343.8h0M971 1346.2h0M969.4 1303.1h0M1285 1345.1h0M1155.8 1338.8h0M1202.4 1344.8h0M1488.2 1336.2h0M1238.7 1347.9h0M1562.4 1349h0M1610.6 1344.3h0M1409.1 1293.6h0M1259.1 1334.9h0M1606.4 1325.1h0M1606.8 1339.4h0M1465.8 1347.4h0M1154.7 1345.1h0M1702.4 1339.9h0M1197.8 1327.2h0M1464.3 1326.9h0M1288.3 1342.5h0M1403 1309.8h0M1324.7 1332.3h0M898.8 1324.7h0M1298.9 1330.2h0M1188.8 1331.9h0M1085.9 1319h0M894.7 1350h0M944.6 1301.4h0M1554.5 1323.2h0M920.5 1321.2h0M1534.9 1324.8h0M1265.9 1337.5h0M1091.1 1320.2h0M1144.7 1346.7h0M1135.5 1342h0M1690.5 1344.4h0M1193.8 1345.9h0M1081.4 1332.9h0M1280.9 1333.3h0M897.4 1347.7h0M942.3 1346.3h0M959.2 1324.5h0M1146.6 1334.1h0M1054.1 1315.8h0M1681.2 1338.2h0M961 1326.2h0M1291.3 1346.9h0M1236 1349.3h0M1404.9 1180.3h0M1394.9 1339.7h0M1569.1 1299.4h0M1641.1 1343.4h0M1123.3 1330.4h0M1251 1342.7h0M1590 1325.1h0M1674.3 1340.5h0M1318.9 1344.6h0M1189.6 1344.8h0M1506.9 1342.3h0M1597 1337.9h0M1409.4 1326.9h0M1122.9 1335.6h0M1260.5 1333.8h0M1387.1 1342.9h0M921 1349h0M962.1 1317.1h0M1634.3 1291.6h0M934.2 1311.7h0M899.9 1345.5h0M1665.2 1309.7h0M1112.3 1269.8h0M1375.9 1330.4h0M1186.8 1313.5h0M1348.8 1331.8h0M1086.3 1320.1h0M1477.4 1333h0M968.3 1338.7h0M1272.1 1343.5h0M1348.9 1334.3h0M942.4 1292.9h0M1399.2 1337.4h0M1016.1 1332.5h0M1447.6 1326.6h0M1184.4 1330.8h0M1359.1 1336.7h0M1205.1 1331.8h0M1542.3 1324.2h0M1118.7 1333.1h0M1503.1 1326.9h0M1133.8 1340.2h0M902.7 1332.8h0M1191.4 1316.8h0M1403.2 1345h0M1583.5 1317.6h0M925.3 1308h0M1314.5 1340.5h0M1561.4 1342.2h0M1468.9 1324.5h0M1645.2 1294.6h0M1285.9 1328.4h0M1021.3 1346.9h0M1520.3 1340.7h0M1316 1339.2h0M1590.6 1329.4h0M1282.3 1346.8h0M1022.6 1313.4h0M1556.6 1342.5h0M1694.4 1334h0M1423.9 1327.1h0M1044.3 1344.2h0M1031 1345.6h0M926.5 1328.2h0M1084.5 1325.3h0M1393 1338.8h0M928.6 1329.3h0M1511 1330.3h0M1405.2 1112.3h0M1090.8 1349h0M1540.7 1332h0M1234.7 1346.2h0M950.7 1327h0M1029.4 1323.8h0M1549.2 1328h0M1591.6 1319.6h0M1719.9 1329.1h0M1504.3 1346.6h0M1687.8 1325.3h0M1488.8 1341h0M1599.5 1327.2h0M1095.8 1318.4h0M1340 1327.2h0M1390.2 1336.2h0M1139.6 1339.5h0M1405.4 1115.7h0M1220.8 1332.4h0M1558 1326.9h0M1251.6 1348.7h0M1638.6 1338.3h0M971.3 1053h0M908.6 1333.8h0M1021.6 1342.9h0M1290.4 1346.9h0M946.5 1319h0M893.7 1340h0M1407.3 1316.2h0M993.4 1344.4h0M1649.8 1339.3h0M1406.1 1231.6h0M1418.1 1349.3h0M1485.9 1344h0M1403.7 1278.3h0M1418.2 1337.9h0M1616.3 1346.2h0M1191.4 1348.5h0M1200.6 1335.1h0M1165.8 1345.4h0M1506.2 1336.5h0M1058.5 1326.6h0M897.8 1333h0M1405.4 1309h0M1136.2 1345.9h0M1649.6 1346.5h0M1067 1340.1h0M1103.7 1346.6h0M1276.6 1330.2h0M1251.1 1337h0M1369 1320h0M1705.8 1341.2h0M997.2 1342.4h0M1129.3 1344.9h0M1592.8 1299.1h0M1381.9 1328.1h0M1338.4 1334.5h0M1086.2 1349.8h0M1405 1277h0M1611.8 1339.1h0M939.7 1318.5h0M1495.1 1327.7h0M1098.4 1340.7h0M1187.2 1346.5h0M1438.4 1337.3h0M1409.8 1319.4h0M1513.9 1328.9h0M1327.7 1344.1h0M1195 1346.9h0M1484.1 1342.5h0M1661.9 1336.4h0M937.3 1327.5h0M973.6 1329h0M1725.9 1330.7h0M1715.6 1326.7h0M928.4 1343.2h0M1080.1 1344.3h0M1187 1332.1h0M1511.4 1333.6h0M1332.9 1347.8h0M1539 1339.6h0M1543.3 1343.6h0M1147.4 1347.7h0M1184.8 1324.3h0M1321.9 1347.9h0M1124.3 1325.5h0M1314.8 1345.5h0M1473.5 1347h0M1053.6 1307.7h0M1406.6 1277h0M1665.6 1327.3h0M1381.6 1338.9h0M1628.2 1335.5h0M1656.9 1346.4h0M1597.9 1337.6h0M1351.4 1338.2h0M1285.5 1328.1h0M1612.5 1341.3h0M1702.4 1275.8h0M1058.2 1332.4h0M1412.4 1331.2h0M1109.7 1334.1h0M1332.5 1320.1h0M1397.4 1329.6h0M1197.8 1320.6h0M1445.9 1328h0M1205.4 1336.3h0M1286.2 1334.2h0M978 1316.5h0M1105.2 1345.4h0M1043.8 1334.7h0M1339 1345.2h0M1214.2 1324.3h0M1031.6 1329.6h0M1721.7 1313.2h0M1020.6 1338.4h0M1006.4 1344.9h0M1648.6 1335.2h0M965.1 1348.2h0M1163.4 1343h0M930.8 1346.7h0M1567.6 1319.8h0M973.3 1325.9h0M1631.2 1329.2h0M1681.9 1343.6h0M1330.2 1342h0M912.7 1333.9h0M1017.3 1340.9h0M1079.6 1334.4h0M990.3 1313.5h0M962.8 1341.9h0M917.9 1335.5h0M1237.3 1346.2h0M1154.6 1347.7h0M1094.4 1337.4h0M1324.6 1344.9h0M1516.6 1338h0M1207.2 1334.6h0M1106.8 1335.6h0M1465.4 1343.4h0M1109.2 1336.3h0M1264.8 1327.9h0M1436 1327h0M1234 1327.5h0M1618.7 1334.8h0M1413.3 1327.5h0M1663.6 1329.8h0M1449.1 1331.4h0M1110.2 1344.5h0M965.9 1333.3h0M1276.1 1329.5h0M1240.6 1328.2h0M1686 1337.2h0M1287.5 1327.2h0M908.9 1341.7h0M1475.8 1339h0M970.4 1268.2h0M1406.9 1330.3h0M1292.8 1322.1h0M1675.1 1321.2h0M1580.8 1341.1h0M1702.5 1337.2h0M932.3 1321.8h0M1125.6 1323.7h0M1068.3 1337.2h0M1593.5 1347.2h0M1361.8 1337h0M1020.3 1330.6h0M1229.6 1320.7h0M1306.3 1334.6h0M1475.6 1338.7h0M1031.1 1334.2h0M1193.2 1327.5h0M1485.7 1333.3h0M1597.1 1343.9h0M1375.3 1337.6h0M1697 1329.7h0M1692.7 1340.9h0M1496.1 1335.8h0M1065.5 1327.7h0M929.1 1329.3h0M1516.2 1335.7h0M1091.9 1338.2h0M1519.5 1340.9h0M1656.5 1330h0M1114.5 1335.9h0M1398.4 1326.2h0M1685.2 1347.4h0M1447.5 1337.1h0M1677.6 1344.1h0M1071.7 1341.2h0M1375.8 1345.6h0M1165 1326.9h0M1165.6 1325.2h0M1200.6 1347.2h0M1325.3 1332.8h0M1133.2 1330.2h0M1045 1332.3h0M960.2 1324.8h0M955.9 1338.8h0M1192.8 1341.9h0M915.1 1332.9h0M1215.1 1339h0M1494.6 1344.7h0M1228.9 1333.1h0M1691.7 1329.9h0M1374.5 1337h0M906 1347.8h0M1146.6 1328.2h0M1569.1 1327h0M1187.2 1340.1h0M1118.4 1341.1h0M1304.3 1340.5h0M1621.1 1335.2h0M1019.3 1342.7h0M1380.4 1334h0M1699.7 1348.4h0M1478.4 1339.9h0M1187 1323.8h0M1718.7 1321.7h0M1460.7 1335.4h0M1104.8 1338.4h0M921.4 1340.2h0M1640.2 1337.1h0M1392.4 1332.4h0M1353.7 1346.5h0M1364.6 1328.7h0M1405.2 1284.9h0M1558.5 1307.7h0M1071.9 1339.6h0M1689.4 1344.4h0M1133.3 1332.7h0M1281.4 1344.1h0M1294.1 1339h0M1694.4 1336.8h0M1292 1326.3h0M925.6 1348h0M1434.1 1339.8h0M1608.9 1327.6h0M1098.1 1340.9h0M1295 1338.4h0M913.9 1321.8h0M1330.2 1349.6h0M1369.4 1337.2h0M1215.2 1325.8h0M1551 1323.9h0M1340.7 1349.3h0M944 1338.2h0M1205.6 1307.9h0M979.4 1344.1h0M1065.1 1323h0M1376.3 1326.3h0M1243.1 1346.4h0M1185.1 1320.8h0M984 1334.5h0M1419.3 1346.2h0M1408.5 1224.6h0M1095.4 1336.7h0M1333.9 1341h0M1104.4 1343.5h0M1543.2 1340.1h0M1136.5 1349.4h0M1313.8 1348.9h0M966.1 1330.8h0M1460.2 1336.3h0M1493.5 1338.5h0M1068.2 1334.9h0M1197.1 1337.1h0M1251.4 1333.9h0M973.7 1328.2h0M1518.3 1322.1h0M1406.2 1331.2h0M1471.9 1329.8h0M1247.9 1346.2h0M1683.4 1342.7h0M984.3 1343.5h0M1326.9 1338.2h0M1020.3 1336.8h0M1266.9 1318.2h0M1421.8 1332.5h0M1277.1 1327.7h0M1352.7 1349.2h0M1567 1320.4h0M1196.3 1337.6h0M1009.8 1344.7h0M1513.2 1335.9h0M988.7 1331.7h0M1226.4 1333.7h0M1178 1340.6h0M1435.4 1344.9h0M1632.2 1343h0M1438.8 1327.2h0M1591.3 1344.7h0M1262 1329.4h0M958.6 1347.7h0M1315.3 1344.3h0M1330.1 1344h0M1474.5 1333.2h0M909.4 1335.6h0M1556.2 1316.3h0M939.4 1328.9h0M1389.9 1345.7h0M1558.7 1346.9h0M1534.7 1333.7h0M1580.3 1306.8h0M1516.8 1341.6h0M1004.1 1346.7h0M1142.7 1343.1h0M985.2 1339h0M943.8 1322.5h0M1273.5 1318.4h0M1695.2 1348.3h0M1585 1336.9h0M1667.2 1325.4h0M1082.3 1321.7h0M1528.5 1326.1h0M1456.1 1342.2h0M969.8 1337.1h0M1014.4 1341.6h0M1051.2 1332.3h0M1241 1343.2h0M1028 1319.8h0M920.9 1339.3h0M1463.3 1318.2h0M1141.5 1342.2h0M1540.9 1326.3h0M1405.1 1133h0M1570.7 1325h0M1199.7 1296.8h0M1504.2 1329.2h0M1483.4 1339.5h0M1506.7 1300.1h0M1405.5 1274.2h0M1325.8 1345.6h0M1052.9 1326.3h0M1032.6 1343h0M1542.3 1338.2h0M1600.8 1315.4h0M1137.6 1326.3h0M1093 1348.6h0M1498.6 1305.9h0M1699.4 1343.1h0M1051.6 1322.1h0M1410.9 1305.5h0M1061.6 1313.4h0M1406.3 1193.1h0M1517 1343.7h0M1470.8 1348.9h0M1477.6 1331.8h0M1243.4 1348.8h0M1716.1 1344.9h0M1697.2 1318.9h0M1593.1 1333.6h0M1514.6 1342.8h0M1669.4 1337.4h0M1422.5 1333.8h0M1468.9 1332.6h0M1386.2 1342.2h0M1020.5 1330.2h0M1476.1 1345.4h0M1180.6 1335.6h0M1397.2 1309.3h0M1404 1304.8h0M1586.8 1339.6h0M1232.4 1340h0M1439.4 1330h0M1405.3 1339.1h0M1122.6 1341.3h0M928.3 1327.3h0M1411.5 1323.4h0M1380.4 1345.2h0M1187.9 1340.2h0M1516.2 1263.9h0M910.1 1330.7h0M993.8 1329.9h0M1223 1342.8h0M1667.6 1322.5h0M1374.1 1324.8h0M1677.9 1331.7h0M1327.2 1348h0M1603.3 1349.8h0M1363 1339.6h0M1402.1 1333.1h0M1291.6 1330.7h0M1372.3 1332.2h0M1617.6 1333.8h0M1179.8 1341h0M1620.9 1333.8h0M1202.7 1343h0M1476.9 1338.2h0M1406.4 1216h0M967.1 1326.6h0M922.5 1336.4h0M1537.5 1322.9h0M1457 1337.3h0M1507.2 1342.1h0M1035.8 1337.9h0M1536.1 1343.1h0M1474.5 1338.3h0M1097.7 1337.8h0M1071.2 1333.4h0M1728.1 1332.3h0M1553.7 1340.5h0M907 1334h0M1276.6 1338.7h0M955.6 1317.3h0M1100.3 1334.2h0M1048.6 1336.9h0M1697 1344.9h0M1039.3 1348.9h0M1285.3 1349.9h0M1426.6 1344.4h0M1244 1344.5h0M1055.1 1336.5h0M1226.2 1333.3h0M1365.2 1333.9h0M1637.5 1341.5h0M1061.2 1338.6h0M1155.7 1346.2h0M1265.5 1329.2h0M1376.1 1310.5h0M1406 1234.4h0M1142.1 1340.4h0M1343.7 1345.9h0M1604.5 1335h0M1221 1321.3h0M998.2 1348.9h0M1061.2 1340h0M1619.1 1321.9h0M1019.6 1345.5h0M1151.7 1333.5h0M1449 1334.7h0M990.4 1347.2h0M1321.5 1334.3h0M1698.8 1320.6h0M1407 1202.5h0M1082.8 1322.7h0M1603.3 1333.3h0M1456.2 1327.5h0M1045.1 1339h0M1555 1339.1h0M932.9 1317.6h0M1132.5 1336.4h0M940.3 1348.1h0M1041 1345h0M1368.3 1303.6h0M1098.3 1332h0M1206.6 1315h0M1132.8 1331.8h0M1676.3 1317.7h0M1312.3 1336h0M1241.5 1340.5h0M1324.7 1337.9h0M970.9 1299h0M1086.1 1332.8h0M1505.5 1329.1h0M1253.7 1325.5h0M1368.9 1343.8h0M1076.5 1341.1h0M1291.7 1331.6h0M1441.5 1329.6h0M1163.6 1340.8h0M1010.3 1344.6h0M1484.1 1341h0M1185.2 1339.5h0M1020.8 1340.7h0M992.2 1339.5h0M1648.3 1338.6h0M1307 1348.1h0M1053.8 1322.4h0M1411.8 1332h0M1433.8 1324.5h0M1510.1 1331.6h0M1022.3 1344.4h0M1545.6 1345.8h0M932.4 1342.7h0M1366 1339.9h0M1128.6 1333.8h0M1662 1344.5h0M961 1336.3h0M930.5 1332.3h0M1600.4 1315.3h0M1241.1 1346.1h0M1544.5 1334.3h0M1405.2 1303h0M1097.2 1335.7h0M1173.3 1338.7h0M1045.5 1347.5h0M1701.6 1342.3h0M1320.1 1340.1h0M1698.6 1329.4h0M1222.1 1330.7h0M1650.5 1334.4h0M1390.8 1329.6h0M1464.1 1327h0M1104.6 1333.6h0M933.8 1346.7h0M1177.4 1319.3h0M1668.1 1342.3h0M1340.8 1331.5h0M973.5 1304.9h0M1502.8 1319.6h0M1354 1344.4h0M1284.2 1332.1h0M962.9 1345.7h0M1657.8 1341.2h0M1486.1 1344.5h0M966.3 1346.5h0M1036.5 1346.1h0M1101.2 1320.5h0M1476.5 1336.1h0M1214.4 1310.6h0M951.5 1317h0M1349.2 1337.6h0M1713.3 1326.2h0M1352.3 1335h0M1127.9 1335.8h0M993.1 1333.5h0M1480.9 1337.3h0M970.9 1307.9h0M1475.1 1340h0M1213.5 1337.7h0M1039.9 1338.8h0M1670.3 1314.6h0M1171.8 1321.1h0M1044.6 1344.4h0M1666 1336.5h0M1139.7 1327.3h0M1325.1 1327h0M1102.7 1337.7h0M1388.6 1336.8h0M1553 1324.9h0M1535.4 1335.3h0M1232.5 1329.9h0M1725.9 1315.8h0M1276.5 1331.4h0M919.4 1330.2h0M1462.4 1333.8h0M1545.5 1339.1h0M1559.4 1339.4h0M1601.1 1327.4h0M1195.4 1312.3h0M1511.2 1337.8h0M1535.1 1310.2h0M1401 1347.8h0M1545.9 1336.4h0M1223.8 1316.2h0M1060.7 1346.8h0M1109.9 1338.2h0M1609 1345h0M1138.8 1335.4h0M1547.4 1328.7h0M1648.5 1347.5h0M1107.6 1335.9h0M1413.7 1331.3h0M1388.7 1335.4h0M1299.5 1337.8h0M1318.7 1333.7h0M1726.1 1342.4h0M1187.6 1331.2h0M1407.7 1307.1h0M1175.5 1328.9h0M1084.3 1324.1h0M1258.7 1325.6h0M1143.3 1327.3h0M1425.7 1337h0M1030.6 1339.3h0M1067.1 1332.6h0M1631.2 1316.4h0M1316.6 1339.5h0M1409 1319.8h0M1168.9 1332.2h0M1715.7 1335.2h0M1264.3 1339h0M1666.1 1335.4h0M1523.9 1345.9h0M1086.1 1314.1h0M1120.9 1330.9h0M1105.8 1327.4h0M1550.8 1343.5h0M1525.3 1315.2h0M1096.1 1340.6h0M903.8 1336.3h0M1510.8 1338.1h0M1422.6 1335.4h0M1716.1 1337h0M1037.4 1345.8h0M1613 1315h0M1130.9 1334.1h0M923.5 1326.7h0M1468.4 1329.4h0M1203.8 1340.1h0M1321.3 1331.8h0M1207.9 1349.9h0M1639.1 1329.5h0M1017 1329h0M1574.7 1337.2h0M1110.2 1338.7h0M921.5 1346.2h0M996 1342h0M1348.4 1333.8h0M1365.3 1321.3h0M1349.1 1342.5h0M1414.2 1344.8h0M1249.2 1338.2h0M1640.1 1331.4h0M1222.6 1336.5h0M1233.9 1317.4h0M1680.1 1329.8h0M1069.2 1322.7h0M1543.2 1349.2h0M942.6 1344.8h0M1496.8 1327.1h0M1367 1300.9h0M1413 1329.9h0M1627.7 1338.9h0M1201.9 1337.2h0M906.8 1335.5h0M1459.5 1332.7h0M958.4 1342.3h0M1621.6 1331.6h0M945.6 1319.7h0M1245.9 1341.3h0M1387.9 1341.9h0M947.5 1340.1h0M1188 1341.5h0M1357.4 1327.8h0M1207.4 1333h0M949.8 1335.5h0M1437.4 1334h0M1060 1315.3h0M1275.4 1343.1h0M1046.8 1324.1h0M1402.9 1286h0M931.1 1332.2h0M1362.8 1329.3h0M1154 1346h0M1513.4 1333h0M1059.4 1294.7h0M1004 1343.6h0M1404.3 1315.7h0M1502.8 1323.1h0M1703 1338.2h0M1366.7 1345.8h0M1669.5 1321.6h0M1109.4 1338.2h0M987.6 1303.1h0M1201.6 1334.8h0M1676.2 1328h0M1725 1310.4h0M1478.6 1310.3h0M1430.3 1334.2h0M1628.6 1329.1h0M1404.6 1331.2h0M1542.9 1345.6h0M1046.4 1332.9h0M1620.8 1333.2h0M1516.6 1338.8h0M935.9 1321.9h0M1666.9 1333.8h0M1701.8 1334h0M1727.1 1324h0M1636.2 1336.8h0M991.6 1320.2h0M1572.2 1336.4h0M1294.1 1329.4h0M1622 1348.8h0M1471.9 1338.5h0M1384.5 1345.4h0M997.5 1335.7h0M1555.3 1322.6h0M1218.5 1325.1h0M1284 1340.1h0M1405.3 1312.8h0M1431.6 1333.8h0M1434.2 1333.5h0M1243.5 1349.2h0M1718.3 1326.3h0M1226.9 1337.6h0M1658.4 1331.4h0M1546.2 1332.3h0M1461.4 1333.6h0M1228.3 1324.3h0M1639.3 1345.3h0M1333.6 1337.8h0M1602.7 1346.3h0"/></defs>
<g fill="none" stroke-linecap="round"><use href="#dpts" stroke="#8c2a2a" stroke-width="5.8"/><use href="#dpts" stroke="#d0321f" stroke-width="4.2"/></g>
<rect x="859.7" y="847" width="901.2" height="521" fill="none" stroke="#1c1c1c" stroke-width="3.6"/>
<path d="M850.8 1248.4H859.7M850.8 1080.8H859.7M850.8 913.1H859.7M891.4 1368V1377.2M954 1368V1377.2M1012 1368V1377.2M1063.3 1368V1377.2M1113 1368V1377.2M1161.8 1368V1377.2M1209.7 1368V1377.2M1255.4 1368V1377.2M1297 1368V1377.2M1336 1368V1377.2M1378.2 1368V1377.2M1416.6 1368V1377.2M1453.4 1368V1377.2M1491.5 1368V1377.2M1530.6 1368V1377.2M1564 1368V1377.2M1595.2 1368V1377.2M1624.3 1368V1377.2M1652.7 1368V1377.2M1672.6 1368V1377.2M1726.7 1368V1377.2" stroke="#1c1c1c" stroke-width="3.6" fill="none"/>
<text transform="translate(845.6 1248.4) rotate(-90)" font-size="23" font-weight="bold" text-anchor="middle" fill="#1a1a1a">5</text>
<text transform="translate(845.6 1080.8) rotate(-90)" font-size="23" font-weight="bold" text-anchor="middle" fill="#1a1a1a">10</text>
<text transform="translate(845.6 913.1) rotate(-90)" font-size="23" font-weight="bold" text-anchor="middle" fill="#1a1a1a">15</text>
<text transform="translate(926.2 1400.5) rotate(-90)" font-size="23" font-weight="bold" text-anchor="end" fill="#1a1a1a">1</text>
<text transform="translate(988.6 1400.5) rotate(-90)" font-size="23" font-weight="bold" text-anchor="end" fill="#1a1a1a">2</text>
<text transform="translate(1039.9 1400.5) rotate(-90)" font-size="23" font-weight="bold" text-anchor="end" fill="#1a1a1a">3</text>
<text transform="translate(1092 1400.5) rotate(-90)" font-size="23" font-weight="bold" text-anchor="end" fill="#1a1a1a">4</text>
<text transform="translate(1140.8 1400.5) rotate(-90)" font-size="23" font-weight="bold" text-anchor="end" fill="#1a1a1a">5</text>
<text transform="translate(1188.8 1400.5) rotate(-90)" font-size="23" font-weight="bold" text-anchor="end" fill="#1a1a1a">6</text>
<text transform="translate(1235.8 1400.5) rotate(-90)" font-size="23" font-weight="bold" text-anchor="end" fill="#1a1a1a">7</text>
<text transform="translate(1280.9 1400.5) rotate(-90)" font-size="23" font-weight="bold" text-anchor="end" fill="#1a1a1a">8</text>
<text transform="translate(1322.7 1400.5) rotate(-90)" font-size="23" font-weight="bold" text-anchor="end" fill="#1a1a1a">9</text>
<text transform="translate(1362.4 1400.5) rotate(-90)" font-size="23" font-weight="bold" text-anchor="end" fill="#1a1a1a">10</text>
<text transform="translate(1402.7 1400.5) rotate(-90)" font-size="23" font-weight="bold" text-anchor="end" fill="#1a1a1a">11</text>
<text transform="translate(1442 1400.5) rotate(-90)" font-size="23" font-weight="bold" text-anchor="end" fill="#1a1a1a">12</text>
<text transform="translate(1481.8 1400.5) rotate(-90)" font-size="23" font-weight="bold" text-anchor="end" fill="#1a1a1a">13</text>
<text transform="translate(1523.5 1400.5) rotate(-90)" font-size="23" font-weight="bold" text-anchor="end" fill="#1a1a1a">14</text>
<text transform="translate(1558.3 1400.5) rotate(-90)" font-size="23" font-weight="bold" text-anchor="end" fill="#1a1a1a">15</text>
<text transform="translate(1590.1 1400.5) rotate(-90)" font-size="23" font-weight="bold" text-anchor="end" fill="#1a1a1a">16</text>
<text transform="translate(1619.9 1400.5) rotate(-90)" font-size="23" font-weight="bold" text-anchor="end" fill="#1a1a1a">17</text>
<text transform="translate(1647.7 1400.5) rotate(-90)" font-size="23" font-weight="bold" text-anchor="end" fill="#1a1a1a">18</text>
<text transform="translate(1673.5 1400.5) rotate(-90)" font-size="23" font-weight="bold" text-anchor="end" fill="#1a1a1a">19</text>
<text y="1391" font-size="15.3" font-weight="bold" text-anchor="middle" fill="#1a1a1a"><tspan x="1674.3">MT</tspan><tspan x="1700">X</tspan><tspan x="1727">Y</tspan></text>
<text x="1271" y="1487.5" font-size="41" font-weight="bold" text-anchor="middle" fill="#1f1f1f" textLength="441.6" lengthAdjust="spacingAndGlyphs">Chromosome location</text>
<text transform="translate(805.2 1114.9) rotate(-90)" font-size="28" font-weight="bold" text-anchor="middle" fill="#1a1a1a">-log<tspan font-size="17" dy="7">10</tspan><tspan dy="-7">(P) value</tspan></text>
</g>
</svg>
</body></html>
